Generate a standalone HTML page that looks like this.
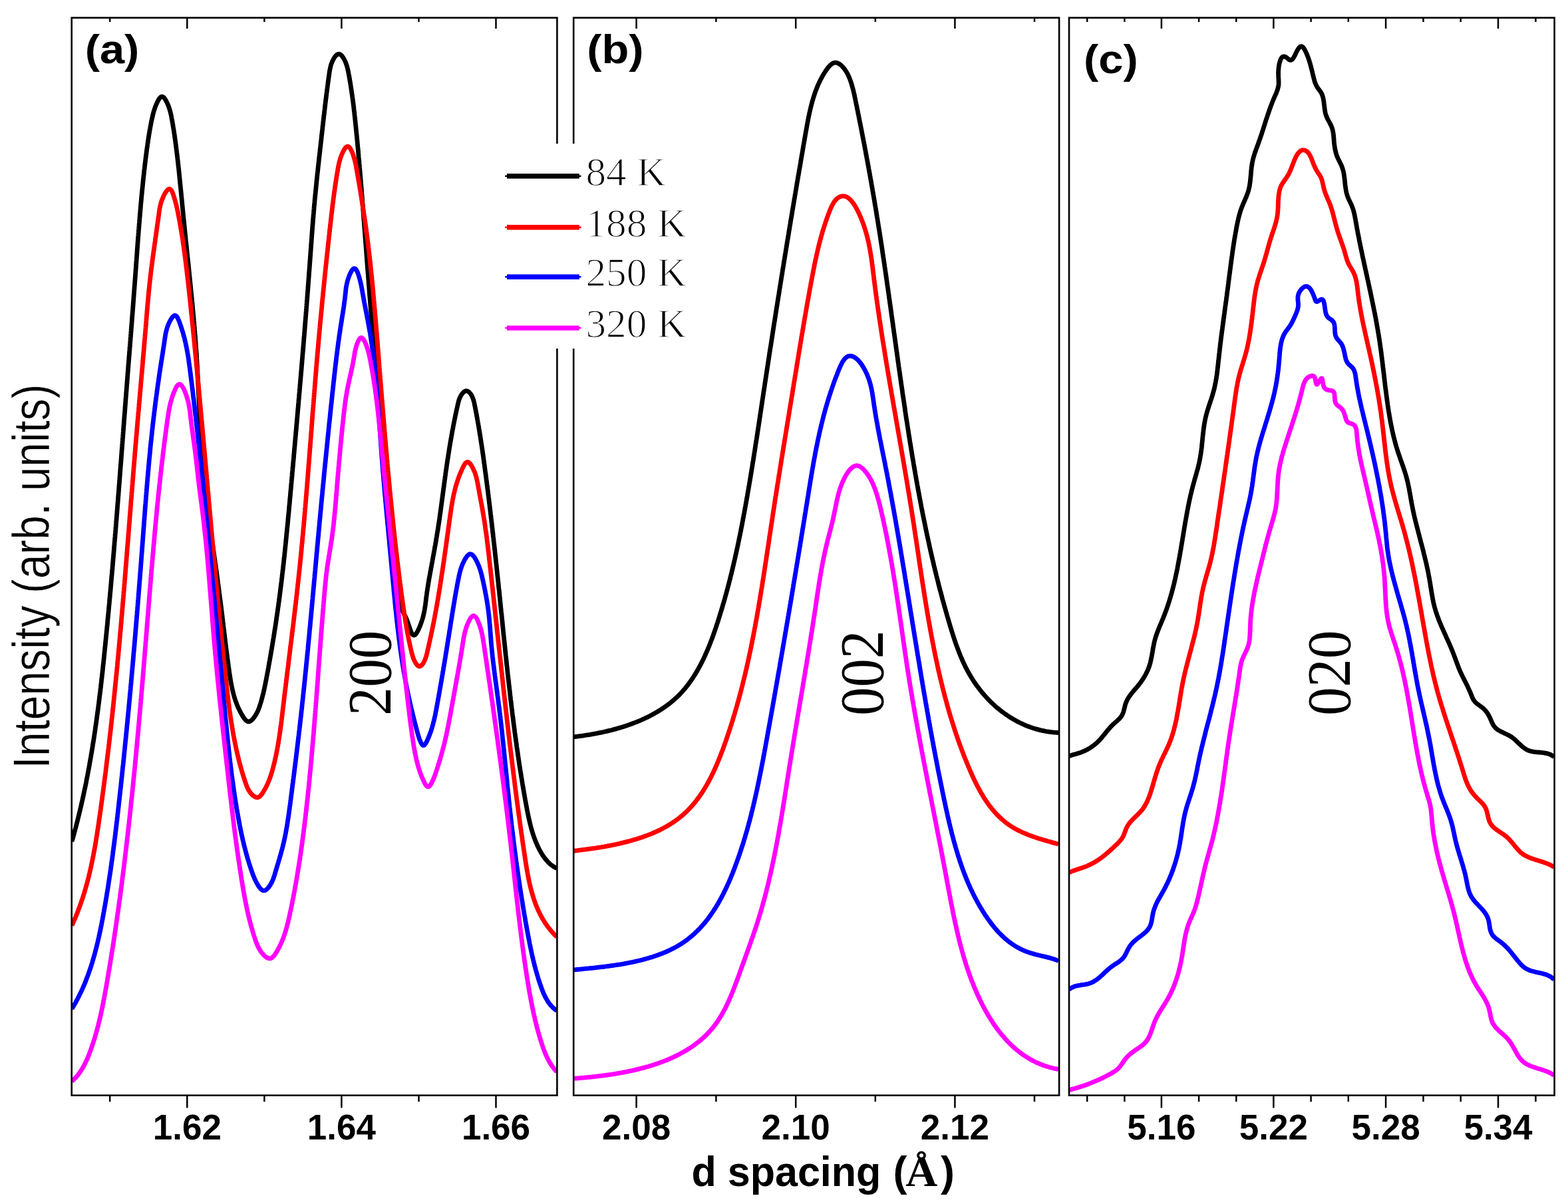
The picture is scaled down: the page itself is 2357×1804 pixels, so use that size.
<!DOCTYPE html>
<html><head><meta charset="utf-8"><title>d spacing</title>
<style>html,body{margin:0;padding:0;background:#fff;overflow:hidden}svg{display:block}</style>
</head><body>
<svg xmlns="http://www.w3.org/2000/svg" width="2357" height="1804" viewBox="0 0 2357 1804">
<rect x="0" y="0" width="2357" height="1804" fill="#ffffff"/>
<defs>
<clipPath id="clipa"><rect x="107.7" y="26.7" width="729.7" height="1620.0"/></clipPath>
<clipPath id="clipb"><rect x="862.2" y="26.7" width="729.9" height="1620.0"/></clipPath>
<clipPath id="clipc"><rect x="1607.0" y="26.7" width="729.6" height="1620.0"/></clipPath>
</defs>
<g clip-path="url(#clipa)" fill="none" stroke-width="6.8" stroke-linejoin="round" stroke-linecap="butt">
<path stroke="#000000" d="M108.0,1265.0 L108.6,1263.1 L109.1,1261.2 L109.7,1259.2 L110.2,1257.3 L110.7,1255.4 L111.3,1253.4 L111.8,1251.5 L112.3,1249.6 L112.8,1247.6 L113.4,1245.7 L113.9,1243.8 L114.4,1241.8 L114.9,1239.9 L115.4,1238.0 L115.9,1236.0 L116.4,1234.1 L116.9,1232.2 L117.3,1230.2 L117.8,1228.3 L118.3,1226.3 L118.8,1224.4 L119.2,1222.5 L119.7,1220.5 L120.2,1218.6 L120.6,1216.6 L121.1,1214.7 L121.6,1212.7 L122.0,1210.8 L122.4,1208.8 L122.9,1206.9 L123.3,1204.9 L123.8,1203.0 L124.2,1201.0 L124.6,1199.1 L125.1,1197.1 L125.5,1195.2 L125.9,1193.2 L126.3,1191.3 L126.7,1189.3 L127.1,1187.4 L127.6,1185.4 L128.0,1183.5 L128.4,1181.5 L128.8,1179.5 L129.2,1177.6 L129.6,1175.6 L129.9,1173.7 L130.3,1171.7 L130.7,1169.8 L131.1,1167.8 L131.5,1165.8 L131.8,1163.9 L132.2,1161.9 L132.6,1159.9 L133.0,1158.0 L133.3,1156.0 L133.7,1154.1 L134.0,1152.1 L134.4,1150.1 L134.7,1148.2 L135.1,1146.2 L135.4,1144.2 L135.8,1142.3 L136.1,1140.3 L136.5,1138.3 L136.8,1136.4 L137.1,1134.4 L137.5,1132.4 L137.8,1130.4 L138.1,1128.5 L138.5,1126.5 L138.8,1124.5 L139.1,1122.6 L139.4,1120.6 L139.7,1118.6 L140.0,1116.6 L140.4,1114.7 L140.7,1112.7 L141.0,1110.7 L141.3,1108.7 L141.6,1106.8 L141.9,1104.8 L142.2,1102.8 L142.5,1100.8 L142.8,1098.9 L143.1,1096.9 L143.3,1094.9 L143.6,1092.9 L143.9,1090.9 L144.2,1089.0 L144.5,1087.0 L144.8,1085.0 L145.0,1083.0 L145.3,1081.0 L145.6,1079.1 L145.8,1077.1 L146.1,1075.1 L146.4,1073.1 L146.6,1071.1 L146.9,1069.2 L147.2,1067.2 L147.4,1065.2 L147.7,1063.2 L147.9,1061.2 L148.2,1059.2 L148.5,1057.3 L148.7,1055.3 L149.0,1053.3 L149.2,1051.3 L149.4,1049.3 L149.7,1047.3 L149.9,1045.3 L150.2,1043.4 L150.4,1041.4 L150.7,1039.4 L150.9,1037.4 L151.1,1035.4 L151.4,1033.4 L151.6,1031.4 L151.8,1029.4 L152.1,1027.5 L152.3,1025.5 L152.5,1023.5 L152.7,1021.5 L153.0,1019.5 L153.2,1017.5 L153.4,1015.5 L153.6,1013.5 L153.9,1011.6 L154.1,1009.6 L154.3,1007.6 L154.5,1005.6 L154.7,1003.6 L154.9,1001.6 L155.1,999.6 L155.4,997.6 L155.6,995.6 L155.8,993.6 L156.0,991.7 L156.2,989.7 L156.4,987.7 L156.6,985.7 L156.8,983.7 L157.0,981.7 L157.2,979.7 L157.4,977.7 L157.6,975.7 L157.8,973.7 L158.0,971.8 L158.2,969.8 L158.4,967.8 L158.6,965.8 L158.8,963.8 L159.0,961.8 L159.2,959.8 L159.4,957.8 L159.6,955.8 L159.8,953.8 L160.0,951.8 L160.2,949.8 L160.4,947.9 L160.6,945.9 L160.8,943.9 L161.0,941.9 L161.2,939.9 L161.4,937.9 L161.6,935.9 L161.8,933.9 L161.9,931.9 L162.1,929.9 L162.3,927.9 L162.5,926.0 L162.7,924.0 L162.9,922.0 L163.1,920.0 L163.3,918.0 L163.4,916.0 L163.6,914.0 L163.8,912.0 L164.0,910.0 L164.2,908.0 L164.4,906.0 L164.5,904.0 L164.7,902.1 L164.9,900.1 L165.1,898.1 L165.3,896.1 L165.4,894.1 L165.6,892.1 L165.8,890.1 L166.0,888.1 L166.2,886.1 L166.3,884.1 L166.5,882.1 L166.7,880.2 L166.9,878.2 L167.0,876.2 L167.2,874.2 L167.4,872.2 L167.6,870.2 L167.7,868.2 L167.9,866.2 L168.1,864.2 L168.3,862.2 L168.4,860.2 L168.6,858.2 L168.8,856.3 L169.0,854.3 L169.1,852.3 L169.3,850.3 L169.5,848.3 L169.6,846.3 L169.8,844.3 L170.0,842.3 L170.1,840.3 L170.3,838.3 L170.5,836.3 L170.6,834.3 L170.8,832.3 L171.0,830.4 L171.2,828.4 L171.3,826.4 L171.5,824.4 L171.6,822.4 L171.8,820.4 L172.0,818.4 L172.1,816.4 L172.3,814.4 L172.5,812.4 L172.6,810.4 L172.8,808.4 L173.0,806.5 L173.1,804.5 L173.3,802.5 L173.5,800.5 L173.6,798.5 L173.8,796.5 L173.9,794.5 L174.1,792.5 L174.3,790.5 L174.4,788.5 L174.6,786.5 L174.7,784.5 L174.9,782.5 L175.1,780.6 L175.2,778.6 L175.4,776.6 L175.5,774.6 L175.7,772.6 L175.9,770.6 L176.0,768.6 L176.2,766.6 L176.3,764.6 L176.5,762.6 L176.6,760.6 L176.8,758.6 L177.0,756.6 L177.1,754.7 L177.3,752.7 L177.4,750.7 L177.6,748.7 L177.7,746.7 L177.9,744.7 L178.1,742.7 L178.2,740.7 L178.4,738.7 L178.5,736.7 L178.7,734.7 L178.8,732.7 L179.0,730.7 L179.1,728.8 L179.3,726.8 L179.5,724.8 L179.6,722.8 L179.8,720.8 L179.9,718.8 L180.1,716.8 L180.2,714.8 L180.4,712.8 L180.5,710.8 L180.7,708.8 L180.8,706.8 L181.0,704.8 L181.1,702.8 L181.3,700.9 L181.4,698.9 L181.6,696.9 L181.8,694.9 L181.9,692.9 L182.1,690.9 L182.2,688.9 L182.4,686.9 L182.5,684.9 L182.7,682.9 L182.8,680.9 L183.0,678.9 L183.1,676.9 L183.3,674.9 L183.4,673.0 L183.6,671.0 L183.7,669.0 L183.9,667.0 L184.0,665.0 L184.2,663.0 L184.3,661.0 L184.5,659.0 L184.7,657.0 L184.8,655.0 L185.0,653.0 L185.1,651.0 L185.3,649.0 L185.4,647.0 L185.6,645.1 L185.7,643.1 L185.9,641.1 L186.0,639.1 L186.2,637.1 L186.3,635.1 L186.5,633.1 L186.6,631.1 L186.8,629.1 L186.9,627.1 L187.1,625.1 L187.2,623.1 L187.4,621.1 L187.6,619.1 L187.7,617.2 L187.9,615.2 L188.0,613.2 L188.2,611.2 L188.3,609.2 L188.5,607.2 L188.6,605.2 L188.8,603.2 L188.9,601.2 L189.1,599.2 L189.2,597.2 L189.4,595.2 L189.6,593.2 L189.7,591.2 L189.9,589.2 L190.0,587.3 L190.2,585.3 L190.3,583.3 L190.5,581.3 L190.6,579.3 L190.8,577.3 L191.0,575.3 L191.1,573.3 L191.3,571.3 L191.4,569.3 L191.6,567.3 L191.7,565.3 L191.9,563.3 L192.0,561.3 L192.2,559.3 L192.4,557.4 L192.5,555.4 L192.7,553.4 L192.8,551.4 L193.0,549.4 L193.1,547.4 L193.3,545.4 L193.5,543.4 L193.6,541.4 L193.8,539.4 L193.9,537.4 L194.1,535.4 L194.3,533.4 L194.4,531.4 L194.6,529.4 L194.7,527.5 L194.9,525.5 L195.0,523.5 L195.2,521.5 L195.4,519.5 L195.5,517.5 L195.7,515.5 L195.8,513.5 L196.0,511.5 L196.1,509.5 L196.3,507.5 L196.5,505.5 L196.6,503.5 L196.8,501.5 L196.9,499.5 L197.1,497.5 L197.2,495.6 L197.4,493.6 L197.5,491.6 L197.7,489.6 L197.9,487.6 L198.0,485.6 L198.2,483.6 L198.3,481.6 L198.5,479.6 L198.6,477.6 L198.8,475.6 L198.9,473.6 L199.1,471.6 L199.3,469.6 L199.4,467.6 L199.6,465.6 L199.7,463.7 L199.9,461.7 L200.0,459.7 L200.2,457.7 L200.3,455.7 L200.5,453.7 L200.6,451.7 L200.8,449.7 L200.9,447.7 L201.1,445.7 L201.2,443.7 L201.4,441.7 L201.5,439.7 L201.7,437.7 L201.8,435.7 L202.0,433.7 L202.1,431.7 L202.3,429.7 L202.4,427.8 L202.6,425.8 L202.7,423.8 L202.9,421.8 L203.0,419.8 L203.2,417.8 L203.3,415.8 L203.5,413.8 L203.6,411.8 L203.8,409.8 L203.9,407.8 L204.1,405.8 L204.2,403.8 L204.4,401.8 L204.5,399.8 L204.6,397.8 L204.8,395.8 L204.9,393.8 L205.1,391.8 L205.2,389.9 L205.4,387.9 L205.5,385.9 L205.7,383.9 L205.8,381.9 L206.0,379.9 L206.1,377.9 L206.2,375.9 L206.4,373.9 L206.5,371.9 L206.7,369.9 L206.8,367.9 L207.0,365.9 L207.1,363.9 L207.3,361.9 L207.4,359.9 L207.6,357.9 L207.7,356.0 L207.9,354.0 L208.0,352.0 L208.2,350.0 L208.3,348.0 L208.5,346.0 L208.7,344.0 L208.8,342.0 L209.0,340.0 L209.1,338.0 L209.3,336.0 L209.5,334.0 L209.6,332.0 L209.8,330.0 L209.9,328.0 L210.1,326.1 L210.3,324.1 L210.4,322.1 L210.6,320.1 L210.8,318.1 L210.9,316.1 L211.1,314.1 L211.3,312.1 L211.5,310.1 L211.6,308.1 L211.8,306.1 L212.0,304.1 L212.2,302.2 L212.4,300.2 L212.5,298.2 L212.7,296.2 L212.9,294.2 L213.1,292.2 L213.3,290.2 L213.5,288.2 L213.7,286.2 L213.9,284.2 L214.1,282.3 L214.3,280.3 L214.5,278.3 L214.7,276.3 L214.9,274.3 L215.1,272.3 L215.3,270.3 L215.5,268.3 L215.7,266.3 L215.9,264.4 L216.2,262.4 L216.4,260.4 L216.6,258.4 L216.8,256.4 L217.0,254.4 L217.3,252.4 L217.5,250.5 L217.7,248.5 L218.0,246.5 L218.2,244.5 L218.5,242.5 L218.7,240.5 L218.9,238.5 L219.2,236.6 L219.4,234.6 L219.7,232.6 L220.0,230.6 L220.2,228.6 L220.5,226.6 L220.7,224.7 L221.0,222.7 L221.3,220.7 L221.6,218.7 L221.8,216.7 L222.1,214.8 L222.4,212.8 L222.7,210.8 L223.0,208.8 L223.3,206.9 L223.6,204.9 L223.9,202.9 L224.2,200.9 L224.6,199.0 L224.9,197.0 L225.2,195.1 L225.6,193.1 L225.9,191.1 L226.3,189.2 L226.7,187.2 L227.1,185.3 L227.4,183.3 L227.8,181.4 L228.3,179.4 L228.7,177.5 L229.1,175.6 L229.6,173.6 L230.0,171.7 L230.5,169.7 L231.1,167.8 L231.7,165.8 L232.3,163.8 L233.0,161.8 L233.8,159.8 L234.6,157.7 L235.5,155.7 L236.4,153.6 L237.5,151.5 L238.6,149.5 L239.8,147.8 L241.0,146.4 L242.2,145.5 L243.5,145.2 L244.8,145.5 L246.1,146.4 L247.3,147.8 L248.5,149.6 L249.7,151.5 L250.7,153.6 L251.7,155.7 L252.6,157.8 L253.4,159.8 L254.1,161.9 L254.8,163.9 L255.4,165.9 L255.9,167.9 L256.4,169.8 L256.9,171.8 L257.3,173.7 L257.7,175.7 L258.0,177.6 L258.4,179.6 L258.8,181.5 L259.1,183.5 L259.5,185.5 L259.8,187.4 L260.1,189.4 L260.4,191.3 L260.8,193.3 L261.1,195.3 L261.4,197.2 L261.7,199.2 L262.0,201.2 L262.3,203.1 L262.6,205.1 L262.8,207.1 L263.1,209.1 L263.4,211.0 L263.7,213.0 L263.9,215.0 L264.2,217.0 L264.5,219.0 L264.7,220.9 L265.0,222.9 L265.2,224.9 L265.5,226.9 L265.7,228.9 L266.0,230.9 L266.2,232.8 L266.4,234.8 L266.7,236.8 L266.9,238.8 L267.1,240.8 L267.4,242.8 L267.6,244.8 L267.8,246.7 L268.0,248.7 L268.2,250.7 L268.5,252.7 L268.7,254.7 L268.9,256.7 L269.1,258.7 L269.3,260.7 L269.5,262.6 L269.7,264.6 L269.9,266.6 L270.1,268.6 L270.3,270.6 L270.5,272.6 L270.7,274.6 L270.9,276.6 L271.1,278.6 L271.3,280.6 L271.5,282.5 L271.7,284.5 L271.9,286.5 L272.1,288.5 L272.3,290.5 L272.5,292.5 L272.7,294.5 L272.9,296.5 L273.1,298.5 L273.3,300.5 L273.5,302.5 L273.7,304.4 L273.8,306.4 L274.0,308.4 L274.2,310.4 L274.4,312.4 L274.6,314.4 L274.8,316.4 L275.0,318.4 L275.2,320.4 L275.4,322.4 L275.6,324.4 L275.8,326.3 L276.0,328.3 L276.2,330.3 L276.4,332.3 L276.6,334.3 L276.8,336.3 L277.0,338.3 L277.2,340.3 L277.4,342.3 L277.6,344.3 L277.8,346.2 L278.0,348.2 L278.2,350.2 L278.4,352.2 L278.6,354.2 L278.8,356.2 L279.0,358.2 L279.2,360.2 L279.4,362.2 L279.7,364.1 L279.9,366.1 L280.1,368.1 L280.3,370.1 L280.5,372.1 L280.7,374.1 L280.9,376.1 L281.1,378.1 L281.3,380.1 L281.5,382.0 L281.7,384.0 L281.9,386.0 L282.1,388.0 L282.3,390.0 L282.6,392.0 L282.8,394.0 L283.0,396.0 L283.2,398.0 L283.4,399.9 L283.6,401.9 L283.8,403.9 L284.0,405.9 L284.2,407.9 L284.4,409.9 L284.6,411.9 L284.8,413.9 L285.0,415.9 L285.2,417.8 L285.4,419.8 L285.6,421.8 L285.8,423.8 L286.0,425.8 L286.2,427.8 L286.4,429.8 L286.6,431.8 L286.8,433.8 L287.0,435.7 L287.2,437.7 L287.4,439.7 L287.6,441.7 L287.8,443.7 L288.0,445.7 L288.2,447.7 L288.4,449.7 L288.6,451.7 L288.8,453.7 L289.0,455.6 L289.2,457.6 L289.3,459.6 L289.5,461.6 L289.7,463.6 L289.9,465.6 L290.1,467.6 L290.3,469.6 L290.5,471.6 L290.6,473.6 L290.8,475.6 L291.0,477.5 L291.2,479.5 L291.3,481.5 L291.5,483.5 L291.7,485.5 L291.9,487.5 L292.0,489.5 L292.2,491.5 L292.4,493.5 L292.5,495.5 L292.7,497.5 L292.9,499.5 L293.0,501.5 L293.2,503.4 L293.3,505.4 L293.5,507.4 L293.6,509.4 L293.8,511.4 L293.9,513.4 L294.1,515.4 L294.2,517.4 L294.4,519.4 L294.5,521.4 L294.7,523.4 L294.8,525.4 L294.9,527.4 L295.1,529.4 L295.2,531.4 L295.4,533.4 L295.5,535.4 L295.6,537.4 L295.7,539.3 L295.9,541.3 L296.0,543.3 L296.1,545.3 L296.2,547.3 L296.3,549.3 L296.5,551.3 L296.6,553.3 L296.7,555.3 L296.8,557.3 L296.9,559.3 L297.0,561.3 L297.1,563.3 L297.2,565.3 L297.3,567.3 L297.4,569.3 L297.5,571.3 L297.6,573.3 L297.7,575.3 L297.8,577.3 L297.9,579.3 L298.0,581.3 L298.1,583.3 L298.2,585.3 L298.3,587.3 L298.4,589.3 L298.5,591.3 L298.6,593.3 L298.7,595.3 L298.8,597.3 L298.9,599.3 L299.0,601.3 L299.1,603.3 L299.2,605.3 L299.3,607.3 L299.4,609.3 L299.5,611.3 L299.6,613.3 L299.7,615.3 L299.8,617.3 L299.9,619.3 L300.0,621.3 L300.1,623.3 L300.2,625.3 L300.3,627.3 L300.4,629.3 L300.5,631.3 L300.6,633.3 L300.7,635.3 L300.8,637.3 L300.9,639.3 L301.0,641.3 L301.1,643.3 L301.2,645.3 L301.3,647.3 L301.4,649.3 L301.5,651.3 L301.6,653.3 L301.8,655.3 L301.9,657.3 L302.0,659.2 L302.1,661.2 L302.2,663.2 L302.4,665.2 L302.5,667.2 L302.6,669.2 L302.7,671.2 L302.9,673.2 L303.0,675.2 L303.1,677.2 L303.3,679.2 L303.4,681.2 L303.6,683.2 L303.7,685.2 L303.8,687.2 L304.0,689.2 L304.1,691.2 L304.3,693.2 L304.5,695.1 L304.6,697.1 L304.8,699.1 L304.9,701.1 L305.1,703.1 L305.3,705.1 L305.5,707.1 L305.6,709.1 L305.8,711.1 L306.0,713.1 L306.2,715.1 L306.4,717.0 L306.6,719.0 L306.8,721.0 L307.0,723.0 L307.2,725.0 L307.4,727.0 L307.6,729.0 L307.8,731.0 L308.0,732.9 L308.3,734.9 L308.5,736.9 L308.7,738.9 L308.9,740.9 L309.2,742.9 L309.4,744.8 L309.7,746.8 L309.9,748.8 L310.1,750.8 L310.4,752.8 L310.6,754.8 L310.9,756.7 L311.2,758.7 L311.4,760.7 L311.7,762.7 L311.9,764.7 L312.2,766.6 L312.5,768.6 L312.7,770.6 L313.0,772.6 L313.3,774.6 L313.5,776.5 L313.8,778.5 L314.1,780.5 L314.4,782.5 L314.6,784.5 L314.9,786.4 L315.2,788.4 L315.5,790.4 L315.8,792.4 L316.1,794.3 L316.3,796.3 L316.6,798.3 L316.9,800.3 L317.2,802.3 L317.5,804.2 L317.8,806.2 L318.0,808.2 L318.3,810.2 L318.6,812.1 L318.9,814.1 L319.2,816.1 L319.5,818.1 L319.8,820.0 L320.0,822.0 L320.3,824.0 L320.6,826.0 L320.9,827.9 L321.2,829.9 L321.5,831.9 L321.8,833.9 L322.0,835.9 L322.3,837.8 L322.6,839.8 L322.9,841.8 L323.2,843.8 L323.4,845.7 L323.7,847.7 L324.0,849.7 L324.3,851.7 L324.5,853.6 L324.8,855.6 L325.1,857.6 L325.4,859.6 L325.6,861.6 L325.9,863.5 L326.2,865.5 L326.5,867.5 L326.7,869.5 L327.0,871.4 L327.3,873.4 L327.5,875.4 L327.8,877.4 L328.1,879.4 L328.3,881.3 L328.6,883.3 L328.9,885.3 L329.1,887.3 L329.4,889.3 L329.6,891.2 L329.9,893.2 L330.2,895.2 L330.4,897.2 L330.7,899.2 L330.9,901.2 L331.2,903.1 L331.4,905.1 L331.7,907.1 L331.9,909.1 L332.2,911.1 L332.4,913.1 L332.7,915.1 L332.9,917.0 L333.2,919.0 L333.4,921.0 L333.7,923.0 L333.9,925.0 L334.2,927.0 L334.4,929.0 L334.6,931.0 L334.9,932.9 L335.1,934.9 L335.4,936.9 L335.6,938.9 L335.8,940.9 L336.1,942.9 L336.3,944.9 L336.6,946.9 L336.8,948.9 L337.0,950.9 L337.3,952.8 L337.5,954.8 L337.8,956.8 L338.0,958.8 L338.2,960.8 L338.5,962.8 L338.7,964.8 L339.0,966.8 L339.2,968.7 L339.5,970.7 L339.7,972.7 L340.0,974.7 L340.2,976.7 L340.5,978.7 L340.7,980.6 L341.0,982.6 L341.2,984.6 L341.5,986.6 L341.7,988.6 L342.0,990.5 L342.3,992.5 L342.5,994.5 L342.8,996.5 L343.1,998.4 L343.3,1000.4 L343.6,1002.4 L343.9,1004.4 L344.1,1006.3 L344.4,1008.3 L344.7,1010.3 L345.0,1012.2 L345.3,1014.2 L345.6,1016.2 L345.9,1018.1 L346.2,1020.1 L346.5,1022.0 L346.8,1024.0 L347.2,1025.9 L347.5,1027.9 L347.9,1029.8 L348.3,1031.8 L348.7,1033.7 L349.1,1035.7 L349.5,1037.6 L350.0,1039.6 L350.5,1041.5 L351.0,1043.4 L351.5,1045.4 L352.1,1047.3 L352.6,1049.2 L353.3,1051.2 L353.9,1053.1 L354.6,1055.0 L355.3,1056.9 L356.0,1058.8 L356.8,1060.8 L357.6,1062.7 L358.5,1064.6 L359.4,1066.5 L360.3,1068.4 L361.3,1070.3 L362.3,1072.2 L363.4,1074.1 L364.5,1076.0 L365.7,1077.8 L366.9,1079.7 L368.2,1081.3 L369.5,1082.8 L370.9,1083.9 L372.3,1084.6 L373.7,1084.9 L375.2,1084.6 L376.8,1083.8 L378.3,1082.6 L379.8,1081.1 L381.2,1079.4 L382.6,1077.6 L383.9,1075.7 L385.0,1073.8 L386.0,1071.9 L387.0,1070.0 L387.9,1068.1 L388.6,1066.2 L389.4,1064.3 L390.0,1062.4 L390.7,1060.5 L391.3,1058.6 L391.9,1056.7 L392.4,1054.8 L393.0,1052.9 L393.5,1051.0 L394.0,1049.1 L394.5,1047.1 L395.0,1045.2 L395.5,1043.3 L396.0,1041.3 L396.4,1039.4 L396.9,1037.4 L397.3,1035.5 L397.7,1033.5 L398.1,1031.6 L398.5,1029.6 L398.9,1027.7 L399.3,1025.7 L399.7,1023.8 L400.1,1021.8 L400.5,1019.9 L400.8,1017.9 L401.2,1015.9 L401.6,1014.0 L401.9,1012.0 L402.3,1010.0 L402.7,1008.1 L403.0,1006.1 L403.4,1004.1 L403.7,1002.2 L404.1,1000.2 L404.4,998.2 L404.8,996.3 L405.1,994.3 L405.5,992.3 L405.8,990.4 L406.2,988.4 L406.5,986.4 L406.9,984.5 L407.2,982.5 L407.5,980.5 L407.9,978.5 L408.2,976.6 L408.6,974.6 L408.9,972.6 L409.2,970.7 L409.5,968.7 L409.9,966.7 L410.2,964.7 L410.5,962.8 L410.8,960.8 L411.2,958.8 L411.5,956.8 L411.8,954.9 L412.1,952.9 L412.4,950.9 L412.7,948.9 L413.0,947.0 L413.4,945.0 L413.7,943.0 L414.0,941.0 L414.3,939.1 L414.6,937.1 L414.9,935.1 L415.2,933.1 L415.5,931.1 L415.7,929.2 L416.0,927.2 L416.3,925.2 L416.6,923.2 L416.9,921.2 L417.2,919.3 L417.5,917.3 L417.7,915.3 L418.0,913.3 L418.3,911.3 L418.6,909.4 L418.8,907.4 L419.1,905.4 L419.4,903.4 L419.6,901.4 L419.9,899.5 L420.2,897.5 L420.4,895.5 L420.7,893.5 L420.9,891.5 L421.2,889.5 L421.4,887.6 L421.7,885.6 L421.9,883.6 L422.2,881.6 L422.4,879.6 L422.7,877.6 L422.9,875.7 L423.2,873.7 L423.4,871.7 L423.6,869.7 L423.9,867.7 L424.1,865.7 L424.3,863.7 L424.6,861.8 L424.8,859.8 L425.0,857.8 L425.3,855.8 L425.5,853.8 L425.7,851.8 L425.9,849.8 L426.2,847.9 L426.4,845.9 L426.6,843.9 L426.8,841.9 L427.0,839.9 L427.2,837.9 L427.5,835.9 L427.7,833.9 L427.9,831.9 L428.1,830.0 L428.3,828.0 L428.5,826.0 L428.7,824.0 L428.9,822.0 L429.1,820.0 L429.3,818.0 L429.5,816.0 L429.7,814.1 L429.9,812.1 L430.1,810.1 L430.3,808.1 L430.5,806.1 L430.7,804.1 L430.9,802.1 L431.1,800.1 L431.3,798.1 L431.5,796.1 L431.7,794.2 L431.9,792.2 L432.1,790.2 L432.3,788.2 L432.5,786.2 L432.7,784.2 L432.9,782.2 L433.0,780.2 L433.2,778.2 L433.4,776.2 L433.6,774.2 L433.8,772.3 L434.0,770.3 L434.2,768.3 L434.4,766.3 L434.5,764.3 L434.7,762.3 L434.9,760.3 L435.1,758.3 L435.3,756.3 L435.5,754.3 L435.6,752.3 L435.8,750.4 L436.0,748.4 L436.2,746.4 L436.4,744.4 L436.5,742.4 L436.7,740.4 L436.9,738.4 L437.1,736.4 L437.3,734.4 L437.4,732.4 L437.6,730.4 L437.8,728.4 L438.0,726.5 L438.2,724.5 L438.3,722.5 L438.5,720.5 L438.7,718.5 L438.9,716.5 L439.1,714.5 L439.2,712.5 L439.4,710.5 L439.6,708.5 L439.8,706.5 L439.9,704.5 L440.1,702.6 L440.3,700.6 L440.5,698.6 L440.7,696.6 L440.8,694.6 L441.0,692.6 L441.2,690.6 L441.4,688.6 L441.6,686.6 L441.7,684.6 L441.9,682.6 L442.1,680.6 L442.3,678.7 L442.4,676.7 L442.6,674.7 L442.8,672.7 L443.0,670.7 L443.2,668.7 L443.3,666.7 L443.5,664.7 L443.7,662.7 L443.9,660.7 L444.0,658.7 L444.2,656.7 L444.4,654.8 L444.6,652.8 L444.7,650.8 L444.9,648.8 L445.1,646.8 L445.3,644.8 L445.5,642.8 L445.6,640.8 L445.8,638.8 L446.0,636.8 L446.2,634.8 L446.3,632.8 L446.5,630.8 L446.7,628.9 L446.9,626.9 L447.0,624.9 L447.2,622.9 L447.4,620.9 L447.6,618.9 L447.7,616.9 L447.9,614.9 L448.1,612.9 L448.3,610.9 L448.4,608.9 L448.6,606.9 L448.8,605.0 L448.9,603.0 L449.1,601.0 L449.3,599.0 L449.5,597.0 L449.6,595.0 L449.8,593.0 L450.0,591.0 L450.2,589.0 L450.3,587.0 L450.5,585.0 L450.7,583.0 L450.8,581.0 L451.0,579.1 L451.2,577.1 L451.4,575.1 L451.5,573.1 L451.7,571.1 L451.9,569.1 L452.0,567.1 L452.2,565.1 L452.4,563.1 L452.5,561.1 L452.7,559.1 L452.9,557.1 L453.1,555.2 L453.2,553.2 L453.4,551.2 L453.6,549.2 L453.7,547.2 L453.9,545.2 L454.1,543.2 L454.2,541.2 L454.4,539.2 L454.6,537.2 L454.7,535.2 L454.9,533.2 L455.1,531.2 L455.2,529.2 L455.4,527.3 L455.6,525.3 L455.7,523.3 L455.9,521.3 L456.1,519.3 L456.2,517.3 L456.4,515.3 L456.6,513.3 L456.7,511.3 L456.9,509.3 L457.0,507.3 L457.2,505.3 L457.4,503.3 L457.5,501.4 L457.7,499.4 L457.9,497.4 L458.0,495.4 L458.2,493.4 L458.3,491.4 L458.5,489.4 L458.7,487.4 L458.8,485.4 L459.0,483.4 L459.1,481.4 L459.3,479.4 L459.5,477.4 L459.6,475.4 L459.8,473.5 L459.9,471.5 L460.1,469.5 L460.3,467.5 L460.4,465.5 L460.6,463.5 L460.7,461.5 L460.9,459.5 L461.0,457.5 L461.2,455.5 L461.3,453.5 L461.5,451.5 L461.7,449.5 L461.8,447.5 L462.0,445.6 L462.1,443.6 L462.3,441.6 L462.4,439.6 L462.6,437.6 L462.7,435.6 L462.9,433.6 L463.0,431.6 L463.2,429.6 L463.3,427.6 L463.5,425.6 L463.6,423.6 L463.8,421.6 L463.9,419.6 L464.1,417.7 L464.2,415.7 L464.4,413.7 L464.5,411.7 L464.7,409.7 L464.8,407.7 L465.0,405.7 L465.1,403.7 L465.3,401.7 L465.4,399.7 L465.6,397.7 L465.7,395.7 L465.9,393.7 L466.0,391.7 L466.2,389.7 L466.3,387.7 L466.4,385.8 L466.6,383.8 L466.7,381.8 L466.9,379.8 L467.0,377.8 L467.2,375.8 L467.3,373.8 L467.5,371.8 L467.6,369.8 L467.7,367.8 L467.9,365.8 L468.0,363.8 L468.2,361.8 L468.3,359.8 L468.5,357.8 L468.6,355.9 L468.8,353.9 L468.9,351.9 L469.1,349.9 L469.2,347.9 L469.4,345.9 L469.5,343.9 L469.7,341.9 L469.8,339.9 L470.0,337.9 L470.2,335.9 L470.3,333.9 L470.5,331.9 L470.6,329.9 L470.8,327.9 L471.0,325.9 L471.1,324.0 L471.3,322.0 L471.5,320.0 L471.6,318.0 L471.8,316.0 L472.0,314.0 L472.1,312.0 L472.3,310.0 L472.5,308.0 L472.7,306.0 L472.9,304.0 L473.0,302.0 L473.2,300.0 L473.4,298.0 L473.6,296.1 L473.8,294.1 L474.0,292.1 L474.2,290.1 L474.4,288.1 L474.6,286.1 L474.8,284.1 L475.0,282.1 L475.2,280.1 L475.4,278.1 L475.6,276.1 L475.8,274.1 L476.0,272.1 L476.2,270.2 L476.4,268.2 L476.6,266.2 L476.8,264.2 L477.0,262.2 L477.2,260.2 L477.5,258.2 L477.7,256.2 L477.9,254.2 L478.1,252.2 L478.3,250.2 L478.5,248.3 L478.8,246.3 L479.0,244.3 L479.2,242.3 L479.4,240.3 L479.6,238.3 L479.9,236.3 L480.1,234.3 L480.3,232.4 L480.5,230.4 L480.8,228.4 L481.0,226.4 L481.2,224.4 L481.4,222.4 L481.7,220.4 L481.9,218.4 L482.1,216.5 L482.3,214.5 L482.6,212.5 L482.8,210.5 L483.0,208.5 L483.2,206.5 L483.4,204.6 L483.7,202.6 L483.9,200.6 L484.1,198.6 L484.3,196.6 L484.6,194.7 L484.8,192.7 L485.0,190.7 L485.2,188.7 L485.5,186.7 L485.7,184.7 L485.9,182.8 L486.1,180.8 L486.4,178.8 L486.6,176.8 L486.8,174.8 L487.0,172.9 L487.3,170.9 L487.5,168.9 L487.7,166.9 L488.0,164.9 L488.2,163.0 L488.4,161.0 L488.7,159.0 L488.9,157.0 L489.1,155.0 L489.4,153.1 L489.6,151.1 L489.9,149.1 L490.1,147.1 L490.4,145.1 L490.6,143.1 L490.8,141.2 L491.1,139.2 L491.4,137.2 L491.6,135.2 L491.9,133.2 L492.1,131.2 L492.4,129.2 L492.7,127.2 L492.9,125.3 L493.2,123.3 L493.5,121.3 L493.7,119.3 L494.0,117.3 L494.3,115.3 L494.6,113.3 L494.9,111.3 L495.1,109.3 L495.4,107.3 L495.8,105.3 L496.2,103.3 L496.6,101.3 L497.1,99.3 L497.6,97.4 L498.3,95.4 L499.1,93.4 L500.0,91.4 L501.0,89.4 L502.1,87.4 L503.4,85.5 L504.7,83.9 L506.1,82.5 L507.6,81.6 L509.1,81.2 L510.5,81.4 L512.0,82.2 L513.4,83.4 L514.7,85.0 L516.0,86.9 L517.1,88.8 L518.1,90.8 L519.1,92.8 L519.9,94.8 L520.6,96.7 L521.3,98.7 L521.9,100.7 L522.4,102.7 L522.8,104.6 L523.3,106.6 L523.7,108.6 L524.0,110.6 L524.4,112.5 L524.8,114.5 L525.1,116.5 L525.5,118.4 L525.8,120.4 L526.1,122.4 L526.5,124.4 L526.8,126.3 L527.1,128.3 L527.4,130.3 L527.7,132.3 L528.0,134.2 L528.3,136.2 L528.6,138.2 L528.9,140.2 L529.2,142.1 L529.5,144.1 L529.7,146.1 L530.0,148.1 L530.3,150.1 L530.5,152.1 L530.8,154.0 L531.0,156.0 L531.3,158.0 L531.5,160.0 L531.8,162.0 L532.0,163.9 L532.2,165.9 L532.5,167.9 L532.7,169.9 L532.9,171.9 L533.1,173.9 L533.4,175.9 L533.6,177.8 L533.8,179.8 L534.0,181.8 L534.2,183.8 L534.4,185.8 L534.6,187.8 L534.8,189.8 L535.0,191.8 L535.2,193.7 L535.4,195.7 L535.6,197.7 L535.8,199.7 L536.0,201.7 L536.2,203.7 L536.4,205.7 L536.6,207.7 L536.8,209.7 L537.0,211.6 L537.1,213.6 L537.3,215.6 L537.5,217.6 L537.7,219.6 L537.9,221.6 L538.1,223.6 L538.3,225.6 L538.4,227.6 L538.6,229.6 L538.8,231.5 L539.0,233.5 L539.1,235.5 L539.3,237.5 L539.5,239.5 L539.7,241.5 L539.9,243.5 L540.0,245.5 L540.2,247.5 L540.4,249.5 L540.5,251.5 L540.7,253.4 L540.9,255.4 L541.1,257.4 L541.2,259.4 L541.4,261.4 L541.6,263.4 L541.7,265.4 L541.9,267.4 L542.1,269.4 L542.2,271.4 L542.4,273.4 L542.6,275.4 L542.7,277.4 L542.9,279.3 L543.1,281.3 L543.2,283.3 L543.4,285.3 L543.5,287.3 L543.7,289.3 L543.9,291.3 L544.0,293.3 L544.2,295.3 L544.3,297.3 L544.5,299.3 L544.7,301.3 L544.8,303.3 L545.0,305.3 L545.1,307.3 L545.3,309.2 L545.5,311.2 L545.6,313.2 L545.8,315.2 L545.9,317.2 L546.1,319.2 L546.2,321.2 L546.4,323.2 L546.5,325.2 L546.7,327.2 L546.8,329.2 L547.0,331.2 L547.2,333.2 L547.3,335.2 L547.5,337.2 L547.6,339.2 L547.8,341.1 L547.9,343.1 L548.1,345.1 L548.2,347.1 L548.4,349.1 L548.5,351.1 L548.7,353.1 L548.8,355.1 L549.0,357.1 L549.1,359.1 L549.3,361.1 L549.4,363.1 L549.6,365.1 L549.8,367.1 L549.9,369.1 L550.1,371.1 L550.2,373.1 L550.4,375.0 L550.5,377.0 L550.7,379.0 L550.8,381.0 L551.0,383.0 L551.1,385.0 L551.3,387.0 L551.4,389.0 L551.6,391.0 L551.7,393.0 L551.9,395.0 L552.0,397.0 L552.2,399.0 L552.3,401.0 L552.5,403.0 L552.6,405.0 L552.8,407.0 L553.0,408.9 L553.1,410.9 L553.3,412.9 L553.4,414.9 L553.6,416.9 L553.7,418.9 L553.9,420.9 L554.0,422.9 L554.2,424.9 L554.3,426.9 L554.5,428.9 L554.7,430.9 L554.8,432.9 L555.0,434.9 L555.1,436.9 L555.3,438.8 L555.4,440.8 L555.6,442.8 L555.7,444.8 L555.9,446.8 L556.1,448.8 L556.2,450.8 L556.4,452.8 L556.5,454.8 L556.7,456.8 L556.8,458.8 L557.0,460.8 L557.2,462.8 L557.3,464.8 L557.5,466.8 L557.6,468.7 L557.8,470.7 L558.0,472.7 L558.1,474.7 L558.3,476.7 L558.4,478.7 L558.6,480.7 L558.8,482.7 L558.9,484.7 L559.1,486.7 L559.2,488.7 L559.4,490.7 L559.6,492.7 L559.7,494.7 L559.9,496.6 L560.0,498.6 L560.2,500.6 L560.4,502.6 L560.5,504.6 L560.7,506.6 L560.9,508.6 L561.0,510.6 L561.2,512.6 L561.3,514.6 L561.5,516.6 L561.7,518.6 L561.8,520.6 L562.0,522.5 L562.2,524.5 L562.3,526.5 L562.5,528.5 L562.7,530.5 L562.8,532.5 L563.0,534.5 L563.2,536.5 L563.3,538.5 L563.5,540.5 L563.7,542.5 L563.8,544.5 L564.0,546.5 L564.2,548.4 L564.3,550.4 L564.5,552.4 L564.7,554.4 L564.8,556.4 L565.0,558.4 L565.2,560.4 L565.3,562.4 L565.5,564.4 L565.7,566.4 L565.8,568.4 L566.0,570.4 L566.2,572.3 L566.3,574.3 L566.5,576.3 L566.7,578.3 L566.9,580.3 L567.0,582.3 L567.2,584.3 L567.4,586.3 L567.5,588.3 L567.7,590.3 L567.9,592.3 L568.1,594.3 L568.2,596.2 L568.4,598.2 L568.6,600.2 L568.8,602.2 L568.9,604.2 L569.1,606.2 L569.3,608.2 L569.5,610.2 L569.6,612.2 L569.8,614.2 L570.0,616.2 L570.2,618.1 L570.3,620.1 L570.5,622.1 L570.7,624.1 L570.9,626.1 L571.0,628.1 L571.2,630.1 L571.4,632.1 L571.6,634.1 L571.7,636.1 L571.9,638.1 L572.1,640.1 L572.3,642.0 L572.5,644.0 L572.6,646.0 L572.8,648.0 L573.0,650.0 L573.2,652.0 L573.4,654.0 L573.5,656.0 L573.7,658.0 L573.9,660.0 L574.1,662.0 L574.3,663.9 L574.4,665.9 L574.6,667.9 L574.8,669.9 L575.0,671.9 L575.2,673.9 L575.4,675.9 L575.5,677.9 L575.7,679.9 L575.9,681.9 L576.1,683.8 L576.3,685.8 L576.5,687.8 L576.7,689.8 L576.8,691.8 L577.0,693.8 L577.2,695.8 L577.4,697.8 L577.6,699.8 L577.8,701.8 L578.0,703.8 L578.2,705.7 L578.3,707.7 L578.5,709.7 L578.7,711.7 L578.9,713.7 L579.1,715.7 L579.3,717.7 L579.5,719.7 L579.7,721.7 L579.9,723.7 L580.0,725.6 L580.2,727.6 L580.4,729.6 L580.6,731.6 L580.8,733.6 L581.0,735.6 L581.2,737.6 L581.4,739.6 L581.6,741.6 L581.8,743.6 L582.0,745.5 L582.2,747.5 L582.4,749.5 L582.6,751.5 L582.8,753.5 L583.0,755.5 L583.2,757.5 L583.3,759.5 L583.5,761.5 L583.7,763.5 L583.9,765.4 L584.1,767.4 L584.3,769.4 L584.5,771.4 L584.7,773.4 L584.9,775.4 L585.1,777.4 L585.3,779.4 L585.5,781.4 L585.7,783.4 L585.9,785.3 L586.1,787.3 L586.3,789.3 L586.5,791.3 L586.7,793.3 L586.9,795.3 L587.2,797.3 L587.4,799.3 L587.6,801.3 L587.8,803.3 L588.0,805.2 L588.2,807.2 L588.4,809.2 L588.6,811.2 L588.8,813.2 L589.0,815.2 L589.2,817.2 L589.4,819.2 L589.6,821.2 L589.8,823.1 L590.1,825.1 L590.3,827.1 L590.5,829.1 L590.7,831.1 L590.9,833.1 L591.2,835.1 L591.4,837.1 L591.6,839.0 L591.8,841.0 L592.1,843.0 L592.3,845.0 L592.5,847.0 L592.8,849.0 L593.0,851.0 L593.3,853.0 L593.5,854.9 L593.8,856.9 L594.0,858.9 L594.3,860.9 L594.5,862.9 L594.8,864.9 L595.1,866.8 L595.3,868.8 L595.6,870.8 L595.9,872.8 L596.2,874.8 L596.5,876.7 L596.8,878.7 L597.1,880.7 L597.4,882.7 L597.7,884.7 L598.0,886.6 L598.3,888.6 L598.6,890.6 L598.9,892.6 L599.2,894.6 L599.6,896.5 L599.9,898.5 L600.3,900.5 L600.6,902.4 L601.0,904.4 L601.5,906.3 L601.9,908.3 L602.4,910.2 L603.0,912.1 L603.5,913.9 L604.2,915.8 L604.9,917.6 L605.6,919.4 L606.5,921.2 L607.4,922.9 L608.3,924.7 L609.2,926.6 L610.2,928.5 L611.1,930.6 L612.0,932.9 L612.9,935.3 L613.7,937.8 L614.6,940.3 L615.4,942.8 L616.2,945.2 L617.0,947.5 L617.8,949.6 L618.6,951.4 L619.5,952.9 L620.4,954.1 L621.3,954.8 L622.3,955.1 L623.3,954.8 L624.3,954.0 L625.4,952.7 L626.5,951.1 L627.6,949.2 L628.7,947.1 L629.7,944.9 L630.7,942.7 L631.6,940.4 L632.4,938.3 L633.2,936.1 L633.9,934.0 L634.6,932.0 L635.2,929.9 L635.8,927.9 L636.3,925.9 L636.8,923.9 L637.2,922.0 L637.6,920.0 L638.0,918.1 L638.3,916.2 L638.6,914.3 L638.9,912.5 L639.2,910.6 L639.5,908.7 L639.7,906.9 L640.0,905.0 L640.2,903.1 L640.4,901.3 L640.6,899.4 L640.9,897.5 L641.1,895.6 L641.4,893.7 L641.6,891.8 L641.9,889.9 L642.2,888.0 L642.5,886.0 L642.7,884.1 L643.1,882.1 L643.4,880.2 L643.7,878.2 L644.0,876.2 L644.4,874.2 L644.7,872.2 L645.0,870.2 L645.4,868.3 L645.7,866.3 L646.1,864.3 L646.5,862.3 L646.8,860.3 L647.2,858.3 L647.6,856.3 L647.9,854.3 L648.3,852.3 L648.7,850.3 L649.0,848.3 L649.4,846.3 L649.8,844.3 L650.1,842.3 L650.5,840.4 L650.8,838.4 L651.2,836.4 L651.6,834.5 L651.9,832.5 L652.3,830.5 L652.6,828.6 L653.0,826.6 L653.3,824.7 L653.7,822.7 L654.0,820.8 L654.4,818.8 L654.7,816.9 L655.1,814.9 L655.4,812.9 L655.7,811.0 L656.0,809.0 L656.4,807.1 L656.7,805.1 L657.0,803.2 L657.3,801.2 L657.7,799.2 L658.0,797.3 L658.3,795.3 L658.6,793.3 L658.9,791.3 L659.2,789.4 L659.5,787.4 L659.8,785.4 L660.1,783.4 L660.4,781.4 L660.7,779.4 L660.9,777.5 L661.2,775.5 L661.5,773.5 L661.8,771.5 L662.1,769.5 L662.3,767.5 L662.6,765.5 L662.9,763.5 L663.2,761.5 L663.4,759.5 L663.7,757.5 L664.0,755.5 L664.2,753.5 L664.5,751.5 L664.8,749.5 L665.0,747.5 L665.3,745.5 L665.6,743.5 L665.8,741.5 L666.1,739.5 L666.4,737.6 L666.6,735.6 L666.9,733.6 L667.2,731.6 L667.4,729.6 L667.7,727.6 L668.0,725.6 L668.2,723.6 L668.5,721.6 L668.8,719.7 L669.0,717.7 L669.3,715.7 L669.6,713.7 L669.8,711.7 L670.1,709.8 L670.4,707.8 L670.7,705.8 L671.0,703.9 L671.2,701.9 L671.5,700.0 L671.8,698.0 L672.1,696.0 L672.4,694.1 L672.7,692.1 L673.0,690.2 L673.3,688.2 L673.6,686.3 L673.9,684.3 L674.2,682.4 L674.5,680.5 L674.8,678.5 L675.1,676.6 L675.4,674.6 L675.7,672.7 L676.0,670.7 L676.4,668.8 L676.7,666.8 L677.0,664.9 L677.3,662.9 L677.7,661.0 L678.0,659.0 L678.4,657.1 L678.7,655.1 L679.1,653.2 L679.4,651.2 L679.8,649.2 L680.1,647.3 L680.5,645.3 L680.9,643.3 L681.2,641.4 L681.6,639.4 L682.0,637.4 L682.4,635.4 L682.8,633.4 L683.2,631.4 L683.6,629.4 L684.0,627.4 L684.4,625.4 L684.8,623.4 L685.3,621.4 L685.7,619.4 L686.1,617.4 L686.6,615.3 L687.0,613.3 L687.5,611.2 L687.9,609.2 L688.4,607.1 L688.9,605.1 L689.4,603.1 L690.0,601.1 L690.8,599.1 L691.6,597.2 L692.5,595.3 L693.6,593.5 L694.8,591.8 L696.1,590.2 L697.6,588.9 L699.2,588.0 L700.7,587.6 L702.3,587.8 L703.8,588.5 L705.3,589.7 L706.7,591.2 L707.9,592.8 L709.0,594.6 L709.9,596.5 L710.7,598.4 L711.4,600.3 L712.0,602.3 L712.5,604.3 L713.0,606.3 L713.4,608.3 L713.8,610.4 L714.2,612.4 L714.6,614.4 L715.0,616.5 L715.4,618.5 L715.8,620.5 L716.2,622.5 L716.5,624.5 L716.9,626.6 L717.3,628.6 L717.6,630.6 L718.0,632.6 L718.3,634.6 L718.7,636.6 L719.0,638.6 L719.4,640.6 L719.7,642.6 L720.0,644.6 L720.4,646.6 L720.7,648.5 L721.0,650.5 L721.3,652.5 L721.7,654.5 L722.0,656.5 L722.3,658.5 L722.6,660.4 L722.9,662.4 L723.2,664.4 L723.5,666.4 L723.8,668.3 L724.1,670.3 L724.4,672.3 L724.7,674.2 L725.0,676.2 L725.3,678.2 L725.5,680.1 L725.8,682.1 L726.1,684.1 L726.4,686.0 L726.7,688.0 L726.9,690.0 L727.2,691.9 L727.5,693.9 L727.7,695.9 L728.0,697.8 L728.3,699.8 L728.5,701.8 L728.8,703.7 L729.1,705.7 L729.3,707.7 L729.6,709.7 L729.9,711.6 L730.1,713.6 L730.4,715.6 L730.6,717.5 L730.9,719.5 L731.1,721.5 L731.4,723.5 L731.7,725.4 L731.9,727.4 L732.2,729.4 L732.4,731.4 L732.7,733.3 L732.9,735.3 L733.2,737.3 L733.4,739.3 L733.7,741.2 L733.9,743.2 L734.2,745.2 L734.4,747.2 L734.7,749.2 L734.9,751.1 L735.1,753.1 L735.4,755.1 L735.6,757.1 L735.9,759.1 L736.1,761.0 L736.3,763.0 L736.6,765.0 L736.8,767.0 L737.1,769.0 L737.3,771.0 L737.5,772.9 L737.8,774.9 L738.0,776.9 L738.2,778.9 L738.5,780.9 L738.7,782.9 L738.9,784.9 L739.2,786.8 L739.4,788.8 L739.6,790.8 L739.9,792.8 L740.1,794.8 L740.3,796.8 L740.5,798.8 L740.8,800.8 L741.0,802.7 L741.2,804.7 L741.4,806.7 L741.7,808.7 L741.9,810.7 L742.1,812.7 L742.3,814.7 L742.6,816.7 L742.8,818.7 L743.0,820.7 L743.2,822.6 L743.4,824.6 L743.7,826.6 L743.9,828.6 L744.1,830.6 L744.3,832.6 L744.5,834.6 L744.8,836.6 L745.0,838.6 L745.2,840.6 L745.4,842.6 L745.6,844.5 L745.8,846.5 L746.0,848.5 L746.3,850.5 L746.5,852.5 L746.7,854.5 L746.9,856.5 L747.1,858.5 L747.3,860.5 L747.5,862.5 L747.7,864.5 L748.0,866.5 L748.2,868.5 L748.4,870.5 L748.6,872.4 L748.8,874.4 L749.0,876.4 L749.2,878.4 L749.4,880.4 L749.6,882.4 L749.8,884.4 L750.1,886.4 L750.3,888.4 L750.5,890.4 L750.7,892.4 L750.9,894.4 L751.1,896.4 L751.3,898.3 L751.5,900.3 L751.7,902.3 L751.9,904.3 L752.1,906.3 L752.3,908.3 L752.5,910.3 L752.7,912.3 L752.9,914.3 L753.1,916.3 L753.3,918.3 L753.5,920.2 L753.8,922.2 L754.0,924.2 L754.2,926.2 L754.4,928.2 L754.6,930.2 L754.8,932.2 L755.0,934.2 L755.2,936.2 L755.4,938.2 L755.6,940.1 L755.8,942.1 L756.0,944.1 L756.2,946.1 L756.4,948.1 L756.6,950.1 L756.8,952.1 L757.0,954.1 L757.2,956.1 L757.4,958.0 L757.6,960.0 L757.8,962.0 L758.1,964.0 L758.3,966.0 L758.5,968.0 L758.7,970.0 L758.9,972.0 L759.1,973.9 L759.3,975.9 L759.5,977.9 L759.7,979.9 L759.9,981.9 L760.1,983.9 L760.3,985.9 L760.6,987.9 L760.8,989.8 L761.0,991.8 L761.2,993.8 L761.4,995.8 L761.6,997.8 L761.8,999.8 L762.0,1001.8 L762.3,1003.7 L762.5,1005.7 L762.7,1007.7 L762.9,1009.7 L763.1,1011.7 L763.3,1013.7 L763.6,1015.7 L763.8,1017.6 L764.0,1019.6 L764.2,1021.6 L764.5,1023.6 L764.7,1025.6 L764.9,1027.6 L765.1,1029.5 L765.3,1031.5 L765.6,1033.5 L765.8,1035.5 L766.0,1037.5 L766.3,1039.5 L766.5,1041.5 L766.7,1043.4 L766.9,1045.4 L767.2,1047.4 L767.4,1049.4 L767.6,1051.4 L767.9,1053.4 L768.1,1055.3 L768.4,1057.3 L768.6,1059.3 L768.8,1061.3 L769.1,1063.3 L769.3,1065.2 L769.6,1067.2 L769.8,1069.2 L770.0,1071.2 L770.3,1073.2 L770.5,1075.2 L770.8,1077.1 L771.0,1079.1 L771.3,1081.1 L771.5,1083.1 L771.8,1085.1 L772.0,1087.0 L772.3,1089.0 L772.5,1091.0 L772.8,1093.0 L773.1,1095.0 L773.3,1097.0 L773.6,1098.9 L773.8,1100.9 L774.1,1102.9 L774.4,1104.9 L774.6,1106.9 L774.9,1108.8 L775.2,1110.8 L775.5,1112.8 L775.7,1114.8 L776.0,1116.8 L776.3,1118.7 L776.6,1120.7 L776.8,1122.7 L777.1,1124.7 L777.4,1126.6 L777.7,1128.6 L778.0,1130.6 L778.3,1132.6 L778.5,1134.6 L778.8,1136.5 L779.1,1138.5 L779.4,1140.5 L779.7,1142.5 L780.0,1144.5 L780.3,1146.4 L780.6,1148.4 L780.9,1150.4 L781.2,1152.4 L781.5,1154.3 L781.8,1156.3 L782.1,1158.3 L782.5,1160.3 L782.8,1162.3 L783.1,1164.2 L783.4,1166.2 L783.7,1168.2 L784.0,1170.2 L784.4,1172.1 L784.7,1174.1 L785.0,1176.1 L785.3,1178.1 L785.7,1180.0 L786.0,1182.0 L786.3,1184.0 L786.7,1186.0 L787.0,1187.9 L787.3,1189.9 L787.7,1191.9 L788.0,1193.9 L788.4,1195.9 L788.7,1197.8 L789.1,1199.8 L789.4,1201.8 L789.8,1203.8 L790.1,1205.7 L790.5,1207.7 L790.9,1209.7 L791.2,1211.7 L791.6,1213.6 L792.0,1215.6 L792.3,1217.6 L792.7,1219.5 L793.1,1221.5 L793.5,1223.5 L793.9,1225.4 L794.3,1227.4 L794.7,1229.4 L795.2,1231.3 L795.6,1233.3 L796.1,1235.2 L796.5,1237.2 L797.0,1239.1 L797.5,1241.0 L798.0,1243.0 L798.5,1244.9 L799.0,1246.8 L799.6,1248.7 L800.2,1250.6 L800.7,1252.5 L801.4,1254.4 L802.0,1256.3 L802.6,1258.2 L803.3,1260.0 L804.0,1261.9 L804.7,1263.7 L805.4,1265.6 L806.2,1267.4 L807.0,1269.2 L807.8,1271.0 L808.6,1272.8 L809.5,1274.6 L810.4,1276.4 L811.3,1278.2 L812.3,1279.9 L813.3,1281.7 L814.3,1283.4 L815.3,1285.1 L816.4,1286.8 L817.6,1288.4 L818.8,1290.0 L820.0,1291.6 L821.3,1293.1 L822.6,1294.6 L823.9,1296.1 L825.4,1297.4 L826.8,1298.8 L828.4,1300.1 L830.0,1301.3 L831.6,1302.4 L833.4,1303.5 L835.2,1304.5 L837.0,1305.5"/>
<path stroke="#ff0000" d="M108.0,1391.4 L108.8,1389.6 L109.7,1387.7 L110.5,1385.9 L111.3,1384.1 L112.1,1382.2 L112.9,1380.4 L113.7,1378.5 L114.5,1376.6 L115.2,1374.8 L116.0,1372.9 L116.7,1371.1 L117.4,1369.2 L118.1,1367.3 L118.8,1365.5 L119.5,1363.6 L120.2,1361.7 L120.9,1359.8 L121.5,1357.9 L122.2,1356.0 L122.8,1354.1 L123.5,1352.3 L124.1,1350.4 L124.7,1348.5 L125.3,1346.6 L125.9,1344.7 L126.5,1342.8 L127.1,1340.8 L127.6,1338.9 L128.2,1337.0 L128.7,1335.1 L129.3,1333.2 L129.8,1331.3 L130.4,1329.3 L130.9,1327.4 L131.4,1325.5 L131.9,1323.6 L132.4,1321.6 L132.9,1319.7 L133.4,1317.8 L133.8,1315.8 L134.3,1313.9 L134.8,1312.0 L135.2,1310.0 L135.7,1308.1 L136.1,1306.1 L136.5,1304.2 L137.0,1302.2 L137.4,1300.3 L137.8,1298.3 L138.2,1296.4 L138.6,1294.4 L139.0,1292.5 L139.4,1290.5 L139.8,1288.5 L140.2,1286.6 L140.6,1284.6 L140.9,1282.7 L141.3,1280.7 L141.7,1278.7 L142.0,1276.8 L142.4,1274.8 L142.7,1272.8 L143.1,1270.9 L143.4,1268.9 L143.7,1266.9 L144.1,1264.9 L144.4,1263.0 L144.7,1261.0 L145.0,1259.0 L145.4,1257.0 L145.7,1255.1 L146.0,1253.1 L146.3,1251.1 L146.6,1249.1 L146.9,1247.2 L147.2,1245.2 L147.5,1243.2 L147.8,1241.2 L148.1,1239.2 L148.4,1237.3 L148.7,1235.3 L148.9,1233.3 L149.2,1231.3 L149.5,1229.3 L149.8,1227.3 L150.1,1225.4 L150.4,1223.4 L150.6,1221.4 L150.9,1219.4 L151.2,1217.4 L151.5,1215.4 L151.7,1213.5 L152.0,1211.5 L152.3,1209.5 L152.6,1207.5 L152.8,1205.5 L153.1,1203.5 L153.4,1201.6 L153.6,1199.6 L153.9,1197.6 L154.2,1195.6 L154.4,1193.6 L154.7,1191.6 L155.0,1189.7 L155.2,1187.7 L155.5,1185.7 L155.7,1183.7 L156.0,1181.7 L156.3,1179.7 L156.5,1177.8 L156.8,1175.8 L157.0,1173.8 L157.3,1171.8 L157.5,1169.8 L157.8,1167.8 L158.1,1165.9 L158.3,1163.9 L158.6,1161.9 L158.8,1159.9 L159.1,1157.9 L159.3,1155.9 L159.6,1154.0 L159.8,1152.0 L160.0,1150.0 L160.3,1148.0 L160.5,1146.0 L160.8,1144.0 L161.0,1142.1 L161.3,1140.1 L161.5,1138.1 L161.7,1136.1 L162.0,1134.1 L162.2,1132.1 L162.5,1130.1 L162.7,1128.2 L162.9,1126.2 L163.2,1124.2 L163.4,1122.2 L163.6,1120.2 L163.9,1118.2 L164.1,1116.3 L164.3,1114.3 L164.6,1112.3 L164.8,1110.3 L165.0,1108.3 L165.2,1106.3 L165.5,1104.3 L165.7,1102.4 L165.9,1100.4 L166.2,1098.4 L166.4,1096.4 L166.6,1094.4 L166.8,1092.4 L167.0,1090.4 L167.3,1088.5 L167.5,1086.5 L167.7,1084.5 L167.9,1082.5 L168.1,1080.5 L168.4,1078.5 L168.6,1076.5 L168.8,1074.6 L169.0,1072.6 L169.2,1070.6 L169.4,1068.6 L169.6,1066.6 L169.9,1064.6 L170.1,1062.6 L170.3,1060.6 L170.5,1058.7 L170.7,1056.7 L170.9,1054.7 L171.1,1052.7 L171.3,1050.7 L171.5,1048.7 L171.7,1046.7 L171.9,1044.7 L172.1,1042.8 L172.3,1040.8 L172.5,1038.8 L172.7,1036.8 L172.9,1034.8 L173.1,1032.8 L173.3,1030.8 L173.5,1028.8 L173.7,1026.9 L173.9,1024.9 L174.1,1022.9 L174.3,1020.9 L174.5,1018.9 L174.7,1016.9 L174.9,1014.9 L175.1,1012.9 L175.3,1010.9 L175.5,1009.0 L175.7,1007.0 L175.9,1005.0 L176.1,1003.0 L176.3,1001.0 L176.4,999.0 L176.6,997.0 L176.8,995.0 L177.0,993.0 L177.2,991.0 L177.4,989.1 L177.6,987.1 L177.8,985.1 L177.9,983.1 L178.1,981.1 L178.3,979.1 L178.5,977.1 L178.7,975.1 L178.9,973.1 L179.0,971.1 L179.2,969.2 L179.4,967.2 L179.6,965.2 L179.8,963.2 L179.9,961.2 L180.1,959.2 L180.3,957.2 L180.5,955.2 L180.6,953.2 L180.8,951.2 L181.0,949.2 L181.2,947.3 L181.4,945.3 L181.5,943.3 L181.7,941.3 L181.9,939.3 L182.1,937.3 L182.2,935.3 L182.4,933.3 L182.6,931.3 L182.7,929.3 L182.9,927.3 L183.1,925.3 L183.3,923.4 L183.4,921.4 L183.6,919.4 L183.8,917.4 L183.9,915.4 L184.1,913.4 L184.3,911.4 L184.4,909.4 L184.6,907.4 L184.8,905.4 L185.0,903.4 L185.1,901.4 L185.3,899.4 L185.5,897.5 L185.6,895.5 L185.8,893.5 L185.9,891.5 L186.1,889.5 L186.3,887.5 L186.4,885.5 L186.6,883.5 L186.8,881.5 L186.9,879.5 L187.1,877.5 L187.3,875.5 L187.4,873.5 L187.6,871.5 L187.8,869.6 L187.9,867.6 L188.1,865.6 L188.2,863.6 L188.4,861.6 L188.6,859.6 L188.7,857.6 L188.9,855.6 L189.0,853.6 L189.2,851.6 L189.4,849.6 L189.5,847.6 L189.7,845.6 L189.9,843.6 L190.0,841.7 L190.2,839.7 L190.3,837.7 L190.5,835.7 L190.7,833.7 L190.8,831.7 L191.0,829.7 L191.1,827.7 L191.3,825.7 L191.4,823.7 L191.6,821.7 L191.8,819.7 L191.9,817.7 L192.1,815.7 L192.2,813.7 L192.4,811.8 L192.6,809.8 L192.7,807.8 L192.9,805.8 L193.0,803.8 L193.2,801.8 L193.3,799.8 L193.5,797.8 L193.7,795.8 L193.8,793.8 L194.0,791.8 L194.1,789.8 L194.3,787.8 L194.5,785.8 L194.6,783.8 L194.8,781.9 L194.9,779.9 L195.1,777.9 L195.2,775.9 L195.4,773.9 L195.6,771.9 L195.7,769.9 L195.9,767.9 L196.0,765.9 L196.2,763.9 L196.3,761.9 L196.5,759.9 L196.7,757.9 L196.8,755.9 L197.0,753.9 L197.1,752.0 L197.3,750.0 L197.5,748.0 L197.6,746.0 L197.8,744.0 L197.9,742.0 L198.1,740.0 L198.3,738.0 L198.4,736.0 L198.6,734.0 L198.7,732.0 L198.9,730.0 L199.1,728.0 L199.2,726.0 L199.4,724.1 L199.5,722.1 L199.7,720.1 L199.9,718.1 L200.0,716.1 L200.2,714.1 L200.3,712.1 L200.5,710.1 L200.7,708.1 L200.8,706.1 L201.0,704.1 L201.1,702.1 L201.3,700.1 L201.5,698.1 L201.6,696.2 L201.8,694.2 L202.0,692.2 L202.1,690.2 L202.3,688.2 L202.5,686.2 L202.6,684.2 L202.8,682.2 L202.9,680.2 L203.1,678.2 L203.3,676.2 L203.4,674.2 L203.6,672.2 L203.8,670.3 L203.9,668.3 L204.1,666.3 L204.3,664.3 L204.4,662.3 L204.6,660.3 L204.8,658.3 L204.9,656.3 L205.1,654.3 L205.3,652.3 L205.5,650.3 L205.6,648.3 L205.8,646.4 L206.0,644.4 L206.1,642.4 L206.3,640.4 L206.5,638.4 L206.6,636.4 L206.8,634.4 L207.0,632.4 L207.2,630.4 L207.3,628.4 L207.5,626.4 L207.7,624.5 L207.8,622.5 L208.0,620.5 L208.2,618.5 L208.4,616.5 L208.5,614.5 L208.7,612.5 L208.9,610.5 L209.0,608.5 L209.2,606.5 L209.4,604.5 L209.6,602.6 L209.7,600.6 L209.9,598.6 L210.1,596.6 L210.2,594.6 L210.4,592.6 L210.6,590.6 L210.8,588.6 L210.9,586.6 L211.1,584.6 L211.3,582.6 L211.5,580.6 L211.6,578.7 L211.8,576.7 L212.0,574.7 L212.1,572.7 L212.3,570.7 L212.5,568.7 L212.7,566.7 L212.8,564.7 L213.0,562.7 L213.2,560.7 L213.3,558.7 L213.5,556.8 L213.7,554.8 L213.9,552.8 L214.0,550.8 L214.2,548.8 L214.4,546.8 L214.6,544.8 L214.7,542.8 L214.9,540.8 L215.1,538.8 L215.2,536.8 L215.4,534.8 L215.6,532.9 L215.7,530.9 L215.9,528.9 L216.1,526.9 L216.3,524.9 L216.4,522.9 L216.6,520.9 L216.8,518.9 L216.9,516.9 L217.1,514.9 L217.3,512.9 L217.4,510.9 L217.6,508.9 L217.8,507.0 L217.9,505.0 L218.1,503.0 L218.3,501.0 L218.5,499.0 L218.6,497.0 L218.8,495.0 L219.0,493.0 L219.1,491.0 L219.3,489.0 L219.5,487.0 L219.6,485.0 L219.8,483.0 L219.9,481.0 L220.1,479.1 L220.3,477.1 L220.4,475.1 L220.6,473.1 L220.8,471.1 L220.9,469.1 L221.1,467.1 L221.3,465.1 L221.5,463.1 L221.6,461.1 L221.8,459.1 L222.0,457.1 L222.1,455.1 L222.3,453.2 L222.5,451.2 L222.7,449.2 L222.9,447.2 L223.0,445.2 L223.2,443.2 L223.4,441.2 L223.6,439.2 L223.8,437.3 L224.0,435.3 L224.2,433.3 L224.4,431.3 L224.6,429.3 L224.8,427.3 L225.0,425.4 L225.2,423.4 L225.5,421.4 L225.7,419.4 L225.9,417.4 L226.1,415.5 L226.4,413.5 L226.6,411.5 L226.8,409.5 L227.1,407.6 L227.3,405.6 L227.6,403.6 L227.8,401.6 L228.1,399.7 L228.3,397.7 L228.6,395.7 L228.8,393.7 L229.1,391.7 L229.4,389.8 L229.6,387.8 L229.9,385.8 L230.2,383.8 L230.5,381.8 L230.7,379.8 L231.0,377.8 L231.3,375.8 L231.6,373.8 L231.8,371.8 L232.1,369.8 L232.4,367.8 L232.7,365.8 L233.0,363.8 L233.3,361.7 L233.5,359.7 L233.8,357.7 L234.1,355.7 L234.4,353.7 L234.7,351.6 L235.0,349.6 L235.2,347.6 L235.5,345.6 L235.8,343.6 L236.1,341.6 L236.3,339.7 L236.6,337.7 L236.9,335.7 L237.2,333.8 L237.4,331.8 L237.7,329.9 L238.0,328.0 L238.2,326.1 L238.5,324.2 L238.7,322.3 L239.0,320.5 L239.2,318.6 L239.5,316.8 L239.8,314.9 L240.1,313.0 L240.5,311.2 L240.9,309.3 L241.4,307.3 L241.9,305.3 L242.5,303.3 L243.2,301.2 L244.1,299.1 L245.0,296.9 L246.0,294.6 L247.1,292.4 L248.3,290.2 L249.6,288.2 L250.9,286.5 L252.1,285.2 L253.4,284.4 L254.6,284.0 L255.7,284.4 L256.8,285.2 L257.8,286.6 L258.8,288.3 L259.6,290.4 L260.5,292.6 L261.2,294.9 L261.9,297.2 L262.6,299.5 L263.2,301.7 L263.8,303.8 L264.4,305.9 L264.9,308.0 L265.4,310.0 L265.8,312.0 L266.3,314.0 L266.7,315.9 L267.1,317.9 L267.5,319.8 L267.9,321.7 L268.2,323.6 L268.6,325.6 L269.0,327.5 L269.3,329.4 L269.7,331.4 L270.1,333.3 L270.4,335.2 L270.7,337.2 L271.1,339.1 L271.4,341.0 L271.7,343.0 L272.1,344.9 L272.4,346.9 L272.7,348.8 L273.0,350.8 L273.3,352.7 L273.7,354.7 L274.0,356.6 L274.3,358.6 L274.6,360.6 L274.8,362.5 L275.1,364.5 L275.4,366.4 L275.7,368.4 L276.0,370.4 L276.3,372.3 L276.6,374.3 L276.8,376.3 L277.1,378.2 L277.4,380.2 L277.6,382.2 L277.9,384.2 L278.1,386.1 L278.4,388.1 L278.7,390.1 L278.9,392.1 L279.2,394.0 L279.4,396.0 L279.7,398.0 L279.9,400.0 L280.1,402.0 L280.4,404.0 L280.6,405.9 L280.8,407.9 L281.1,409.9 L281.3,411.9 L281.5,413.9 L281.8,415.9 L282.0,417.9 L282.2,419.8 L282.4,421.8 L282.7,423.8 L282.9,425.8 L283.1,427.8 L283.3,429.8 L283.5,431.8 L283.8,433.8 L284.0,435.8 L284.2,437.8 L284.4,439.8 L284.6,441.7 L284.8,443.7 L285.0,445.7 L285.3,447.7 L285.5,449.7 L285.7,451.7 L285.9,453.7 L286.1,455.7 L286.3,457.7 L286.5,459.7 L286.7,461.7 L286.9,463.7 L287.1,465.6 L287.3,467.6 L287.5,469.6 L287.7,471.6 L288.0,473.6 L288.2,475.6 L288.4,477.6 L288.6,479.6 L288.8,481.6 L289.0,483.6 L289.2,485.6 L289.4,487.6 L289.6,489.6 L289.8,491.5 L290.0,493.5 L290.2,495.5 L290.4,497.5 L290.6,499.5 L290.8,501.5 L291.0,503.5 L291.2,505.5 L291.4,507.5 L291.6,509.5 L291.8,511.5 L292.0,513.5 L292.2,515.4 L292.4,517.4 L292.5,519.4 L292.7,521.4 L292.9,523.4 L293.1,525.4 L293.3,527.4 L293.5,529.4 L293.7,531.4 L293.9,533.4 L294.1,535.4 L294.3,537.4 L294.5,539.3 L294.7,541.3 L294.9,543.3 L295.1,545.3 L295.2,547.3 L295.4,549.3 L295.6,551.3 L295.8,553.3 L296.0,555.3 L296.2,557.3 L296.4,559.3 L296.6,561.3 L296.8,563.2 L297.0,565.2 L297.1,567.2 L297.3,569.2 L297.5,571.2 L297.7,573.2 L297.9,575.2 L298.1,577.2 L298.3,579.2 L298.4,581.2 L298.6,583.2 L298.8,585.2 L299.0,587.1 L299.2,589.1 L299.4,591.1 L299.6,593.1 L299.7,595.1 L299.9,597.1 L300.1,599.1 L300.3,601.1 L300.5,603.1 L300.7,605.1 L300.8,607.1 L301.0,609.0 L301.2,611.0 L301.4,613.0 L301.6,615.0 L301.8,617.0 L301.9,619.0 L302.1,621.0 L302.3,623.0 L302.5,625.0 L302.7,627.0 L302.8,629.0 L303.0,630.9 L303.2,632.9 L303.4,634.9 L303.6,636.9 L303.7,638.9 L303.9,640.9 L304.1,642.9 L304.3,644.9 L304.5,646.9 L304.6,648.9 L304.8,650.9 L305.0,652.9 L305.2,654.8 L305.4,656.8 L305.5,658.8 L305.7,660.8 L305.9,662.8 L306.1,664.8 L306.2,666.8 L306.4,668.8 L306.6,670.8 L306.8,672.8 L307.0,674.8 L307.1,676.7 L307.3,678.7 L307.5,680.7 L307.7,682.7 L307.8,684.7 L308.0,686.7 L308.2,688.7 L308.4,690.7 L308.6,692.7 L308.7,694.7 L308.9,696.6 L309.1,698.6 L309.3,700.6 L309.4,702.6 L309.6,704.6 L309.8,706.6 L310.0,708.6 L310.1,710.6 L310.3,712.6 L310.5,714.6 L310.7,716.6 L310.8,718.5 L311.0,720.5 L311.2,722.5 L311.4,724.5 L311.6,726.5 L311.7,728.5 L311.9,730.5 L312.1,732.5 L312.3,734.5 L312.4,736.5 L312.6,738.5 L312.8,740.4 L313.0,742.4 L313.1,744.4 L313.3,746.4 L313.5,748.4 L313.7,750.4 L313.8,752.4 L314.0,754.4 L314.2,756.4 L314.4,758.4 L314.6,760.3 L314.7,762.3 L314.9,764.3 L315.1,766.3 L315.3,768.3 L315.4,770.3 L315.6,772.3 L315.8,774.3 L316.0,776.3 L316.2,778.3 L316.3,780.3 L316.5,782.2 L316.7,784.2 L316.9,786.2 L317.0,788.2 L317.2,790.2 L317.4,792.2 L317.6,794.2 L317.8,796.2 L317.9,798.2 L318.1,800.2 L318.3,802.1 L318.5,804.1 L318.6,806.1 L318.8,808.1 L319.0,810.1 L319.2,812.1 L319.4,814.1 L319.5,816.1 L319.7,818.1 L319.9,820.1 L320.1,822.0 L320.3,824.0 L320.4,826.0 L320.6,828.0 L320.8,830.0 L321.0,832.0 L321.2,834.0 L321.3,836.0 L321.5,838.0 L321.7,840.0 L321.9,841.9 L322.1,843.9 L322.3,845.9 L322.4,847.9 L322.6,849.9 L322.8,851.9 L323.0,853.9 L323.2,855.9 L323.4,857.9 L323.5,859.9 L323.7,861.8 L323.9,863.8 L324.1,865.8 L324.3,867.8 L324.5,869.8 L324.6,871.8 L324.8,873.8 L325.0,875.8 L325.2,877.8 L325.4,879.8 L325.6,881.7 L325.8,883.7 L326.0,885.7 L326.1,887.7 L326.3,889.7 L326.5,891.7 L326.7,893.7 L326.9,895.7 L327.1,897.7 L327.3,899.7 L327.5,901.6 L327.6,903.6 L327.8,905.6 L328.0,907.6 L328.2,909.6 L328.4,911.6 L328.6,913.6 L328.8,915.6 L329.0,917.6 L329.2,919.5 L329.4,921.5 L329.6,923.5 L329.8,925.5 L329.9,927.5 L330.1,929.5 L330.3,931.5 L330.5,933.5 L330.7,935.5 L330.9,937.5 L331.1,939.4 L331.3,941.4 L331.5,943.4 L331.7,945.4 L331.9,947.4 L332.1,949.4 L332.3,951.4 L332.5,953.4 L332.7,955.4 L332.9,957.4 L333.1,959.3 L333.3,961.3 L333.5,963.3 L333.7,965.3 L333.9,967.3 L334.1,969.3 L334.3,971.3 L334.5,973.3 L334.7,975.3 L334.9,977.2 L335.1,979.2 L335.3,981.2 L335.5,983.2 L335.7,985.2 L335.9,987.2 L336.1,989.2 L336.3,991.2 L336.5,993.2 L336.8,995.1 L337.0,997.1 L337.2,999.1 L337.4,1001.1 L337.6,1003.1 L337.8,1005.1 L338.0,1007.1 L338.2,1009.1 L338.4,1011.1 L338.6,1013.1 L338.9,1015.0 L339.1,1017.0 L339.3,1019.0 L339.5,1021.0 L339.7,1023.0 L339.9,1025.0 L340.1,1027.0 L340.4,1029.0 L340.6,1031.0 L340.8,1032.9 L341.0,1034.9 L341.3,1036.9 L341.5,1038.9 L341.7,1040.9 L341.9,1042.9 L342.2,1044.9 L342.4,1046.9 L342.7,1048.8 L342.9,1050.8 L343.1,1052.8 L343.4,1054.8 L343.6,1056.8 L343.9,1058.8 L344.2,1060.7 L344.4,1062.7 L344.7,1064.7 L344.9,1066.7 L345.2,1068.7 L345.5,1070.7 L345.8,1072.6 L346.0,1074.6 L346.3,1076.6 L346.6,1078.6 L346.9,1080.6 L347.2,1082.5 L347.5,1084.5 L347.8,1086.5 L348.1,1088.5 L348.5,1090.4 L348.8,1092.4 L349.1,1094.4 L349.4,1096.4 L349.8,1098.3 L350.1,1100.3 L350.5,1102.3 L350.8,1104.2 L351.2,1106.2 L351.5,1108.2 L351.9,1110.1 L352.3,1112.1 L352.7,1114.1 L353.1,1116.0 L353.5,1118.0 L353.9,1120.0 L354.3,1121.9 L354.7,1123.9 L355.1,1125.8 L355.5,1127.8 L356.0,1129.7 L356.4,1131.7 L356.9,1133.6 L357.3,1135.6 L357.8,1137.5 L358.3,1139.5 L358.7,1141.4 L359.2,1143.3 L359.7,1145.3 L360.2,1147.2 L360.7,1149.1 L361.3,1151.1 L361.8,1153.0 L362.3,1154.9 L362.9,1156.8 L363.4,1158.7 L364.0,1160.7 L364.5,1162.6 L365.1,1164.5 L365.7,1166.4 L366.3,1168.3 L366.9,1170.2 L367.5,1172.1 L368.1,1174.0 L368.8,1175.8 L369.4,1177.7 L370.1,1179.6 L370.8,1181.5 L371.5,1183.3 L372.4,1185.2 L373.3,1187.0 L374.3,1188.8 L375.5,1190.5 L376.8,1192.3 L378.3,1194.0 L379.9,1195.6 L381.6,1196.9 L383.4,1198.0 L385.1,1198.7 L386.8,1199.0 L388.4,1198.6 L389.9,1197.8 L391.3,1196.6 L392.6,1195.1 L393.9,1193.4 L395.1,1191.6 L396.2,1189.8 L397.3,1187.9 L398.4,1186.1 L399.4,1184.2 L400.3,1182.4 L401.2,1180.5 L402.1,1178.6 L402.9,1176.8 L403.7,1174.9 L404.5,1173.0 L405.2,1171.1 L405.9,1169.2 L406.6,1167.3 L407.2,1165.4 L407.8,1163.5 L408.4,1161.6 L409.0,1159.7 L409.5,1157.8 L410.0,1155.9 L410.5,1154.0 L411.0,1152.1 L411.5,1150.1 L412.0,1148.2 L412.5,1146.3 L412.9,1144.3 L413.4,1142.4 L413.8,1140.5 L414.2,1138.5 L414.7,1136.6 L415.1,1134.6 L415.5,1132.7 L415.9,1130.8 L416.2,1128.8 L416.6,1126.8 L417.0,1124.9 L417.3,1122.9 L417.7,1121.0 L418.0,1119.0 L418.4,1117.0 L418.7,1115.1 L419.0,1113.1 L419.3,1111.1 L419.6,1109.2 L419.9,1107.2 L420.2,1105.2 L420.5,1103.2 L420.8,1101.3 L421.1,1099.3 L421.3,1097.3 L421.6,1095.3 L421.9,1093.3 L422.1,1091.3 L422.4,1089.4 L422.7,1087.4 L422.9,1085.4 L423.2,1083.4 L423.4,1081.4 L423.6,1079.4 L423.9,1077.4 L424.1,1075.5 L424.4,1073.5 L424.6,1071.5 L424.8,1069.5 L425.1,1067.5 L425.3,1065.5 L425.5,1063.5 L425.8,1061.5 L426.0,1059.5 L426.2,1057.5 L426.5,1055.6 L426.7,1053.6 L427.0,1051.6 L427.2,1049.6 L427.4,1047.6 L427.7,1045.6 L427.9,1043.6 L428.1,1041.6 L428.4,1039.6 L428.6,1037.7 L428.9,1035.7 L429.1,1033.7 L429.4,1031.7 L429.6,1029.7 L429.8,1027.7 L430.1,1025.7 L430.3,1023.7 L430.6,1021.8 L430.8,1019.8 L431.1,1017.8 L431.3,1015.8 L431.5,1013.8 L431.8,1011.8 L432.0,1009.8 L432.3,1007.9 L432.5,1005.9 L432.8,1003.9 L433.0,1001.9 L433.3,999.9 L433.5,997.9 L433.7,995.9 L434.0,994.0 L434.2,992.0 L434.5,990.0 L434.7,988.0 L435.0,986.0 L435.2,984.0 L435.5,982.0 L435.7,980.1 L436.0,978.1 L436.2,976.1 L436.4,974.1 L436.7,972.1 L436.9,970.1 L437.2,968.2 L437.4,966.2 L437.7,964.2 L437.9,962.2 L438.2,960.2 L438.4,958.2 L438.6,956.3 L438.9,954.3 L439.1,952.3 L439.4,950.3 L439.6,948.3 L439.9,946.3 L440.1,944.4 L440.3,942.4 L440.6,940.4 L440.8,938.4 L441.1,936.4 L441.3,934.4 L441.5,932.5 L441.8,930.5 L442.0,928.5 L442.2,926.5 L442.5,924.5 L442.7,922.5 L443.0,920.6 L443.2,918.6 L443.4,916.6 L443.7,914.6 L443.9,912.6 L444.1,910.6 L444.4,908.6 L444.6,906.7 L444.8,904.7 L445.0,902.7 L445.3,900.7 L445.5,898.7 L445.7,896.7 L446.0,894.8 L446.2,892.8 L446.4,890.8 L446.6,888.8 L446.8,886.8 L447.1,884.8 L447.3,882.8 L447.5,880.9 L447.7,878.9 L447.9,876.9 L448.2,874.9 L448.4,872.9 L448.6,870.9 L448.8,868.9 L449.0,867.0 L449.2,865.0 L449.4,863.0 L449.6,861.0 L449.9,859.0 L450.1,857.0 L450.3,855.0 L450.5,853.0 L450.7,851.1 L450.9,849.1 L451.1,847.1 L451.3,845.1 L451.5,843.1 L451.7,841.1 L451.9,839.1 L452.1,837.1 L452.3,835.2 L452.5,833.2 L452.7,831.2 L452.9,829.2 L453.1,827.2 L453.2,825.2 L453.4,823.2 L453.6,821.2 L453.8,819.2 L454.0,817.2 L454.2,815.3 L454.4,813.3 L454.6,811.3 L454.7,809.3 L454.9,807.3 L455.1,805.3 L455.3,803.3 L455.5,801.3 L455.7,799.3 L455.8,797.3 L456.0,795.4 L456.2,793.4 L456.4,791.4 L456.6,789.4 L456.7,787.4 L456.9,785.4 L457.1,783.4 L457.3,781.4 L457.4,779.4 L457.6,777.4 L457.8,775.4 L458.0,773.4 L458.1,771.5 L458.3,769.5 L458.5,767.5 L458.6,765.5 L458.8,763.5 L459.0,761.5 L459.1,759.5 L459.3,757.5 L459.5,755.5 L459.6,753.5 L459.8,751.5 L460.0,749.5 L460.1,747.5 L460.3,745.5 L460.5,743.6 L460.6,741.6 L460.8,739.6 L461.0,737.6 L461.1,735.6 L461.3,733.6 L461.5,731.6 L461.6,729.6 L461.8,727.6 L461.9,725.6 L462.1,723.6 L462.3,721.6 L462.4,719.6 L462.6,717.6 L462.7,715.6 L462.9,713.6 L463.0,711.7 L463.2,709.7 L463.4,707.7 L463.5,705.7 L463.7,703.7 L463.8,701.7 L464.0,699.7 L464.1,697.7 L464.3,695.7 L464.5,693.7 L464.6,691.7 L464.8,689.7 L464.9,687.7 L465.1,685.7 L465.2,683.7 L465.4,681.7 L465.5,679.7 L465.7,677.8 L465.8,675.8 L466.0,673.8 L466.2,671.8 L466.3,669.8 L466.5,667.8 L466.6,665.8 L466.8,663.8 L466.9,661.8 L467.1,659.8 L467.2,657.8 L467.4,655.8 L467.5,653.8 L467.7,651.8 L467.8,649.8 L468.0,647.8 L468.2,645.8 L468.3,643.9 L468.5,641.9 L468.6,639.9 L468.8,637.9 L468.9,635.9 L469.1,633.9 L469.2,631.9 L469.4,629.9 L469.5,627.9 L469.7,625.9 L469.8,623.9 L470.0,621.9 L470.1,619.9 L470.3,617.9 L470.5,615.9 L470.6,613.9 L470.8,612.0 L470.9,610.0 L471.1,608.0 L471.2,606.0 L471.4,604.0 L471.5,602.0 L471.7,600.0 L471.9,598.0 L472.0,596.0 L472.2,594.0 L472.3,592.0 L472.5,590.0 L472.6,588.0 L472.8,586.0 L473.0,584.0 L473.1,582.1 L473.3,580.1 L473.4,578.1 L473.6,576.1 L473.8,574.1 L473.9,572.1 L474.1,570.1 L474.2,568.1 L474.4,566.1 L474.6,564.1 L474.7,562.1 L474.9,560.1 L475.1,558.2 L475.2,556.2 L475.4,554.2 L475.5,552.2 L475.7,550.2 L475.9,548.2 L476.0,546.2 L476.2,544.2 L476.4,542.2 L476.5,540.2 L476.7,538.2 L476.9,536.3 L477.1,534.3 L477.2,532.3 L477.4,530.3 L477.6,528.3 L477.7,526.3 L477.9,524.3 L478.1,522.3 L478.3,520.3 L478.4,518.3 L478.6,516.4 L478.8,514.4 L479.0,512.4 L479.1,510.4 L479.3,508.4 L479.5,506.4 L479.7,504.4 L479.9,502.4 L480.0,500.4 L480.2,498.5 L480.4,496.5 L480.6,494.5 L480.8,492.5 L480.9,490.5 L481.1,488.5 L481.3,486.5 L481.5,484.5 L481.7,482.5 L481.9,480.6 L482.0,478.6 L482.2,476.6 L482.4,474.6 L482.6,472.6 L482.8,470.6 L483.0,468.6 L483.2,466.6 L483.4,464.6 L483.6,462.7 L483.8,460.7 L483.9,458.7 L484.1,456.7 L484.3,454.7 L484.5,452.7 L484.7,450.7 L484.9,448.7 L485.1,446.8 L485.3,444.8 L485.5,442.8 L485.7,440.8 L485.9,438.8 L486.1,436.8 L486.3,434.8 L486.5,432.8 L486.7,430.8 L486.9,428.9 L487.1,426.9 L487.3,424.9 L487.5,422.9 L487.7,420.9 L487.9,418.9 L488.1,416.9 L488.3,414.9 L488.5,412.9 L488.7,411.0 L488.9,409.0 L489.1,407.0 L489.3,405.0 L489.5,403.0 L489.7,401.0 L490.0,399.0 L490.2,397.0 L490.4,395.0 L490.6,393.0 L490.8,391.0 L491.0,389.1 L491.2,387.1 L491.4,385.1 L491.6,383.1 L491.8,381.1 L492.1,379.1 L492.3,377.1 L492.5,375.1 L492.7,373.1 L492.9,371.1 L493.1,369.1 L493.3,367.1 L493.6,365.1 L493.8,363.2 L494.0,361.2 L494.2,359.2 L494.4,357.2 L494.6,355.2 L494.9,353.2 L495.1,351.2 L495.3,349.2 L495.5,347.2 L495.7,345.2 L496.0,343.2 L496.2,341.2 L496.4,339.2 L496.6,337.2 L496.9,335.2 L497.1,333.2 L497.3,331.2 L497.5,329.2 L497.8,327.2 L498.0,325.2 L498.2,323.3 L498.5,321.3 L498.7,319.3 L498.9,317.3 L499.2,315.3 L499.4,313.3 L499.6,311.3 L499.9,309.3 L500.1,307.3 L500.4,305.4 L500.6,303.4 L500.9,301.4 L501.1,299.4 L501.4,297.5 L501.7,295.5 L501.9,293.5 L502.2,291.5 L502.4,289.6 L502.7,287.6 L503.0,285.6 L503.3,283.7 L503.5,281.7 L503.8,279.8 L504.1,277.8 L504.4,275.9 L504.7,273.9 L505.0,272.0 L505.3,270.0 L505.6,268.1 L505.9,266.1 L506.2,264.2 L506.5,262.3 L506.8,260.3 L507.2,258.4 L507.5,256.5 L507.8,254.6 L508.2,252.7 L508.5,250.7 L508.9,248.8 L509.3,246.9 L509.7,244.9 L510.2,242.9 L510.8,240.9 L511.4,238.9 L512.0,236.8 L512.8,234.7 L513.7,232.5 L514.6,230.3 L515.7,228.1 L516.8,225.9 L518.0,224.0 L519.2,222.3 L520.4,221.0 L521.7,220.3 L522.9,220.1 L524.1,220.5 L525.3,221.6 L526.4,223.1 L527.5,224.9 L528.5,227.0 L529.5,229.2 L530.3,231.5 L531.1,233.7 L531.8,235.9 L532.5,238.0 L533.0,240.1 L533.6,242.1 L534.0,244.1 L534.5,246.1 L534.9,248.0 L535.2,250.0 L535.6,251.9 L535.9,253.8 L536.3,255.7 L536.6,257.6 L536.9,259.5 L537.3,261.4 L537.6,263.4 L537.9,265.3 L538.3,267.2 L538.6,269.1 L538.9,271.1 L539.3,273.0 L539.6,275.0 L539.9,276.9 L540.3,278.9 L540.6,280.8 L540.9,282.7 L541.2,284.7 L541.6,286.7 L541.9,288.6 L542.2,290.6 L542.5,292.5 L542.8,294.5 L543.2,296.5 L543.5,298.4 L543.8,300.4 L544.1,302.4 L544.4,304.4 L544.7,306.3 L545.0,308.3 L545.3,310.3 L545.6,312.3 L545.9,314.2 L546.2,316.2 L546.5,318.2 L546.8,320.2 L547.1,322.2 L547.4,324.2 L547.7,326.1 L548.0,328.1 L548.3,330.1 L548.6,332.1 L548.9,334.1 L549.2,336.1 L549.4,338.1 L549.7,340.1 L550.0,342.1 L550.3,344.1 L550.5,346.0 L550.8,348.0 L551.1,350.0 L551.3,352.0 L551.6,354.0 L551.9,356.0 L552.1,358.0 L552.4,360.0 L552.6,362.0 L552.9,364.0 L553.1,366.0 L553.4,367.9 L553.6,369.9 L553.8,371.9 L554.1,373.9 L554.3,375.9 L554.6,377.9 L554.8,379.9 L555.0,381.9 L555.2,383.9 L555.5,385.9 L555.7,387.8 L555.9,389.8 L556.1,391.8 L556.4,393.8 L556.6,395.8 L556.8,397.8 L557.0,399.8 L557.2,401.8 L557.4,403.8 L557.6,405.8 L557.8,407.7 L558.0,409.7 L558.2,411.7 L558.5,413.7 L558.7,415.7 L558.9,417.7 L559.0,419.7 L559.2,421.7 L559.4,423.7 L559.6,425.6 L559.8,427.6 L560.0,429.6 L560.2,431.6 L560.4,433.6 L560.6,435.6 L560.8,437.6 L560.9,439.6 L561.1,441.6 L561.3,443.6 L561.5,445.5 L561.7,447.5 L561.9,449.5 L562.0,451.5 L562.2,453.5 L562.4,455.5 L562.6,457.5 L562.7,459.5 L562.9,461.5 L563.1,463.4 L563.2,465.4 L563.4,467.4 L563.6,469.4 L563.8,471.4 L563.9,473.4 L564.1,475.4 L564.3,477.4 L564.4,479.4 L564.6,481.3 L564.8,483.3 L564.9,485.3 L565.1,487.3 L565.2,489.3 L565.4,491.3 L565.6,493.3 L565.7,495.3 L565.9,497.3 L566.1,499.3 L566.2,501.2 L566.4,503.2 L566.5,505.2 L566.7,507.2 L566.9,509.2 L567.0,511.2 L567.2,513.2 L567.3,515.2 L567.5,517.2 L567.6,519.2 L567.8,521.2 L568.0,523.1 L568.1,525.1 L568.3,527.1 L568.4,529.1 L568.6,531.1 L568.8,533.1 L568.9,535.1 L569.1,537.1 L569.2,539.1 L569.4,541.1 L569.6,543.1 L569.7,545.1 L569.9,547.0 L570.0,549.0 L570.2,551.0 L570.3,553.0 L570.5,555.0 L570.7,557.0 L570.8,559.0 L571.0,561.0 L571.1,563.0 L571.3,565.0 L571.5,567.0 L571.6,569.0 L571.8,571.0 L571.9,572.9 L572.1,574.9 L572.2,576.9 L572.4,578.9 L572.6,580.9 L572.7,582.9 L572.9,584.9 L573.0,586.9 L573.2,588.9 L573.4,590.9 L573.5,592.9 L573.7,594.9 L573.8,596.9 L574.0,598.9 L574.2,600.8 L574.3,602.8 L574.5,604.8 L574.7,606.8 L574.8,608.8 L575.0,610.8 L575.1,612.8 L575.3,614.8 L575.5,616.8 L575.6,618.8 L575.8,620.8 L576.0,622.8 L576.1,624.8 L576.3,626.8 L576.4,628.7 L576.6,630.7 L576.8,632.7 L576.9,634.7 L577.1,636.7 L577.3,638.7 L577.4,640.7 L577.6,642.7 L577.8,644.7 L577.9,646.7 L578.1,648.7 L578.3,650.7 L578.4,652.7 L578.6,654.7 L578.8,656.7 L578.9,658.6 L579.1,660.6 L579.3,662.6 L579.5,664.6 L579.6,666.6 L579.8,668.6 L580.0,670.6 L580.1,672.6 L580.3,674.6 L580.5,676.6 L580.7,678.6 L580.8,680.6 L581.0,682.6 L581.2,684.5 L581.4,686.5 L581.5,688.5 L581.7,690.5 L581.9,692.5 L582.1,694.5 L582.2,696.5 L582.4,698.5 L582.6,700.5 L582.8,702.5 L583.0,704.5 L583.1,706.5 L583.3,708.5 L583.5,710.4 L583.7,712.4 L583.9,714.4 L584.1,716.4 L584.2,718.4 L584.4,720.4 L584.6,722.4 L584.8,724.4 L585.0,726.4 L585.2,728.4 L585.4,730.4 L585.5,732.4 L585.7,734.3 L585.9,736.3 L586.1,738.3 L586.3,740.3 L586.5,742.3 L586.7,744.3 L586.9,746.3 L587.1,748.3 L587.3,750.3 L587.5,752.3 L587.7,754.2 L587.9,756.2 L588.1,758.2 L588.3,760.2 L588.5,762.2 L588.7,764.2 L588.9,766.2 L589.1,768.2 L589.3,770.2 L589.5,772.2 L589.7,774.1 L589.9,776.1 L590.1,778.1 L590.3,780.1 L590.5,782.1 L590.7,784.1 L590.9,786.1 L591.1,788.1 L591.3,790.0 L591.5,792.0 L591.7,794.0 L592.0,796.0 L592.2,798.0 L592.4,800.0 L592.6,802.0 L592.8,804.0 L593.0,805.9 L593.2,807.9 L593.5,809.9 L593.7,811.9 L593.9,813.9 L594.1,815.9 L594.4,817.9 L594.6,819.9 L594.8,821.8 L595.0,823.8 L595.3,825.8 L595.5,827.8 L595.7,829.8 L595.9,831.8 L596.2,833.7 L596.4,835.7 L596.6,837.7 L596.9,839.7 L597.1,841.7 L597.3,843.7 L597.6,845.7 L597.8,847.6 L598.0,849.6 L598.3,851.6 L598.5,853.6 L598.8,855.6 L599.0,857.6 L599.3,859.5 L599.5,861.5 L599.7,863.5 L600.0,865.5 L600.2,867.5 L600.5,869.4 L600.7,871.4 L601.0,873.4 L601.2,875.4 L601.5,877.4 L601.8,879.4 L602.0,881.3 L602.3,883.3 L602.5,885.3 L602.8,887.3 L603.0,889.3 L603.3,891.2 L603.6,893.2 L603.8,895.2 L604.1,897.2 L604.4,899.2 L604.6,901.1 L604.9,903.1 L605.2,905.1 L605.5,907.1 L605.7,909.0 L606.0,911.0 L606.3,913.0 L606.6,915.0 L606.9,916.9 L607.2,918.9 L607.5,920.9 L607.7,922.9 L608.0,924.9 L608.4,926.8 L608.7,928.8 L609.0,930.8 L609.3,932.7 L609.6,934.7 L609.9,936.7 L610.3,938.7 L610.6,940.6 L610.9,942.6 L611.3,944.6 L611.6,946.6 L612.0,948.5 L612.3,950.5 L612.7,952.5 L613.1,954.4 L613.5,956.4 L613.9,958.4 L614.2,960.3 L614.6,962.3 L615.0,964.3 L615.5,966.2 L615.9,968.2 L616.3,970.2 L616.7,972.1 L617.2,974.1 L617.6,976.0 L618.1,978.0 L618.6,980.0 L619.0,981.9 L619.6,983.9 L620.1,985.8 L620.7,987.8 L621.4,989.7 L622.2,991.7 L623.1,993.6 L624.2,995.6 L625.3,997.5 L626.6,999.2 L627.9,1000.6 L629.4,1001.6 L630.8,1001.8 L632.2,1001.4 L633.6,1000.3 L634.9,998.8 L636.2,997.0 L637.3,995.1 L638.2,993.1 L639.1,991.1 L639.8,989.1 L640.5,987.1 L641.1,985.1 L641.6,983.0 L642.1,981.0 L642.5,978.9 L643.0,976.9 L643.5,974.9 L643.9,972.9 L644.4,970.9 L644.8,969.0 L645.2,967.0 L645.7,965.0 L646.1,963.1 L646.5,961.1 L646.9,959.2 L647.4,957.3 L647.8,955.4 L648.2,953.4 L648.6,951.5 L649.0,949.6 L649.4,947.7 L649.8,945.7 L650.2,943.8 L650.6,941.9 L651.0,940.0 L651.4,938.0 L651.8,936.1 L652.2,934.2 L652.5,932.2 L652.9,930.3 L653.3,928.3 L653.6,926.4 L654.0,924.4 L654.4,922.5 L654.7,920.5 L655.1,918.6 L655.5,916.6 L655.8,914.7 L656.2,912.7 L656.5,910.7 L656.9,908.8 L657.2,906.8 L657.5,904.8 L657.9,902.9 L658.2,900.9 L658.6,898.9 L658.9,896.9 L659.2,895.0 L659.5,893.0 L659.9,891.0 L660.2,889.0 L660.5,887.0 L660.8,885.1 L661.2,883.1 L661.5,881.1 L661.8,879.1 L662.1,877.1 L662.4,875.1 L662.7,873.1 L663.0,871.2 L663.3,869.2 L663.6,867.2 L663.9,865.2 L664.2,863.2 L664.5,861.2 L664.8,859.2 L665.1,857.2 L665.4,855.2 L665.7,853.2 L666.0,851.2 L666.3,849.3 L666.6,847.3 L666.9,845.3 L667.2,843.3 L667.5,841.3 L667.8,839.3 L668.0,837.3 L668.3,835.3 L668.6,833.3 L668.9,831.3 L669.2,829.4 L669.4,827.4 L669.7,825.4 L670.0,823.4 L670.3,821.4 L670.6,819.4 L670.8,817.5 L671.1,815.5 L671.4,813.5 L671.7,811.5 L671.9,809.6 L672.2,807.6 L672.5,805.6 L672.8,803.6 L673.0,801.7 L673.3,799.7 L673.6,797.7 L673.8,795.8 L674.1,793.8 L674.4,791.8 L674.7,789.9 L674.9,787.9 L675.2,786.0 L675.5,784.0 L675.7,782.1 L676.0,780.1 L676.3,778.2 L676.6,776.3 L676.8,774.3 L677.1,772.4 L677.4,770.4 L677.7,768.5 L678.0,766.6 L678.2,764.7 L678.5,762.7 L678.8,760.8 L679.2,758.9 L679.5,756.9 L679.8,755.0 L680.2,753.1 L680.5,751.1 L680.9,749.2 L681.3,747.2 L681.7,745.3 L682.1,743.4 L682.6,741.4 L683.0,739.5 L683.5,737.5 L684.0,735.5 L684.5,733.6 L685.0,731.6 L685.6,729.6 L686.2,727.6 L686.8,725.6 L687.5,723.7 L688.1,721.7 L688.8,719.6 L689.5,717.6 L690.3,715.6 L691.1,713.6 L691.9,711.5 L692.8,709.5 L693.7,707.4 L694.6,705.4 L695.6,703.3 L696.6,701.2 L697.6,699.3 L698.7,697.6 L699.8,696.1 L701.0,695.1 L702.2,694.6 L703.4,694.6 L704.7,695.2 L706.0,696.4 L707.3,698.0 L708.6,699.8 L709.8,701.9 L710.9,704.0 L711.9,706.1 L712.8,708.2 L713.7,710.2 L714.4,712.2 L715.0,714.2 L715.6,716.2 L716.1,718.1 L716.6,720.0 L717.0,721.9 L717.4,723.7 L717.8,725.6 L718.1,727.5 L718.5,729.4 L718.8,731.2 L719.2,733.1 L719.5,735.1 L719.9,737.0 L720.2,738.9 L720.6,740.8 L720.9,742.8 L721.3,744.7 L721.7,746.7 L722.0,748.6 L722.4,750.6 L722.8,752.6 L723.1,754.6 L723.5,756.5 L723.9,758.5 L724.2,760.5 L724.6,762.5 L724.9,764.5 L725.3,766.5 L725.6,768.5 L726.0,770.5 L726.3,772.5 L726.7,774.5 L727.0,776.5 L727.3,778.5 L727.6,780.5 L728.0,782.5 L728.3,784.5 L728.6,786.4 L728.9,788.4 L729.2,790.4 L729.4,792.4 L729.7,794.4 L730.0,796.4 L730.3,798.4 L730.6,800.3 L730.8,802.3 L731.1,804.3 L731.4,806.3 L731.6,808.3 L731.9,810.2 L732.1,812.2 L732.4,814.2 L732.6,816.2 L732.9,818.1 L733.1,820.1 L733.3,822.1 L733.6,824.1 L733.8,826.0 L734.0,828.0 L734.3,830.0 L734.5,832.0 L734.7,833.9 L735.0,835.9 L735.2,837.9 L735.4,839.9 L735.6,841.9 L735.9,843.8 L736.1,845.8 L736.3,847.8 L736.5,849.8 L736.7,851.7 L737.0,853.7 L737.2,855.7 L737.4,857.7 L737.6,859.7 L737.8,861.7 L738.1,863.6 L738.3,865.6 L738.5,867.6 L738.7,869.6 L738.9,871.6 L739.2,873.6 L739.4,875.6 L739.6,877.5 L739.8,879.5 L740.0,881.5 L740.3,883.5 L740.5,885.5 L740.7,887.5 L740.9,889.5 L741.1,891.5 L741.4,893.5 L741.6,895.4 L741.8,897.4 L742.0,899.4 L742.2,901.4 L742.4,903.4 L742.7,905.4 L742.9,907.4 L743.1,909.4 L743.3,911.4 L743.5,913.4 L743.7,915.4 L744.0,917.4 L744.2,919.4 L744.4,921.4 L744.6,923.3 L744.8,925.3 L745.0,927.3 L745.3,929.3 L745.5,931.3 L745.7,933.3 L745.9,935.3 L746.1,937.3 L746.3,939.3 L746.6,941.3 L746.8,943.3 L747.0,945.3 L747.2,947.3 L747.4,949.3 L747.6,951.3 L747.9,953.3 L748.1,955.3 L748.3,957.2 L748.5,959.2 L748.7,961.2 L748.9,963.2 L749.2,965.2 L749.4,967.2 L749.6,969.2 L749.8,971.2 L750.0,973.2 L750.2,975.2 L750.5,977.2 L750.7,979.2 L750.9,981.2 L751.1,983.2 L751.3,985.1 L751.5,987.1 L751.8,989.1 L752.0,991.1 L752.2,993.1 L752.4,995.1 L752.6,997.1 L752.9,999.1 L753.1,1001.1 L753.3,1003.1 L753.5,1005.0 L753.7,1007.0 L753.9,1009.0 L754.2,1011.0 L754.4,1013.0 L754.6,1015.0 L754.8,1017.0 L755.0,1019.0 L755.3,1020.9 L755.5,1022.9 L755.7,1024.9 L755.9,1026.9 L756.1,1028.9 L756.4,1030.9 L756.6,1032.9 L756.8,1034.8 L757.0,1036.8 L757.2,1038.8 L757.5,1040.8 L757.7,1042.8 L757.9,1044.8 L758.1,1046.7 L758.3,1048.7 L758.6,1050.7 L758.8,1052.7 L759.0,1054.7 L759.2,1056.6 L759.5,1058.6 L759.7,1060.6 L759.9,1062.6 L760.1,1064.6 L760.4,1066.6 L760.6,1068.5 L760.8,1070.5 L761.0,1072.5 L761.3,1074.5 L761.5,1076.5 L761.7,1078.4 L761.9,1080.4 L762.2,1082.4 L762.4,1084.4 L762.6,1086.4 L762.9,1088.3 L763.1,1090.3 L763.3,1092.3 L763.6,1094.3 L763.8,1096.3 L764.0,1098.2 L764.2,1100.2 L764.5,1102.2 L764.7,1104.2 L764.9,1106.2 L765.2,1108.1 L765.4,1110.1 L765.6,1112.1 L765.9,1114.1 L766.1,1116.1 L766.3,1118.0 L766.6,1120.0 L766.8,1122.0 L767.1,1124.0 L767.3,1125.9 L767.5,1127.9 L767.8,1129.9 L768.0,1131.9 L768.2,1133.9 L768.5,1135.8 L768.7,1137.8 L769.0,1139.8 L769.2,1141.8 L769.5,1143.8 L769.7,1145.7 L769.9,1147.7 L770.2,1149.7 L770.4,1151.7 L770.7,1153.7 L770.9,1155.6 L771.2,1157.6 L771.4,1159.6 L771.7,1161.6 L771.9,1163.6 L772.2,1165.5 L772.4,1167.5 L772.7,1169.5 L772.9,1171.5 L773.2,1173.5 L773.4,1175.4 L773.7,1177.4 L773.9,1179.4 L774.2,1181.4 L774.4,1183.4 L774.7,1185.3 L774.9,1187.3 L775.2,1189.3 L775.4,1191.3 L775.7,1193.3 L776.0,1195.3 L776.2,1197.2 L776.5,1199.2 L776.7,1201.2 L777.0,1203.2 L777.3,1205.2 L777.5,1207.2 L777.8,1209.1 L778.1,1211.1 L778.3,1213.1 L778.6,1215.1 L778.9,1217.1 L779.1,1219.1 L779.4,1221.0 L779.7,1223.0 L779.9,1225.0 L780.2,1227.0 L780.5,1229.0 L780.8,1231.0 L781.0,1233.0 L781.3,1235.0 L781.6,1236.9 L781.9,1238.9 L782.1,1240.9 L782.4,1242.9 L782.7,1244.9 L783.0,1246.9 L783.3,1248.9 L783.5,1250.9 L783.8,1252.9 L784.1,1254.8 L784.4,1256.8 L784.7,1258.8 L785.0,1260.8 L785.2,1262.8 L785.5,1264.8 L785.8,1266.8 L786.1,1268.8 L786.4,1270.8 L786.7,1272.8 L787.0,1274.8 L787.3,1276.8 L787.6,1278.8 L787.9,1280.7 L788.2,1282.7 L788.5,1284.7 L788.8,1286.7 L789.1,1288.7 L789.4,1290.7 L789.7,1292.7 L790.0,1294.7 L790.3,1296.7 L790.6,1298.7 L790.9,1300.7 L791.2,1302.7 L791.6,1304.7 L791.9,1306.7 L792.3,1308.7 L792.6,1310.6 L793.0,1312.6 L793.3,1314.6 L793.7,1316.6 L794.1,1318.5 L794.5,1320.5 L794.9,1322.5 L795.3,1324.4 L795.7,1326.4 L796.1,1328.3 L796.6,1330.3 L797.0,1332.2 L797.5,1334.1 L798.0,1336.1 L798.5,1338.0 L799.0,1339.9 L799.5,1341.8 L800.1,1343.7 L800.6,1345.6 L801.2,1347.5 L801.8,1349.4 L802.4,1351.3 L803.0,1353.1 L803.7,1355.0 L804.3,1356.8 L805.0,1358.7 L805.7,1360.5 L806.4,1362.3 L807.2,1364.1 L807.9,1365.9 L808.7,1367.7 L809.5,1369.5 L810.4,1371.3 L811.2,1373.0 L812.1,1374.8 L813.0,1376.5 L813.9,1378.2 L814.9,1380.0 L815.9,1381.7 L816.9,1383.3 L817.9,1385.0 L819.0,1386.7 L820.1,1388.3 L821.2,1390.0 L822.3,1391.6 L823.5,1393.2 L824.7,1394.8 L826.0,1396.4 L827.2,1398.0 L828.5,1399.5 L829.8,1401.1 L831.2,1402.6 L832.6,1404.1 L834.0,1405.6 L835.5,1407.1 L837.0,1408.5"/>
<path stroke="#0000ff" d="M108.0,1516.8 L109.0,1515.1 L110.1,1513.3 L111.1,1511.6 L112.1,1509.8 L113.1,1508.1 L114.1,1506.3 L115.0,1504.5 L116.0,1502.8 L116.9,1501.0 L117.8,1499.2 L118.7,1497.4 L119.6,1495.6 L120.5,1493.8 L121.4,1492.0 L122.2,1490.2 L123.1,1488.4 L123.9,1486.6 L124.7,1484.7 L125.5,1482.9 L126.3,1481.1 L127.1,1479.2 L127.8,1477.4 L128.6,1475.6 L129.3,1473.7 L130.0,1471.8 L130.7,1470.0 L131.4,1468.1 L132.1,1466.3 L132.8,1464.4 L133.5,1462.5 L134.1,1460.6 L134.8,1458.7 L135.4,1456.9 L136.1,1455.0 L136.7,1453.1 L137.3,1451.2 L137.9,1449.3 L138.5,1447.4 L139.1,1445.5 L139.6,1443.6 L140.2,1441.6 L140.7,1439.7 L141.3,1437.8 L141.8,1435.9 L142.4,1434.0 L142.9,1432.0 L143.4,1430.1 L143.9,1428.2 L144.4,1426.2 L144.9,1424.3 L145.4,1422.4 L145.8,1420.4 L146.3,1418.5 L146.8,1416.5 L147.2,1414.6 L147.7,1412.7 L148.1,1410.7 L148.6,1408.7 L149.0,1406.8 L149.4,1404.8 L149.8,1402.9 L150.3,1400.9 L150.7,1399.0 L151.1,1397.0 L151.5,1395.0 L151.9,1393.1 L152.3,1391.1 L152.7,1389.1 L153.0,1387.2 L153.4,1385.2 L153.8,1383.2 L154.2,1381.3 L154.5,1379.3 L154.9,1377.3 L155.3,1375.4 L155.6,1373.4 L156.0,1371.4 L156.3,1369.5 L156.7,1367.5 L157.0,1365.5 L157.4,1363.5 L157.7,1361.6 L158.1,1359.6 L158.4,1357.6 L158.8,1355.7 L159.1,1353.7 L159.4,1351.7 L159.8,1349.7 L160.1,1347.8 L160.4,1345.8 L160.7,1343.8 L161.0,1341.8 L161.4,1339.9 L161.7,1337.9 L162.0,1335.9 L162.3,1333.9 L162.6,1332.0 L162.9,1330.0 L163.2,1328.0 L163.5,1326.0 L163.8,1324.0 L164.1,1322.1 L164.4,1320.1 L164.7,1318.1 L165.0,1316.1 L165.3,1314.2 L165.6,1312.2 L165.9,1310.2 L166.2,1308.2 L166.5,1306.2 L166.7,1304.3 L167.0,1302.3 L167.3,1300.3 L167.6,1298.3 L167.8,1296.3 L168.1,1294.4 L168.4,1292.4 L168.7,1290.4 L168.9,1288.4 L169.2,1286.4 L169.5,1284.4 L169.7,1282.5 L170.0,1280.5 L170.2,1278.5 L170.5,1276.5 L170.8,1274.5 L171.0,1272.6 L171.3,1270.6 L171.5,1268.6 L171.8,1266.6 L172.0,1264.6 L172.3,1262.6 L172.5,1260.7 L172.8,1258.7 L173.0,1256.7 L173.3,1254.7 L173.5,1252.7 L173.7,1250.7 L174.0,1248.8 L174.2,1246.8 L174.5,1244.8 L174.7,1242.8 L174.9,1240.8 L175.2,1238.8 L175.4,1236.8 L175.6,1234.9 L175.9,1232.9 L176.1,1230.9 L176.3,1228.9 L176.6,1226.9 L176.8,1224.9 L177.0,1222.9 L177.3,1221.0 L177.5,1219.0 L177.7,1217.0 L177.9,1215.0 L178.2,1213.0 L178.4,1211.0 L178.6,1209.0 L178.8,1207.1 L179.0,1205.1 L179.3,1203.1 L179.5,1201.1 L179.7,1199.1 L179.9,1197.1 L180.1,1195.1 L180.4,1193.1 L180.6,1191.2 L180.8,1189.2 L181.0,1187.2 L181.2,1185.2 L181.5,1183.2 L181.7,1181.2 L181.9,1179.2 L182.1,1177.2 L182.3,1175.3 L182.5,1173.3 L182.7,1171.3 L183.0,1169.3 L183.2,1167.3 L183.4,1165.3 L183.6,1163.3 L183.8,1161.3 L184.0,1159.4 L184.2,1157.4 L184.4,1155.4 L184.6,1153.4 L184.8,1151.4 L185.1,1149.4 L185.3,1147.4 L185.5,1145.4 L185.7,1143.5 L185.9,1141.5 L186.1,1139.5 L186.3,1137.5 L186.5,1135.5 L186.7,1133.5 L186.9,1131.5 L187.1,1129.5 L187.3,1127.5 L187.5,1125.6 L187.7,1123.6 L187.9,1121.6 L188.1,1119.6 L188.3,1117.6 L188.5,1115.6 L188.7,1113.6 L188.9,1111.6 L189.1,1109.6 L189.3,1107.7 L189.5,1105.7 L189.7,1103.7 L189.9,1101.7 L190.1,1099.7 L190.3,1097.7 L190.5,1095.7 L190.7,1093.7 L190.9,1091.7 L191.1,1089.7 L191.3,1087.8 L191.5,1085.8 L191.7,1083.8 L191.8,1081.8 L192.0,1079.8 L192.2,1077.8 L192.4,1075.8 L192.6,1073.8 L192.8,1071.8 L193.0,1069.8 L193.2,1067.9 L193.4,1065.9 L193.6,1063.9 L193.7,1061.9 L193.9,1059.9 L194.1,1057.9 L194.3,1055.9 L194.5,1053.9 L194.7,1051.9 L194.9,1049.9 L195.1,1047.9 L195.2,1046.0 L195.4,1044.0 L195.6,1042.0 L195.8,1040.0 L196.0,1038.0 L196.2,1036.0 L196.3,1034.0 L196.5,1032.0 L196.7,1030.0 L196.9,1028.0 L197.1,1026.0 L197.2,1024.1 L197.4,1022.1 L197.6,1020.1 L197.8,1018.1 L198.0,1016.1 L198.1,1014.1 L198.3,1012.1 L198.5,1010.1 L198.7,1008.1 L198.9,1006.1 L199.0,1004.1 L199.2,1002.2 L199.4,1000.2 L199.6,998.2 L199.7,996.2 L199.9,994.2 L200.1,992.2 L200.3,990.2 L200.4,988.2 L200.6,986.2 L200.8,984.2 L200.9,982.2 L201.1,980.2 L201.3,978.2 L201.5,976.3 L201.6,974.3 L201.8,972.3 L202.0,970.3 L202.2,968.3 L202.3,966.3 L202.5,964.3 L202.7,962.3 L202.8,960.3 L203.0,958.3 L203.2,956.3 L203.3,954.3 L203.5,952.3 L203.7,950.4 L203.8,948.4 L204.0,946.4 L204.2,944.4 L204.3,942.4 L204.5,940.4 L204.7,938.4 L204.8,936.4 L205.0,934.4 L205.2,932.4 L205.3,930.4 L205.5,928.4 L205.7,926.4 L205.8,924.5 L206.0,922.5 L206.1,920.5 L206.3,918.5 L206.5,916.5 L206.6,914.5 L206.8,912.5 L207.0,910.5 L207.1,908.5 L207.3,906.5 L207.4,904.5 L207.6,902.5 L207.8,900.5 L207.9,898.5 L208.1,896.5 L208.2,894.6 L208.4,892.6 L208.5,890.6 L208.7,888.6 L208.9,886.6 L209.0,884.6 L209.2,882.6 L209.3,880.6 L209.5,878.6 L209.6,876.6 L209.8,874.6 L210.0,872.6 L210.1,870.6 L210.3,868.6 L210.4,866.6 L210.6,864.6 L210.7,862.7 L210.9,860.7 L211.0,858.7 L211.2,856.7 L211.4,854.7 L211.5,852.7 L211.7,850.7 L211.8,848.7 L212.0,846.7 L212.1,844.7 L212.3,842.7 L212.4,840.7 L212.6,838.7 L212.7,836.7 L212.9,834.7 L213.0,832.7 L213.2,830.7 L213.3,828.8 L213.5,826.8 L213.6,824.8 L213.8,822.8 L213.9,820.8 L214.1,818.8 L214.2,816.8 L214.4,814.8 L214.5,812.8 L214.7,810.8 L214.8,808.8 L215.0,806.8 L215.1,804.8 L215.3,802.8 L215.4,800.8 L215.6,798.8 L215.7,796.8 L215.9,794.9 L216.0,792.9 L216.2,790.9 L216.3,788.9 L216.5,786.9 L216.6,784.9 L216.8,782.9 L216.9,780.9 L217.1,778.9 L217.2,776.9 L217.4,774.9 L217.5,772.9 L217.7,770.9 L217.8,768.9 L218.0,766.9 L218.1,764.9 L218.3,762.9 L218.4,761.0 L218.6,759.0 L218.8,757.0 L218.9,755.0 L219.1,753.0 L219.2,751.0 L219.4,749.0 L219.5,747.0 L219.7,745.0 L219.9,743.0 L220.0,741.0 L220.2,739.0 L220.3,737.0 L220.5,735.0 L220.7,733.1 L220.8,731.1 L221.0,729.1 L221.2,727.1 L221.3,725.1 L221.5,723.1 L221.7,721.1 L221.8,719.1 L222.0,717.1 L222.2,715.1 L222.4,713.1 L222.5,711.1 L222.7,709.2 L222.9,707.2 L223.1,705.2 L223.2,703.2 L223.4,701.2 L223.6,699.2 L223.8,697.2 L224.0,695.2 L224.1,693.2 L224.3,691.2 L224.5,689.2 L224.7,687.3 L224.9,685.3 L225.1,683.3 L225.3,681.3 L225.5,679.3 L225.7,677.3 L225.8,675.3 L226.0,673.3 L226.2,671.3 L226.4,669.4 L226.6,667.4 L226.8,665.4 L227.0,663.4 L227.3,661.4 L227.5,659.4 L227.7,657.4 L227.9,655.4 L228.1,653.5 L228.3,651.5 L228.5,649.5 L228.7,647.5 L229.0,645.5 L229.2,643.5 L229.4,641.5 L229.6,639.6 L229.8,637.6 L230.1,635.6 L230.3,633.6 L230.5,631.6 L230.8,629.6 L231.0,627.6 L231.2,625.7 L231.5,623.7 L231.7,621.7 L231.9,619.7 L232.2,617.7 L232.4,615.7 L232.7,613.8 L232.9,611.8 L233.2,609.8 L233.4,607.8 L233.7,605.8 L233.9,603.8 L234.2,601.8 L234.4,599.9 L234.7,597.9 L235.0,595.9 L235.2,593.9 L235.5,591.9 L235.8,589.9 L236.0,587.9 L236.3,586.0 L236.6,584.0 L236.9,582.0 L237.1,580.0 L237.4,578.0 L237.7,576.0 L238.0,574.0 L238.3,572.1 L238.5,570.1 L238.8,568.1 L239.1,566.1 L239.4,564.1 L239.7,562.1 L240.0,560.1 L240.3,558.1 L240.6,556.2 L240.9,554.2 L241.2,552.2 L241.5,550.2 L241.8,548.2 L242.1,546.2 L242.4,544.2 L242.8,542.3 L243.1,540.3 L243.4,538.3 L243.7,536.3 L244.0,534.3 L244.3,532.4 L244.6,530.4 L244.9,528.4 L245.2,526.5 L245.5,524.5 L245.8,522.6 L246.1,520.6 L246.4,518.7 L246.7,516.7 L247.0,514.8 L247.2,512.9 L247.5,511.0 L247.8,509.1 L248.1,507.1 L248.4,505.2 L248.7,503.3 L249.1,501.4 L249.5,499.4 L250.0,497.4 L250.5,495.5 L251.1,493.4 L251.7,491.4 L252.5,489.3 L253.4,487.2 L254.3,485.0 L255.4,482.9 L256.5,480.7 L257.8,478.8 L259.0,477.0 L260.3,475.6 L261.5,474.7 L262.7,474.2 L263.8,474.3 L264.9,475.0 L265.9,476.2 L266.9,477.7 L267.8,479.6 L268.7,481.6 L269.5,483.7 L270.3,485.9 L271.0,488.0 L271.8,490.2 L272.5,492.3 L273.2,494.4 L273.8,496.5 L274.5,498.6 L275.1,500.6 L275.7,502.7 L276.2,504.7 L276.8,506.8 L277.3,508.8 L277.8,510.9 L278.3,512.9 L278.8,514.9 L279.2,516.9 L279.6,518.9 L280.1,520.9 L280.5,522.9 L280.8,524.8 L281.2,526.8 L281.6,528.8 L281.9,530.8 L282.2,532.7 L282.6,534.7 L282.9,536.6 L283.2,538.6 L283.5,540.5 L283.8,542.5 L284.0,544.4 L284.3,546.4 L284.6,548.3 L284.8,550.2 L285.1,552.2 L285.4,554.1 L285.6,556.1 L285.8,558.0 L286.1,559.9 L286.3,561.9 L286.6,563.8 L286.8,565.8 L287.1,567.7 L287.3,569.7 L287.6,571.6 L287.8,573.6 L288.1,575.5 L288.3,577.5 L288.5,579.5 L288.8,581.4 L289.0,583.4 L289.3,585.3 L289.5,587.3 L289.7,589.3 L290.0,591.2 L290.2,593.2 L290.4,595.2 L290.7,597.1 L290.9,599.1 L291.2,601.1 L291.4,603.1 L291.6,605.0 L291.9,607.0 L292.1,609.0 L292.3,611.0 L292.6,612.9 L292.8,614.9 L293.0,616.9 L293.2,618.9 L293.5,620.8 L293.7,622.8 L293.9,624.8 L294.2,626.8 L294.4,628.8 L294.6,630.8 L294.8,632.7 L295.1,634.7 L295.3,636.7 L295.5,638.7 L295.7,640.7 L296.0,642.7 L296.2,644.7 L296.4,646.7 L296.6,648.7 L296.9,650.6 L297.1,652.6 L297.3,654.6 L297.5,656.6 L297.8,658.6 L298.0,660.6 L298.2,662.6 L298.4,664.6 L298.6,666.6 L298.8,668.6 L299.1,670.6 L299.3,672.6 L299.5,674.6 L299.7,676.6 L299.9,678.6 L300.1,680.5 L300.4,682.5 L300.6,684.5 L300.8,686.5 L301.0,688.5 L301.2,690.5 L301.4,692.5 L301.6,694.5 L301.9,696.5 L302.1,698.5 L302.3,700.5 L302.5,702.5 L302.7,704.5 L302.9,706.5 L303.1,708.5 L303.3,710.5 L303.5,712.5 L303.8,714.5 L304.0,716.5 L304.2,718.5 L304.4,720.5 L304.6,722.4 L304.8,724.4 L305.0,726.4 L305.2,728.4 L305.4,730.4 L305.6,732.4 L305.8,734.4 L306.0,736.4 L306.2,738.4 L306.4,740.4 L306.6,742.4 L306.9,744.4 L307.1,746.4 L307.3,748.4 L307.5,750.3 L307.7,752.3 L307.9,754.3 L308.1,756.3 L308.3,758.3 L308.5,760.3 L308.7,762.3 L308.9,764.3 L309.1,766.3 L309.3,768.3 L309.5,770.3 L309.7,772.3 L309.9,774.2 L310.1,776.2 L310.3,778.2 L310.5,780.2 L310.7,782.2 L310.9,784.2 L311.1,786.2 L311.3,788.2 L311.5,790.2 L311.7,792.2 L311.9,794.2 L312.1,796.1 L312.3,798.1 L312.5,800.1 L312.6,802.1 L312.8,804.1 L313.0,806.1 L313.2,808.1 L313.4,810.1 L313.6,812.1 L313.8,814.1 L314.0,816.0 L314.2,818.0 L314.4,820.0 L314.6,822.0 L314.8,824.0 L315.0,826.0 L315.2,828.0 L315.4,830.0 L315.6,832.0 L315.8,833.9 L316.0,835.9 L316.1,837.9 L316.3,839.9 L316.5,841.9 L316.7,843.9 L316.9,845.9 L317.1,847.9 L317.3,849.9 L317.5,851.8 L317.7,853.8 L317.9,855.8 L318.1,857.8 L318.2,859.8 L318.4,861.8 L318.6,863.8 L318.8,865.8 L319.0,867.8 L319.2,869.7 L319.4,871.7 L319.6,873.7 L319.8,875.7 L320.0,877.7 L320.1,879.7 L320.3,881.7 L320.5,883.7 L320.7,885.6 L320.9,887.6 L321.1,889.6 L321.3,891.6 L321.5,893.6 L321.7,895.6 L321.8,897.6 L322.0,899.6 L322.2,901.6 L322.4,903.5 L322.6,905.5 L322.8,907.5 L323.0,909.5 L323.2,911.5 L323.3,913.5 L323.5,915.5 L323.7,917.5 L323.9,919.4 L324.1,921.4 L324.3,923.4 L324.5,925.4 L324.7,927.4 L324.8,929.4 L325.0,931.4 L325.2,933.4 L325.4,935.4 L325.6,937.3 L325.8,939.3 L326.0,941.3 L326.1,943.3 L326.3,945.3 L326.5,947.3 L326.7,949.3 L326.9,951.3 L327.1,953.2 L327.3,955.2 L327.5,957.2 L327.6,959.2 L327.8,961.2 L328.0,963.2 L328.2,965.2 L328.4,967.2 L328.6,969.2 L328.8,971.1 L328.9,973.1 L329.1,975.1 L329.3,977.1 L329.5,979.1 L329.7,981.1 L329.9,983.1 L330.1,985.1 L330.2,987.1 L330.4,989.1 L330.6,991.0 L330.8,993.0 L331.0,995.0 L331.2,997.0 L331.4,999.0 L331.6,1001.0 L331.7,1003.0 L331.9,1005.0 L332.1,1007.0 L332.3,1009.0 L332.5,1010.9 L332.7,1012.9 L332.9,1014.9 L333.1,1016.9 L333.2,1018.9 L333.4,1020.9 L333.6,1022.9 L333.8,1024.9 L334.0,1026.9 L334.2,1028.9 L334.4,1030.8 L334.6,1032.8 L334.7,1034.8 L334.9,1036.8 L335.1,1038.8 L335.3,1040.8 L335.5,1042.8 L335.7,1044.8 L335.9,1046.8 L336.1,1048.8 L336.2,1050.8 L336.4,1052.8 L336.6,1054.7 L336.8,1056.7 L337.0,1058.7 L337.2,1060.7 L337.4,1062.7 L337.6,1064.7 L337.8,1066.7 L338.0,1068.7 L338.1,1070.7 L338.3,1072.7 L338.5,1074.7 L338.7,1076.7 L338.9,1078.7 L339.1,1080.7 L339.3,1082.6 L339.5,1084.6 L339.7,1086.6 L339.9,1088.6 L340.1,1090.6 L340.3,1092.6 L340.5,1094.6 L340.7,1096.6 L340.9,1098.6 L341.1,1100.6 L341.3,1102.6 L341.5,1104.6 L341.7,1106.6 L341.9,1108.6 L342.1,1110.5 L342.3,1112.5 L342.5,1114.5 L342.7,1116.5 L342.9,1118.5 L343.2,1120.5 L343.4,1122.5 L343.6,1124.5 L343.8,1126.5 L344.0,1128.5 L344.2,1130.5 L344.5,1132.4 L344.7,1134.4 L344.9,1136.4 L345.1,1138.4 L345.4,1140.4 L345.6,1142.4 L345.8,1144.4 L346.1,1146.4 L346.3,1148.3 L346.5,1150.3 L346.8,1152.3 L347.0,1154.3 L347.3,1156.3 L347.5,1158.3 L347.8,1160.3 L348.0,1162.2 L348.3,1164.2 L348.5,1166.2 L348.8,1168.2 L349.1,1170.2 L349.3,1172.2 L349.6,1174.1 L349.9,1176.1 L350.1,1178.1 L350.4,1180.1 L350.7,1182.1 L351.0,1184.0 L351.2,1186.0 L351.5,1188.0 L351.8,1190.0 L352.1,1191.9 L352.4,1193.9 L352.7,1195.9 L353.0,1197.9 L353.3,1199.8 L353.6,1201.8 L353.9,1203.8 L354.2,1205.8 L354.5,1207.7 L354.9,1209.7 L355.2,1211.7 L355.5,1213.6 L355.8,1215.6 L356.2,1217.6 L356.5,1219.6 L356.8,1221.5 L357.2,1223.5 L357.5,1225.5 L357.9,1227.4 L358.2,1229.4 L358.6,1231.3 L359.0,1233.3 L359.3,1235.3 L359.7,1237.2 L360.1,1239.2 L360.4,1241.1 L360.8,1243.1 L361.2,1245.0 L361.6,1247.0 L362.0,1249.0 L362.4,1250.9 L362.8,1252.9 L363.2,1254.8 L363.7,1256.8 L364.1,1258.7 L364.5,1260.6 L365.0,1262.6 L365.4,1264.5 L365.9,1266.5 L366.3,1268.4 L366.8,1270.3 L367.3,1272.3 L367.8,1274.2 L368.3,1276.1 L368.8,1278.1 L369.3,1280.0 L369.8,1281.9 L370.3,1283.8 L370.9,1285.8 L371.4,1287.7 L371.9,1289.6 L372.5,1291.5 L373.1,1293.4 L373.7,1295.3 L374.2,1297.2 L374.8,1299.1 L375.4,1301.0 L376.1,1302.9 L376.7,1304.8 L377.3,1306.7 L378.0,1308.6 L378.6,1310.5 L379.3,1312.4 L380.0,1314.3 L380.7,1316.2 L381.5,1318.0 L382.2,1319.9 L383.1,1321.8 L384.0,1323.7 L384.9,1325.6 L385.9,1327.5 L387.0,1329.4 L388.2,1331.4 L389.4,1333.3 L390.8,1335.0 L392.1,1336.5 L393.6,1337.8 L395.0,1338.6 L396.6,1338.9 L398.1,1338.7 L399.6,1337.9 L401.2,1336.7 L402.6,1335.2 L404.1,1333.5 L405.4,1331.6 L406.6,1329.7 L407.7,1327.8 L408.7,1325.9 L409.6,1324.0 L410.4,1322.1 L411.1,1320.2 L411.8,1318.3 L412.4,1316.4 L413.0,1314.5 L413.6,1312.6 L414.1,1310.7 L414.7,1308.8 L415.2,1306.9 L415.8,1305.1 L416.4,1303.1 L416.9,1301.2 L417.5,1299.3 L418.1,1297.4 L418.6,1295.5 L419.2,1293.6 L419.8,1291.7 L420.3,1289.8 L420.9,1287.8 L421.4,1285.9 L422.0,1284.0 L422.5,1282.0 L423.0,1280.1 L423.6,1278.2 L424.1,1276.2 L424.6,1274.3 L425.1,1272.3 L425.6,1270.4 L426.0,1268.4 L426.5,1266.5 L426.9,1264.5 L427.4,1262.6 L427.8,1260.6 L428.2,1258.7 L428.6,1256.7 L429.0,1254.8 L429.4,1252.8 L429.7,1250.8 L430.1,1248.9 L430.5,1246.9 L430.8,1244.9 L431.2,1243.0 L431.5,1241.0 L431.8,1239.0 L432.1,1237.1 L432.4,1235.1 L432.7,1233.1 L433.0,1231.1 L433.3,1229.2 L433.6,1227.2 L433.9,1225.2 L434.2,1223.2 L434.5,1221.3 L434.7,1219.3 L435.0,1217.3 L435.3,1215.3 L435.5,1213.3 L435.8,1211.4 L436.1,1209.4 L436.3,1207.4 L436.6,1205.4 L436.8,1203.4 L437.1,1201.4 L437.3,1199.5 L437.6,1197.5 L437.9,1195.5 L438.1,1193.5 L438.4,1191.5 L438.6,1189.5 L438.9,1187.6 L439.1,1185.6 L439.4,1183.6 L439.6,1181.6 L439.9,1179.6 L440.1,1177.6 L440.4,1175.7 L440.6,1173.7 L440.9,1171.7 L441.2,1169.7 L441.4,1167.7 L441.7,1165.7 L441.9,1163.8 L442.2,1161.8 L442.4,1159.8 L442.7,1157.8 L442.9,1155.8 L443.2,1153.8 L443.4,1151.8 L443.7,1149.9 L443.9,1147.9 L444.1,1145.9 L444.4,1143.9 L444.6,1141.9 L444.9,1139.9 L445.1,1138.0 L445.4,1136.0 L445.6,1134.0 L445.9,1132.0 L446.1,1130.0 L446.3,1128.0 L446.6,1126.0 L446.8,1124.1 L447.1,1122.1 L447.3,1120.1 L447.5,1118.1 L447.8,1116.1 L448.0,1114.1 L448.2,1112.1 L448.5,1110.1 L448.7,1108.2 L449.0,1106.2 L449.2,1104.2 L449.4,1102.2 L449.6,1100.2 L449.9,1098.2 L450.1,1096.2 L450.3,1094.3 L450.6,1092.3 L450.8,1090.3 L451.0,1088.3 L451.2,1086.3 L451.5,1084.3 L451.7,1082.3 L451.9,1080.3 L452.1,1078.4 L452.4,1076.4 L452.6,1074.4 L452.8,1072.4 L453.0,1070.4 L453.2,1068.4 L453.5,1066.4 L453.7,1064.4 L453.9,1062.5 L454.1,1060.5 L454.3,1058.5 L454.5,1056.5 L454.8,1054.5 L455.0,1052.5 L455.2,1050.5 L455.4,1048.5 L455.6,1046.6 L455.8,1044.6 L456.0,1042.6 L456.2,1040.6 L456.4,1038.6 L456.7,1036.6 L456.9,1034.6 L457.1,1032.6 L457.3,1030.7 L457.5,1028.7 L457.7,1026.7 L457.9,1024.7 L458.1,1022.7 L458.3,1020.7 L458.5,1018.7 L458.7,1016.7 L458.9,1014.7 L459.1,1012.8 L459.3,1010.8 L459.5,1008.8 L459.7,1006.8 L459.9,1004.8 L460.1,1002.8 L460.3,1000.8 L460.5,998.8 L460.7,996.8 L460.9,994.9 L461.1,992.9 L461.3,990.9 L461.5,988.9 L461.7,986.9 L461.9,984.9 L462.1,982.9 L462.3,980.9 L462.5,978.9 L462.7,977.0 L462.9,975.0 L463.0,973.0 L463.2,971.0 L463.4,969.0 L463.6,967.0 L463.8,965.0 L464.0,963.0 L464.2,961.0 L464.4,959.0 L464.6,957.1 L464.8,955.1 L465.0,953.1 L465.1,951.1 L465.3,949.1 L465.5,947.1 L465.7,945.1 L465.9,943.1 L466.1,941.1 L466.3,939.1 L466.5,937.2 L466.6,935.2 L466.8,933.2 L467.0,931.2 L467.2,929.2 L467.4,927.2 L467.6,925.2 L467.8,923.2 L467.9,921.2 L468.1,919.2 L468.3,917.3 L468.5,915.3 L468.7,913.3 L468.9,911.3 L469.0,909.3 L469.2,907.3 L469.4,905.3 L469.6,903.3 L469.8,901.3 L470.0,899.3 L470.1,897.4 L470.3,895.4 L470.5,893.4 L470.7,891.4 L470.9,889.4 L471.0,887.4 L471.2,885.4 L471.4,883.4 L471.6,881.4 L471.8,879.4 L472.0,877.4 L472.1,875.5 L472.3,873.5 L472.5,871.5 L472.7,869.5 L472.9,867.5 L473.0,865.5 L473.2,863.5 L473.4,861.5 L473.6,859.5 L473.8,857.5 L473.9,855.5 L474.1,853.6 L474.3,851.6 L474.5,849.6 L474.7,847.6 L474.9,845.6 L475.0,843.6 L475.2,841.6 L475.4,839.6 L475.6,837.6 L475.8,835.6 L475.9,833.6 L476.1,831.6 L476.3,829.7 L476.5,827.7 L476.7,825.7 L476.8,823.7 L477.0,821.7 L477.2,819.7 L477.4,817.7 L477.6,815.7 L477.8,813.7 L477.9,811.7 L478.1,809.7 L478.3,807.8 L478.5,805.8 L478.7,803.8 L478.9,801.8 L479.0,799.8 L479.2,797.8 L479.4,795.8 L479.6,793.8 L479.8,791.8 L480.0,789.8 L480.1,787.8 L480.3,785.8 L480.5,783.9 L480.7,781.9 L480.9,779.9 L481.1,777.9 L481.3,775.9 L481.4,773.9 L481.6,771.9 L481.8,769.9 L482.0,767.9 L482.2,765.9 L482.4,763.9 L482.6,761.9 L482.7,760.0 L482.9,758.0 L483.1,756.0 L483.3,754.0 L483.5,752.0 L483.7,750.0 L483.9,748.0 L484.1,746.0 L484.3,744.0 L484.5,742.0 L484.6,740.0 L484.8,738.1 L485.0,736.1 L485.2,734.1 L485.4,732.1 L485.6,730.1 L485.8,728.1 L486.0,726.1 L486.2,724.1 L486.4,722.1 L486.6,720.1 L486.8,718.1 L487.0,716.1 L487.1,714.2 L487.3,712.2 L487.5,710.2 L487.7,708.2 L487.9,706.2 L488.1,704.2 L488.3,702.2 L488.5,700.2 L488.7,698.2 L488.9,696.2 L489.1,694.3 L489.3,692.3 L489.5,690.3 L489.7,688.3 L489.9,686.3 L490.1,684.3 L490.3,682.3 L490.5,680.3 L490.7,678.3 L490.9,676.3 L491.1,674.4 L491.3,672.4 L491.5,670.4 L491.7,668.4 L491.9,666.4 L492.1,664.4 L492.3,662.4 L492.5,660.4 L492.7,658.4 L492.9,656.5 L493.1,654.5 L493.3,652.5 L493.5,650.5 L493.7,648.5 L493.9,646.5 L494.1,644.5 L494.3,642.5 L494.5,640.6 L494.7,638.6 L494.9,636.6 L495.1,634.6 L495.4,632.6 L495.6,630.6 L495.8,628.6 L496.0,626.7 L496.2,624.7 L496.4,622.7 L496.6,620.7 L496.8,618.7 L497.0,616.7 L497.2,614.7 L497.4,612.8 L497.6,610.8 L497.8,608.8 L498.1,606.8 L498.3,604.8 L498.5,602.8 L498.7,600.8 L498.9,598.9 L499.1,596.9 L499.3,594.9 L499.5,592.9 L499.7,590.9 L499.9,588.9 L500.2,587.0 L500.4,585.0 L500.6,583.0 L500.8,581.0 L501.0,579.0 L501.2,577.1 L501.4,575.1 L501.7,573.1 L501.9,571.1 L502.1,569.1 L502.3,567.1 L502.5,565.2 L502.7,563.2 L503.0,561.2 L503.2,559.2 L503.4,557.2 L503.6,555.2 L503.9,553.3 L504.1,551.3 L504.3,549.3 L504.6,547.3 L504.8,545.3 L505.0,543.3 L505.3,541.4 L505.5,539.4 L505.7,537.4 L506.0,535.4 L506.2,533.4 L506.5,531.4 L506.7,529.4 L507.0,527.4 L507.2,525.5 L507.5,523.5 L507.8,521.5 L508.0,519.5 L508.3,517.5 L508.5,515.5 L508.8,513.5 L509.1,511.5 L509.4,509.5 L509.6,507.5 L509.9,505.5 L510.2,503.5 L510.5,501.5 L510.8,499.5 L511.1,497.5 L511.4,495.5 L511.7,493.5 L512.0,491.5 L512.3,489.5 L512.6,487.5 L513.0,485.5 L513.3,483.5 L513.6,481.5 L513.9,479.5 L514.2,477.5 L514.5,475.5 L514.9,473.5 L515.2,471.5 L515.5,469.5 L515.8,467.5 L516.1,465.5 L516.4,463.6 L516.7,461.6 L517.0,459.7 L517.2,457.7 L517.5,455.8 L517.8,453.8 L518.0,451.9 L518.3,450.0 L518.5,448.1 L518.7,446.2 L518.9,444.3 L519.1,442.5 L519.3,440.6 L519.5,438.8 L519.7,436.9 L519.9,435.0 L520.1,433.1 L520.4,431.2 L520.8,429.2 L521.2,427.2 L521.7,425.1 L522.2,423.0 L522.8,420.8 L523.6,418.5 L524.4,416.1 L525.3,413.7 L526.3,411.4 L527.4,409.2 L528.5,407.3 L529.6,405.7 L530.8,404.4 L531.9,403.7 L533.0,403.6 L534.1,404.1 L535.1,405.1 L536.1,406.6 L537.0,408.4 L537.9,410.6 L538.7,412.9 L539.5,415.3 L540.2,417.7 L540.8,420.0 L541.4,422.3 L542.0,424.5 L542.4,426.6 L542.9,428.6 L543.3,430.6 L543.7,432.6 L544.0,434.5 L544.4,436.4 L544.7,438.2 L545.0,440.1 L545.3,441.9 L545.7,443.8 L546.0,445.6 L546.3,447.5 L546.7,449.4 L547.0,451.3 L547.4,453.2 L547.7,455.1 L548.1,457.0 L548.4,458.9 L548.8,460.8 L549.2,462.8 L549.6,464.7 L549.9,466.7 L550.3,468.6 L550.7,470.6 L551.1,472.6 L551.5,474.5 L551.8,476.5 L552.2,478.5 L552.6,480.5 L553.0,482.5 L553.3,484.4 L553.7,486.4 L554.1,488.4 L554.4,490.4 L554.8,492.4 L555.1,494.4 L555.5,496.4 L555.8,498.4 L556.2,500.3 L556.5,502.3 L556.8,504.3 L557.1,506.3 L557.4,508.3 L557.7,510.3 L558.0,512.3 L558.3,514.3 L558.6,516.3 L558.9,518.3 L559.2,520.2 L559.5,522.2 L559.8,524.2 L560.0,526.2 L560.3,528.2 L560.6,530.2 L560.8,532.2 L561.1,534.2 L561.3,536.2 L561.6,538.2 L561.8,540.2 L562.1,542.1 L562.3,544.1 L562.5,546.1 L562.8,548.1 L563.0,550.1 L563.2,552.1 L563.4,554.1 L563.6,556.1 L563.8,558.1 L564.0,560.1 L564.3,562.1 L564.5,564.0 L564.7,566.0 L564.9,568.0 L565.0,570.0 L565.2,572.0 L565.4,574.0 L565.6,576.0 L565.8,578.0 L566.0,580.0 L566.1,582.0 L566.3,584.0 L566.5,586.0 L566.7,587.9 L566.8,589.9 L567.0,591.9 L567.2,593.9 L567.3,595.9 L567.5,597.9 L567.7,599.9 L567.8,601.9 L568.0,603.9 L568.1,605.9 L568.3,607.9 L568.4,609.8 L568.6,611.8 L568.7,613.8 L568.9,615.8 L569.0,617.8 L569.2,619.8 L569.3,621.8 L569.5,623.8 L569.6,625.8 L569.7,627.8 L569.9,629.8 L570.0,631.8 L570.2,633.7 L570.3,635.7 L570.4,637.7 L570.6,639.7 L570.7,641.7 L570.9,643.7 L571.0,645.7 L571.1,647.7 L571.3,649.7 L571.4,651.7 L571.6,653.7 L571.7,655.7 L571.8,657.6 L572.0,659.6 L572.1,661.6 L572.3,663.6 L572.4,665.6 L572.5,667.6 L572.7,669.6 L572.8,671.6 L573.0,673.6 L573.1,675.6 L573.3,677.6 L573.4,679.5 L573.5,681.5 L573.7,683.5 L573.8,685.5 L574.0,687.5 L574.1,689.5 L574.3,691.5 L574.5,693.5 L574.6,695.5 L574.8,697.5 L574.9,699.5 L575.1,701.4 L575.2,703.4 L575.4,705.4 L575.6,707.4 L575.7,709.4 L575.9,711.4 L576.1,713.4 L576.2,715.4 L576.4,717.4 L576.6,719.4 L576.7,721.4 L576.9,723.3 L577.1,725.3 L577.2,727.3 L577.4,729.3 L577.6,731.3 L577.8,733.3 L577.9,735.3 L578.1,737.3 L578.3,739.3 L578.4,741.3 L578.6,743.3 L578.8,745.2 L579.0,747.2 L579.2,749.2 L579.3,751.2 L579.5,753.2 L579.7,755.2 L579.9,757.2 L580.1,759.2 L580.2,761.2 L580.4,763.2 L580.6,765.2 L580.8,767.1 L581.0,769.1 L581.1,771.1 L581.3,773.1 L581.5,775.1 L581.7,777.1 L581.9,779.1 L582.1,781.1 L582.3,783.1 L582.4,785.1 L582.6,787.1 L582.8,789.0 L583.0,791.0 L583.2,793.0 L583.4,795.0 L583.6,797.0 L583.7,799.0 L583.9,801.0 L584.1,803.0 L584.3,805.0 L584.5,807.0 L584.7,809.0 L584.9,811.0 L585.1,813.0 L585.2,814.9 L585.4,816.9 L585.6,818.9 L585.8,820.9 L586.0,822.9 L586.2,824.9 L586.4,826.9 L586.6,828.9 L586.7,830.9 L586.9,832.9 L587.1,834.9 L587.3,836.9 L587.5,838.9 L587.7,840.9 L587.9,842.9 L588.0,844.8 L588.2,846.8 L588.4,848.8 L588.6,850.8 L588.8,852.8 L589.0,854.8 L589.2,856.8 L589.3,858.8 L589.5,860.8 L589.7,862.8 L589.9,864.8 L590.1,866.8 L590.3,868.8 L590.4,870.8 L590.6,872.8 L590.8,874.8 L591.0,876.8 L591.2,878.8 L591.4,880.7 L591.6,882.7 L591.7,884.7 L591.9,886.7 L592.1,888.7 L592.3,890.7 L592.5,892.7 L592.7,894.7 L592.9,896.7 L593.1,898.7 L593.3,900.7 L593.5,902.7 L593.6,904.7 L593.8,906.7 L594.0,908.7 L594.2,910.7 L594.4,912.6 L594.6,914.6 L594.8,916.6 L595.1,918.6 L595.3,920.6 L595.5,922.6 L595.7,924.6 L595.9,926.6 L596.1,928.6 L596.3,930.6 L596.5,932.5 L596.7,934.5 L597.0,936.5 L597.2,938.5 L597.4,940.5 L597.6,942.5 L597.9,944.5 L598.1,946.5 L598.3,948.4 L598.6,950.4 L598.8,952.4 L599.1,954.4 L599.3,956.4 L599.5,958.4 L599.8,960.3 L600.0,962.3 L600.3,964.3 L600.6,966.3 L600.8,968.3 L601.1,970.2 L601.3,972.2 L601.6,974.2 L601.9,976.2 L602.2,978.1 L602.4,980.1 L602.7,982.1 L603.0,984.1 L603.3,986.0 L603.6,988.0 L603.9,990.0 L604.2,992.0 L604.5,993.9 L604.8,995.9 L605.1,997.9 L605.4,999.8 L605.7,1001.8 L606.0,1003.8 L606.4,1005.7 L606.7,1007.7 L607.0,1009.7 L607.4,1011.6 L607.7,1013.6 L608.1,1015.5 L608.4,1017.5 L608.8,1019.5 L609.1,1021.4 L609.5,1023.4 L609.8,1025.3 L610.2,1027.3 L610.6,1029.2 L611.0,1031.2 L611.4,1033.1 L611.8,1035.1 L612.1,1037.0 L612.5,1039.0 L612.9,1040.9 L613.4,1042.9 L613.8,1044.8 L614.2,1046.8 L614.6,1048.7 L615.0,1050.7 L615.5,1052.6 L615.9,1054.6 L616.3,1056.5 L616.8,1058.5 L617.2,1060.4 L617.7,1062.4 L618.1,1064.3 L618.6,1066.3 L619.1,1068.2 L619.5,1070.2 L620.0,1072.1 L620.5,1074.1 L621.0,1076.1 L621.5,1078.0 L621.9,1080.0 L622.4,1081.9 L622.9,1083.9 L623.4,1085.9 L623.9,1087.8 L624.4,1089.8 L625.0,1091.8 L625.5,1093.8 L626.0,1095.7 L626.5,1097.7 L627.1,1099.7 L627.6,1101.7 L628.2,1103.7 L628.8,1105.7 L629.4,1107.7 L630.1,1109.8 L630.8,1111.9 L631.7,1114.0 L632.5,1116.0 L633.5,1117.9 L634.5,1119.4 L635.5,1120.4 L636.6,1120.7 L637.6,1120.3 L638.7,1119.2 L639.8,1117.7 L640.8,1115.8 L641.9,1113.8 L642.8,1111.7 L643.7,1109.6 L644.6,1107.6 L645.4,1105.5 L646.2,1103.5 L646.9,1101.4 L647.7,1099.4 L648.3,1097.4 L649.0,1095.4 L649.6,1093.4 L650.1,1091.4 L650.7,1089.4 L651.2,1087.5 L651.7,1085.5 L652.2,1083.6 L652.7,1081.6 L653.1,1079.7 L653.5,1077.7 L654.0,1075.8 L654.4,1073.9 L654.7,1071.9 L655.1,1070.0 L655.5,1068.1 L655.9,1066.2 L656.2,1064.2 L656.6,1062.3 L656.9,1060.4 L657.3,1058.5 L657.6,1056.5 L658.0,1054.6 L658.3,1052.7 L658.7,1050.7 L659.0,1048.8 L659.4,1046.8 L659.7,1044.9 L660.1,1042.9 L660.4,1041.0 L660.8,1039.1 L661.1,1037.1 L661.4,1035.1 L661.8,1033.2 L662.1,1031.2 L662.5,1029.3 L662.8,1027.3 L663.2,1025.4 L663.5,1023.4 L663.8,1021.4 L664.2,1019.5 L664.5,1017.5 L664.8,1015.5 L665.2,1013.6 L665.5,1011.6 L665.8,1009.6 L666.2,1007.6 L666.5,1005.7 L666.8,1003.7 L667.2,1001.7 L667.5,999.7 L667.8,997.7 L668.2,995.8 L668.5,993.8 L668.8,991.8 L669.1,989.8 L669.5,987.8 L669.8,985.9 L670.1,983.9 L670.4,981.9 L670.8,979.9 L671.1,977.9 L671.4,975.9 L671.7,973.9 L672.0,971.9 L672.4,970.0 L672.7,968.0 L673.0,966.0 L673.3,964.0 L673.6,962.0 L673.9,960.0 L674.3,958.0 L674.6,956.0 L674.9,954.0 L675.2,952.0 L675.5,950.1 L675.8,948.1 L676.2,946.1 L676.5,944.1 L676.8,942.1 L677.1,940.1 L677.4,938.1 L677.7,936.1 L678.0,934.2 L678.4,932.2 L678.7,930.2 L679.0,928.2 L679.3,926.2 L679.6,924.3 L679.9,922.3 L680.3,920.3 L680.6,918.3 L680.9,916.4 L681.2,914.4 L681.6,912.4 L681.9,910.5 L682.2,908.5 L682.5,906.5 L682.9,904.6 L683.2,902.6 L683.5,900.7 L683.9,898.7 L684.2,896.8 L684.5,894.8 L684.9,892.9 L685.2,890.9 L685.6,889.0 L685.9,887.1 L686.3,885.1 L686.6,883.2 L687.0,881.3 L687.3,879.4 L687.7,877.4 L688.1,875.5 L688.4,873.6 L688.8,871.7 L689.2,869.8 L689.6,867.9 L689.9,866.0 L690.4,864.1 L690.8,862.2 L691.3,860.2 L691.8,858.3 L692.4,856.3 L693.0,854.3 L693.7,852.3 L694.5,850.3 L695.3,848.2 L696.2,846.1 L697.3,844.0 L698.3,841.9 L699.5,839.8 L700.8,837.8 L702.0,836.1 L703.4,834.6 L704.7,833.6 L706.1,833.0 L707.5,832.9 L708.9,833.4 L710.3,834.3 L711.6,835.7 L712.9,837.4 L714.1,839.3 L715.3,841.4 L716.4,843.5 L717.5,845.7 L718.4,847.8 L719.3,849.8 L720.1,851.8 L720.8,853.8 L721.5,855.7 L722.1,857.6 L722.7,859.5 L723.2,861.4 L723.7,863.2 L724.2,865.1 L724.6,866.9 L725.0,868.8 L725.4,870.6 L725.9,872.5 L726.3,874.4 L726.7,876.2 L727.1,878.1 L727.5,880.1 L727.9,882.0 L728.3,883.9 L728.7,885.9 L729.1,887.8 L729.4,889.8 L729.8,891.7 L730.2,893.7 L730.6,895.7 L730.9,897.7 L731.3,899.7 L731.6,901.7 L732.0,903.7 L732.3,905.7 L732.6,907.7 L732.9,909.7 L733.2,911.7 L733.5,913.7 L733.8,915.7 L734.0,917.7 L734.3,919.7 L734.5,921.7 L734.8,923.7 L735.0,925.7 L735.2,927.7 L735.4,929.7 L735.6,931.7 L735.8,933.7 L735.9,935.7 L736.1,937.7 L736.3,939.7 L736.4,941.7 L736.6,943.7 L736.8,945.7 L736.9,947.7 L737.1,949.7 L737.2,951.7 L737.4,953.7 L737.5,955.6 L737.7,957.6 L737.8,959.6 L738.0,961.6 L738.1,963.6 L738.3,965.6 L738.5,967.6 L738.6,969.6 L738.8,971.5 L739.0,973.5 L739.2,975.5 L739.4,977.5 L739.6,979.5 L739.8,981.5 L740.0,983.5 L740.2,985.4 L740.4,987.4 L740.7,989.4 L740.9,991.4 L741.1,993.4 L741.4,995.4 L741.6,997.4 L741.8,999.3 L742.1,1001.3 L742.3,1003.3 L742.6,1005.3 L742.8,1007.3 L743.1,1009.3 L743.3,1011.2 L743.6,1013.2 L743.8,1015.2 L744.1,1017.2 L744.4,1019.2 L744.6,1021.1 L744.9,1023.1 L745.2,1025.1 L745.4,1027.1 L745.7,1029.1 L746.0,1031.1 L746.2,1033.0 L746.5,1035.0 L746.8,1037.0 L747.0,1039.0 L747.3,1041.0 L747.6,1043.0 L747.8,1044.9 L748.1,1046.9 L748.4,1048.9 L748.6,1050.9 L748.9,1052.9 L749.1,1054.9 L749.4,1056.8 L749.6,1058.8 L749.9,1060.8 L750.2,1062.8 L750.4,1064.8 L750.7,1066.8 L750.9,1068.8 L751.1,1070.7 L751.4,1072.7 L751.6,1074.7 L751.9,1076.7 L752.1,1078.7 L752.3,1080.7 L752.6,1082.7 L752.8,1084.6 L753.0,1086.6 L753.2,1088.6 L753.5,1090.6 L753.7,1092.6 L753.9,1094.6 L754.1,1096.6 L754.4,1098.6 L754.6,1100.5 L754.8,1102.5 L755.0,1104.5 L755.2,1106.5 L755.4,1108.5 L755.6,1110.5 L755.8,1112.5 L756.1,1114.5 L756.3,1116.5 L756.5,1118.4 L756.7,1120.4 L756.9,1122.4 L757.1,1124.4 L757.3,1126.4 L757.5,1128.4 L757.7,1130.4 L757.9,1132.4 L758.1,1134.4 L758.3,1136.3 L758.5,1138.3 L758.7,1140.3 L758.9,1142.3 L759.1,1144.3 L759.3,1146.3 L759.5,1148.3 L759.7,1150.3 L759.9,1152.3 L760.1,1154.2 L760.3,1156.2 L760.5,1158.2 L760.7,1160.2 L760.9,1162.2 L761.1,1164.2 L761.3,1166.2 L761.5,1168.2 L761.7,1170.2 L761.9,1172.1 L762.1,1174.1 L762.2,1176.1 L762.4,1178.1 L762.6,1180.1 L762.8,1182.1 L763.0,1184.1 L763.2,1186.1 L763.4,1188.1 L763.7,1190.0 L763.9,1192.0 L764.1,1194.0 L764.3,1196.0 L764.5,1198.0 L764.7,1200.0 L764.9,1202.0 L765.1,1204.0 L765.3,1205.9 L765.5,1207.9 L765.7,1209.9 L765.9,1211.9 L766.1,1213.9 L766.4,1215.9 L766.6,1217.9 L766.8,1219.9 L767.0,1221.8 L767.2,1223.8 L767.5,1225.8 L767.7,1227.8 L767.9,1229.8 L768.1,1231.8 L768.3,1233.8 L768.6,1235.7 L768.8,1237.7 L769.0,1239.7 L769.3,1241.7 L769.5,1243.7 L769.7,1245.7 L770.0,1247.7 L770.2,1249.6 L770.4,1251.6 L770.7,1253.6 L770.9,1255.6 L771.2,1257.6 L771.4,1259.6 L771.7,1261.5 L771.9,1263.5 L772.1,1265.5 L772.4,1267.5 L772.6,1269.5 L772.9,1271.5 L773.2,1273.4 L773.4,1275.4 L773.7,1277.4 L773.9,1279.4 L774.2,1281.4 L774.4,1283.4 L774.7,1285.3 L775.0,1287.3 L775.2,1289.3 L775.5,1291.3 L775.8,1293.3 L776.0,1295.2 L776.3,1297.2 L776.6,1299.2 L776.8,1301.2 L777.1,1303.2 L777.4,1305.1 L777.7,1307.1 L778.0,1309.1 L778.2,1311.1 L778.5,1313.1 L778.8,1315.0 L779.1,1317.0 L779.4,1319.0 L779.7,1321.0 L780.0,1323.0 L780.3,1324.9 L780.6,1326.9 L780.9,1328.9 L781.1,1330.9 L781.4,1332.8 L781.7,1334.8 L782.1,1336.8 L782.4,1338.8 L782.7,1340.7 L783.0,1342.7 L783.3,1344.7 L783.6,1346.7 L783.9,1348.6 L784.2,1350.6 L784.5,1352.6 L784.9,1354.6 L785.2,1356.5 L785.5,1358.5 L785.8,1360.5 L786.1,1362.5 L786.5,1364.4 L786.8,1366.4 L787.1,1368.4 L787.5,1370.3 L787.8,1372.3 L788.1,1374.3 L788.5,1376.3 L788.8,1378.2 L789.2,1380.2 L789.5,1382.2 L789.8,1384.1 L790.2,1386.1 L790.5,1388.1 L790.9,1390.1 L791.2,1392.0 L791.6,1394.0 L792.0,1396.0 L792.3,1397.9 L792.7,1399.9 L793.0,1401.9 L793.4,1403.8 L793.8,1405.8 L794.1,1407.8 L794.5,1409.7 L794.9,1411.7 L795.3,1413.7 L795.7,1415.6 L796.0,1417.6 L796.4,1419.6 L796.8,1421.5 L797.2,1423.5 L797.6,1425.4 L798.0,1427.4 L798.5,1429.3 L798.9,1431.3 L799.3,1433.3 L799.7,1435.2 L800.2,1437.2 L800.6,1439.1 L801.1,1441.1 L801.5,1443.0 L802.0,1444.9 L802.5,1446.9 L803.0,1448.8 L803.4,1450.8 L803.9,1452.7 L804.5,1454.6 L805.0,1456.6 L805.5,1458.5 L806.0,1460.4 L806.6,1462.3 L807.1,1464.3 L807.7,1466.2 L808.3,1468.1 L808.8,1470.0 L809.4,1471.9 L810.0,1473.8 L810.7,1475.7 L811.3,1477.6 L811.9,1479.5 L812.6,1481.4 L813.3,1483.3 L813.9,1485.2 L814.6,1487.1 L815.3,1488.9 L816.1,1490.8 L816.8,1492.7 L817.6,1494.5 L818.5,1496.3 L819.3,1498.1 L820.2,1499.8 L821.2,1501.6 L822.2,1503.3 L823.2,1505.0 L824.3,1506.6 L825.4,1508.2 L826.6,1509.8 L827.9,1511.3 L829.2,1512.8 L830.6,1514.3 L832.1,1515.6 L833.7,1517.0 L835.3,1518.3 L837.0,1519.5"/>
<path stroke="#ff00ff" d="M108.0,1625.6 L109.5,1624.2 L111.0,1622.8 L112.4,1621.4 L113.8,1620.0 L115.1,1618.5 L116.4,1616.9 L117.6,1615.4 L118.8,1613.8 L120.0,1612.2 L121.1,1610.5 L122.2,1608.9 L123.2,1607.2 L124.2,1605.5 L125.2,1603.7 L126.2,1602.0 L127.1,1600.2 L128.0,1598.4 L128.9,1596.6 L129.8,1594.8 L130.6,1593.0 L131.4,1591.1 L132.2,1589.3 L132.9,1587.4 L133.7,1585.5 L134.4,1583.6 L135.1,1581.8 L135.8,1579.9 L136.5,1578.0 L137.2,1576.1 L137.8,1574.2 L138.5,1572.3 L139.1,1570.4 L139.8,1568.5 L140.4,1566.5 L141.0,1564.6 L141.6,1562.7 L142.2,1560.8 L142.8,1558.9 L143.3,1557.0 L143.9,1555.0 L144.4,1553.1 L145.0,1551.2 L145.5,1549.3 L146.0,1547.3 L146.5,1545.4 L147.1,1543.5 L147.6,1541.5 L148.0,1539.6 L148.5,1537.7 L149.0,1535.7 L149.5,1533.8 L149.9,1531.9 L150.4,1529.9 L150.8,1528.0 L151.3,1526.0 L151.7,1524.1 L152.1,1522.1 L152.6,1520.2 L153.0,1518.2 L153.4,1516.3 L153.8,1514.3 L154.2,1512.4 L154.6,1510.4 L155.0,1508.5 L155.4,1506.5 L155.7,1504.5 L156.1,1502.6 L156.5,1500.6 L156.9,1498.7 L157.2,1496.7 L157.6,1494.7 L157.9,1492.8 L158.3,1490.8 L158.7,1488.8 L159.0,1486.9 L159.4,1484.9 L159.7,1482.9 L160.1,1481.0 L160.4,1479.0 L160.7,1477.0 L161.1,1475.1 L161.4,1473.1 L161.7,1471.1 L162.1,1469.2 L162.4,1467.2 L162.8,1465.2 L163.1,1463.3 L163.4,1461.3 L163.7,1459.3 L164.1,1457.4 L164.4,1455.4 L164.7,1453.4 L165.1,1451.4 L165.4,1449.5 L165.7,1447.5 L166.0,1445.5 L166.3,1443.5 L166.7,1441.6 L167.0,1439.6 L167.3,1437.6 L167.6,1435.7 L167.9,1433.7 L168.2,1431.7 L168.5,1429.7 L168.9,1427.8 L169.2,1425.8 L169.5,1423.8 L169.8,1421.8 L170.1,1419.9 L170.4,1417.9 L170.7,1415.9 L171.0,1413.9 L171.3,1411.9 L171.6,1410.0 L171.9,1408.0 L172.2,1406.0 L172.5,1404.0 L172.8,1402.1 L173.1,1400.1 L173.4,1398.1 L173.7,1396.1 L174.0,1394.1 L174.2,1392.2 L174.5,1390.2 L174.8,1388.2 L175.1,1386.2 L175.4,1384.2 L175.7,1382.3 L176.0,1380.3 L176.2,1378.3 L176.5,1376.3 L176.8,1374.3 L177.1,1372.4 L177.4,1370.4 L177.6,1368.4 L177.9,1366.4 L178.2,1364.4 L178.5,1362.4 L178.7,1360.5 L179.0,1358.5 L179.3,1356.5 L179.5,1354.5 L179.8,1352.5 L180.1,1350.6 L180.4,1348.6 L180.6,1346.6 L180.9,1344.6 L181.1,1342.6 L181.4,1340.6 L181.7,1338.6 L181.9,1336.7 L182.2,1334.7 L182.5,1332.7 L182.7,1330.7 L183.0,1328.7 L183.2,1326.7 L183.5,1324.8 L183.7,1322.8 L184.0,1320.8 L184.2,1318.8 L184.5,1316.8 L184.8,1314.8 L185.0,1312.8 L185.3,1310.9 L185.5,1308.9 L185.7,1306.9 L186.0,1304.9 L186.2,1302.9 L186.5,1300.9 L186.7,1299.0 L187.0,1297.0 L187.2,1295.0 L187.5,1293.0 L187.7,1291.0 L187.9,1289.0 L188.2,1287.0 L188.4,1285.1 L188.7,1283.1 L188.9,1281.1 L189.1,1279.1 L189.4,1277.1 L189.6,1275.1 L189.8,1273.1 L190.1,1271.1 L190.3,1269.2 L190.5,1267.2 L190.8,1265.2 L191.0,1263.2 L191.2,1261.2 L191.4,1259.2 L191.7,1257.2 L191.9,1255.3 L192.1,1253.3 L192.4,1251.3 L192.6,1249.3 L192.8,1247.3 L193.0,1245.3 L193.2,1243.3 L193.5,1241.4 L193.7,1239.4 L193.9,1237.4 L194.1,1235.4 L194.3,1233.4 L194.6,1231.4 L194.8,1229.4 L195.0,1227.5 L195.2,1225.5 L195.4,1223.5 L195.6,1221.5 L195.9,1219.5 L196.1,1217.5 L196.3,1215.5 L196.5,1213.6 L196.7,1211.6 L196.9,1209.6 L197.1,1207.6 L197.3,1205.6 L197.5,1203.6 L197.8,1201.6 L198.0,1199.6 L198.2,1197.7 L198.4,1195.7 L198.6,1193.7 L198.8,1191.7 L199.0,1189.7 L199.2,1187.7 L199.4,1185.7 L199.6,1183.8 L199.8,1181.8 L200.0,1179.8 L200.2,1177.8 L200.4,1175.8 L200.6,1173.8 L200.8,1171.8 L201.0,1169.8 L201.2,1167.9 L201.4,1165.9 L201.6,1163.9 L201.8,1161.9 L202.0,1159.9 L202.2,1157.9 L202.4,1155.9 L202.6,1153.9 L202.8,1152.0 L203.0,1150.0 L203.1,1148.0 L203.3,1146.0 L203.5,1144.0 L203.7,1142.0 L203.9,1140.0 L204.1,1138.0 L204.3,1136.1 L204.5,1134.1 L204.7,1132.1 L204.8,1130.1 L205.0,1128.1 L205.2,1126.1 L205.4,1124.1 L205.6,1122.1 L205.8,1120.1 L206.0,1118.2 L206.1,1116.2 L206.3,1114.2 L206.5,1112.2 L206.7,1110.2 L206.9,1108.2 L207.1,1106.2 L207.2,1104.2 L207.4,1102.2 L207.6,1100.3 L207.8,1098.3 L208.0,1096.3 L208.1,1094.3 L208.3,1092.3 L208.5,1090.3 L208.7,1088.3 L208.9,1086.3 L209.0,1084.3 L209.2,1082.4 L209.4,1080.4 L209.6,1078.4 L209.7,1076.4 L209.9,1074.4 L210.1,1072.4 L210.3,1070.4 L210.4,1068.4 L210.6,1066.4 L210.8,1064.4 L211.0,1062.5 L211.1,1060.5 L211.3,1058.5 L211.5,1056.5 L211.7,1054.5 L211.8,1052.5 L212.0,1050.5 L212.2,1048.5 L212.3,1046.5 L212.5,1044.5 L212.7,1042.5 L212.8,1040.6 L213.0,1038.6 L213.2,1036.6 L213.4,1034.6 L213.5,1032.6 L213.7,1030.6 L213.9,1028.6 L214.0,1026.6 L214.2,1024.6 L214.4,1022.6 L214.5,1020.6 L214.7,1018.6 L214.9,1016.7 L215.0,1014.7 L215.2,1012.7 L215.4,1010.7 L215.5,1008.7 L215.7,1006.7 L215.8,1004.7 L216.0,1002.7 L216.2,1000.7 L216.3,998.7 L216.5,996.7 L216.7,994.7 L216.8,992.7 L217.0,990.7 L217.2,988.7 L217.3,986.8 L217.5,984.8 L217.6,982.8 L217.8,980.8 L218.0,978.8 L218.1,976.8 L218.3,974.8 L218.5,972.8 L218.6,970.8 L218.8,968.8 L218.9,966.8 L219.1,964.8 L219.3,962.8 L219.4,960.8 L219.6,958.8 L219.7,956.8 L219.9,954.8 L220.1,952.8 L220.2,950.8 L220.4,948.8 L220.5,946.9 L220.7,944.9 L220.9,942.9 L221.0,940.9 L221.2,938.9 L221.3,936.9 L221.5,934.9 L221.7,932.9 L221.8,930.9 L222.0,928.9 L222.1,926.9 L222.3,924.9 L222.5,922.9 L222.6,920.9 L222.8,918.9 L222.9,916.9 L223.1,914.9 L223.3,912.9 L223.4,910.9 L223.6,908.9 L223.7,906.9 L223.9,904.9 L224.1,902.9 L224.2,900.9 L224.4,898.9 L224.5,896.9 L224.7,894.9 L224.9,892.9 L225.0,890.9 L225.2,888.9 L225.3,886.9 L225.5,885.0 L225.7,883.0 L225.8,881.0 L226.0,879.0 L226.2,877.0 L226.3,875.0 L226.5,873.0 L226.6,871.0 L226.8,869.0 L227.0,867.0 L227.1,865.0 L227.3,863.0 L227.5,861.0 L227.6,859.0 L227.8,857.0 L228.0,855.0 L228.1,853.0 L228.3,851.0 L228.5,849.0 L228.6,847.0 L228.8,845.0 L229.0,843.0 L229.2,841.0 L229.3,839.1 L229.5,837.1 L229.7,835.1 L229.8,833.1 L230.0,831.1 L230.2,829.1 L230.4,827.1 L230.5,825.1 L230.7,823.1 L230.9,821.1 L231.1,819.1 L231.2,817.1 L231.4,815.1 L231.6,813.1 L231.8,811.1 L231.9,809.2 L232.1,807.2 L232.3,805.2 L232.5,803.2 L232.7,801.2 L232.8,799.2 L233.0,797.2 L233.2,795.2 L233.4,793.2 L233.6,791.2 L233.8,789.2 L233.9,787.3 L234.1,785.3 L234.3,783.3 L234.5,781.3 L234.7,779.3 L234.9,777.3 L235.1,775.3 L235.3,773.3 L235.5,771.4 L235.6,769.4 L235.8,767.4 L236.0,765.4 L236.2,763.4 L236.4,761.4 L236.6,759.4 L236.8,757.4 L237.0,755.5 L237.2,753.5 L237.4,751.5 L237.6,749.5 L237.8,747.5 L238.0,745.5 L238.2,743.6 L238.4,741.6 L238.6,739.6 L238.8,737.6 L239.1,735.6 L239.3,733.7 L239.5,731.7 L239.7,729.7 L239.9,727.7 L240.1,725.7 L240.3,723.8 L240.5,721.8 L240.8,719.8 L241.0,717.8 L241.2,715.8 L241.4,713.9 L241.6,711.9 L241.8,709.9 L242.1,707.9 L242.3,706.0 L242.5,704.0 L242.7,702.0 L243.0,700.0 L243.2,698.1 L243.4,696.1 L243.7,694.1 L243.9,692.1 L244.1,690.2 L244.4,688.2 L244.6,686.2 L244.8,684.3 L245.1,682.3 L245.3,680.3 L245.5,678.3 L245.8,676.4 L246.0,674.4 L246.3,672.4 L246.5,670.5 L246.8,668.5 L247.0,666.5 L247.3,664.6 L247.5,662.6 L247.8,660.6 L248.0,658.7 L248.3,656.7 L248.5,654.8 L248.8,652.8 L249.1,650.8 L249.3,648.9 L249.6,646.9 L249.8,645.0 L250.1,643.0 L250.4,641.0 L250.6,639.1 L250.9,637.1 L251.2,635.2 L251.4,633.2 L251.7,631.2 L252.0,629.3 L252.3,627.3 L252.6,625.4 L252.9,623.4 L253.2,621.4 L253.5,619.5 L253.8,617.5 L254.2,615.5 L254.6,613.5 L255.0,611.5 L255.4,609.4 L255.9,607.4 L256.4,605.3 L257.0,603.2 L257.6,601.1 L258.2,599.0 L258.9,596.8 L259.6,594.6 L260.4,592.4 L261.3,590.2 L262.2,587.9 L263.1,585.7 L264.1,583.7 L265.1,581.8 L266.2,580.2 L267.3,578.9 L268.4,578.0 L269.5,577.6 L270.6,577.7 L271.8,578.3 L272.9,579.4 L274.0,580.9 L275.1,582.7 L276.2,584.7 L277.2,586.9 L278.2,589.2 L279.1,591.6 L279.9,593.8 L280.6,596.1 L281.3,598.2 L281.9,600.4 L282.5,602.5 L283.0,604.5 L283.5,606.5 L283.9,608.5 L284.3,610.5 L284.6,612.4 L284.9,614.3 L285.2,616.2 L285.5,618.1 L285.7,619.9 L285.9,621.8 L286.1,623.7 L286.3,625.5 L286.5,627.4 L286.7,629.2 L287.0,631.1 L287.2,633.0 L287.4,634.9 L287.6,636.8 L287.9,638.8 L288.1,640.7 L288.4,642.7 L288.7,644.6 L288.9,646.6 L289.2,648.6 L289.5,650.5 L289.8,652.5 L290.0,654.5 L290.3,656.5 L290.6,658.5 L290.9,660.5 L291.2,662.5 L291.5,664.6 L291.7,666.6 L292.0,668.6 L292.3,670.6 L292.6,672.6 L292.8,674.6 L293.1,676.6 L293.4,678.6 L293.6,680.6 L293.9,682.7 L294.1,684.7 L294.4,686.7 L294.6,688.6 L294.8,690.6 L295.1,692.6 L295.3,694.6 L295.5,696.6 L295.7,698.6 L296.0,700.6 L296.2,702.6 L296.4,704.6 L296.6,706.5 L296.8,708.5 L297.1,710.5 L297.3,712.5 L297.5,714.5 L297.7,716.4 L297.9,718.4 L298.2,720.4 L298.4,722.4 L298.6,724.3 L298.9,726.3 L299.1,728.3 L299.3,730.3 L299.6,732.3 L299.8,734.2 L300.1,736.2 L300.3,738.2 L300.6,740.2 L300.8,742.2 L301.1,744.1 L301.4,746.1 L301.6,748.1 L301.9,750.1 L302.1,752.1 L302.4,754.1 L302.7,756.0 L302.9,758.0 L303.2,760.0 L303.4,762.0 L303.7,764.0 L303.9,766.0 L304.2,767.9 L304.4,769.9 L304.7,771.9 L304.9,773.9 L305.2,775.9 L305.4,777.9 L305.7,779.9 L305.9,781.8 L306.1,783.8 L306.4,785.8 L306.6,787.8 L306.8,789.8 L307.0,791.8 L307.3,793.8 L307.5,795.8 L307.7,797.7 L307.9,799.7 L308.1,801.7 L308.3,803.7 L308.6,805.7 L308.8,807.7 L309.0,809.7 L309.2,811.7 L309.4,813.7 L309.6,815.6 L309.8,817.6 L310.0,819.6 L310.2,821.6 L310.4,823.6 L310.5,825.6 L310.7,827.6 L310.9,829.6 L311.1,831.6 L311.3,833.6 L311.5,835.5 L311.7,837.5 L311.8,839.5 L312.0,841.5 L312.2,843.5 L312.4,845.5 L312.5,847.5 L312.7,849.5 L312.9,851.5 L313.1,853.5 L313.2,855.5 L313.4,857.5 L313.6,859.4 L313.7,861.4 L313.9,863.4 L314.1,865.4 L314.2,867.4 L314.4,869.4 L314.6,871.4 L314.7,873.4 L314.9,875.4 L315.0,877.4 L315.2,879.4 L315.4,881.4 L315.5,883.4 L315.7,885.3 L315.8,887.3 L316.0,889.3 L316.2,891.3 L316.3,893.3 L316.5,895.3 L316.6,897.3 L316.8,899.3 L316.9,901.3 L317.1,903.3 L317.3,905.3 L317.4,907.3 L317.6,909.3 L317.7,911.3 L317.9,913.2 L318.0,915.2 L318.2,917.2 L318.3,919.2 L318.5,921.2 L318.7,923.2 L318.8,925.2 L319.0,927.2 L319.1,929.2 L319.3,931.2 L319.4,933.2 L319.6,935.2 L319.8,937.2 L319.9,939.2 L320.1,941.1 L320.2,943.1 L320.4,945.1 L320.6,947.1 L320.7,949.1 L320.9,951.1 L321.1,953.1 L321.2,955.1 L321.4,957.1 L321.6,959.1 L321.7,961.1 L321.9,963.1 L322.1,965.0 L322.2,967.0 L322.4,969.0 L322.6,971.0 L322.8,973.0 L322.9,975.0 L323.1,977.0 L323.3,979.0 L323.5,981.0 L323.6,983.0 L323.8,985.0 L324.0,986.9 L324.2,988.9 L324.4,990.9 L324.6,992.9 L324.7,994.9 L324.9,996.9 L325.1,998.9 L325.3,1000.9 L325.5,1002.9 L325.7,1004.9 L325.9,1006.8 L326.1,1008.8 L326.2,1010.8 L326.4,1012.8 L326.6,1014.8 L326.8,1016.8 L327.0,1018.8 L327.2,1020.8 L327.4,1022.8 L327.6,1024.7 L327.8,1026.7 L328.0,1028.7 L328.2,1030.7 L328.4,1032.7 L328.6,1034.7 L328.8,1036.7 L329.0,1038.7 L329.2,1040.7 L329.4,1042.6 L329.6,1044.6 L329.8,1046.6 L330.0,1048.6 L330.2,1050.6 L330.4,1052.6 L330.6,1054.6 L330.8,1056.6 L331.1,1058.5 L331.3,1060.5 L331.5,1062.5 L331.7,1064.5 L331.9,1066.5 L332.1,1068.5 L332.3,1070.5 L332.5,1072.5 L332.7,1074.4 L332.9,1076.4 L333.2,1078.4 L333.4,1080.4 L333.6,1082.4 L333.8,1084.4 L334.0,1086.4 L334.2,1088.4 L334.4,1090.3 L334.7,1092.3 L334.9,1094.3 L335.1,1096.3 L335.3,1098.3 L335.5,1100.3 L335.7,1102.3 L336.0,1104.3 L336.2,1106.2 L336.4,1108.2 L336.6,1110.2 L336.8,1112.2 L337.1,1114.2 L337.3,1116.2 L337.5,1118.2 L337.7,1120.1 L337.9,1122.1 L338.2,1124.1 L338.4,1126.1 L338.6,1128.1 L338.8,1130.1 L339.0,1132.1 L339.3,1134.1 L339.5,1136.0 L339.7,1138.0 L339.9,1140.0 L340.2,1142.0 L340.4,1144.0 L340.6,1146.0 L340.8,1148.0 L341.0,1149.9 L341.3,1151.9 L341.5,1153.9 L341.7,1155.9 L341.9,1157.9 L342.2,1159.9 L342.4,1161.9 L342.6,1163.9 L342.8,1165.8 L343.1,1167.8 L343.3,1169.8 L343.5,1171.8 L343.7,1173.8 L344.0,1175.8 L344.2,1177.8 L344.4,1179.7 L344.6,1181.7 L344.9,1183.7 L345.1,1185.7 L345.3,1187.7 L345.5,1189.7 L345.8,1191.7 L346.0,1193.6 L346.2,1195.6 L346.5,1197.6 L346.7,1199.6 L346.9,1201.6 L347.2,1203.6 L347.4,1205.6 L347.6,1207.5 L347.9,1209.5 L348.1,1211.5 L348.3,1213.5 L348.6,1215.5 L348.8,1217.5 L349.0,1219.5 L349.3,1221.4 L349.5,1223.4 L349.8,1225.4 L350.0,1227.4 L350.2,1229.4 L350.5,1231.4 L350.7,1233.3 L351.0,1235.3 L351.2,1237.3 L351.5,1239.3 L351.7,1241.3 L352.0,1243.3 L352.2,1245.2 L352.5,1247.2 L352.7,1249.2 L353.0,1251.2 L353.3,1253.2 L353.5,1255.2 L353.8,1257.1 L354.0,1259.1 L354.3,1261.1 L354.6,1263.1 L354.8,1265.1 L355.1,1267.0 L355.4,1269.0 L355.6,1271.0 L355.9,1273.0 L356.2,1275.0 L356.4,1276.9 L356.7,1278.9 L357.0,1280.9 L357.3,1282.9 L357.6,1284.9 L357.8,1286.8 L358.1,1288.8 L358.4,1290.8 L358.7,1292.8 L359.0,1294.7 L359.3,1296.7 L359.6,1298.7 L359.9,1300.7 L360.2,1302.7 L360.4,1304.6 L360.7,1306.6 L361.1,1308.6 L361.4,1310.6 L361.7,1312.5 L362.0,1314.5 L362.3,1316.5 L362.6,1318.5 L362.9,1320.4 L363.2,1322.4 L363.5,1324.4 L363.9,1326.3 L364.2,1328.3 L364.5,1330.3 L364.8,1332.3 L365.2,1334.2 L365.5,1336.2 L365.8,1338.2 L366.2,1340.1 L366.5,1342.1 L366.9,1344.1 L367.2,1346.0 L367.6,1348.0 L368.0,1350.0 L368.3,1351.9 L368.7,1353.9 L369.1,1355.9 L369.5,1357.8 L369.9,1359.8 L370.3,1361.7 L370.7,1363.7 L371.1,1365.6 L371.5,1367.6 L371.9,1369.5 L372.4,1371.5 L372.8,1373.4 L373.3,1375.4 L373.7,1377.3 L374.2,1379.3 L374.6,1381.2 L375.1,1383.1 L375.6,1385.1 L376.1,1387.0 L376.6,1388.9 L377.1,1390.9 L377.7,1392.8 L378.2,1394.7 L378.8,1396.6 L379.3,1398.5 L379.9,1400.5 L380.5,1402.4 L381.0,1404.3 L381.6,1406.2 L382.2,1408.1 L382.9,1410.0 L383.5,1411.9 L384.2,1413.8 L384.8,1415.7 L385.5,1417.6 L386.3,1419.4 L387.0,1421.3 L387.9,1423.1 L388.8,1425.0 L389.8,1426.8 L390.9,1428.6 L392.1,1430.4 L393.3,1432.1 L394.7,1433.8 L396.2,1435.5 L397.8,1437.1 L399.5,1438.4 L401.2,1439.6 L402.9,1440.4 L404.5,1440.9 L406.1,1440.9 L407.6,1440.5 L409.1,1439.6 L410.4,1438.4 L411.7,1437.0 L413.0,1435.3 L414.2,1433.6 L415.3,1431.7 L416.4,1429.9 L417.5,1428.0 L418.5,1426.2 L419.5,1424.3 L420.4,1422.5 L421.3,1420.6 L422.2,1418.7 L423.0,1416.9 L423.9,1415.0 L424.6,1413.1 L425.4,1411.2 L426.1,1409.3 L426.8,1407.4 L427.5,1405.5 L428.1,1403.6 L428.7,1401.7 L429.3,1399.7 L429.9,1397.8 L430.4,1395.9 L431.0,1394.0 L431.5,1392.0 L432.0,1390.1 L432.5,1388.2 L433.0,1386.2 L433.4,1384.3 L433.9,1382.4 L434.3,1380.4 L434.8,1378.5 L435.2,1376.5 L435.6,1374.6 L436.0,1372.6 L436.4,1370.7 L436.9,1368.7 L437.3,1366.8 L437.7,1364.8 L438.1,1362.9 L438.5,1360.9 L438.9,1359.0 L439.3,1357.0 L439.7,1355.0 L440.0,1353.1 L440.4,1351.1 L440.8,1349.2 L441.2,1347.2 L441.6,1345.2 L441.9,1343.3 L442.3,1341.3 L442.7,1339.4 L443.0,1337.4 L443.4,1335.4 L443.7,1333.5 L444.1,1331.5 L444.4,1329.5 L444.8,1327.6 L445.1,1325.6 L445.5,1323.6 L445.8,1321.7 L446.2,1319.7 L446.5,1317.7 L446.8,1315.8 L447.1,1313.8 L447.5,1311.8 L447.8,1309.9 L448.1,1307.9 L448.4,1305.9 L448.7,1303.9 L449.1,1302.0 L449.4,1300.0 L449.7,1298.0 L450.0,1296.1 L450.3,1294.1 L450.6,1292.1 L450.9,1290.1 L451.2,1288.1 L451.5,1286.2 L451.8,1284.2 L452.1,1282.2 L452.3,1280.2 L452.6,1278.3 L452.9,1276.3 L453.2,1274.3 L453.5,1272.3 L453.7,1270.3 L454.0,1268.4 L454.3,1266.4 L454.5,1264.4 L454.8,1262.4 L455.1,1260.4 L455.3,1258.5 L455.6,1256.5 L455.9,1254.5 L456.1,1252.5 L456.4,1250.5 L456.6,1248.5 L456.9,1246.6 L457.1,1244.6 L457.4,1242.6 L457.6,1240.6 L457.9,1238.6 L458.1,1236.6 L458.3,1234.6 L458.6,1232.7 L458.8,1230.7 L459.1,1228.7 L459.3,1226.7 L459.5,1224.7 L459.7,1222.7 L460.0,1220.7 L460.2,1218.8 L460.4,1216.8 L460.7,1214.8 L460.9,1212.8 L461.1,1210.8 L461.3,1208.8 L461.5,1206.8 L461.8,1204.8 L462.0,1202.9 L462.2,1200.9 L462.4,1198.9 L462.6,1196.9 L462.8,1194.9 L463.0,1192.9 L463.2,1190.9 L463.4,1188.9 L463.7,1186.9 L463.9,1185.0 L464.1,1183.0 L464.3,1181.0 L464.5,1179.0 L464.7,1177.0 L464.9,1175.0 L465.1,1173.0 L465.3,1171.0 L465.4,1169.0 L465.6,1167.1 L465.8,1165.1 L466.0,1163.1 L466.2,1161.1 L466.4,1159.1 L466.6,1157.1 L466.8,1155.1 L467.0,1153.1 L467.1,1151.1 L467.3,1149.1 L467.5,1147.2 L467.7,1145.2 L467.9,1143.2 L468.1,1141.2 L468.2,1139.2 L468.4,1137.2 L468.6,1135.2 L468.8,1133.2 L468.9,1131.2 L469.1,1129.2 L469.3,1127.2 L469.5,1125.2 L469.6,1123.3 L469.8,1121.3 L470.0,1119.3 L470.2,1117.3 L470.3,1115.3 L470.5,1113.3 L470.7,1111.3 L470.8,1109.3 L471.0,1107.3 L471.2,1105.3 L471.3,1103.3 L471.5,1101.3 L471.6,1099.4 L471.8,1097.4 L472.0,1095.4 L472.1,1093.4 L472.3,1091.4 L472.5,1089.4 L472.6,1087.4 L472.8,1085.4 L472.9,1083.4 L473.1,1081.4 L473.2,1079.4 L473.4,1077.4 L473.6,1075.4 L473.7,1073.4 L473.9,1071.5 L474.0,1069.5 L474.2,1067.5 L474.3,1065.5 L474.5,1063.5 L474.6,1061.5 L474.8,1059.5 L474.9,1057.5 L475.1,1055.5 L475.3,1053.5 L475.4,1051.5 L475.6,1049.5 L475.7,1047.5 L475.9,1045.5 L476.0,1043.5 L476.2,1041.6 L476.3,1039.6 L476.5,1037.6 L476.6,1035.6 L476.8,1033.6 L476.9,1031.6 L477.1,1029.6 L477.2,1027.6 L477.4,1025.6 L477.5,1023.6 L477.7,1021.6 L477.8,1019.6 L477.9,1017.6 L478.1,1015.6 L478.2,1013.6 L478.4,1011.6 L478.5,1009.7 L478.7,1007.7 L478.8,1005.7 L479.0,1003.7 L479.1,1001.7 L479.3,999.7 L479.4,997.7 L479.6,995.7 L479.7,993.7 L479.9,991.7 L480.0,989.7 L480.2,987.7 L480.3,985.7 L480.5,983.7 L480.6,981.7 L480.8,979.7 L480.9,977.7 L481.1,975.8 L481.2,973.8 L481.4,971.8 L481.5,969.8 L481.7,967.8 L481.8,965.8 L482.0,963.8 L482.1,961.8 L482.3,959.8 L482.4,957.8 L482.6,955.8 L482.7,953.8 L482.9,951.8 L483.0,949.8 L483.2,947.8 L483.3,945.8 L483.5,943.9 L483.7,941.9 L483.8,939.9 L484.0,937.9 L484.1,935.9 L484.3,933.9 L484.4,931.9 L484.6,929.9 L484.8,927.9 L484.9,925.9 L485.1,923.9 L485.2,921.9 L485.4,919.9 L485.6,917.9 L485.7,916.0 L485.9,914.0 L486.0,912.0 L486.2,910.0 L486.4,908.0 L486.5,906.0 L486.7,904.0 L486.9,902.0 L487.0,900.0 L487.2,898.0 L487.4,896.0 L487.6,894.0 L487.7,892.0 L487.9,890.0 L488.1,888.1 L488.2,886.1 L488.4,884.1 L488.6,882.1 L488.8,880.1 L489.0,878.1 L489.2,876.1 L489.4,874.1 L489.6,872.1 L489.8,870.1 L490.0,868.2 L490.2,866.2 L490.4,864.2 L490.7,862.2 L490.9,860.2 L491.2,858.2 L491.4,856.3 L491.7,854.3 L492.0,852.3 L492.3,850.3 L492.6,848.4 L492.8,846.4 L493.2,844.4 L493.5,842.4 L493.8,840.5 L494.1,838.5 L494.4,836.5 L494.7,834.6 L495.1,832.6 L495.4,830.6 L495.7,828.7 L496.0,826.7 L496.4,824.7 L496.7,822.8 L497.0,820.8 L497.3,818.8 L497.6,816.8 L497.9,814.9 L498.2,812.9 L498.5,810.9 L498.8,808.9 L499.1,807.0 L499.4,805.0 L499.6,803.0 L499.9,801.0 L500.2,799.1 L500.4,797.1 L500.7,795.1 L500.9,793.1 L501.1,791.1 L501.4,789.1 L501.6,787.2 L501.8,785.2 L502.0,783.2 L502.2,781.2 L502.4,779.2 L502.6,777.2 L502.8,775.2 L503.0,773.2 L503.2,771.2 L503.4,769.2 L503.6,767.3 L503.8,765.3 L503.9,763.3 L504.1,761.3 L504.3,759.3 L504.5,757.3 L504.6,755.3 L504.8,753.3 L505.0,751.3 L505.1,749.3 L505.3,747.3 L505.4,745.3 L505.6,743.3 L505.8,741.3 L505.9,739.3 L506.1,737.4 L506.3,735.4 L506.4,733.4 L506.6,731.4 L506.7,729.4 L506.9,727.4 L507.1,725.4 L507.2,723.4 L507.4,721.4 L507.6,719.4 L507.7,717.4 L507.9,715.4 L508.1,713.4 L508.2,711.4 L508.4,709.5 L508.6,707.5 L508.7,705.5 L508.9,703.5 L509.1,701.5 L509.3,699.5 L509.4,697.5 L509.6,695.5 L509.8,693.5 L510.0,691.5 L510.2,689.6 L510.3,687.6 L510.5,685.6 L510.7,683.6 L510.9,681.6 L511.1,679.6 L511.2,677.6 L511.4,675.6 L511.6,673.6 L511.8,671.6 L512.0,669.7 L512.2,667.7 L512.4,665.7 L512.6,663.7 L512.8,661.7 L513.0,659.7 L513.1,657.7 L513.3,655.7 L513.5,653.7 L513.7,651.8 L513.9,649.8 L514.1,647.8 L514.3,645.8 L514.5,643.8 L514.7,641.8 L514.9,639.8 L515.1,637.8 L515.4,635.8 L515.6,633.8 L515.8,631.9 L516.0,629.9 L516.2,627.9 L516.4,625.9 L516.6,623.9 L516.8,621.9 L517.1,619.9 L517.3,617.9 L517.5,615.9 L517.8,613.9 L518.0,612.0 L518.3,610.0 L518.5,608.0 L518.8,606.0 L519.1,604.0 L519.3,602.1 L519.6,600.1 L519.9,598.1 L520.2,596.1 L520.6,594.2 L520.9,592.2 L521.2,590.2 L521.6,588.3 L521.9,586.3 L522.3,584.3 L522.7,582.4 L523.1,580.4 L523.5,578.5 L523.9,576.5 L524.4,574.6 L524.8,572.6 L525.2,570.7 L525.6,568.7 L526.1,566.8 L526.5,564.9 L526.9,562.9 L527.4,561.0 L527.8,559.0 L528.2,557.1 L528.7,555.1 L529.1,553.2 L529.5,551.3 L529.9,549.3 L530.3,547.4 L530.7,545.4 L531.0,543.5 L531.4,541.5 L531.7,539.6 L532.0,537.6 L532.4,535.6 L532.7,533.7 L533.0,531.7 L533.4,529.6 L533.8,527.6 L534.3,525.5 L534.8,523.3 L535.4,521.1 L536.1,518.9 L536.9,516.6 L537.8,514.4 L538.7,512.3 L539.7,510.5 L540.8,509.0 L541.9,508.0 L543.0,507.7 L544.1,507.9 L545.2,508.8 L546.3,510.2 L547.4,511.9 L548.4,513.9 L549.4,516.1 L550.3,518.4 L551.1,520.6 L551.9,522.8 L552.6,524.9 L553.2,527.0 L553.7,529.0 L554.3,531.0 L554.7,533.0 L555.2,535.0 L555.6,536.9 L556.0,538.9 L556.4,540.8 L556.8,542.7 L557.2,544.7 L557.5,546.6 L557.9,548.6 L558.3,550.5 L558.6,552.5 L559.0,554.4 L559.3,556.4 L559.7,558.3 L560.0,560.3 L560.3,562.2 L560.7,564.2 L561.0,566.2 L561.3,568.1 L561.6,570.1 L561.9,572.0 L562.2,574.0 L562.5,576.0 L562.8,577.9 L563.1,579.9 L563.4,581.9 L563.7,583.8 L564.0,585.8 L564.2,587.8 L564.5,589.7 L564.8,591.7 L565.0,593.7 L565.3,595.7 L565.6,597.7 L565.8,599.6 L566.1,601.6 L566.3,603.6 L566.6,605.6 L566.8,607.5 L567.0,609.5 L567.3,611.5 L567.5,613.5 L567.7,615.5 L568.0,617.5 L568.2,619.4 L568.4,621.4 L568.6,623.4 L568.8,625.4 L569.1,627.4 L569.3,629.4 L569.5,631.4 L569.7,633.4 L569.9,635.4 L570.1,637.3 L570.3,639.3 L570.5,641.3 L570.7,643.3 L570.9,645.3 L571.1,647.3 L571.3,649.3 L571.5,651.3 L571.7,653.3 L571.9,655.3 L572.1,657.3 L572.3,659.3 L572.5,661.3 L572.7,663.2 L572.9,665.2 L573.1,667.2 L573.2,669.2 L573.4,671.2 L573.6,673.2 L573.8,675.2 L574.0,677.2 L574.2,679.2 L574.4,681.2 L574.6,683.2 L574.8,685.2 L575.0,687.2 L575.2,689.2 L575.4,691.2 L575.6,693.1 L575.8,695.1 L576.0,697.1 L576.2,699.1 L576.4,701.1 L576.5,703.1 L576.7,705.1 L576.9,707.1 L577.1,709.1 L577.3,711.1 L577.5,713.1 L577.7,715.0 L577.9,717.0 L578.1,719.0 L578.3,721.0 L578.5,723.0 L578.7,725.0 L579.0,727.0 L579.2,729.0 L579.4,731.0 L579.6,733.0 L579.8,734.9 L580.0,736.9 L580.2,738.9 L580.4,740.9 L580.6,742.9 L580.8,744.9 L581.0,746.9 L581.2,748.9 L581.4,750.9 L581.6,752.9 L581.8,754.8 L582.0,756.8 L582.2,758.8 L582.4,760.8 L582.6,762.8 L582.8,764.8 L583.0,766.8 L583.3,768.8 L583.5,770.7 L583.7,772.7 L583.9,774.7 L584.1,776.7 L584.3,778.7 L584.5,780.7 L584.7,782.7 L584.9,784.7 L585.1,786.6 L585.3,788.6 L585.5,790.6 L585.7,792.6 L586.0,794.6 L586.2,796.6 L586.4,798.6 L586.6,800.6 L586.8,802.5 L587.0,804.5 L587.2,806.5 L587.4,808.5 L587.6,810.5 L587.8,812.5 L588.0,814.5 L588.3,816.5 L588.5,818.4 L588.7,820.4 L588.9,822.4 L589.1,824.4 L589.3,826.4 L589.5,828.4 L589.7,830.4 L589.9,832.3 L590.1,834.3 L590.3,836.3 L590.5,838.3 L590.8,840.3 L591.0,842.3 L591.2,844.3 L591.4,846.3 L591.6,848.2 L591.8,850.2 L592.0,852.2 L592.2,854.2 L592.4,856.2 L592.6,858.2 L592.8,860.2 L593.0,862.2 L593.2,864.1 L593.4,866.1 L593.7,868.1 L593.9,870.1 L594.1,872.1 L594.3,874.1 L594.5,876.1 L594.7,878.1 L594.9,880.0 L595.1,882.0 L595.3,884.0 L595.5,886.0 L595.7,888.0 L595.9,890.0 L596.1,892.0 L596.3,894.0 L596.5,895.9 L596.7,897.9 L596.9,899.9 L597.1,901.9 L597.3,903.9 L597.5,905.9 L597.7,907.9 L597.9,909.9 L598.1,911.9 L598.3,913.8 L598.5,915.8 L598.7,917.8 L598.9,919.8 L599.1,921.8 L599.3,923.8 L599.5,925.8 L599.7,927.8 L599.9,929.8 L600.1,931.7 L600.3,933.7 L600.5,935.7 L600.7,937.7 L600.9,939.7 L601.1,941.7 L601.3,943.7 L601.5,945.7 L601.7,947.7 L601.9,949.6 L602.1,951.6 L602.3,953.6 L602.5,955.6 L602.7,957.6 L602.9,959.6 L603.1,961.6 L603.3,963.6 L603.5,965.6 L603.7,967.6 L603.9,969.5 L604.1,971.5 L604.3,973.5 L604.5,975.5 L604.7,977.5 L604.9,979.5 L605.1,981.5 L605.4,983.5 L605.6,985.5 L605.8,987.4 L606.0,989.4 L606.2,991.4 L606.4,993.4 L606.6,995.4 L606.8,997.4 L607.0,999.4 L607.2,1001.4 L607.4,1003.4 L607.6,1005.4 L607.9,1007.3 L608.1,1009.3 L608.3,1011.3 L608.5,1013.3 L608.7,1015.3 L608.9,1017.3 L609.1,1019.3 L609.4,1021.3 L609.6,1023.3 L609.8,1025.2 L610.0,1027.2 L610.2,1029.2 L610.4,1031.2 L610.7,1033.2 L610.9,1035.2 L611.1,1037.2 L611.3,1039.2 L611.6,1041.2 L611.8,1043.1 L612.0,1045.1 L612.2,1047.1 L612.5,1049.1 L612.7,1051.1 L612.9,1053.1 L613.2,1055.1 L613.4,1057.1 L613.6,1059.0 L613.9,1061.0 L614.1,1063.0 L614.3,1065.0 L614.6,1067.0 L614.8,1069.0 L615.1,1071.0 L615.3,1073.0 L615.5,1074.9 L615.8,1076.9 L616.0,1078.9 L616.3,1080.9 L616.5,1082.9 L616.8,1084.9 L617.0,1086.9 L617.3,1088.9 L617.5,1090.8 L617.8,1092.8 L618.1,1094.8 L618.3,1096.8 L618.6,1098.8 L618.9,1100.8 L619.1,1102.7 L619.4,1104.7 L619.7,1106.7 L620.0,1108.7 L620.3,1110.6 L620.6,1112.6 L620.9,1114.6 L621.2,1116.5 L621.5,1118.5 L621.8,1120.5 L622.1,1122.4 L622.5,1124.4 L622.8,1126.3 L623.2,1128.3 L623.5,1130.2 L623.9,1132.1 L624.3,1134.1 L624.7,1136.0 L625.1,1137.9 L625.5,1139.9 L625.9,1141.8 L626.4,1143.7 L626.9,1145.6 L627.4,1147.6 L627.9,1149.5 L628.4,1151.4 L629.0,1153.4 L629.6,1155.3 L630.2,1157.3 L630.9,1159.3 L631.5,1161.2 L632.3,1163.2 L633.0,1165.2 L633.8,1167.3 L634.7,1169.3 L635.6,1171.4 L636.5,1173.4 L637.5,1175.5 L638.5,1177.5 L639.6,1179.4 L640.7,1180.9 L641.8,1182.1 L642.9,1182.7 L644.1,1182.7 L645.2,1182.1 L646.3,1180.9 L647.5,1179.3 L648.5,1177.5 L649.6,1175.4 L650.5,1173.3 L651.5,1171.3 L652.3,1169.2 L653.1,1167.1 L653.9,1165.1 L654.6,1163.0 L655.3,1161.0 L656.0,1159.0 L656.6,1157.0 L657.2,1155.0 L657.9,1153.0 L658.5,1151.1 L659.1,1149.1 L659.7,1147.2 L660.3,1145.2 L660.9,1143.3 L661.5,1141.4 L662.0,1139.4 L662.6,1137.5 L663.1,1135.6 L663.7,1133.7 L664.2,1131.8 L664.7,1129.9 L665.2,1128.0 L665.7,1126.2 L666.2,1124.3 L666.7,1122.4 L667.2,1120.5 L667.7,1118.6 L668.2,1116.7 L668.6,1114.8 L669.1,1112.9 L669.5,1111.0 L669.9,1109.1 L670.4,1107.2 L670.8,1105.3 L671.2,1103.4 L671.6,1101.4 L672.0,1099.5 L672.4,1097.6 L672.8,1095.6 L673.2,1093.7 L673.6,1091.8 L674.0,1089.8 L674.4,1087.9 L674.7,1085.9 L675.1,1083.9 L675.5,1082.0 L675.9,1080.0 L676.2,1078.0 L676.6,1076.1 L676.9,1074.1 L677.3,1072.1 L677.7,1070.1 L678.0,1068.2 L678.4,1066.2 L678.7,1064.2 L679.1,1062.2 L679.5,1060.2 L679.8,1058.2 L680.2,1056.3 L680.5,1054.3 L680.9,1052.3 L681.3,1050.3 L681.6,1048.3 L682.0,1046.3 L682.4,1044.4 L682.7,1042.4 L683.1,1040.4 L683.4,1038.4 L683.8,1036.4 L684.2,1034.4 L684.5,1032.4 L684.9,1030.5 L685.2,1028.5 L685.6,1026.5 L686.0,1024.5 L686.3,1022.5 L686.7,1020.5 L687.0,1018.6 L687.4,1016.6 L687.7,1014.6 L688.1,1012.6 L688.4,1010.7 L688.8,1008.7 L689.1,1006.7 L689.5,1004.8 L689.8,1002.8 L690.2,1000.8 L690.5,998.9 L690.8,996.9 L691.2,994.9 L691.5,993.0 L691.8,991.0 L692.2,989.1 L692.5,987.1 L692.8,985.2 L693.2,983.3 L693.5,981.3 L693.8,979.4 L694.1,977.4 L694.4,975.5 L694.7,973.6 L695.0,971.7 L695.3,969.8 L695.6,967.8 L695.9,965.9 L696.2,964.0 L696.5,962.1 L696.8,960.2 L697.2,958.3 L697.5,956.3 L697.9,954.4 L698.4,952.4 L698.8,950.4 L699.4,948.4 L700.0,946.4 L700.6,944.3 L701.3,942.2 L702.1,940.0 L703.0,937.8 L704.0,935.6 L705.0,933.4 L706.1,931.3 L707.3,929.4 L708.5,927.8 L709.7,926.6 L711.0,925.9 L712.2,925.7 L713.4,926.2 L714.6,927.1 L715.7,928.5 L716.8,930.3 L717.8,932.3 L718.8,934.5 L719.7,936.8 L720.6,939.0 L721.3,941.2 L722.0,943.3 L722.7,945.4 L723.2,947.5 L723.8,949.5 L724.2,951.5 L724.7,953.5 L725.1,955.4 L725.4,957.4 L725.8,959.3 L726.1,961.2 L726.4,963.1 L726.7,965.0 L727.0,966.9 L727.3,968.8 L727.6,970.7 L727.9,972.6 L728.2,974.6 L728.5,976.5 L728.7,978.4 L729.0,980.4 L729.3,982.3 L729.6,984.3 L729.9,986.2 L730.2,988.2 L730.5,990.2 L730.8,992.1 L731.1,994.1 L731.4,996.1 L731.7,998.1 L731.9,1000.0 L732.2,1002.0 L732.5,1004.0 L732.8,1006.0 L733.1,1008.0 L733.4,1010.0 L733.7,1011.9 L734.0,1013.9 L734.3,1015.9 L734.5,1017.9 L734.8,1019.9 L735.1,1021.9 L735.4,1023.9 L735.7,1025.8 L736.0,1027.8 L736.3,1029.8 L736.6,1031.8 L736.8,1033.8 L737.1,1035.8 L737.4,1037.8 L737.7,1039.7 L738.0,1041.7 L738.3,1043.7 L738.6,1045.7 L738.8,1047.7 L739.1,1049.7 L739.4,1051.7 L739.7,1053.6 L740.0,1055.6 L740.3,1057.6 L740.5,1059.6 L740.8,1061.6 L741.1,1063.6 L741.4,1065.5 L741.7,1067.5 L741.9,1069.5 L742.2,1071.5 L742.5,1073.5 L742.8,1075.5 L743.1,1077.4 L743.3,1079.4 L743.6,1081.4 L743.9,1083.4 L744.2,1085.4 L744.4,1087.3 L744.7,1089.3 L745.0,1091.3 L745.3,1093.3 L745.5,1095.3 L745.8,1097.3 L746.1,1099.2 L746.4,1101.2 L746.6,1103.2 L746.9,1105.2 L747.2,1107.2 L747.5,1109.2 L747.7,1111.1 L748.0,1113.1 L748.3,1115.1 L748.5,1117.1 L748.8,1119.1 L749.1,1121.0 L749.4,1123.0 L749.6,1125.0 L749.9,1127.0 L750.2,1129.0 L750.4,1130.9 L750.7,1132.9 L751.0,1134.9 L751.2,1136.9 L751.5,1138.9 L751.8,1140.9 L752.0,1142.8 L752.3,1144.8 L752.6,1146.8 L752.8,1148.8 L753.1,1150.8 L753.3,1152.7 L753.6,1154.7 L753.9,1156.7 L754.1,1158.7 L754.4,1160.7 L754.6,1162.7 L754.9,1164.6 L755.2,1166.6 L755.4,1168.6 L755.7,1170.6 L755.9,1172.6 L756.2,1174.5 L756.4,1176.5 L756.7,1178.5 L757.0,1180.5 L757.2,1182.5 L757.5,1184.4 L757.7,1186.4 L758.0,1188.4 L758.2,1190.4 L758.5,1192.4 L758.7,1194.4 L759.0,1196.3 L759.2,1198.3 L759.5,1200.3 L759.7,1202.3 L760.0,1204.3 L760.2,1206.2 L760.5,1208.2 L760.7,1210.2 L761.0,1212.2 L761.2,1214.2 L761.4,1216.2 L761.7,1218.1 L761.9,1220.1 L762.2,1222.1 L762.4,1224.1 L762.7,1226.1 L762.9,1228.1 L763.1,1230.0 L763.4,1232.0 L763.6,1234.0 L763.9,1236.0 L764.1,1238.0 L764.3,1240.0 L764.6,1241.9 L764.8,1243.9 L765.0,1245.9 L765.3,1247.9 L765.5,1249.9 L765.7,1251.9 L766.0,1253.8 L766.2,1255.8 L766.4,1257.8 L766.7,1259.8 L766.9,1261.8 L767.1,1263.8 L767.4,1265.8 L767.6,1267.7 L767.8,1269.7 L768.0,1271.7 L768.3,1273.7 L768.5,1275.7 L768.7,1277.7 L768.9,1279.7 L769.2,1281.6 L769.4,1283.6 L769.6,1285.6 L769.8,1287.6 L770.1,1289.6 L770.3,1291.6 L770.5,1293.6 L770.7,1295.5 L770.9,1297.5 L771.2,1299.5 L771.4,1301.5 L771.6,1303.5 L771.8,1305.5 L772.0,1307.5 L772.3,1309.5 L772.5,1311.4 L772.7,1313.4 L772.9,1315.4 L773.1,1317.4 L773.4,1319.4 L773.6,1321.4 L773.8,1323.4 L774.0,1325.4 L774.2,1327.3 L774.5,1329.3 L774.7,1331.3 L774.9,1333.3 L775.1,1335.3 L775.3,1337.3 L775.6,1339.3 L775.8,1341.3 L776.0,1343.2 L776.2,1345.2 L776.4,1347.2 L776.7,1349.2 L776.9,1351.2 L777.1,1353.2 L777.3,1355.2 L777.6,1357.2 L777.8,1359.1 L778.0,1361.1 L778.2,1363.1 L778.5,1365.1 L778.7,1367.1 L778.9,1369.1 L779.1,1371.1 L779.4,1373.1 L779.6,1375.0 L779.8,1377.0 L780.1,1379.0 L780.3,1381.0 L780.5,1383.0 L780.8,1385.0 L781.0,1387.0 L781.3,1388.9 L781.5,1390.9 L781.7,1392.9 L782.0,1394.9 L782.2,1396.9 L782.5,1398.9 L782.7,1400.8 L783.0,1402.8 L783.2,1404.8 L783.5,1406.8 L783.7,1408.8 L784.0,1410.8 L784.2,1412.8 L784.5,1414.7 L784.7,1416.7 L785.0,1418.7 L785.2,1420.7 L785.5,1422.7 L785.8,1424.6 L786.0,1426.6 L786.3,1428.6 L786.6,1430.6 L786.8,1432.6 L787.1,1434.6 L787.4,1436.5 L787.7,1438.5 L787.9,1440.5 L788.2,1442.5 L788.5,1444.5 L788.8,1446.4 L789.1,1448.4 L789.4,1450.4 L789.6,1452.4 L789.9,1454.3 L790.2,1456.3 L790.5,1458.3 L790.8,1460.3 L791.1,1462.3 L791.4,1464.2 L791.7,1466.2 L792.0,1468.2 L792.3,1470.2 L792.7,1472.1 L793.0,1474.1 L793.3,1476.1 L793.6,1478.1 L793.9,1480.0 L794.3,1482.0 L794.6,1484.0 L794.9,1485.9 L795.3,1487.9 L795.6,1489.9 L795.9,1491.8 L796.3,1493.8 L796.7,1495.8 L797.0,1497.7 L797.4,1499.7 L797.7,1501.7 L798.1,1503.6 L798.5,1505.6 L798.9,1507.6 L799.3,1509.5 L799.6,1511.5 L800.0,1513.4 L800.4,1515.4 L800.9,1517.4 L801.3,1519.3 L801.7,1521.3 L802.1,1523.2 L802.5,1525.2 L803.0,1527.1 L803.4,1529.1 L803.9,1531.0 L804.3,1532.9 L804.8,1534.9 L805.3,1536.8 L805.8,1538.8 L806.2,1540.7 L806.7,1542.6 L807.2,1544.6 L807.7,1546.5 L808.3,1548.4 L808.8,1550.4 L809.3,1552.3 L809.9,1554.2 L810.4,1556.2 L811.0,1558.1 L811.5,1560.0 L812.1,1561.9 L812.7,1563.8 L813.3,1565.7 L813.9,1567.7 L814.5,1569.6 L815.1,1571.5 L815.8,1573.4 L816.4,1575.3 L817.1,1577.1 L817.8,1579.0 L818.5,1580.9 L819.3,1582.7 L820.0,1584.6 L820.8,1586.4 L821.6,1588.2 L822.5,1590.0 L823.4,1591.8 L824.3,1593.5 L825.2,1595.3 L826.2,1597.0 L827.2,1598.7 L828.3,1600.4 L829.4,1602.1 L830.6,1603.7 L831.8,1605.3 L833.0,1606.9 L834.3,1608.5 L835.6,1610.0 L837.0,1611.5"/>
</g>
<g clip-path="url(#clipb)" fill="none" stroke-width="6.8" stroke-linejoin="round" stroke-linecap="butt">
<path stroke="#000000" d="M862.0,1107.8 L863.9,1107.5 L865.8,1107.3 L867.7,1107.1 L869.6,1106.8 L871.5,1106.6 L873.5,1106.3 L875.4,1106.1 L877.3,1105.8 L879.3,1105.5 L881.2,1105.2 L883.2,1104.9 L885.1,1104.6 L887.1,1104.3 L889.1,1103.9 L891.0,1103.6 L893.0,1103.2 L895.0,1102.9 L896.9,1102.5 L898.9,1102.1 L900.9,1101.7 L902.9,1101.3 L904.8,1100.9 L906.8,1100.5 L908.8,1100.0 L910.8,1099.6 L912.7,1099.1 L914.7,1098.6 L916.7,1098.2 L918.7,1097.7 L920.7,1097.2 L922.6,1096.6 L924.6,1096.1 L926.6,1095.6 L928.5,1095.0 L930.5,1094.4 L932.4,1093.9 L934.4,1093.3 L936.4,1092.7 L938.3,1092.0 L940.2,1091.4 L942.2,1090.8 L944.1,1090.1 L946.0,1089.4 L948.0,1088.7 L949.9,1088.0 L951.8,1087.3 L953.7,1086.6 L955.6,1085.9 L957.5,1085.1 L959.4,1084.3 L961.2,1083.6 L963.1,1082.8 L964.9,1082.0 L966.8,1081.1 L968.6,1080.3 L970.4,1079.4 L972.3,1078.6 L974.1,1077.7 L975.9,1076.8 L977.7,1075.9 L979.4,1074.9 L981.2,1074.0 L982.9,1073.0 L984.7,1072.0 L986.4,1071.1 L988.1,1070.0 L989.8,1069.0 L991.5,1068.0 L993.2,1066.9 L994.8,1065.8 L996.5,1064.8 L998.1,1063.6 L999.7,1062.5 L1001.3,1061.4 L1002.9,1060.2 L1004.5,1059.0 L1006.1,1057.9 L1007.6,1056.6 L1009.1,1055.4 L1010.6,1054.2 L1012.1,1052.9 L1013.6,1051.6 L1015.0,1050.3 L1016.5,1049.0 L1017.9,1047.7 L1019.3,1046.3 L1020.6,1045.0 L1022.0,1043.6 L1023.3,1042.2 L1024.7,1040.7 L1026.0,1039.3 L1027.3,1037.8 L1028.5,1036.4 L1029.8,1034.9 L1031.0,1033.4 L1032.2,1031.9 L1033.4,1030.3 L1034.6,1028.8 L1035.8,1027.2 L1036.9,1025.6 L1038.1,1024.0 L1039.2,1022.4 L1040.3,1020.8 L1041.4,1019.2 L1042.5,1017.5 L1043.5,1015.9 L1044.6,1014.2 L1045.6,1012.5 L1046.6,1010.8 L1047.7,1009.1 L1048.6,1007.4 L1049.6,1005.7 L1050.6,1003.9 L1051.5,1002.2 L1052.5,1000.4 L1053.4,998.6 L1054.3,996.9 L1055.2,995.1 L1056.1,993.3 L1057.0,991.5 L1057.9,989.7 L1058.7,987.8 L1059.6,986.0 L1060.4,984.2 L1061.2,982.3 L1062.0,980.5 L1062.8,978.6 L1063.6,976.8 L1064.4,974.9 L1065.2,973.0 L1066.0,971.1 L1066.7,969.2 L1067.5,967.3 L1068.2,965.4 L1068.9,963.5 L1069.7,961.6 L1070.4,959.7 L1071.1,957.8 L1071.8,955.9 L1072.5,954.0 L1073.1,952.1 L1073.8,950.1 L1074.5,948.2 L1075.1,946.3 L1075.8,944.3 L1076.4,942.4 L1077.1,940.5 L1077.7,938.5 L1078.4,936.6 L1079.0,934.7 L1079.6,932.7 L1080.2,930.8 L1080.8,928.9 L1081.4,926.9 L1082.0,925.0 L1082.6,923.1 L1083.2,921.1 L1083.8,919.2 L1084.4,917.3 L1085.0,915.3 L1085.5,913.4 L1086.1,911.5 L1086.7,909.6 L1087.2,907.6 L1087.8,905.7 L1088.4,903.8 L1088.9,901.9 L1089.5,899.9 L1090.0,898.0 L1090.5,896.1 L1091.1,894.2 L1091.6,892.2 L1092.1,890.3 L1092.6,888.4 L1093.2,886.5 L1093.7,884.5 L1094.2,882.6 L1094.7,880.7 L1095.2,878.8 L1095.7,876.9 L1096.2,874.9 L1096.7,873.0 L1097.2,871.1 L1097.7,869.2 L1098.1,867.3 L1098.6,865.3 L1099.1,863.4 L1099.6,861.5 L1100.0,859.6 L1100.5,857.6 L1101.0,855.7 L1101.4,853.8 L1101.9,851.9 L1102.3,850.0 L1102.8,848.0 L1103.2,846.1 L1103.7,844.2 L1104.1,842.3 L1104.6,840.3 L1105.0,838.4 L1105.4,836.5 L1105.8,834.6 L1106.3,832.6 L1106.7,830.7 L1107.1,828.8 L1107.5,826.9 L1108.0,824.9 L1108.4,823.0 L1108.8,821.1 L1109.2,819.1 L1109.6,817.2 L1110.0,815.3 L1110.4,813.3 L1110.8,811.4 L1111.2,809.5 L1111.6,807.5 L1112.0,805.6 L1112.4,803.7 L1112.8,801.7 L1113.2,799.8 L1113.6,797.9 L1113.9,795.9 L1114.3,794.0 L1114.7,792.0 L1115.1,790.1 L1115.5,788.2 L1115.8,786.2 L1116.2,784.3 L1116.6,782.3 L1116.9,780.4 L1117.3,778.4 L1117.7,776.5 L1118.0,774.5 L1118.4,772.6 L1118.8,770.6 L1119.1,768.7 L1119.5,766.7 L1119.8,764.7 L1120.2,762.8 L1120.6,760.8 L1120.9,758.9 L1121.3,756.9 L1121.6,754.9 L1122.0,753.0 L1122.3,751.0 L1122.7,749.0 L1123.0,747.1 L1123.4,745.1 L1123.7,743.1 L1124.0,741.2 L1124.4,739.2 L1124.7,737.2 L1125.1,735.2 L1125.4,733.3 L1125.7,731.3 L1126.1,729.3 L1126.4,727.3 L1126.7,725.4 L1127.1,723.4 L1127.4,721.4 L1127.7,719.4 L1128.1,717.4 L1128.4,715.5 L1128.7,713.5 L1129.0,711.5 L1129.4,709.5 L1129.7,707.5 L1130.0,705.6 L1130.3,703.6 L1130.7,701.6 L1131.0,699.6 L1131.3,697.6 L1131.6,695.6 L1131.9,693.6 L1132.3,691.6 L1132.6,689.7 L1132.9,687.7 L1133.2,685.7 L1133.5,683.7 L1133.8,681.7 L1134.2,679.7 L1134.5,677.7 L1134.8,675.7 L1135.1,673.7 L1135.4,671.7 L1135.7,669.8 L1136.0,667.8 L1136.3,665.8 L1136.6,663.8 L1136.9,661.8 L1137.3,659.8 L1137.6,657.8 L1137.9,655.8 L1138.2,653.8 L1138.5,651.8 L1138.8,649.8 L1139.1,647.8 L1139.4,645.8 L1139.7,643.8 L1140.0,641.9 L1140.3,639.9 L1140.6,637.9 L1140.9,635.9 L1141.2,633.9 L1141.5,631.9 L1141.8,629.9 L1142.1,627.9 L1142.4,625.9 L1142.7,623.9 L1143.0,621.9 L1143.3,619.9 L1143.6,617.9 L1143.9,616.0 L1144.2,614.0 L1144.5,612.0 L1144.8,610.0 L1145.1,608.0 L1145.4,606.0 L1145.7,604.0 L1146.0,602.0 L1146.3,600.0 L1146.6,598.1 L1146.9,596.1 L1147.2,594.1 L1147.5,592.1 L1147.8,590.1 L1148.1,588.1 L1148.4,586.1 L1148.7,584.2 L1149.0,582.2 L1149.3,580.2 L1149.6,578.2 L1149.9,576.2 L1150.2,574.3 L1150.5,572.3 L1150.8,570.3 L1151.1,568.3 L1151.4,566.3 L1151.7,564.4 L1152.0,562.4 L1152.3,560.4 L1152.6,558.4 L1152.9,556.5 L1153.2,554.5 L1153.5,552.5 L1153.8,550.5 L1154.1,548.6 L1154.4,546.6 L1154.7,544.6 L1155.0,542.7 L1155.3,540.7 L1155.6,538.7 L1155.9,536.7 L1156.2,534.8 L1156.5,532.8 L1156.8,530.8 L1157.1,528.9 L1157.4,526.9 L1157.7,524.9 L1158.0,523.0 L1158.4,521.0 L1158.7,519.0 L1159.0,517.1 L1159.3,515.1 L1159.6,513.1 L1159.9,511.2 L1160.2,509.2 L1160.5,507.3 L1160.8,505.3 L1161.1,503.3 L1161.4,501.4 L1161.7,499.4 L1162.0,497.4 L1162.3,495.5 L1162.6,493.5 L1162.9,491.5 L1163.2,489.6 L1163.5,487.6 L1163.8,485.7 L1164.2,483.7 L1164.5,481.7 L1164.8,479.8 L1165.1,477.8 L1165.4,475.9 L1165.7,473.9 L1166.0,471.9 L1166.3,470.0 L1166.6,468.0 L1166.9,466.1 L1167.2,464.1 L1167.5,462.1 L1167.9,460.2 L1168.2,458.2 L1168.5,456.3 L1168.8,454.3 L1169.1,452.4 L1169.4,450.4 L1169.7,448.4 L1170.0,446.5 L1170.3,444.5 L1170.7,442.6 L1171.0,440.6 L1171.3,438.6 L1171.6,436.7 L1171.9,434.7 L1172.2,432.8 L1172.5,430.8 L1172.8,428.9 L1173.2,426.9 L1173.5,424.9 L1173.8,423.0 L1174.1,421.0 L1174.4,419.1 L1174.7,417.1 L1175.0,415.1 L1175.4,413.2 L1175.7,411.2 L1176.0,409.3 L1176.3,407.3 L1176.6,405.3 L1176.9,403.4 L1177.3,401.4 L1177.6,399.5 L1177.9,397.5 L1178.2,395.5 L1178.5,393.6 L1178.8,391.6 L1179.2,389.7 L1179.5,387.7 L1179.8,385.7 L1180.1,383.8 L1180.4,381.8 L1180.8,379.8 L1181.1,377.9 L1181.4,375.9 L1181.7,374.0 L1182.0,372.0 L1182.4,370.0 L1182.7,368.1 L1183.0,366.1 L1183.3,364.1 L1183.6,362.2 L1184.0,360.2 L1184.3,358.2 L1184.6,356.3 L1184.9,354.3 L1185.3,352.3 L1185.6,350.4 L1185.9,348.4 L1186.2,346.4 L1186.6,344.5 L1186.9,342.5 L1187.2,340.5 L1187.5,338.6 L1187.9,336.6 L1188.2,334.6 L1188.5,332.6 L1188.8,330.7 L1189.2,328.7 L1189.5,326.7 L1189.8,324.7 L1190.2,322.8 L1190.5,320.8 L1190.8,318.8 L1191.1,316.8 L1191.5,314.9 L1191.8,312.9 L1192.1,310.9 L1192.5,308.9 L1192.8,307.0 L1193.1,305.0 L1193.5,303.0 L1193.8,301.0 L1194.1,299.0 L1194.5,297.1 L1194.8,295.1 L1195.1,293.1 L1195.5,291.1 L1195.8,289.1 L1196.1,287.1 L1196.5,285.1 L1196.8,283.2 L1197.1,281.2 L1197.5,279.2 L1197.8,277.2 L1198.1,275.2 L1198.5,273.2 L1198.8,271.2 L1199.2,269.2 L1199.5,267.2 L1199.8,265.2 L1200.2,263.2 L1200.5,261.2 L1200.9,259.3 L1201.2,257.3 L1201.5,255.3 L1201.9,253.3 L1202.2,251.3 L1202.6,249.3 L1202.9,247.3 L1203.3,245.3 L1203.6,243.3 L1203.9,241.2 L1204.3,239.2 L1204.6,237.2 L1205.0,235.2 L1205.3,233.2 L1205.7,231.2 L1206.0,229.2 L1206.4,227.2 L1206.7,225.2 L1207.0,223.2 L1207.4,221.2 L1207.7,219.1 L1208.1,217.1 L1208.4,215.1 L1208.8,213.1 L1209.1,211.1 L1209.5,209.0 L1209.8,207.0 L1210.2,205.0 L1210.5,203.0 L1210.9,201.0 L1211.2,198.9 L1211.6,196.9 L1212.0,194.9 L1212.3,192.8 L1212.7,190.8 L1213.0,188.8 L1213.4,186.8 L1213.8,184.7 L1214.2,182.7 L1214.5,180.7 L1214.9,178.7 L1215.3,176.7 L1215.7,174.7 L1216.2,172.7 L1216.6,170.7 L1217.0,168.7 L1217.5,166.7 L1217.9,164.7 L1218.4,162.7 L1218.9,160.7 L1219.4,158.7 L1219.9,156.7 L1220.4,154.8 L1220.9,152.8 L1221.5,150.9 L1222.1,148.9 L1222.6,147.0 L1223.3,145.1 L1223.9,143.2 L1224.5,141.2 L1225.2,139.3 L1225.8,137.4 L1226.5,135.6 L1227.3,133.7 L1228.0,131.8 L1228.8,130.0 L1229.5,128.1 L1230.3,126.3 L1231.2,124.5 L1232.0,122.7 L1232.9,120.9 L1233.8,119.1 L1234.8,117.3 L1235.7,115.6 L1236.7,113.8 L1237.7,112.1 L1238.8,110.4 L1239.8,108.7 L1240.9,107.0 L1242.1,105.3 L1243.2,103.7 L1244.4,102.1 L1245.7,100.6 L1246.9,99.2 L1248.2,97.9 L1249.5,96.7 L1250.8,95.8 L1252.1,95.0 L1253.5,94.5 L1254.9,94.2 L1256.3,94.2 L1257.7,94.4 L1259.1,94.8 L1260.5,95.5 L1261.9,96.3 L1263.2,97.3 L1264.6,98.4 L1265.9,99.6 L1267.1,101.0 L1268.3,102.4 L1269.5,103.9 L1270.6,105.5 L1271.7,107.1 L1272.7,108.7 L1273.6,110.4 L1274.6,112.2 L1275.4,114.0 L1276.2,115.8 L1277.0,117.7 L1277.8,119.6 L1278.5,121.6 L1279.2,123.6 L1279.8,125.6 L1280.4,127.6 L1281.0,129.7 L1281.6,131.8 L1282.2,133.9 L1282.7,136.0 L1283.2,138.1 L1283.7,140.3 L1284.2,142.4 L1284.6,144.6 L1285.1,146.8 L1285.6,148.9 L1286.0,151.1 L1286.4,153.2 L1286.9,155.4 L1287.3,157.5 L1287.8,159.7 L1288.2,161.8 L1288.6,164.0 L1289.1,166.1 L1289.5,168.2 L1289.9,170.3 L1290.3,172.5 L1290.8,174.6 L1291.2,176.7 L1291.6,178.8 L1292.0,180.9 L1292.4,183.0 L1292.9,185.0 L1293.3,187.1 L1293.7,189.2 L1294.1,191.3 L1294.5,193.3 L1294.9,195.4 L1295.3,197.5 L1295.7,199.5 L1296.1,201.6 L1296.5,203.6 L1296.9,205.7 L1297.3,207.7 L1297.7,209.8 L1298.1,211.8 L1298.5,213.8 L1298.9,215.8 L1299.3,217.9 L1299.6,219.9 L1300.0,221.9 L1300.4,223.9 L1300.8,225.9 L1301.2,227.9 L1301.5,230.0 L1301.9,232.0 L1302.3,234.0 L1302.7,236.0 L1303.0,237.9 L1303.4,239.9 L1303.8,241.9 L1304.1,243.9 L1304.5,245.9 L1304.9,247.9 L1305.2,249.9 L1305.6,251.8 L1305.9,253.8 L1306.3,255.8 L1306.7,257.7 L1307.0,259.7 L1307.4,261.7 L1307.7,263.6 L1308.1,265.6 L1308.4,267.6 L1308.8,269.5 L1309.1,271.5 L1309.5,273.4 L1309.8,275.4 L1310.1,277.3 L1310.5,279.3 L1310.8,281.2 L1311.2,283.2 L1311.5,285.1 L1311.8,287.1 L1312.2,289.0 L1312.5,291.0 L1312.8,292.9 L1313.2,294.9 L1313.5,296.8 L1313.8,298.7 L1314.2,300.7 L1314.5,302.6 L1314.8,304.5 L1315.1,306.5 L1315.5,308.4 L1315.8,310.4 L1316.1,312.3 L1316.4,314.2 L1316.8,316.2 L1317.1,318.1 L1317.4,320.0 L1317.7,322.0 L1318.0,323.9 L1318.3,325.8 L1318.7,327.8 L1319.0,329.7 L1319.3,331.7 L1319.6,333.6 L1319.9,335.5 L1320.2,337.5 L1320.5,339.4 L1320.8,341.4 L1321.1,343.3 L1321.5,345.2 L1321.8,347.2 L1322.1,349.1 L1322.4,351.1 L1322.7,353.0 L1323.0,355.0 L1323.3,356.9 L1323.6,358.8 L1323.9,360.8 L1324.2,362.7 L1324.5,364.7 L1324.8,366.6 L1325.1,368.6 L1325.4,370.5 L1325.7,372.5 L1326.0,374.4 L1326.3,376.4 L1326.5,378.4 L1326.8,380.3 L1327.1,382.3 L1327.4,384.2 L1327.7,386.2 L1328.0,388.1 L1328.3,390.1 L1328.6,392.1 L1328.9,394.0 L1329.2,396.0 L1329.5,397.9 L1329.7,399.9 L1330.0,401.9 L1330.3,403.8 L1330.6,405.8 L1330.9,407.8 L1331.2,409.7 L1331.5,411.7 L1331.8,413.7 L1332.0,415.6 L1332.3,417.6 L1332.6,419.6 L1332.9,421.5 L1333.2,423.5 L1333.4,425.5 L1333.7,427.4 L1334.0,429.4 L1334.3,431.4 L1334.6,433.4 L1334.9,435.3 L1335.1,437.3 L1335.4,439.3 L1335.7,441.3 L1336.0,443.2 L1336.3,445.2 L1336.5,447.2 L1336.8,449.2 L1337.1,451.1 L1337.4,453.1 L1337.6,455.1 L1337.9,457.1 L1338.2,459.0 L1338.5,461.0 L1338.8,463.0 L1339.0,465.0 L1339.3,467.0 L1339.6,468.9 L1339.9,470.9 L1340.1,472.9 L1340.4,474.9 L1340.7,476.9 L1341.0,478.9 L1341.2,480.8 L1341.5,482.8 L1341.8,484.8 L1342.1,486.8 L1342.3,488.8 L1342.6,490.8 L1342.9,492.7 L1343.2,494.7 L1343.5,496.7 L1343.7,498.7 L1344.0,500.7 L1344.3,502.7 L1344.6,504.7 L1344.8,506.6 L1345.1,508.6 L1345.4,510.6 L1345.7,512.6 L1345.9,514.6 L1346.2,516.6 L1346.5,518.6 L1346.8,520.6 L1347.0,522.5 L1347.3,524.5 L1347.6,526.5 L1347.9,528.5 L1348.2,530.5 L1348.4,532.5 L1348.7,534.5 L1349.0,536.5 L1349.3,538.5 L1349.5,540.5 L1349.8,542.4 L1350.1,544.4 L1350.4,546.4 L1350.7,548.4 L1350.9,550.4 L1351.2,552.4 L1351.5,554.4 L1351.8,556.4 L1352.1,558.4 L1352.4,560.4 L1352.6,562.3 L1352.9,564.3 L1353.2,566.3 L1353.5,568.3 L1353.8,570.3 L1354.1,572.3 L1354.3,574.3 L1354.6,576.3 L1354.9,578.3 L1355.2,580.3 L1355.5,582.2 L1355.8,584.2 L1356.1,586.2 L1356.4,588.2 L1356.6,590.2 L1356.9,592.2 L1357.2,594.2 L1357.5,596.2 L1357.8,598.2 L1358.1,600.1 L1358.4,602.1 L1358.7,604.1 L1359.0,606.1 L1359.3,608.1 L1359.6,610.1 L1359.9,612.1 L1360.2,614.1 L1360.4,616.1 L1360.7,618.0 L1361.0,620.0 L1361.3,622.0 L1361.6,624.0 L1361.9,626.0 L1362.2,628.0 L1362.5,630.0 L1362.8,632.0 L1363.2,633.9 L1363.5,635.9 L1363.8,637.9 L1364.1,639.9 L1364.4,641.9 L1364.7,643.9 L1365.0,645.8 L1365.3,647.8 L1365.6,649.8 L1365.9,651.8 L1366.2,653.8 L1366.5,655.8 L1366.9,657.7 L1367.2,659.7 L1367.5,661.7 L1367.8,663.7 L1368.1,665.7 L1368.4,667.7 L1368.8,669.6 L1369.1,671.6 L1369.4,673.6 L1369.7,675.6 L1370.0,677.5 L1370.4,679.5 L1370.7,681.5 L1371.0,683.5 L1371.3,685.5 L1371.7,687.4 L1372.0,689.4 L1372.3,691.4 L1372.7,693.4 L1373.0,695.3 L1373.3,697.3 L1373.7,699.3 L1374.0,701.3 L1374.3,703.2 L1374.7,705.2 L1375.0,707.2 L1375.4,709.1 L1375.7,711.1 L1376.0,713.1 L1376.4,715.0 L1376.7,717.0 L1377.1,719.0 L1377.4,720.9 L1377.8,722.9 L1378.1,724.9 L1378.5,726.8 L1378.8,728.8 L1379.2,730.8 L1379.5,732.7 L1379.9,734.7 L1380.2,736.7 L1380.6,738.6 L1381.0,740.6 L1381.3,742.5 L1381.7,744.5 L1382.1,746.5 L1382.4,748.4 L1382.8,750.4 L1383.2,752.3 L1383.5,754.3 L1383.9,756.2 L1384.3,758.2 L1384.7,760.2 L1385.0,762.1 L1385.4,764.1 L1385.8,766.0 L1386.2,768.0 L1386.6,769.9 L1386.9,771.9 L1387.3,773.8 L1387.7,775.8 L1388.1,777.7 L1388.5,779.7 L1388.9,781.6 L1389.3,783.6 L1389.7,785.5 L1390.1,787.5 L1390.5,789.4 L1390.9,791.4 L1391.3,793.3 L1391.7,795.3 L1392.1,797.2 L1392.5,799.1 L1392.9,801.1 L1393.3,803.0 L1393.7,805.0 L1394.1,806.9 L1394.6,808.9 L1395.0,810.8 L1395.4,812.7 L1395.8,814.7 L1396.3,816.6 L1396.7,818.6 L1397.1,820.5 L1397.5,822.5 L1398.0,824.4 L1398.4,826.3 L1398.8,828.3 L1399.3,830.2 L1399.7,832.1 L1400.2,834.1 L1400.6,836.0 L1401.1,838.0 L1401.5,839.9 L1402.0,841.8 L1402.4,843.8 L1402.9,845.7 L1403.3,847.6 L1403.8,849.6 L1404.2,851.5 L1404.7,853.4 L1405.2,855.4 L1405.6,857.3 L1406.1,859.2 L1406.6,861.2 L1407.1,863.1 L1407.5,865.0 L1408.0,867.0 L1408.5,868.9 L1409.0,870.8 L1409.5,872.8 L1410.0,874.7 L1410.4,876.6 L1410.9,878.6 L1411.4,880.5 L1411.9,882.4 L1412.4,884.4 L1412.9,886.3 L1413.4,888.2 L1414.0,890.1 L1414.5,892.1 L1415.0,894.0 L1415.5,895.9 L1416.0,897.9 L1416.5,899.8 L1417.0,901.7 L1417.6,903.7 L1418.1,905.6 L1418.6,907.5 L1419.2,909.4 L1419.7,911.4 L1420.2,913.3 L1420.8,915.2 L1421.3,917.1 L1421.9,919.1 L1422.4,921.0 L1423.0,922.9 L1423.5,924.9 L1424.1,926.8 L1424.6,928.7 L1425.2,930.6 L1425.8,932.6 L1426.3,934.5 L1426.9,936.4 L1427.5,938.3 L1428.0,940.3 L1428.6,942.2 L1429.2,944.1 L1429.8,946.0 L1430.4,948.0 L1431.0,949.9 L1431.6,951.8 L1432.2,953.7 L1432.8,955.6 L1433.4,957.5 L1434.1,959.5 L1434.7,961.4 L1435.3,963.3 L1436.0,965.2 L1436.6,967.1 L1437.3,969.0 L1438.0,970.9 L1438.7,972.7 L1439.4,974.6 L1440.1,976.5 L1440.8,978.4 L1441.5,980.2 L1442.2,982.1 L1443.0,984.0 L1443.7,985.8 L1444.5,987.7 L1445.3,989.5 L1446.1,991.3 L1446.9,993.2 L1447.7,995.0 L1448.6,996.8 L1449.4,998.6 L1450.3,1000.4 L1451.1,1002.2 L1452.0,1004.0 L1453.0,1005.7 L1453.9,1007.5 L1454.8,1009.3 L1455.8,1011.0 L1456.8,1012.8 L1457.8,1014.5 L1458.8,1016.2 L1459.8,1017.9 L1460.9,1019.6 L1461.9,1021.3 L1463.0,1023.0 L1464.1,1024.7 L1465.2,1026.3 L1466.4,1028.0 L1467.5,1029.6 L1468.7,1031.2 L1469.9,1032.8 L1471.1,1034.4 L1472.3,1036.0 L1473.5,1037.6 L1474.8,1039.2 L1476.0,1040.7 L1477.3,1042.2 L1478.6,1043.8 L1479.9,1045.3 L1481.3,1046.8 L1482.6,1048.2 L1484.0,1049.7 L1485.3,1051.2 L1486.7,1052.6 L1488.1,1054.0 L1489.5,1055.4 L1491.0,1056.8 L1492.4,1058.2 L1493.9,1059.5 L1495.4,1060.9 L1496.8,1062.2 L1498.3,1063.5 L1499.9,1064.8 L1501.4,1066.0 L1502.9,1067.3 L1504.5,1068.5 L1506.1,1069.7 L1507.7,1070.9 L1509.3,1072.1 L1510.9,1073.3 L1512.5,1074.4 L1514.1,1075.5 L1515.8,1076.6 L1517.4,1077.7 L1519.1,1078.8 L1520.8,1079.8 L1522.5,1080.8 L1524.2,1081.8 L1526.0,1082.8 L1527.7,1083.7 L1529.4,1084.7 L1531.2,1085.6 L1533.0,1086.5 L1534.8,1087.3 L1536.6,1088.2 L1538.4,1089.0 L1540.2,1089.8 L1542.0,1090.6 L1543.8,1091.3 L1545.7,1092.0 L1547.6,1092.7 L1549.4,1093.4 L1551.3,1094.1 L1553.2,1094.7 L1555.1,1095.3 L1557.0,1095.9 L1559.0,1096.4 L1560.9,1096.9 L1562.8,1097.4 L1564.8,1097.9 L1566.7,1098.3 L1568.7,1098.7 L1570.7,1099.1 L1572.7,1099.5 L1574.7,1099.8 L1576.7,1100.1 L1578.7,1100.4 L1580.8,1100.7 L1582.8,1100.9 L1584.8,1101.1 L1586.9,1101.2 L1588.9,1101.4 L1591.0,1101.5"/>
<path stroke="#ff0000" d="M862.1,1279.2 L863.9,1279.0 L865.7,1278.8 L867.5,1278.6 L869.3,1278.3 L871.2,1278.1 L873.1,1277.9 L874.9,1277.7 L876.8,1277.4 L878.7,1277.2 L880.6,1277.0 L882.5,1276.7 L884.5,1276.4 L886.4,1276.2 L888.3,1275.9 L890.3,1275.6 L892.3,1275.3 L894.2,1275.1 L896.2,1274.8 L898.2,1274.4 L900.2,1274.1 L902.1,1273.8 L904.1,1273.5 L906.1,1273.1 L908.1,1272.8 L910.2,1272.4 L912.2,1272.1 L914.2,1271.7 L916.2,1271.3 L918.2,1270.9 L920.2,1270.5 L922.3,1270.1 L924.3,1269.7 L926.3,1269.3 L928.3,1268.8 L930.4,1268.4 L932.4,1267.9 L934.4,1267.4 L936.4,1266.9 L938.5,1266.4 L940.5,1265.9 L942.5,1265.4 L944.5,1264.9 L946.5,1264.3 L948.5,1263.8 L950.5,1263.2 L952.5,1262.6 L954.5,1262.0 L956.5,1261.4 L958.5,1260.8 L960.5,1260.2 L962.5,1259.5 L964.4,1258.9 L966.4,1258.2 L968.3,1257.5 L970.3,1256.8 L972.2,1256.1 L974.1,1255.4 L976.0,1254.6 L978.0,1253.9 L979.9,1253.1 L981.7,1252.3 L983.6,1251.5 L985.5,1250.7 L987.3,1249.8 L989.2,1249.0 L991.0,1248.1 L992.8,1247.2 L994.6,1246.3 L996.4,1245.4 L998.2,1244.4 L999.9,1243.5 L1001.7,1242.5 L1003.4,1241.5 L1005.1,1240.5 L1006.8,1239.5 L1008.5,1238.4 L1010.2,1237.4 L1011.8,1236.3 L1013.4,1235.2 L1015.1,1234.1 L1016.7,1232.9 L1018.2,1231.8 L1019.8,1230.6 L1021.3,1229.4 L1022.8,1228.2 L1024.3,1227.0 L1025.8,1225.7 L1027.3,1224.4 L1028.7,1223.1 L1030.1,1221.8 L1031.5,1220.5 L1032.9,1219.2 L1034.3,1217.8 L1035.6,1216.4 L1036.9,1215.0 L1038.2,1213.6 L1039.5,1212.2 L1040.8,1210.7 L1042.1,1209.2 L1043.3,1207.8 L1044.5,1206.3 L1045.8,1204.8 L1046.9,1203.2 L1048.1,1201.7 L1049.3,1200.1 L1050.4,1198.6 L1051.6,1197.0 L1052.7,1195.4 L1053.8,1193.8 L1054.9,1192.2 L1055.9,1190.5 L1057.0,1188.9 L1058.0,1187.2 L1059.1,1185.5 L1060.1,1183.9 L1061.1,1182.2 L1062.1,1180.5 L1063.1,1178.7 L1064.0,1177.0 L1065.0,1175.3 L1065.9,1173.5 L1066.8,1171.8 L1067.8,1170.0 L1068.7,1168.2 L1069.6,1166.5 L1070.4,1164.7 L1071.3,1162.9 L1072.2,1161.1 L1073.0,1159.2 L1073.9,1157.4 L1074.7,1155.6 L1075.5,1153.8 L1076.3,1151.9 L1077.2,1150.1 L1077.9,1148.2 L1078.7,1146.4 L1079.5,1144.5 L1080.3,1142.6 L1081.0,1140.7 L1081.8,1138.9 L1082.5,1137.0 L1083.3,1135.1 L1084.0,1133.2 L1084.7,1131.3 L1085.4,1129.4 L1086.2,1127.5 L1086.9,1125.6 L1087.6,1123.7 L1088.3,1121.8 L1088.9,1119.9 L1089.6,1118.0 L1090.3,1116.0 L1091.0,1114.1 L1091.6,1112.2 L1092.3,1110.3 L1093.0,1108.4 L1093.6,1106.5 L1094.2,1104.5 L1094.9,1102.6 L1095.5,1100.7 L1096.2,1098.8 L1096.8,1096.9 L1097.4,1094.9 L1098.0,1093.0 L1098.6,1091.1 L1099.3,1089.2 L1099.9,1087.3 L1100.5,1085.3 L1101.1,1083.4 L1101.7,1081.5 L1102.2,1079.6 L1102.8,1077.6 L1103.4,1075.7 L1104.0,1073.8 L1104.6,1071.9 L1105.1,1069.9 L1105.7,1068.0 L1106.3,1066.1 L1106.8,1064.1 L1107.4,1062.2 L1107.9,1060.3 L1108.5,1058.3 L1109.0,1056.4 L1109.5,1054.5 L1110.1,1052.5 L1110.6,1050.6 L1111.1,1048.7 L1111.6,1046.7 L1112.2,1044.8 L1112.7,1042.9 L1113.2,1040.9 L1113.7,1039.0 L1114.2,1037.1 L1114.7,1035.1 L1115.2,1033.2 L1115.7,1031.2 L1116.2,1029.3 L1116.6,1027.4 L1117.1,1025.4 L1117.6,1023.5 L1118.1,1021.5 L1118.6,1019.6 L1119.0,1017.7 L1119.5,1015.7 L1120.0,1013.8 L1120.4,1011.8 L1120.9,1009.9 L1121.3,1007.9 L1121.8,1006.0 L1122.2,1004.0 L1122.7,1002.1 L1123.1,1000.2 L1123.5,998.2 L1124.0,996.3 L1124.4,994.3 L1124.8,992.4 L1125.3,990.4 L1125.7,988.5 L1126.1,986.5 L1126.5,984.6 L1126.9,982.6 L1127.3,980.7 L1127.8,978.7 L1128.2,976.8 L1128.6,974.8 L1129.0,972.9 L1129.4,970.9 L1129.8,969.0 L1130.2,967.0 L1130.5,965.0 L1130.9,963.1 L1131.3,961.1 L1131.7,959.2 L1132.1,957.2 L1132.5,955.3 L1132.8,953.3 L1133.2,951.4 L1133.6,949.4 L1134.0,947.4 L1134.3,945.5 L1134.7,943.5 L1135.1,941.6 L1135.4,939.6 L1135.8,937.7 L1136.1,935.7 L1136.5,933.7 L1136.9,931.8 L1137.2,929.8 L1137.6,927.9 L1137.9,925.9 L1138.3,923.9 L1138.6,922.0 L1138.9,920.0 L1139.3,918.1 L1139.6,916.1 L1140.0,914.1 L1140.3,912.2 L1140.6,910.2 L1141.0,908.2 L1141.3,906.3 L1141.6,904.3 L1142.0,902.4 L1142.3,900.4 L1142.6,898.4 L1142.9,896.5 L1143.3,894.5 L1143.6,892.5 L1143.9,890.6 L1144.2,888.6 L1144.5,886.6 L1144.9,884.7 L1145.2,882.7 L1145.5,880.7 L1145.8,878.8 L1146.1,876.8 L1146.4,874.8 L1146.7,872.9 L1147.1,870.9 L1147.4,868.9 L1147.7,867.0 L1148.0,865.0 L1148.3,863.0 L1148.6,861.1 L1148.9,859.1 L1149.2,857.1 L1149.5,855.1 L1149.8,853.2 L1150.1,851.2 L1150.4,849.2 L1150.7,847.3 L1151.0,845.3 L1151.3,843.3 L1151.6,841.4 L1151.9,839.4 L1152.2,837.4 L1152.5,835.4 L1152.8,833.5 L1153.1,831.5 L1153.4,829.5 L1153.7,827.6 L1154.0,825.6 L1154.3,823.6 L1154.6,821.6 L1154.9,819.7 L1155.2,817.7 L1155.5,815.7 L1155.8,813.8 L1156.1,811.8 L1156.3,809.8 L1156.6,807.8 L1156.9,805.9 L1157.2,803.9 L1157.5,801.9 L1157.8,799.9 L1158.1,798.0 L1158.4,796.0 L1158.7,794.0 L1159.0,792.1 L1159.3,790.1 L1159.6,788.1 L1159.9,786.1 L1160.2,784.2 L1160.5,782.2 L1160.8,780.2 L1161.1,778.2 L1161.4,776.3 L1161.7,774.3 L1162.0,772.3 L1162.3,770.3 L1162.6,768.4 L1162.9,766.4 L1163.2,764.4 L1163.5,762.4 L1163.8,760.5 L1164.1,758.5 L1164.4,756.5 L1164.7,754.5 L1165.0,752.6 L1165.3,750.6 L1165.6,748.6 L1165.9,746.7 L1166.3,744.7 L1166.6,742.7 L1166.9,740.7 L1167.2,738.8 L1167.5,736.8 L1167.8,734.8 L1168.1,732.8 L1168.4,730.9 L1168.7,728.9 L1169.0,726.9 L1169.4,724.9 L1169.7,723.0 L1170.0,721.0 L1170.3,719.0 L1170.6,717.0 L1170.9,715.1 L1171.2,713.1 L1171.6,711.1 L1171.9,709.1 L1172.2,707.2 L1172.5,705.2 L1172.8,703.2 L1173.1,701.2 L1173.4,699.3 L1173.8,697.3 L1174.1,695.3 L1174.4,693.3 L1174.7,691.3 L1175.0,689.4 L1175.4,687.4 L1175.7,685.4 L1176.0,683.4 L1176.3,681.5 L1176.6,679.5 L1177.0,677.5 L1177.3,675.5 L1177.6,673.6 L1177.9,671.6 L1178.2,669.6 L1178.6,667.6 L1178.9,665.7 L1179.2,663.7 L1179.5,661.7 L1179.8,659.7 L1180.2,657.8 L1180.5,655.8 L1180.8,653.8 L1181.1,651.8 L1181.5,649.8 L1181.8,647.9 L1182.1,645.9 L1182.4,643.9 L1182.7,641.9 L1183.1,640.0 L1183.4,638.0 L1183.7,636.0 L1184.0,634.0 L1184.4,632.1 L1184.7,630.1 L1185.0,628.1 L1185.3,626.1 L1185.7,624.1 L1186.0,622.2 L1186.3,620.2 L1186.6,618.2 L1186.9,616.2 L1187.3,614.3 L1187.6,612.3 L1187.9,610.3 L1188.2,608.3 L1188.6,606.3 L1188.9,604.4 L1189.2,602.4 L1189.5,600.4 L1189.9,598.4 L1190.2,596.4 L1190.5,594.5 L1190.8,592.5 L1191.2,590.5 L1191.5,588.5 L1191.8,586.5 L1192.1,584.6 L1192.4,582.6 L1192.8,580.6 L1193.1,578.6 L1193.4,576.7 L1193.7,574.7 L1194.1,572.7 L1194.4,570.7 L1194.7,568.7 L1195.0,566.8 L1195.3,564.8 L1195.7,562.8 L1196.0,560.8 L1196.3,558.8 L1196.6,556.9 L1197.0,554.9 L1197.3,552.9 L1197.6,550.9 L1197.9,548.9 L1198.2,547.0 L1198.6,545.0 L1198.9,543.0 L1199.2,541.0 L1199.5,539.1 L1199.9,537.1 L1200.2,535.1 L1200.5,533.1 L1200.8,531.1 L1201.2,529.2 L1201.5,527.2 L1201.8,525.2 L1202.1,523.2 L1202.5,521.3 L1202.8,519.3 L1203.1,517.3 L1203.4,515.3 L1203.8,513.4 L1204.1,511.4 L1204.4,509.4 L1204.8,507.5 L1205.1,505.5 L1205.4,503.5 L1205.7,501.5 L1206.1,499.6 L1206.4,497.6 L1206.7,495.6 L1207.1,493.7 L1207.4,491.7 L1207.7,489.7 L1208.1,487.8 L1208.4,485.8 L1208.7,483.8 L1209.1,481.9 L1209.4,479.9 L1209.7,478.0 L1210.1,476.0 L1210.4,474.0 L1210.8,472.1 L1211.1,470.1 L1211.4,468.2 L1211.8,466.2 L1212.1,464.2 L1212.5,462.3 L1212.8,460.3 L1213.1,458.4 L1213.5,456.4 L1213.8,454.5 L1214.2,452.5 L1214.5,450.6 L1214.9,448.6 L1215.2,446.7 L1215.6,444.7 L1215.9,442.8 L1216.3,440.8 L1216.6,438.9 L1217.0,437.0 L1217.3,435.0 L1217.7,433.1 L1218.1,431.1 L1218.4,429.2 L1218.8,427.3 L1219.1,425.3 L1219.5,423.4 L1219.9,421.5 L1220.2,419.5 L1220.6,417.6 L1220.9,415.7 L1221.3,413.7 L1221.7,411.8 L1222.1,409.9 L1222.4,407.9 L1222.8,406.0 L1223.2,404.1 L1223.6,402.2 L1223.9,400.2 L1224.3,398.3 L1224.7,396.4 L1225.1,394.5 L1225.5,392.5 L1225.9,390.6 L1226.3,388.7 L1226.8,386.7 L1227.2,384.8 L1227.6,382.9 L1228.0,380.9 L1228.5,379.0 L1228.9,377.1 L1229.4,375.1 L1229.9,373.2 L1230.3,371.2 L1230.8,369.3 L1231.3,367.3 L1231.8,365.4 L1232.3,363.4 L1232.8,361.4 L1233.3,359.5 L1233.9,357.5 L1234.4,355.5 L1235.0,353.5 L1235.6,351.6 L1236.1,349.6 L1236.7,347.6 L1237.3,345.6 L1237.9,343.6 L1238.6,341.6 L1239.2,339.6 L1239.9,337.5 L1240.5,335.5 L1241.2,333.5 L1241.9,331.4 L1242.6,329.4 L1243.3,327.3 L1244.1,325.3 L1244.8,323.2 L1245.6,321.2 L1246.4,319.1 L1247.2,317.0 L1248.0,314.9 L1248.9,312.9 L1249.8,310.9 L1250.7,309.0 L1251.7,307.1 L1252.7,305.4 L1253.8,303.7 L1254.9,302.1 L1256.1,300.7 L1257.3,299.3 L1258.6,298.2 L1260.0,297.2 L1261.5,296.3 L1262.9,295.7 L1264.4,295.2 L1265.9,294.9 L1267.4,294.8 L1268.9,294.8 L1270.3,295.1 L1271.7,295.6 L1273.1,296.3 L1274.5,297.1 L1275.8,298.0 L1277.1,299.2 L1278.4,300.4 L1279.7,301.8 L1280.9,303.3 L1282.1,304.8 L1283.3,306.5 L1284.4,308.3 L1285.5,310.1 L1286.6,311.9 L1287.6,313.9 L1288.7,315.8 L1289.7,317.8 L1290.6,319.8 L1291.6,321.8 L1292.5,323.8 L1293.4,325.8 L1294.2,327.8 L1295.0,329.8 L1295.8,331.8 L1296.6,333.8 L1297.3,335.7 L1298.0,337.7 L1298.7,339.7 L1299.4,341.7 L1300.0,343.7 L1300.7,345.7 L1301.3,347.7 L1301.8,349.7 L1302.4,351.6 L1302.9,353.6 L1303.5,355.6 L1304.0,357.6 L1304.4,359.6 L1304.9,361.6 L1305.4,363.6 L1305.8,365.5 L1306.2,367.5 L1306.6,369.5 L1307.0,371.5 L1307.4,373.5 L1307.7,375.4 L1308.1,377.4 L1308.4,379.4 L1308.7,381.4 L1309.1,383.4 L1309.4,385.3 L1309.7,387.3 L1310.0,389.3 L1310.2,391.3 L1310.5,393.2 L1310.8,395.2 L1311.0,397.2 L1311.3,399.2 L1311.6,401.1 L1311.8,403.1 L1312.0,405.1 L1312.3,407.1 L1312.5,409.0 L1312.8,411.0 L1313.0,413.0 L1313.3,415.0 L1313.5,416.9 L1313.7,418.9 L1314.0,420.9 L1314.2,422.8 L1314.5,424.8 L1314.7,426.8 L1315.0,428.8 L1315.3,430.7 L1315.5,432.7 L1315.8,434.7 L1316.0,436.6 L1316.3,438.6 L1316.5,440.6 L1316.8,442.6 L1317.1,444.5 L1317.3,446.5 L1317.6,448.5 L1317.9,450.4 L1318.2,452.4 L1318.4,454.4 L1318.7,456.4 L1319.0,458.3 L1319.3,460.3 L1319.5,462.3 L1319.8,464.2 L1320.1,466.2 L1320.4,468.2 L1320.7,470.1 L1321.0,472.1 L1321.2,474.1 L1321.5,476.1 L1321.8,478.0 L1322.1,480.0 L1322.4,482.0 L1322.7,483.9 L1323.0,485.9 L1323.3,487.9 L1323.6,489.8 L1323.9,491.8 L1324.2,493.8 L1324.5,495.7 L1324.8,497.7 L1325.1,499.7 L1325.4,501.6 L1325.7,503.6 L1326.0,505.6 L1326.3,507.5 L1326.6,509.5 L1326.9,511.5 L1327.2,513.4 L1327.6,515.4 L1327.9,517.4 L1328.2,519.3 L1328.5,521.3 L1328.8,523.3 L1329.1,525.2 L1329.5,527.2 L1329.8,529.2 L1330.1,531.1 L1330.4,533.1 L1330.7,535.1 L1331.1,537.1 L1331.4,539.0 L1331.7,541.0 L1332.0,543.0 L1332.3,544.9 L1332.7,546.9 L1333.0,548.9 L1333.3,550.8 L1333.7,552.8 L1334.0,554.8 L1334.3,556.7 L1334.6,558.7 L1335.0,560.7 L1335.3,562.6 L1335.6,564.6 L1336.0,566.6 L1336.3,568.5 L1336.6,570.5 L1337.0,572.5 L1337.3,574.4 L1337.6,576.4 L1338.0,578.4 L1338.3,580.3 L1338.7,582.3 L1339.0,584.3 L1339.3,586.2 L1339.7,588.2 L1340.0,590.2 L1340.3,592.1 L1340.7,594.1 L1341.0,596.1 L1341.4,598.0 L1341.7,600.0 L1342.0,602.0 L1342.4,603.9 L1342.7,605.9 L1343.1,607.9 L1343.4,609.8 L1343.8,611.8 L1344.1,613.8 L1344.4,615.7 L1344.8,617.7 L1345.1,619.7 L1345.5,621.6 L1345.8,623.6 L1346.2,625.6 L1346.5,627.5 L1346.8,629.5 L1347.2,631.5 L1347.5,633.4 L1347.9,635.4 L1348.2,637.4 L1348.6,639.3 L1348.9,641.3 L1349.3,643.3 L1349.6,645.2 L1349.9,647.2 L1350.3,649.2 L1350.6,651.1 L1351.0,653.1 L1351.3,655.1 L1351.7,657.1 L1352.0,659.0 L1352.4,661.0 L1352.7,663.0 L1353.0,664.9 L1353.4,666.9 L1353.7,668.9 L1354.1,670.8 L1354.4,672.8 L1354.8,674.8 L1355.1,676.8 L1355.4,678.7 L1355.8,680.7 L1356.1,682.7 L1356.5,684.6 L1356.8,686.6 L1357.2,688.6 L1357.5,690.5 L1357.8,692.5 L1358.2,694.5 L1358.5,696.5 L1358.8,698.4 L1359.2,700.4 L1359.5,702.4 L1359.9,704.3 L1360.2,706.3 L1360.5,708.3 L1360.9,710.3 L1361.2,712.2 L1361.5,714.2 L1361.9,716.2 L1362.2,718.2 L1362.5,720.1 L1362.9,722.1 L1363.2,724.1 L1363.5,726.1 L1363.9,728.0 L1364.2,730.0 L1364.5,732.0 L1364.8,733.9 L1365.2,735.9 L1365.5,737.9 L1365.8,739.9 L1366.2,741.9 L1366.5,743.8 L1366.8,745.8 L1367.1,747.8 L1367.4,749.8 L1367.8,751.7 L1368.1,753.7 L1368.4,755.7 L1368.7,757.7 L1369.0,759.6 L1369.4,761.6 L1369.7,763.6 L1370.0,765.6 L1370.3,767.6 L1370.6,769.5 L1370.9,771.5 L1371.2,773.5 L1371.6,775.5 L1371.9,777.4 L1372.2,779.4 L1372.5,781.4 L1372.8,783.4 L1373.1,785.4 L1373.4,787.3 L1373.7,789.3 L1374.0,791.3 L1374.3,793.3 L1374.6,795.3 L1374.9,797.3 L1375.2,799.2 L1375.5,801.2 L1375.8,803.2 L1376.1,805.2 L1376.4,807.2 L1376.7,809.1 L1377.0,811.1 L1377.3,813.1 L1377.6,815.1 L1377.9,817.1 L1378.2,819.1 L1378.5,821.0 L1378.8,823.0 L1379.1,825.0 L1379.4,827.0 L1379.7,829.0 L1380.0,830.9 L1380.3,832.9 L1380.6,834.9 L1380.9,836.9 L1381.1,838.9 L1381.4,840.9 L1381.7,842.8 L1382.0,844.8 L1382.3,846.8 L1382.6,848.8 L1382.9,850.8 L1383.2,852.7 L1383.5,854.7 L1383.8,856.7 L1384.1,858.7 L1384.4,860.7 L1384.7,862.7 L1385.0,864.6 L1385.3,866.6 L1385.6,868.6 L1385.9,870.6 L1386.2,872.6 L1386.5,874.5 L1386.8,876.5 L1387.1,878.5 L1387.4,880.5 L1387.8,882.4 L1388.1,884.4 L1388.4,886.4 L1388.7,888.4 L1389.0,890.4 L1389.3,892.3 L1389.6,894.3 L1389.9,896.3 L1390.2,898.3 L1390.6,900.2 L1390.9,902.2 L1391.2,904.2 L1391.5,906.2 L1391.8,908.1 L1392.2,910.1 L1392.5,912.1 L1392.8,914.1 L1393.1,916.0 L1393.5,918.0 L1393.8,920.0 L1394.1,922.0 L1394.5,923.9 L1394.8,925.9 L1395.1,927.9 L1395.5,929.8 L1395.8,931.8 L1396.2,933.8 L1396.5,935.7 L1396.9,937.7 L1397.2,939.7 L1397.6,941.6 L1397.9,943.6 L1398.3,945.6 L1398.6,947.5 L1399.0,949.5 L1399.3,951.5 L1399.7,953.4 L1400.1,955.4 L1400.4,957.4 L1400.8,959.3 L1401.2,961.3 L1401.5,963.2 L1401.9,965.2 L1402.3,967.2 L1402.7,969.1 L1403.1,971.1 L1403.4,973.0 L1403.8,975.0 L1404.2,976.9 L1404.6,978.9 L1405.0,980.9 L1405.4,982.8 L1405.8,984.8 L1406.2,986.7 L1406.6,988.7 L1407.0,990.6 L1407.4,992.6 L1407.9,994.5 L1408.3,996.5 L1408.7,998.4 L1409.1,1000.4 L1409.5,1002.3 L1410.0,1004.3 L1410.4,1006.2 L1410.8,1008.1 L1411.3,1010.1 L1411.7,1012.0 L1412.2,1014.0 L1412.6,1015.9 L1413.1,1017.9 L1413.5,1019.8 L1414.0,1021.7 L1414.5,1023.7 L1414.9,1025.6 L1415.4,1027.5 L1415.9,1029.5 L1416.3,1031.4 L1416.8,1033.3 L1417.3,1035.3 L1417.8,1037.2 L1418.3,1039.1 L1418.8,1041.1 L1419.3,1043.0 L1419.8,1044.9 L1420.3,1046.8 L1420.8,1048.8 L1421.3,1050.7 L1421.8,1052.6 L1422.4,1054.5 L1422.9,1056.4 L1423.4,1058.4 L1423.9,1060.3 L1424.5,1062.2 L1425.0,1064.1 L1425.6,1066.0 L1426.1,1067.9 L1426.7,1069.9 L1427.2,1071.8 L1427.8,1073.7 L1428.4,1075.6 L1428.9,1077.5 L1429.5,1079.4 L1430.1,1081.3 L1430.7,1083.2 L1431.3,1085.1 L1431.9,1087.0 L1432.5,1088.9 L1433.1,1090.8 L1433.7,1092.7 L1434.3,1094.6 L1434.9,1096.5 L1435.5,1098.4 L1436.2,1100.3 L1436.8,1102.2 L1437.4,1104.1 L1438.1,1106.0 L1438.7,1107.9 L1439.4,1109.8 L1440.0,1111.6 L1440.7,1113.5 L1441.4,1115.4 L1442.0,1117.3 L1442.7,1119.2 L1443.4,1121.0 L1444.1,1122.9 L1444.8,1124.8 L1445.5,1126.7 L1446.2,1128.6 L1446.9,1130.4 L1447.6,1132.3 L1448.3,1134.2 L1449.0,1136.0 L1449.8,1137.9 L1450.5,1139.8 L1451.3,1141.6 L1452.0,1143.5 L1452.8,1145.3 L1453.5,1147.2 L1454.3,1149.1 L1455.1,1150.9 L1455.8,1152.8 L1456.6,1154.6 L1457.4,1156.5 L1458.2,1158.3 L1459.0,1160.2 L1459.8,1162.0 L1460.6,1163.9 L1461.4,1165.7 L1462.3,1167.5 L1463.1,1169.4 L1464.0,1171.2 L1464.8,1173.0 L1465.7,1174.8 L1466.6,1176.6 L1467.5,1178.4 L1468.4,1180.2 L1469.3,1182.0 L1470.2,1183.7 L1471.2,1185.5 L1472.1,1187.2 L1473.1,1189.0 L1474.0,1190.7 L1475.0,1192.4 L1476.0,1194.2 L1477.1,1195.9 L1478.1,1197.6 L1479.1,1199.2 L1480.2,1200.9 L1481.3,1202.5 L1482.4,1204.2 L1483.5,1205.8 L1484.6,1207.4 L1485.7,1209.0 L1486.9,1210.6 L1488.1,1212.2 L1489.3,1213.7 L1490.5,1215.2 L1491.7,1216.8 L1493.0,1218.3 L1494.3,1219.7 L1495.6,1221.2 L1496.9,1222.7 L1498.2,1224.1 L1499.6,1225.5 L1501.0,1226.9 L1502.4,1228.2 L1503.8,1229.6 L1505.2,1230.9 L1506.7,1232.2 L1508.2,1233.5 L1509.7,1234.8 L1511.2,1236.0 L1512.8,1237.2 L1514.4,1238.4 L1516.0,1239.6 L1517.7,1240.7 L1519.3,1241.8 L1521.0,1242.9 L1522.7,1244.0 L1524.5,1245.0 L1526.2,1246.0 L1528.1,1247.0 L1529.9,1248.0 L1531.7,1248.9 L1533.6,1249.8 L1535.5,1250.7 L1537.4,1251.6 L1539.3,1252.4 L1541.2,1253.2 L1543.2,1254.0 L1545.1,1254.8 L1547.1,1255.6 L1549.1,1256.3 L1551.1,1257.0 L1553.1,1257.7 L1555.0,1258.4 L1557.0,1259.1 L1559.0,1259.8 L1561.0,1260.4 L1563.0,1261.0 L1565.0,1261.6 L1566.9,1262.2 L1568.9,1262.8 L1570.8,1263.4 L1572.8,1263.9 L1574.7,1264.5 L1576.6,1265.0 L1578.5,1265.5 L1580.3,1266.1 L1582.2,1266.6 L1584.0,1267.1 L1585.8,1267.6 L1587.5,1268.1 L1589.3,1268.5 L1591.0,1269.0"/>
<path stroke="#0000ff" d="M862.0,1458.0 L863.8,1457.8 L865.6,1457.7 L867.4,1457.5 L869.3,1457.3 L871.1,1457.1 L873.0,1457.0 L874.9,1456.8 L876.7,1456.6 L878.6,1456.4 L880.5,1456.2 L882.4,1456.1 L884.4,1455.9 L886.3,1455.7 L888.2,1455.5 L890.2,1455.3 L892.2,1455.1 L894.1,1454.9 L896.1,1454.6 L898.1,1454.4 L900.1,1454.2 L902.1,1454.0 L904.1,1453.7 L906.1,1453.5 L908.1,1453.3 L910.1,1453.0 L912.2,1452.7 L914.2,1452.5 L916.2,1452.2 L918.3,1451.9 L920.3,1451.6 L922.4,1451.3 L924.4,1451.0 L926.5,1450.7 L928.5,1450.4 L930.6,1450.1 L932.6,1449.8 L934.7,1449.4 L936.7,1449.1 L938.8,1448.7 L940.8,1448.3 L942.9,1447.9 L944.9,1447.5 L947.0,1447.1 L949.0,1446.7 L951.1,1446.3 L953.1,1445.8 L955.1,1445.4 L957.2,1444.9 L959.2,1444.5 L961.2,1444.0 L963.3,1443.5 L965.3,1443.0 L967.3,1442.4 L969.3,1441.9 L971.3,1441.3 L973.3,1440.8 L975.3,1440.2 L977.2,1439.6 L979.2,1439.0 L981.2,1438.4 L983.1,1437.7 L985.1,1437.1 L987.0,1436.4 L988.9,1435.7 L990.8,1435.0 L992.7,1434.3 L994.6,1433.6 L996.5,1432.8 L998.4,1432.1 L1000.2,1431.3 L1002.1,1430.5 L1003.9,1429.7 L1005.7,1428.8 L1007.6,1428.0 L1009.3,1427.1 L1011.1,1426.2 L1012.9,1425.3 L1014.6,1424.4 L1016.4,1423.4 L1018.1,1422.4 L1019.8,1421.5 L1021.5,1420.4 L1023.1,1419.4 L1024.8,1418.4 L1026.4,1417.3 L1028.0,1416.2 L1029.6,1415.1 L1031.2,1414.0 L1032.8,1412.8 L1034.3,1411.6 L1035.8,1410.4 L1037.3,1409.2 L1038.8,1408.0 L1040.3,1406.7 L1041.8,1405.5 L1043.2,1404.2 L1044.6,1402.9 L1046.0,1401.5 L1047.4,1400.2 L1048.8,1398.8 L1050.2,1397.5 L1051.5,1396.1 L1052.8,1394.7 L1054.1,1393.2 L1055.4,1391.8 L1056.7,1390.3 L1058.0,1388.9 L1059.2,1387.4 L1060.5,1385.9 L1061.7,1384.3 L1062.9,1382.8 L1064.1,1381.3 L1065.3,1379.7 L1066.4,1378.1 L1067.6,1376.5 L1068.7,1374.9 L1069.8,1373.3 L1071.0,1371.7 L1072.1,1370.0 L1073.1,1368.4 L1074.2,1366.7 L1075.3,1365.1 L1076.3,1363.4 L1077.3,1361.7 L1078.4,1360.0 L1079.4,1358.2 L1080.4,1356.5 L1081.4,1354.8 L1082.3,1353.0 L1083.3,1351.3 L1084.3,1349.5 L1085.2,1347.7 L1086.1,1346.0 L1087.0,1344.2 L1087.9,1342.4 L1088.8,1340.6 L1089.7,1338.7 L1090.6,1336.9 L1091.5,1335.1 L1092.3,1333.3 L1093.2,1331.4 L1094.0,1329.6 L1094.8,1327.7 L1095.7,1325.9 L1096.5,1324.0 L1097.3,1322.1 L1098.1,1320.3 L1098.9,1318.4 L1099.6,1316.5 L1100.4,1314.6 L1101.2,1312.7 L1101.9,1310.9 L1102.6,1309.0 L1103.4,1307.1 L1104.1,1305.2 L1104.8,1303.3 L1105.5,1301.4 L1106.2,1299.5 L1106.9,1297.6 L1107.6,1295.6 L1108.3,1293.7 L1109.0,1291.8 L1109.7,1289.9 L1110.3,1288.0 L1111.0,1286.1 L1111.7,1284.2 L1112.3,1282.3 L1112.9,1280.4 L1113.6,1278.5 L1114.2,1276.5 L1114.8,1274.6 L1115.4,1272.7 L1116.1,1270.8 L1116.7,1268.9 L1117.3,1267.0 L1117.9,1265.0 L1118.4,1263.1 L1119.0,1261.2 L1119.6,1259.3 L1120.2,1257.4 L1120.7,1255.4 L1121.3,1253.5 L1121.9,1251.6 L1122.4,1249.7 L1123.0,1247.7 L1123.5,1245.8 L1124.0,1243.9 L1124.6,1242.0 L1125.1,1240.0 L1125.6,1238.1 L1126.1,1236.2 L1126.7,1234.2 L1127.2,1232.3 L1127.7,1230.4 L1128.2,1228.4 L1128.7,1226.5 L1129.2,1224.6 L1129.6,1222.6 L1130.1,1220.7 L1130.6,1218.8 L1131.1,1216.8 L1131.5,1214.9 L1132.0,1213.0 L1132.5,1211.0 L1132.9,1209.1 L1133.4,1207.1 L1133.8,1205.2 L1134.3,1203.3 L1134.7,1201.3 L1135.2,1199.4 L1135.6,1197.4 L1136.0,1195.5 L1136.5,1193.6 L1136.9,1191.6 L1137.3,1189.7 L1137.8,1187.7 L1138.2,1185.8 L1138.6,1183.8 L1139.0,1181.9 L1139.4,1179.9 L1139.8,1178.0 L1140.2,1176.0 L1140.6,1174.1 L1141.0,1172.1 L1141.4,1170.2 L1141.8,1168.2 L1142.2,1166.3 L1142.6,1164.3 L1143.0,1162.4 L1143.4,1160.4 L1143.8,1158.5 L1144.2,1156.5 L1144.5,1154.6 L1144.9,1152.6 L1145.3,1150.7 L1145.7,1148.7 L1146.0,1146.8 L1146.4,1144.8 L1146.8,1142.8 L1147.2,1140.9 L1147.5,1138.9 L1147.9,1137.0 L1148.3,1135.0 L1148.6,1133.1 L1149.0,1131.1 L1149.3,1129.1 L1149.7,1127.2 L1150.1,1125.2 L1150.4,1123.3 L1150.8,1121.3 L1151.1,1119.3 L1151.5,1117.4 L1151.8,1115.4 L1152.2,1113.4 L1152.6,1111.5 L1152.9,1109.5 L1153.3,1107.6 L1153.6,1105.6 L1154.0,1103.6 L1154.3,1101.7 L1154.7,1099.7 L1155.0,1097.7 L1155.4,1095.8 L1155.7,1093.8 L1156.1,1091.8 L1156.5,1089.9 L1156.8,1087.9 L1157.2,1085.9 L1157.5,1084.0 L1157.9,1082.0 L1158.2,1080.0 L1158.6,1078.1 L1158.9,1076.1 L1159.3,1074.1 L1159.6,1072.2 L1160.0,1070.2 L1160.3,1068.2 L1160.7,1066.3 L1161.0,1064.3 L1161.4,1062.3 L1161.7,1060.4 L1162.1,1058.4 L1162.4,1056.4 L1162.8,1054.4 L1163.1,1052.5 L1163.5,1050.5 L1163.8,1048.5 L1164.2,1046.6 L1164.5,1044.6 L1164.8,1042.6 L1165.2,1040.6 L1165.5,1038.7 L1165.9,1036.7 L1166.2,1034.7 L1166.6,1032.8 L1166.9,1030.8 L1167.3,1028.8 L1167.6,1026.8 L1168.0,1024.9 L1168.3,1022.9 L1168.7,1020.9 L1169.0,1018.9 L1169.3,1017.0 L1169.7,1015.0 L1170.0,1013.0 L1170.4,1011.0 L1170.7,1009.1 L1171.1,1007.1 L1171.4,1005.1 L1171.8,1003.1 L1172.1,1001.2 L1172.4,999.2 L1172.8,997.2 L1173.1,995.2 L1173.5,993.3 L1173.8,991.3 L1174.1,989.3 L1174.5,987.3 L1174.8,985.4 L1175.2,983.4 L1175.5,981.4 L1175.9,979.4 L1176.2,977.5 L1176.5,975.5 L1176.9,973.5 L1177.2,971.5 L1177.5,969.6 L1177.9,967.6 L1178.2,965.6 L1178.6,963.6 L1178.9,961.6 L1179.2,959.7 L1179.6,957.7 L1179.9,955.7 L1180.3,953.7 L1180.6,951.8 L1180.9,949.8 L1181.3,947.8 L1181.6,945.8 L1181.9,943.9 L1182.3,941.9 L1182.6,939.9 L1182.9,937.9 L1183.3,935.9 L1183.6,934.0 L1184.0,932.0 L1184.3,930.0 L1184.6,928.0 L1185.0,926.1 L1185.3,924.1 L1185.6,922.1 L1186.0,920.1 L1186.3,918.2 L1186.6,916.2 L1187.0,914.2 L1187.3,912.2 L1187.6,910.3 L1188.0,908.3 L1188.3,906.3 L1188.6,904.3 L1189.0,902.3 L1189.3,900.4 L1189.6,898.4 L1189.9,896.4 L1190.3,894.4 L1190.6,892.5 L1190.9,890.5 L1191.3,888.5 L1191.6,886.5 L1191.9,884.6 L1192.3,882.6 L1192.6,880.6 L1192.9,878.6 L1193.2,876.7 L1193.6,874.7 L1193.9,872.7 L1194.2,870.7 L1194.6,868.8 L1194.9,866.8 L1195.2,864.8 L1195.5,862.8 L1195.9,860.9 L1196.2,858.9 L1196.5,856.9 L1196.8,854.9 L1197.2,853.0 L1197.5,851.0 L1197.8,849.0 L1198.1,847.1 L1198.5,845.1 L1198.8,843.1 L1199.1,841.1 L1199.4,839.2 L1199.8,837.2 L1200.1,835.2 L1200.4,833.2 L1200.7,831.3 L1201.1,829.3 L1201.4,827.3 L1201.7,825.4 L1202.0,823.4 L1202.4,821.4 L1202.7,819.5 L1203.0,817.5 L1203.3,815.5 L1203.6,813.5 L1204.0,811.6 L1204.3,809.6 L1204.6,807.6 L1204.9,805.7 L1205.2,803.7 L1205.6,801.7 L1205.9,799.8 L1206.2,797.8 L1206.5,795.8 L1206.8,793.9 L1207.2,791.9 L1207.5,789.9 L1207.8,788.0 L1208.1,786.0 L1208.4,784.0 L1208.8,782.1 L1209.1,780.1 L1209.4,778.1 L1209.7,776.2 L1210.0,774.2 L1210.3,772.3 L1210.7,770.3 L1211.0,768.3 L1211.3,766.4 L1211.6,764.4 L1211.9,762.4 L1212.2,760.5 L1212.6,758.5 L1212.9,756.6 L1213.2,754.6 L1213.5,752.6 L1213.8,750.7 L1214.1,748.7 L1214.4,746.8 L1214.8,744.8 L1215.1,742.8 L1215.4,740.9 L1215.7,738.9 L1216.0,737.0 L1216.3,735.0 L1216.6,733.1 L1217.0,731.1 L1217.3,729.1 L1217.6,727.2 L1217.9,725.2 L1218.2,723.3 L1218.5,721.3 L1218.9,719.4 L1219.2,717.4 L1219.5,715.4 L1219.8,713.5 L1220.2,711.5 L1220.5,709.6 L1220.8,707.6 L1221.2,705.7 L1221.5,703.7 L1221.9,701.8 L1222.2,699.8 L1222.5,697.9 L1222.9,695.9 L1223.2,693.9 L1223.6,692.0 L1223.9,690.0 L1224.3,688.1 L1224.7,686.1 L1225.0,684.2 L1225.4,682.2 L1225.8,680.3 L1226.1,678.3 L1226.5,676.4 L1226.9,674.4 L1227.3,672.4 L1227.7,670.5 L1228.1,668.5 L1228.5,666.6 L1228.9,664.6 L1229.3,662.7 L1229.7,660.7 L1230.1,658.7 L1230.5,656.8 L1231.0,654.8 L1231.4,652.9 L1231.8,650.9 L1232.3,648.9 L1232.7,647.0 L1233.2,645.0 L1233.6,643.1 L1234.1,641.1 L1234.6,639.1 L1235.0,637.2 L1235.5,635.2 L1236.0,633.3 L1236.5,631.3 L1237.0,629.3 L1237.5,627.4 L1238.0,625.4 L1238.5,623.4 L1239.1,621.5 L1239.6,619.5 L1240.1,617.5 L1240.7,615.6 L1241.2,613.6 L1241.8,611.6 L1242.4,609.7 L1242.9,607.7 L1243.5,605.7 L1244.1,603.8 L1244.7,601.8 L1245.3,599.8 L1245.9,597.8 L1246.5,595.9 L1247.2,593.9 L1247.8,591.9 L1248.5,589.9 L1249.1,588.0 L1249.8,586.0 L1250.5,584.0 L1251.1,582.0 L1251.8,580.0 L1252.5,578.1 L1253.2,576.1 L1253.9,574.1 L1254.7,572.1 L1255.4,570.1 L1256.2,568.1 L1256.9,566.2 L1257.7,564.2 L1258.5,562.2 L1259.2,560.2 L1260.0,558.2 L1260.8,556.2 L1261.7,554.2 L1262.5,552.3 L1263.3,550.4 L1264.2,548.5 L1265.1,546.7 L1266.0,544.9 L1267.0,543.3 L1268.0,541.8 L1269.0,540.4 L1270.1,539.1 L1271.2,538.0 L1272.4,537.0 L1273.6,536.2 L1274.8,535.6 L1276.1,535.3 L1277.5,535.1 L1278.9,535.1 L1280.4,535.4 L1281.9,535.9 L1283.5,536.6 L1285.0,537.5 L1286.6,538.6 L1288.1,539.8 L1289.6,541.2 L1291.1,542.8 L1292.5,544.5 L1293.9,546.3 L1295.2,548.1 L1296.5,550.1 L1297.8,552.1 L1298.9,554.2 L1300.1,556.2 L1301.1,558.3 L1302.1,560.4 L1303.0,562.4 L1303.9,564.5 L1304.7,566.5 L1305.5,568.5 L1306.2,570.6 L1306.9,572.6 L1307.5,574.6 L1308.0,576.6 L1308.6,578.5 L1309.1,580.5 L1309.5,582.5 L1310.0,584.5 L1310.4,586.4 L1310.7,588.4 L1311.1,590.3 L1311.4,592.3 L1311.7,594.2 L1312.0,596.1 L1312.3,598.1 L1312.6,600.0 L1312.9,602.0 L1313.2,603.9 L1313.4,605.8 L1313.7,607.8 L1314.0,609.7 L1314.3,611.6 L1314.6,613.6 L1314.9,615.5 L1315.2,617.4 L1315.5,619.4 L1315.8,621.3 L1316.1,623.3 L1316.5,625.2 L1316.8,627.1 L1317.1,629.1 L1317.5,631.0 L1317.8,633.0 L1318.2,634.9 L1318.5,636.9 L1318.9,638.8 L1319.2,640.8 L1319.6,642.7 L1319.9,644.7 L1320.3,646.6 L1320.7,648.6 L1321.0,650.5 L1321.4,652.5 L1321.8,654.4 L1322.2,656.4 L1322.5,658.3 L1322.9,660.3 L1323.3,662.2 L1323.7,664.2 L1324.1,666.1 L1324.5,668.1 L1324.9,670.0 L1325.2,672.0 L1325.6,673.9 L1326.0,675.9 L1326.4,677.9 L1326.8,679.8 L1327.2,681.8 L1327.6,683.7 L1328.0,685.7 L1328.4,687.7 L1328.8,689.6 L1329.2,691.6 L1329.6,693.5 L1330.0,695.5 L1330.4,697.5 L1330.7,699.4 L1331.1,701.4 L1331.5,703.4 L1331.9,705.3 L1332.3,707.3 L1332.7,709.3 L1333.1,711.2 L1333.4,713.2 L1333.8,715.1 L1334.2,717.1 L1334.6,719.1 L1335.0,721.0 L1335.3,723.0 L1335.7,725.0 L1336.1,727.0 L1336.4,728.9 L1336.8,730.9 L1337.2,732.9 L1337.6,734.8 L1337.9,736.8 L1338.3,738.8 L1338.7,740.7 L1339.0,742.7 L1339.4,744.7 L1339.7,746.7 L1340.1,748.6 L1340.5,750.6 L1340.8,752.6 L1341.2,754.5 L1341.5,756.5 L1341.9,758.5 L1342.3,760.5 L1342.6,762.4 L1343.0,764.4 L1343.3,766.4 L1343.7,768.4 L1344.0,770.3 L1344.4,772.3 L1344.7,774.3 L1345.1,776.2 L1345.4,778.2 L1345.8,780.2 L1346.1,782.2 L1346.5,784.1 L1346.8,786.1 L1347.1,788.1 L1347.5,790.1 L1347.8,792.1 L1348.2,794.0 L1348.5,796.0 L1348.9,798.0 L1349.2,800.0 L1349.5,801.9 L1349.9,803.9 L1350.2,805.9 L1350.6,807.9 L1350.9,809.8 L1351.2,811.8 L1351.6,813.8 L1351.9,815.8 L1352.2,817.7 L1352.6,819.7 L1352.9,821.7 L1353.2,823.7 L1353.6,825.6 L1353.9,827.6 L1354.2,829.6 L1354.5,831.6 L1354.9,833.5 L1355.2,835.5 L1355.5,837.5 L1355.9,839.5 L1356.2,841.5 L1356.5,843.4 L1356.8,845.4 L1357.2,847.4 L1357.5,849.4 L1357.8,851.3 L1358.2,853.3 L1358.5,855.3 L1358.8,857.3 L1359.1,859.2 L1359.4,861.2 L1359.8,863.2 L1360.1,865.2 L1360.4,867.1 L1360.7,869.1 L1361.1,871.1 L1361.4,873.0 L1361.7,875.0 L1362.0,877.0 L1362.4,879.0 L1362.7,880.9 L1363.0,882.9 L1363.3,884.9 L1363.6,886.9 L1364.0,888.8 L1364.3,890.8 L1364.6,892.8 L1364.9,894.7 L1365.2,896.7 L1365.6,898.7 L1365.9,900.7 L1366.2,902.6 L1366.5,904.6 L1366.8,906.6 L1367.2,908.5 L1367.5,910.5 L1367.8,912.5 L1368.1,914.5 L1368.4,916.4 L1368.7,918.4 L1369.1,920.4 L1369.4,922.3 L1369.7,924.3 L1370.0,926.3 L1370.3,928.2 L1370.7,930.2 L1371.0,932.2 L1371.3,934.2 L1371.6,936.1 L1371.9,938.1 L1372.3,940.1 L1372.6,942.0 L1372.9,944.0 L1373.2,946.0 L1373.5,947.9 L1373.9,949.9 L1374.2,951.9 L1374.5,953.8 L1374.8,955.8 L1375.1,957.8 L1375.5,959.7 L1375.8,961.7 L1376.1,963.7 L1376.4,965.6 L1376.7,967.6 L1377.1,969.6 L1377.4,971.5 L1377.7,973.5 L1378.0,975.5 L1378.3,977.4 L1378.7,979.4 L1379.0,981.4 L1379.3,983.4 L1379.6,985.3 L1380.0,987.3 L1380.3,989.3 L1380.6,991.2 L1380.9,993.2 L1381.3,995.1 L1381.6,997.1 L1381.9,999.1 L1382.2,1001.0 L1382.6,1003.0 L1382.9,1005.0 L1383.2,1006.9 L1383.5,1008.9 L1383.9,1010.9 L1384.2,1012.8 L1384.5,1014.8 L1384.9,1016.8 L1385.2,1018.7 L1385.5,1020.7 L1385.8,1022.7 L1386.2,1024.6 L1386.5,1026.6 L1386.8,1028.6 L1387.2,1030.5 L1387.5,1032.5 L1387.8,1034.5 L1388.2,1036.4 L1388.5,1038.4 L1388.8,1040.4 L1389.2,1042.3 L1389.5,1044.3 L1389.9,1046.3 L1390.2,1048.2 L1390.5,1050.2 L1390.9,1052.2 L1391.2,1054.1 L1391.5,1056.1 L1391.9,1058.0 L1392.2,1060.0 L1392.6,1062.0 L1392.9,1063.9 L1393.3,1065.9 L1393.6,1067.9 L1393.9,1069.8 L1394.3,1071.8 L1394.6,1073.8 L1395.0,1075.7 L1395.3,1077.7 L1395.7,1079.7 L1396.0,1081.6 L1396.4,1083.6 L1396.7,1085.6 L1397.1,1087.5 L1397.4,1089.5 L1397.8,1091.5 L1398.1,1093.4 L1398.5,1095.4 L1398.8,1097.3 L1399.2,1099.3 L1399.6,1101.3 L1399.9,1103.2 L1400.3,1105.2 L1400.6,1107.2 L1401.0,1109.1 L1401.4,1111.1 L1401.7,1113.1 L1402.1,1115.0 L1402.4,1117.0 L1402.8,1119.0 L1403.2,1120.9 L1403.5,1122.9 L1403.9,1124.9 L1404.3,1126.8 L1404.7,1128.8 L1405.0,1130.8 L1405.4,1132.7 L1405.8,1134.7 L1406.1,1136.7 L1406.5,1138.6 L1406.9,1140.6 L1407.3,1142.6 L1407.7,1144.5 L1408.0,1146.5 L1408.4,1148.5 L1408.8,1150.4 L1409.2,1152.4 L1409.6,1154.4 L1409.9,1156.3 L1410.3,1158.3 L1410.7,1160.3 L1411.1,1162.2 L1411.5,1164.2 L1411.9,1166.2 L1412.3,1168.1 L1412.7,1170.1 L1413.1,1172.1 L1413.5,1174.0 L1413.9,1176.0 L1414.3,1178.0 L1414.7,1179.9 L1415.1,1181.9 L1415.5,1183.9 L1415.9,1185.8 L1416.3,1187.8 L1416.7,1189.8 L1417.1,1191.7 L1417.5,1193.7 L1417.9,1195.7 L1418.3,1197.6 L1418.7,1199.6 L1419.1,1201.6 L1419.5,1203.6 L1420.0,1205.5 L1420.4,1207.5 L1420.8,1209.5 L1421.2,1211.4 L1421.6,1213.4 L1422.1,1215.4 L1422.5,1217.3 L1422.9,1219.3 L1423.4,1221.3 L1423.8,1223.2 L1424.2,1225.2 L1424.7,1227.2 L1425.1,1229.1 L1425.6,1231.1 L1426.0,1233.1 L1426.5,1235.0 L1426.9,1237.0 L1427.4,1238.9 L1427.9,1240.9 L1428.3,1242.8 L1428.8,1244.8 L1429.3,1246.7 L1429.8,1248.7 L1430.3,1250.6 L1430.7,1252.6 L1431.2,1254.5 L1431.7,1256.5 L1432.3,1258.4 L1432.8,1260.4 L1433.3,1262.3 L1433.8,1264.2 L1434.3,1266.2 L1434.9,1268.1 L1435.4,1270.0 L1436.0,1272.0 L1436.5,1273.9 L1437.1,1275.8 L1437.6,1277.7 L1438.2,1279.6 L1438.8,1281.6 L1439.4,1283.5 L1439.9,1285.4 L1440.5,1287.3 L1441.2,1289.2 L1441.8,1291.1 L1442.4,1293.0 L1443.0,1294.9 L1443.6,1296.8 L1444.3,1298.7 L1444.9,1300.5 L1445.6,1302.4 L1446.3,1304.3 L1446.9,1306.2 L1447.6,1308.0 L1448.3,1309.9 L1449.0,1311.8 L1449.7,1313.6 L1450.4,1315.5 L1451.2,1317.3 L1451.9,1319.2 L1452.6,1321.0 L1453.4,1322.8 L1454.2,1324.7 L1454.9,1326.5 L1455.7,1328.3 L1456.5,1330.1 L1457.3,1331.9 L1458.1,1333.8 L1458.9,1335.6 L1459.8,1337.4 L1460.6,1339.2 L1461.5,1340.9 L1462.3,1342.7 L1463.2,1344.5 L1464.1,1346.3 L1465.0,1348.0 L1465.9,1349.8 L1466.8,1351.6 L1467.8,1353.3 L1468.7,1355.1 L1469.7,1356.8 L1470.6,1358.5 L1471.6,1360.3 L1472.6,1362.0 L1473.6,1363.7 L1474.6,1365.4 L1475.7,1367.1 L1476.7,1368.8 L1477.7,1370.5 L1478.8,1372.2 L1479.9,1373.9 L1481.0,1375.6 L1482.1,1377.2 L1483.2,1378.9 L1484.4,1380.5 L1485.5,1382.2 L1486.7,1383.8 L1487.9,1385.4 L1489.0,1387.0 L1490.3,1388.6 L1491.5,1390.2 L1492.7,1391.8 L1494.0,1393.3 L1495.3,1394.9 L1496.6,1396.4 L1497.9,1397.9 L1499.2,1399.4 L1500.5,1400.9 L1501.9,1402.3 L1503.3,1403.7 L1504.7,1405.1 L1506.1,1406.5 L1507.5,1407.9 L1509.0,1409.2 L1510.4,1410.6 L1511.9,1411.9 L1513.4,1413.1 L1515.0,1414.4 L1516.5,1415.6 L1518.1,1416.8 L1519.7,1418.0 L1521.3,1419.1 L1523.0,1420.2 L1524.6,1421.3 L1526.3,1422.4 L1528.0,1423.4 L1529.7,1424.4 L1531.5,1425.3 L1533.2,1426.3 L1535.0,1427.1 L1536.9,1428.0 L1538.7,1428.8 L1540.6,1429.6 L1542.5,1430.4 L1544.4,1431.1 L1546.3,1431.8 L1548.3,1432.4 L1550.2,1433.0 L1552.2,1433.6 L1554.3,1434.1 L1556.3,1434.7 L1558.3,1435.2 L1560.3,1435.7 L1562.4,1436.2 L1564.4,1436.7 L1566.4,1437.2 L1568.4,1437.7 L1570.4,1438.1 L1572.4,1438.6 L1574.4,1439.1 L1576.4,1439.6 L1578.3,1440.1 L1580.2,1440.7 L1582.1,1441.3 L1583.9,1441.8 L1585.8,1442.5 L1587.5,1443.1 L1589.3,1443.8 L1591.0,1444.5"/>
<path stroke="#ff00ff" d="M862.1,1621.4 L863.9,1621.2 L865.8,1621.1 L867.6,1621.0 L869.5,1620.8 L871.4,1620.7 L873.3,1620.5 L875.2,1620.3 L877.1,1620.2 L879.0,1620.0 L880.9,1619.8 L882.9,1619.6 L884.8,1619.4 L886.8,1619.3 L888.7,1619.1 L890.7,1618.8 L892.6,1618.6 L894.6,1618.4 L896.6,1618.2 L898.6,1618.0 L900.5,1617.7 L902.5,1617.5 L904.5,1617.2 L906.5,1617.0 L908.5,1616.7 L910.5,1616.5 L912.5,1616.2 L914.5,1615.9 L916.5,1615.6 L918.6,1615.3 L920.6,1615.0 L922.6,1614.7 L924.6,1614.3 L926.6,1614.0 L928.6,1613.7 L930.7,1613.3 L932.7,1613.0 L934.7,1612.6 L936.7,1612.2 L938.8,1611.8 L940.8,1611.4 L942.8,1611.0 L944.8,1610.6 L946.8,1610.2 L948.8,1609.8 L950.9,1609.3 L952.9,1608.9 L954.9,1608.4 L956.9,1607.9 L958.9,1607.4 L960.9,1606.9 L962.9,1606.4 L964.9,1605.9 L966.9,1605.4 L968.9,1604.9 L970.8,1604.3 L972.8,1603.7 L974.8,1603.2 L976.7,1602.6 L978.7,1602.0 L980.7,1601.4 L982.6,1600.7 L984.5,1600.1 L986.5,1599.5 L988.4,1598.8 L990.3,1598.1 L992.2,1597.4 L994.2,1596.7 L996.1,1596.0 L997.9,1595.3 L999.8,1594.6 L1001.7,1593.8 L1003.6,1593.0 L1005.4,1592.3 L1007.3,1591.5 L1009.1,1590.6 L1010.9,1589.8 L1012.7,1589.0 L1014.5,1588.1 L1016.3,1587.3 L1018.1,1586.4 L1019.9,1585.5 L1021.7,1584.6 L1023.4,1583.6 L1025.1,1582.7 L1026.9,1581.7 L1028.6,1580.8 L1030.3,1579.8 L1032.0,1578.8 L1033.6,1577.7 L1035.3,1576.7 L1036.9,1575.6 L1038.6,1574.6 L1040.2,1573.5 L1041.8,1572.4 L1043.4,1571.2 L1044.9,1570.1 L1046.5,1568.9 L1048.0,1567.7 L1049.6,1566.6 L1051.1,1565.3 L1052.6,1564.1 L1054.0,1562.9 L1055.5,1561.6 L1056.9,1560.3 L1058.4,1559.0 L1059.8,1557.7 L1061.2,1556.3 L1062.5,1555.0 L1063.9,1553.6 L1065.2,1552.2 L1066.5,1550.8 L1067.8,1549.3 L1069.1,1547.9 L1070.3,1546.4 L1071.6,1544.9 L1072.8,1543.4 L1074.0,1541.8 L1075.2,1540.3 L1076.3,1538.7 L1077.4,1537.1 L1078.6,1535.5 L1079.7,1533.9 L1080.7,1532.2 L1081.8,1530.5 L1082.8,1528.9 L1083.8,1527.2 L1084.9,1525.4 L1085.8,1523.7 L1086.8,1522.0 L1087.8,1520.2 L1088.7,1518.4 L1089.7,1516.7 L1090.6,1514.9 L1091.5,1513.0 L1092.4,1511.2 L1093.2,1509.4 L1094.1,1507.6 L1094.9,1505.7 L1095.8,1503.9 L1096.6,1502.0 L1097.4,1500.1 L1098.2,1498.2 L1099.0,1496.3 L1099.8,1494.4 L1100.6,1492.5 L1101.4,1490.6 L1102.1,1488.7 L1102.9,1486.8 L1103.6,1484.9 L1104.4,1483.0 L1105.1,1481.0 L1105.8,1479.1 L1106.6,1477.2 L1107.3,1475.3 L1108.0,1473.3 L1108.7,1471.4 L1109.4,1469.5 L1110.1,1467.5 L1110.8,1465.6 L1111.5,1463.7 L1112.2,1461.8 L1112.9,1459.8 L1113.6,1457.9 L1114.3,1456.0 L1114.9,1454.1 L1115.6,1452.2 L1116.3,1450.3 L1117.0,1448.4 L1117.7,1446.5 L1118.4,1444.6 L1119.1,1442.7 L1119.7,1440.9 L1120.4,1439.0 L1121.1,1437.1 L1121.8,1435.2 L1122.4,1433.4 L1123.1,1431.5 L1123.8,1429.6 L1124.5,1427.8 L1125.1,1425.9 L1125.8,1424.1 L1126.5,1422.2 L1127.1,1420.3 L1127.8,1418.5 L1128.4,1416.6 L1129.1,1414.8 L1129.7,1412.9 L1130.4,1411.1 L1131.0,1409.2 L1131.7,1407.4 L1132.3,1405.5 L1132.9,1403.6 L1133.6,1401.8 L1134.2,1399.9 L1134.8,1398.1 L1135.4,1396.2 L1136.1,1394.4 L1136.7,1392.5 L1137.3,1390.6 L1137.9,1388.8 L1138.5,1386.9 L1139.1,1385.0 L1139.7,1383.1 L1140.3,1381.3 L1140.8,1379.4 L1141.4,1377.5 L1142.0,1375.6 L1142.6,1373.7 L1143.1,1371.8 L1143.7,1370.0 L1144.2,1368.1 L1144.8,1366.2 L1145.3,1364.3 L1145.9,1362.3 L1146.4,1360.4 L1146.9,1358.5 L1147.5,1356.6 L1148.0,1354.7 L1148.5,1352.8 L1149.0,1350.9 L1149.6,1348.9 L1150.1,1347.0 L1150.6,1345.1 L1151.1,1343.2 L1151.6,1341.2 L1152.1,1339.3 L1152.5,1337.4 L1153.0,1335.4 L1153.5,1333.5 L1154.0,1331.5 L1154.5,1329.6 L1154.9,1327.6 L1155.4,1325.7 L1155.9,1323.8 L1156.3,1321.8 L1156.8,1319.8 L1157.2,1317.9 L1157.7,1315.9 L1158.1,1314.0 L1158.6,1312.0 L1159.0,1310.1 L1159.4,1308.1 L1159.9,1306.1 L1160.3,1304.2 L1160.7,1302.2 L1161.1,1300.3 L1161.5,1298.3 L1162.0,1296.3 L1162.4,1294.3 L1162.8,1292.4 L1163.2,1290.4 L1163.6,1288.4 L1164.0,1286.5 L1164.4,1284.5 L1164.8,1282.5 L1165.2,1280.5 L1165.6,1278.6 L1166.0,1276.6 L1166.3,1274.6 L1166.7,1272.6 L1167.1,1270.7 L1167.5,1268.7 L1167.8,1266.7 L1168.2,1264.7 L1168.6,1262.8 L1168.9,1260.8 L1169.3,1258.8 L1169.7,1256.8 L1170.0,1254.8 L1170.4,1252.9 L1170.7,1250.9 L1171.1,1248.9 L1171.4,1246.9 L1171.8,1245.0 L1172.1,1243.0 L1172.5,1241.0 L1172.8,1239.0 L1173.2,1237.1 L1173.5,1235.1 L1173.8,1233.1 L1174.2,1231.1 L1174.5,1229.2 L1174.8,1227.2 L1175.2,1225.2 L1175.5,1223.2 L1175.8,1221.3 L1176.1,1219.3 L1176.5,1217.3 L1176.8,1215.4 L1177.1,1213.4 L1177.4,1211.4 L1177.7,1209.4 L1178.0,1207.5 L1178.4,1205.5 L1178.7,1203.5 L1179.0,1201.6 L1179.3,1199.6 L1179.6,1197.6 L1179.9,1195.7 L1180.2,1193.7 L1180.6,1191.7 L1180.9,1189.8 L1181.2,1187.8 L1181.5,1185.8 L1181.8,1183.9 L1182.1,1181.9 L1182.4,1179.9 L1182.7,1178.0 L1183.0,1176.0 L1183.3,1174.0 L1183.6,1172.1 L1183.9,1170.1 L1184.3,1168.1 L1184.6,1166.2 L1184.9,1164.2 L1185.2,1162.2 L1185.5,1160.3 L1185.8,1158.3 L1186.1,1156.3 L1186.4,1154.4 L1186.7,1152.4 L1187.1,1150.4 L1187.4,1148.5 L1187.7,1146.5 L1188.0,1144.5 L1188.3,1142.6 L1188.6,1140.6 L1189.0,1138.6 L1189.3,1136.7 L1189.6,1134.7 L1189.9,1132.7 L1190.2,1130.8 L1190.5,1128.8 L1190.9,1126.8 L1191.2,1124.9 L1191.5,1122.9 L1191.8,1120.9 L1192.2,1119.0 L1192.5,1117.0 L1192.8,1115.0 L1193.1,1113.0 L1193.5,1111.1 L1193.8,1109.1 L1194.1,1107.1 L1194.4,1105.2 L1194.8,1103.2 L1195.1,1101.2 L1195.4,1099.3 L1195.7,1097.3 L1196.1,1095.3 L1196.4,1093.4 L1196.7,1091.4 L1197.1,1089.4 L1197.4,1087.5 L1197.7,1085.5 L1198.0,1083.5 L1198.4,1081.6 L1198.7,1079.6 L1199.0,1077.6 L1199.4,1075.6 L1199.7,1073.7 L1200.0,1071.7 L1200.4,1069.7 L1200.7,1067.8 L1201.0,1065.8 L1201.4,1063.8 L1201.7,1061.9 L1202.0,1059.9 L1202.3,1057.9 L1202.7,1056.0 L1203.0,1054.0 L1203.3,1052.0 L1203.7,1050.0 L1204.0,1048.1 L1204.3,1046.1 L1204.7,1044.1 L1205.0,1042.2 L1205.3,1040.2 L1205.7,1038.2 L1206.0,1036.2 L1206.3,1034.3 L1206.7,1032.3 L1207.0,1030.3 L1207.3,1028.4 L1207.6,1026.4 L1208.0,1024.4 L1208.3,1022.4 L1208.6,1020.5 L1209.0,1018.5 L1209.3,1016.5 L1209.6,1014.5 L1210.0,1012.6 L1210.3,1010.6 L1210.6,1008.6 L1210.9,1006.6 L1211.3,1004.7 L1211.6,1002.7 L1211.9,1000.7 L1212.3,998.8 L1212.6,996.8 L1212.9,994.8 L1213.2,992.8 L1213.6,990.9 L1213.9,988.9 L1214.2,986.9 L1214.5,984.9 L1214.9,983.0 L1215.2,981.0 L1215.5,979.0 L1215.8,977.0 L1216.1,975.0 L1216.5,973.1 L1216.8,971.1 L1217.1,969.1 L1217.4,967.1 L1217.7,965.2 L1218.1,963.2 L1218.4,961.2 L1218.7,959.2 L1219.0,957.2 L1219.3,955.3 L1219.6,953.3 L1219.9,951.3 L1220.3,949.3 L1220.6,947.4 L1220.9,945.4 L1221.2,943.4 L1221.5,941.4 L1221.8,939.4 L1222.1,937.5 L1222.4,935.5 L1222.7,933.5 L1223.0,931.5 L1223.3,929.5 L1223.7,927.5 L1224.0,925.6 L1224.3,923.6 L1224.6,921.6 L1224.9,919.6 L1225.2,917.6 L1225.5,915.7 L1225.8,913.7 L1226.1,911.7 L1226.3,909.7 L1226.6,907.7 L1226.9,905.7 L1227.2,903.8 L1227.5,901.8 L1227.8,899.8 L1228.1,897.8 L1228.4,895.8 L1228.7,893.8 L1229.0,891.9 L1229.3,889.9 L1229.6,887.9 L1229.9,885.9 L1230.2,883.9 L1230.5,882.0 L1230.8,880.0 L1231.1,878.0 L1231.5,876.0 L1231.8,874.1 L1232.1,872.1 L1232.4,870.1 L1232.7,868.2 L1233.1,866.2 L1233.4,864.2 L1233.7,862.3 L1234.1,860.3 L1234.4,858.3 L1234.7,856.4 L1235.1,854.4 L1235.4,852.5 L1235.8,850.5 L1236.2,848.6 L1236.5,846.6 L1236.9,844.7 L1237.3,842.7 L1237.7,840.8 L1238.1,838.9 L1238.5,836.9 L1238.9,835.0 L1239.3,833.1 L1239.7,831.1 L1240.1,829.2 L1240.5,827.3 L1241.0,825.4 L1241.4,823.5 L1241.9,821.5 L1242.3,819.6 L1242.8,817.7 L1243.3,815.8 L1243.7,813.9 L1244.2,812.0 L1244.7,810.1 L1245.2,808.2 L1245.7,806.3 L1246.2,804.4 L1246.7,802.5 L1247.2,800.6 L1247.7,798.7 L1248.2,796.8 L1248.6,794.9 L1249.1,793.0 L1249.6,791.1 L1250.1,789.1 L1250.6,787.2 L1251.1,785.3 L1251.5,783.3 L1252.0,781.4 L1252.4,779.4 L1252.9,777.4 L1253.3,775.4 L1253.7,773.5 L1254.1,771.5 L1254.5,769.4 L1255.0,767.4 L1255.4,765.4 L1255.8,763.4 L1256.2,761.3 L1256.6,759.3 L1257.0,757.2 L1257.4,755.2 L1257.9,753.1 L1258.3,751.0 L1258.8,749.0 L1259.3,746.9 L1259.8,744.8 L1260.3,742.7 L1260.9,740.7 L1261.5,738.6 L1262.2,736.5 L1262.8,734.4 L1263.5,732.3 L1264.3,730.3 L1265.1,728.2 L1265.9,726.1 L1266.8,724.0 L1267.7,722.0 L1268.7,719.9 L1269.8,717.9 L1270.8,715.9 L1272.0,713.9 L1273.1,712.1 L1274.3,710.3 L1275.5,708.6 L1276.8,707.0 L1278.1,705.5 L1279.4,704.2 L1280.7,703.0 L1282.1,702.0 L1283.4,701.2 L1284.8,700.6 L1286.2,700.1 L1287.6,700.0 L1288.9,700.0 L1290.3,700.3 L1291.7,700.9 L1293.1,701.6 L1294.4,702.6 L1295.7,703.6 L1297.0,704.8 L1298.3,706.0 L1299.5,707.3 L1300.7,708.7 L1301.8,710.1 L1302.9,711.5 L1304.0,713.0 L1305.1,714.5 L1306.1,716.0 L1307.0,717.6 L1308.0,719.2 L1308.9,720.9 L1309.8,722.6 L1310.7,724.3 L1311.5,726.1 L1312.3,727.9 L1313.1,729.7 L1313.8,731.5 L1314.6,733.4 L1315.3,735.3 L1316.0,737.2 L1316.6,739.1 L1317.3,741.1 L1317.9,743.0 L1318.5,745.0 L1319.1,747.0 L1319.7,749.0 L1320.3,751.1 L1320.9,753.1 L1321.4,755.2 L1321.9,757.2 L1322.5,759.3 L1323.0,761.4 L1323.5,763.4 L1324.0,765.5 L1324.4,767.6 L1324.9,769.7 L1325.4,771.7 L1325.9,773.8 L1326.3,775.9 L1326.8,778.0 L1327.3,780.0 L1327.7,782.1 L1328.2,784.2 L1328.6,786.2 L1329.1,788.3 L1329.5,790.3 L1329.9,792.4 L1330.4,794.4 L1330.8,796.5 L1331.2,798.5 L1331.6,800.6 L1332.1,802.6 L1332.5,804.7 L1332.9,806.7 L1333.3,808.7 L1333.7,810.8 L1334.1,812.8 L1334.5,814.8 L1334.9,816.9 L1335.3,818.9 L1335.6,820.9 L1336.0,823.0 L1336.4,825.0 L1336.8,827.0 L1337.1,829.0 L1337.5,831.0 L1337.9,833.0 L1338.2,835.1 L1338.6,837.1 L1339.0,839.1 L1339.3,841.1 L1339.7,843.1 L1340.0,845.1 L1340.4,847.1 L1340.7,849.1 L1341.0,851.1 L1341.4,853.1 L1341.7,855.1 L1342.1,857.1 L1342.4,859.1 L1342.7,861.1 L1343.0,863.1 L1343.4,865.1 L1343.7,867.1 L1344.0,869.1 L1344.3,871.1 L1344.7,873.1 L1345.0,875.0 L1345.3,877.0 L1345.6,879.0 L1345.9,881.0 L1346.2,883.0 L1346.5,884.9 L1346.8,886.9 L1347.1,888.9 L1347.4,890.9 L1347.7,892.9 L1348.0,894.8 L1348.3,896.8 L1348.6,898.8 L1348.9,900.7 L1349.2,902.7 L1349.5,904.7 L1349.8,906.7 L1350.1,908.6 L1350.4,910.6 L1350.7,912.6 L1350.9,914.5 L1351.2,916.5 L1351.5,918.4 L1351.8,920.4 L1352.1,922.4 L1352.4,924.3 L1352.7,926.3 L1352.9,928.3 L1353.2,930.2 L1353.5,932.2 L1353.8,934.1 L1354.1,936.1 L1354.3,938.0 L1354.6,940.0 L1354.9,942.0 L1355.2,943.9 L1355.5,945.9 L1355.7,947.8 L1356.0,949.8 L1356.3,951.7 L1356.6,953.7 L1356.9,955.6 L1357.1,957.6 L1357.4,959.6 L1357.7,961.5 L1358.0,963.5 L1358.3,965.4 L1358.5,967.4 L1358.8,969.3 L1359.1,971.3 L1359.4,973.2 L1359.7,975.2 L1359.9,977.1 L1360.2,979.1 L1360.5,981.0 L1360.8,983.0 L1361.1,984.9 L1361.4,986.9 L1361.7,988.8 L1362.0,990.8 L1362.3,992.7 L1362.5,994.7 L1362.8,996.6 L1363.1,998.6 L1363.4,1000.5 L1363.7,1002.5 L1364.0,1004.4 L1364.3,1006.4 L1364.6,1008.3 L1364.9,1010.3 L1365.2,1012.2 L1365.5,1014.2 L1365.8,1016.1 L1366.2,1018.1 L1366.5,1020.1 L1366.8,1022.0 L1367.1,1024.0 L1367.4,1025.9 L1367.7,1027.9 L1368.0,1029.8 L1368.4,1031.8 L1368.7,1033.7 L1369.0,1035.7 L1369.3,1037.6 L1369.7,1039.6 L1370.0,1041.6 L1370.3,1043.5 L1370.6,1045.5 L1371.0,1047.4 L1371.3,1049.4 L1371.6,1051.3 L1372.0,1053.3 L1372.3,1055.3 L1372.6,1057.2 L1373.0,1059.2 L1373.3,1061.1 L1373.7,1063.1 L1374.0,1065.1 L1374.3,1067.0 L1374.7,1069.0 L1375.0,1070.9 L1375.4,1072.9 L1375.7,1074.9 L1376.1,1076.8 L1376.4,1078.8 L1376.8,1080.7 L1377.1,1082.7 L1377.5,1084.7 L1377.8,1086.6 L1378.2,1088.6 L1378.5,1090.6 L1378.9,1092.5 L1379.3,1094.5 L1379.6,1096.4 L1380.0,1098.4 L1380.3,1100.4 L1380.7,1102.3 L1381.1,1104.3 L1381.4,1106.3 L1381.8,1108.2 L1382.2,1110.2 L1382.5,1112.2 L1382.9,1114.1 L1383.3,1116.1 L1383.6,1118.0 L1384.0,1120.0 L1384.4,1122.0 L1384.7,1123.9 L1385.1,1125.9 L1385.5,1127.9 L1385.8,1129.8 L1386.2,1131.8 L1386.6,1133.8 L1387.0,1135.7 L1387.3,1137.7 L1387.7,1139.7 L1388.1,1141.6 L1388.5,1143.6 L1388.8,1145.6 L1389.2,1147.5 L1389.6,1149.5 L1390.0,1151.5 L1390.4,1153.4 L1390.7,1155.4 L1391.1,1157.4 L1391.5,1159.3 L1391.9,1161.3 L1392.3,1163.3 L1392.7,1165.2 L1393.0,1167.2 L1393.4,1169.2 L1393.8,1171.1 L1394.2,1173.1 L1394.6,1175.1 L1395.0,1177.1 L1395.3,1179.0 L1395.7,1181.0 L1396.1,1183.0 L1396.5,1184.9 L1396.9,1186.9 L1397.3,1188.9 L1397.6,1190.8 L1398.0,1192.8 L1398.4,1194.8 L1398.8,1196.7 L1399.2,1198.7 L1399.6,1200.7 L1400.0,1202.7 L1400.4,1204.6 L1400.7,1206.6 L1401.1,1208.6 L1401.5,1210.5 L1401.9,1212.5 L1402.3,1214.5 L1402.7,1216.5 L1403.1,1218.4 L1403.5,1220.4 L1403.8,1222.4 L1404.2,1224.3 L1404.6,1226.3 L1405.0,1228.3 L1405.4,1230.2 L1405.8,1232.2 L1406.2,1234.2 L1406.6,1236.2 L1406.9,1238.1 L1407.3,1240.1 L1407.7,1242.1 L1408.1,1244.0 L1408.5,1246.0 L1408.9,1248.0 L1409.3,1250.0 L1409.6,1251.9 L1410.0,1253.9 L1410.4,1255.9 L1410.8,1257.8 L1411.2,1259.8 L1411.6,1261.8 L1412.0,1263.8 L1412.3,1265.7 L1412.7,1267.7 L1413.1,1269.7 L1413.5,1271.6 L1413.9,1273.6 L1414.3,1275.6 L1414.6,1277.6 L1415.0,1279.5 L1415.4,1281.5 L1415.8,1283.5 L1416.2,1285.4 L1416.5,1287.4 L1416.9,1289.4 L1417.3,1291.4 L1417.7,1293.3 L1418.0,1295.3 L1418.4,1297.3 L1418.8,1299.2 L1419.2,1301.2 L1419.5,1303.2 L1419.9,1305.2 L1420.3,1307.1 L1420.7,1309.1 L1421.0,1311.1 L1421.4,1313.0 L1421.8,1315.0 L1422.1,1317.0 L1422.5,1319.0 L1422.9,1320.9 L1423.2,1322.9 L1423.6,1324.9 L1424.0,1326.8 L1424.3,1328.8 L1424.7,1330.8 L1425.1,1332.7 L1425.4,1334.7 L1425.8,1336.7 L1426.2,1338.7 L1426.6,1340.6 L1426.9,1342.6 L1427.3,1344.6 L1427.7,1346.5 L1428.0,1348.5 L1428.4,1350.5 L1428.8,1352.4 L1429.2,1354.4 L1429.5,1356.3 L1429.9,1358.3 L1430.3,1360.3 L1430.7,1362.2 L1431.1,1364.2 L1431.5,1366.2 L1431.8,1368.1 L1432.2,1370.1 L1432.6,1372.0 L1433.0,1374.0 L1433.4,1375.9 L1433.8,1377.9 L1434.2,1379.8 L1434.7,1381.8 L1435.1,1383.8 L1435.5,1385.7 L1435.9,1387.6 L1436.3,1389.6 L1436.8,1391.5 L1437.2,1393.5 L1437.6,1395.4 L1438.1,1397.4 L1438.5,1399.3 L1439.0,1401.3 L1439.4,1403.2 L1439.9,1405.1 L1440.3,1407.1 L1440.8,1409.0 L1441.3,1410.9 L1441.7,1412.9 L1442.2,1414.8 L1442.7,1416.7 L1443.2,1418.6 L1443.7,1420.6 L1444.2,1422.5 L1444.7,1424.4 L1445.2,1426.3 L1445.8,1428.2 L1446.3,1430.2 L1446.8,1432.1 L1447.4,1434.0 L1447.9,1435.9 L1448.5,1437.8 L1449.0,1439.7 L1449.6,1441.6 L1450.2,1443.5 L1450.8,1445.4 L1451.3,1447.3 L1451.9,1449.2 L1452.5,1451.1 L1453.2,1453.0 L1453.8,1454.8 L1454.4,1456.7 L1455.0,1458.6 L1455.7,1460.5 L1456.3,1462.4 L1457.0,1464.2 L1457.7,1466.1 L1458.3,1468.0 L1459.0,1469.9 L1459.7,1471.7 L1460.4,1473.6 L1461.1,1475.4 L1461.9,1477.3 L1462.6,1479.1 L1463.3,1481.0 L1464.1,1482.8 L1464.9,1484.7 L1465.6,1486.5 L1466.4,1488.4 L1467.2,1490.2 L1468.0,1492.0 L1468.8,1493.9 L1469.6,1495.7 L1470.5,1497.5 L1471.3,1499.3 L1472.2,1501.2 L1473.0,1503.0 L1473.9,1504.8 L1474.8,1506.6 L1475.7,1508.4 L1476.6,1510.2 L1477.5,1512.0 L1478.4,1513.8 L1479.4,1515.5 L1480.3,1517.3 L1481.3,1519.1 L1482.3,1520.8 L1483.3,1522.6 L1484.3,1524.3 L1485.3,1526.1 L1486.3,1527.8 L1487.4,1529.5 L1488.4,1531.2 L1489.5,1532.9 L1490.6,1534.6 L1491.7,1536.3 L1492.8,1538.0 L1493.9,1539.6 L1495.0,1541.3 L1496.2,1542.9 L1497.3,1544.5 L1498.5,1546.2 L1499.7,1547.8 L1500.9,1549.4 L1502.1,1550.9 L1503.3,1552.5 L1504.5,1554.0 L1505.8,1555.6 L1507.1,1557.1 L1508.4,1558.6 L1509.7,1560.1 L1511.0,1561.6 L1512.3,1563.0 L1513.6,1564.5 L1515.0,1565.9 L1516.4,1567.3 L1517.7,1568.7 L1519.1,1570.1 L1520.6,1571.4 L1522.0,1572.8 L1523.4,1574.1 L1524.9,1575.4 L1526.4,1576.7 L1527.9,1578.0 L1529.4,1579.2 L1530.9,1580.4 L1532.5,1581.6 L1534.0,1582.8 L1535.6,1584.0 L1537.2,1585.1 L1538.8,1586.3 L1540.4,1587.4 L1542.1,1588.4 L1543.7,1589.5 L1545.4,1590.5 L1547.1,1591.5 L1548.8,1592.5 L1550.6,1593.5 L1552.3,1594.4 L1554.1,1595.3 L1555.8,1596.2 L1557.6,1597.1 L1559.5,1597.9 L1561.3,1598.7 L1563.2,1599.5 L1565.0,1600.2 L1566.9,1601.0 L1568.8,1601.7 L1570.7,1602.3 L1572.7,1603.0 L1574.7,1603.6 L1576.6,1604.2 L1578.6,1604.8 L1580.7,1605.3 L1582.7,1605.8 L1584.8,1606.3 L1586.8,1606.7 L1588.9,1607.1 L1591.1,1607.5"/>
</g>
<g clip-path="url(#clipc)" fill="none" stroke-width="6.8" stroke-linejoin="round" stroke-linecap="butt">
<path stroke="#000000" d="M1607.0,1137.0 L1608.7,1136.1 L1610.6,1135.4 L1612.4,1134.8 L1614.4,1134.2 L1616.3,1133.7 L1618.3,1133.2 L1620.2,1132.6 L1622.1,1132.0 L1624.0,1131.4 L1625.9,1130.7 L1627.8,1129.9 L1629.6,1129.2 L1631.4,1128.3 L1633.1,1127.5 L1634.9,1126.5 L1636.6,1125.6 L1638.3,1124.6 L1639.9,1123.5 L1641.5,1122.4 L1643.1,1121.3 L1644.7,1120.1 L1646.2,1118.8 L1647.7,1117.5 L1649.2,1116.2 L1650.6,1114.8 L1652.0,1113.4 L1653.3,1112.0 L1654.7,1110.5 L1656.0,1109.0 L1657.3,1107.4 L1658.5,1105.9 L1659.8,1104.3 L1661.1,1102.8 L1662.4,1101.2 L1663.6,1099.6 L1664.9,1098.0 L1666.2,1096.5 L1667.6,1094.9 L1668.9,1093.4 L1670.3,1091.9 L1671.7,1090.5 L1673.2,1089.1 L1674.6,1087.7 L1676.2,1086.3 L1677.7,1085.0 L1679.2,1083.7 L1680.7,1082.3 L1682.1,1081.0 L1683.4,1079.6 L1684.7,1078.1 L1685.8,1076.5 L1686.8,1074.9 L1687.6,1073.1 L1688.4,1071.3 L1689.0,1069.4 L1689.5,1067.4 L1690.0,1065.4 L1690.5,1063.4 L1691.0,1061.4 L1691.5,1059.4 L1692.1,1057.5 L1692.9,1055.6 L1693.7,1053.8 L1694.5,1052.0 L1695.5,1050.3 L1696.5,1048.6 L1697.6,1047.0 L1698.7,1045.4 L1699.9,1043.8 L1701.1,1042.2 L1702.4,1040.7 L1703.7,1039.1 L1705.0,1037.6 L1706.3,1036.1 L1707.6,1034.5 L1708.9,1033.0 L1710.2,1031.5 L1711.5,1029.9 L1712.7,1028.3 L1713.9,1026.7 L1715.1,1025.1 L1716.3,1023.4 L1717.4,1021.8 L1718.5,1020.1 L1719.6,1018.4 L1720.6,1016.6 L1721.6,1014.9 L1722.6,1013.1 L1723.5,1011.3 L1724.3,1009.5 L1725.2,1007.7 L1725.9,1005.9 L1726.7,1004.0 L1727.3,1002.2 L1728.0,1000.3 L1728.5,998.4 L1729.1,996.5 L1729.5,994.5 L1730.0,992.6 L1730.4,990.6 L1730.8,988.7 L1731.2,986.7 L1731.6,984.7 L1731.9,982.7 L1732.2,980.8 L1732.6,978.8 L1732.9,976.8 L1733.2,974.8 L1733.6,972.8 L1734.0,970.9 L1734.4,968.9 L1734.8,966.9 L1735.2,965.0 L1735.7,963.0 L1736.2,961.1 L1736.8,959.2 L1737.3,957.3 L1738.0,955.4 L1738.6,953.5 L1739.3,951.6 L1740.0,949.7 L1740.7,947.9 L1741.4,946.0 L1742.2,944.1 L1742.9,942.3 L1743.7,940.4 L1744.5,938.6 L1745.3,936.7 L1746.1,934.8 L1746.8,933.0 L1747.6,931.1 L1748.4,929.3 L1749.1,927.4 L1749.9,925.6 L1750.6,923.7 L1751.3,921.8 L1752.0,920.0 L1752.7,918.1 L1753.4,916.2 L1754.1,914.3 L1754.7,912.4 L1755.4,910.5 L1756.0,908.7 L1756.6,906.8 L1757.2,904.9 L1757.8,903.0 L1758.4,901.1 L1759.0,899.1 L1759.5,897.2 L1760.1,895.3 L1760.6,893.4 L1761.2,891.5 L1761.7,889.6 L1762.2,887.6 L1762.7,885.7 L1763.2,883.8 L1763.7,881.9 L1764.2,879.9 L1764.7,878.0 L1765.1,876.1 L1765.6,874.1 L1766.0,872.2 L1766.5,870.2 L1766.9,868.3 L1767.3,866.3 L1767.7,864.4 L1768.2,862.4 L1768.6,860.5 L1769.0,858.5 L1769.4,856.6 L1769.8,854.6 L1770.1,852.7 L1770.5,850.7 L1770.9,848.7 L1771.3,846.8 L1771.6,844.8 L1772.0,842.9 L1772.3,840.9 L1772.7,838.9 L1773.1,837.0 L1773.4,835.0 L1773.7,833.0 L1774.1,831.1 L1774.4,829.1 L1774.8,827.1 L1775.1,825.2 L1775.4,823.2 L1775.8,821.2 L1776.1,819.2 L1776.4,817.3 L1776.7,815.3 L1777.1,813.3 L1777.4,811.4 L1777.7,809.4 L1778.0,807.4 L1778.4,805.4 L1778.7,803.5 L1779.0,801.5 L1779.3,799.5 L1779.7,797.6 L1780.0,795.6 L1780.3,793.6 L1780.6,791.6 L1781.0,789.7 L1781.3,787.7 L1781.6,785.7 L1782.0,783.8 L1782.3,781.8 L1782.7,779.8 L1783.0,777.9 L1783.4,775.9 L1783.7,774.0 L1784.1,772.0 L1784.4,770.0 L1784.8,768.1 L1785.2,766.1 L1785.6,764.2 L1785.9,762.2 L1786.3,760.3 L1786.7,758.3 L1787.1,756.4 L1787.5,754.4 L1787.9,752.5 L1788.3,750.5 L1788.8,748.6 L1789.2,746.6 L1789.6,744.7 L1790.1,742.7 L1790.6,740.8 L1791.0,738.9 L1791.5,736.9 L1792.0,735.0 L1792.5,733.1 L1793.0,731.2 L1793.5,729.2 L1794.0,727.3 L1794.6,725.4 L1795.1,723.5 L1795.6,721.6 L1796.2,719.6 L1796.7,717.7 L1797.3,715.8 L1797.8,713.9 L1798.4,712.0 L1798.9,710.0 L1799.4,708.1 L1800.0,706.2 L1800.5,704.3 L1801.0,702.3 L1801.4,700.4 L1801.9,698.5 L1802.4,696.5 L1802.8,694.6 L1803.2,692.6 L1803.6,690.7 L1804.0,688.7 L1804.3,686.8 L1804.6,684.8 L1805.0,682.8 L1805.2,680.8 L1805.5,678.9 L1805.8,676.9 L1806.0,674.9 L1806.3,672.9 L1806.5,670.9 L1806.7,668.9 L1806.9,666.9 L1807.1,664.9 L1807.3,662.9 L1807.5,660.9 L1807.7,659.0 L1807.9,657.0 L1808.1,655.0 L1808.3,653.0 L1808.6,651.0 L1808.8,649.0 L1809.0,647.0 L1809.3,645.0 L1809.5,643.0 L1809.8,641.1 L1810.1,639.1 L1810.4,637.1 L1810.8,635.2 L1811.1,633.2 L1811.5,631.2 L1811.9,629.3 L1812.3,627.4 L1812.8,625.4 L1813.3,623.5 L1813.8,621.6 L1814.4,619.6 L1814.9,617.7 L1815.5,615.8 L1816.1,613.9 L1816.7,612.0 L1817.3,610.1 L1817.9,608.2 L1818.6,606.3 L1819.2,604.4 L1819.8,602.5 L1820.5,600.6 L1821.1,598.7 L1821.7,596.8 L1822.3,594.9 L1822.9,593.0 L1823.4,591.1 L1824.0,589.1 L1824.5,587.2 L1825.0,585.3 L1825.5,583.4 L1825.9,581.4 L1826.3,579.5 L1826.7,577.5 L1827.1,575.6 L1827.5,573.6 L1827.8,571.6 L1828.2,569.7 L1828.5,567.7 L1828.8,565.7 L1829.1,563.7 L1829.4,561.8 L1829.6,559.8 L1829.9,557.8 L1830.1,555.8 L1830.3,553.8 L1830.6,551.8 L1830.8,549.8 L1831.0,547.8 L1831.2,545.8 L1831.4,543.8 L1831.7,541.8 L1831.9,539.9 L1832.1,537.9 L1832.3,535.9 L1832.5,533.9 L1832.7,531.9 L1833.0,529.9 L1833.2,527.9 L1833.4,525.9 L1833.6,523.9 L1833.9,521.9 L1834.1,519.9 L1834.3,518.0 L1834.6,516.0 L1834.8,514.0 L1835.1,512.0 L1835.3,510.0 L1835.6,508.0 L1835.8,506.1 L1836.1,504.1 L1836.3,502.1 L1836.6,500.1 L1836.8,498.1 L1837.1,496.2 L1837.4,494.2 L1837.6,492.2 L1837.9,490.2 L1838.2,488.2 L1838.4,486.3 L1838.7,484.3 L1839.0,482.3 L1839.2,480.3 L1839.5,478.3 L1839.8,476.4 L1840.0,474.4 L1840.3,472.4 L1840.6,470.4 L1840.8,468.5 L1841.1,466.5 L1841.4,464.5 L1841.6,462.5 L1841.9,460.6 L1842.2,458.6 L1842.5,456.6 L1842.7,454.6 L1843.0,452.7 L1843.3,450.7 L1843.5,448.7 L1843.8,446.7 L1844.1,444.7 L1844.3,442.8 L1844.6,440.8 L1844.8,438.8 L1845.1,436.8 L1845.4,434.9 L1845.6,432.9 L1845.9,430.9 L1846.1,428.9 L1846.4,426.9 L1846.6,425.0 L1846.9,423.0 L1847.1,421.0 L1847.4,419.0 L1847.6,417.0 L1847.9,415.1 L1848.1,413.1 L1848.4,411.1 L1848.7,409.1 L1848.9,407.1 L1849.2,405.2 L1849.4,403.2 L1849.7,401.2 L1849.9,399.2 L1850.2,397.2 L1850.5,395.2 L1850.7,393.3 L1851.0,391.3 L1851.3,389.3 L1851.5,387.3 L1851.8,385.4 L1852.1,383.4 L1852.3,381.4 L1852.6,379.4 L1852.9,377.4 L1853.2,375.5 L1853.5,373.5 L1853.8,371.5 L1854.1,369.5 L1854.4,367.6 L1854.7,365.6 L1855.0,363.6 L1855.3,361.7 L1855.6,359.7 L1856.0,357.7 L1856.3,355.7 L1856.6,353.8 L1857.0,351.8 L1857.3,349.8 L1857.7,347.9 L1858.0,345.9 L1858.4,343.9 L1858.8,342.0 L1859.1,340.0 L1859.5,338.1 L1859.9,336.1 L1860.3,334.1 L1860.7,332.2 L1861.2,330.2 L1861.6,328.3 L1862.1,326.4 L1862.6,324.4 L1863.1,322.5 L1863.7,320.6 L1864.2,318.7 L1864.8,316.8 L1865.5,314.9 L1866.1,313.0 L1866.8,311.2 L1867.6,309.3 L1868.3,307.5 L1869.1,305.6 L1869.9,303.8 L1870.7,302.0 L1871.5,300.2 L1872.3,298.3 L1873.1,296.5 L1873.8,294.7 L1874.5,292.8 L1875.2,291.0 L1875.9,289.1 L1876.5,287.2 L1877.0,285.3 L1877.5,283.4 L1877.9,281.5 L1878.3,279.5 L1878.6,277.6 L1878.9,275.6 L1879.2,273.6 L1879.4,271.6 L1879.6,269.6 L1879.8,267.7 L1880.0,265.6 L1880.2,263.6 L1880.4,261.6 L1880.5,259.6 L1880.7,257.6 L1880.9,255.6 L1881.1,253.6 L1881.3,251.6 L1881.6,249.6 L1881.9,247.6 L1882.2,245.6 L1882.6,243.7 L1883.0,241.7 L1883.4,239.8 L1883.9,237.8 L1884.4,235.9 L1885.0,234.0 L1885.6,232.1 L1886.2,230.2 L1886.9,228.3 L1887.5,226.4 L1888.2,224.5 L1888.9,222.6 L1889.6,220.7 L1890.3,218.9 L1891.0,217.0 L1891.7,215.1 L1892.3,213.2 L1893.0,211.3 L1893.7,209.5 L1894.3,207.6 L1895.0,205.7 L1895.6,203.8 L1896.3,201.9 L1896.9,200.0 L1897.5,198.1 L1898.1,196.2 L1898.7,194.4 L1899.3,192.5 L1899.9,190.6 L1900.5,188.7 L1901.1,186.8 L1901.7,184.9 L1902.3,183.0 L1902.9,181.1 L1903.5,179.2 L1904.2,177.3 L1904.8,175.4 L1905.4,173.5 L1906.0,171.7 L1906.7,169.8 L1907.3,167.9 L1908.0,166.0 L1908.6,164.1 L1909.3,162.2 L1910.0,160.3 L1910.7,158.5 L1911.4,156.6 L1912.1,154.7 L1912.9,152.8 L1913.6,150.9 L1914.4,149.1 L1915.2,147.2 L1916.0,145.3 L1916.9,143.5 L1917.7,141.6 L1918.5,139.8 L1919.2,137.9 L1919.9,136.1 L1920.5,134.3 L1921.0,132.4 L1921.4,130.6 L1921.8,128.9 L1922.0,127.1 L1922.1,125.3 L1922.1,123.5 L1922.0,121.7 L1922.0,119.8 L1921.9,117.8 L1921.7,115.8 L1921.7,113.7 L1921.6,111.5 L1921.6,109.2 L1921.7,106.7 L1921.9,104.1 L1922.1,101.4 L1922.5,98.6 L1923.0,95.9 L1923.7,93.3 L1924.4,90.9 L1925.3,88.8 L1926.3,87.1 L1927.5,85.8 L1928.8,85.1 L1930.2,84.9 L1931.7,85.3 L1933.1,86.0 L1934.6,87.2 L1936.1,88.4 L1937.5,89.5 L1938.9,90.3 L1940.2,90.4 L1941.4,90.0 L1942.7,89.1 L1943.9,87.6 L1945.1,85.7 L1946.3,83.5 L1947.5,81.0 L1948.7,78.4 L1950.0,75.9 L1951.3,73.7 L1952.6,71.9 L1953.9,70.5 L1955.2,69.8 L1956.5,69.7 L1957.7,70.2 L1958.9,71.3 L1960.1,72.8 L1961.1,74.6 L1962.1,76.5 L1963.1,78.6 L1964.0,80.6 L1964.9,82.6 L1965.7,84.7 L1966.4,86.7 L1967.1,88.6 L1967.8,90.6 L1968.4,92.6 L1969.0,94.5 L1969.6,96.5 L1970.1,98.4 L1970.6,100.4 L1971.1,102.3 L1971.6,104.2 L1972.1,106.2 L1972.6,108.1 L1973.0,110.0 L1973.5,111.9 L1973.9,113.9 L1974.4,115.8 L1974.9,117.7 L1975.4,119.6 L1975.9,121.5 L1976.5,123.4 L1977.2,125.2 L1978.0,127.1 L1978.8,128.8 L1979.8,130.5 L1980.8,132.2 L1982.0,133.8 L1983.2,135.3 L1984.3,136.9 L1985.4,138.5 L1986.4,140.2 L1987.2,142.0 L1987.9,143.8 L1988.5,145.6 L1988.9,147.5 L1989.3,149.4 L1989.7,151.4 L1990.0,153.4 L1990.2,155.4 L1990.5,157.4 L1990.7,159.4 L1990.9,161.5 L1991.2,163.5 L1991.5,165.5 L1991.8,167.5 L1992.2,169.5 L1992.7,171.4 L1993.3,173.3 L1994.0,175.2 L1994.8,177.0 L1995.6,178.8 L1996.6,180.6 L1997.5,182.4 L1998.5,184.1 L1999.4,185.9 L2000.3,187.6 L2001.2,189.4 L2001.9,191.2 L2002.6,193.1 L2003.1,195.0 L2003.5,196.9 L2003.9,198.9 L2004.2,200.9 L2004.5,202.8 L2004.7,204.9 L2004.8,206.9 L2005.0,208.9 L2005.2,210.9 L2005.3,213.0 L2005.5,215.0 L2005.7,217.0 L2006.0,219.0 L2006.3,221.0 L2006.6,223.0 L2007.0,225.0 L2007.4,226.9 L2007.9,228.8 L2008.4,230.8 L2009.0,232.7 L2009.7,234.5 L2010.4,236.4 L2011.2,238.2 L2012.1,240.0 L2013.0,241.8 L2013.9,243.6 L2014.8,245.4 L2015.7,247.2 L2016.5,249.0 L2017.2,250.8 L2017.9,252.7 L2018.5,254.6 L2019.0,256.5 L2019.5,258.4 L2019.9,260.4 L2020.2,262.3 L2020.5,264.3 L2020.8,266.3 L2021.0,268.3 L2021.3,270.3 L2021.5,272.3 L2021.7,274.3 L2021.9,276.3 L2022.1,278.4 L2022.4,280.4 L2022.7,282.4 L2023.0,284.3 L2023.3,286.3 L2023.7,288.3 L2024.1,290.2 L2024.7,292.1 L2025.2,294.0 L2025.9,295.9 L2026.6,297.7 L2027.4,299.5 L2028.3,301.4 L2029.1,303.1 L2030.0,304.9 L2030.9,306.7 L2031.7,308.6 L2032.4,310.4 L2033.1,312.2 L2033.8,314.1 L2034.4,316.0 L2034.9,317.9 L2035.4,319.8 L2035.8,321.8 L2036.3,323.7 L2036.6,325.7 L2037.0,327.7 L2037.4,329.6 L2037.7,331.6 L2038.1,333.6 L2038.4,335.5 L2038.8,337.5 L2039.1,339.5 L2039.5,341.5 L2039.8,343.4 L2040.2,345.4 L2040.6,347.4 L2040.9,349.3 L2041.3,351.3 L2041.7,353.3 L2042.1,355.2 L2042.5,357.2 L2042.9,359.1 L2043.2,361.1 L2043.6,363.1 L2044.0,365.0 L2044.4,367.0 L2044.8,368.9 L2045.2,370.9 L2045.6,372.9 L2046.0,374.8 L2046.5,376.8 L2046.9,378.7 L2047.3,380.7 L2047.7,382.6 L2048.1,384.6 L2048.5,386.6 L2048.9,388.5 L2049.4,390.5 L2049.8,392.4 L2050.2,394.4 L2050.6,396.3 L2051.0,398.3 L2051.5,400.2 L2051.9,402.2 L2052.3,404.1 L2052.7,406.1 L2053.2,408.0 L2053.6,410.0 L2054.0,411.9 L2054.5,413.9 L2054.9,415.8 L2055.3,417.8 L2055.7,419.7 L2056.2,421.7 L2056.6,423.6 L2057.0,425.6 L2057.4,427.5 L2057.9,429.5 L2058.3,431.4 L2058.7,433.4 L2059.1,435.3 L2059.5,437.3 L2060.0,439.3 L2060.4,441.2 L2060.8,443.2 L2061.2,445.1 L2061.6,447.1 L2062.0,449.0 L2062.4,451.0 L2062.8,452.9 L2063.2,454.9 L2063.6,456.8 L2064.0,458.8 L2064.4,460.7 L2064.8,462.7 L2065.2,464.6 L2065.6,466.6 L2066.0,468.6 L2066.4,470.5 L2066.8,472.5 L2067.1,474.4 L2067.5,476.4 L2067.9,478.4 L2068.3,480.3 L2068.6,482.3 L2069.0,484.2 L2069.3,486.2 L2069.7,488.2 L2070.0,490.1 L2070.4,492.1 L2070.7,494.1 L2071.1,496.0 L2071.4,498.0 L2071.7,500.0 L2072.1,501.9 L2072.4,503.9 L2072.7,505.9 L2073.0,507.8 L2073.3,509.8 L2073.6,511.8 L2073.9,513.7 L2074.2,515.7 L2074.5,517.7 L2074.8,519.7 L2075.0,521.7 L2075.3,523.6 L2075.6,525.6 L2075.9,527.6 L2076.1,529.6 L2076.4,531.6 L2076.6,533.5 L2076.9,535.5 L2077.1,537.5 L2077.4,539.5 L2077.6,541.5 L2077.9,543.4 L2078.1,545.4 L2078.4,547.4 L2078.6,549.4 L2078.8,551.4 L2079.1,553.4 L2079.3,555.4 L2079.6,557.3 L2079.8,559.3 L2080.0,561.3 L2080.3,563.3 L2080.5,565.3 L2080.7,567.3 L2081.0,569.3 L2081.2,571.3 L2081.4,573.2 L2081.7,575.2 L2081.9,577.2 L2082.1,579.2 L2082.4,581.2 L2082.6,583.2 L2082.9,585.1 L2083.1,587.1 L2083.4,589.1 L2083.6,591.1 L2083.9,593.1 L2084.1,595.1 L2084.4,597.0 L2084.7,599.0 L2084.9,601.0 L2085.2,603.0 L2085.5,605.0 L2085.8,606.9 L2086.0,608.9 L2086.3,610.9 L2086.6,612.9 L2086.9,614.9 L2087.2,616.8 L2087.5,618.8 L2087.9,620.8 L2088.2,622.7 L2088.5,624.7 L2088.8,626.7 L2089.2,628.6 L2089.5,630.6 L2089.9,632.6 L2090.2,634.5 L2090.6,636.5 L2091.0,638.4 L2091.4,640.4 L2091.8,642.4 L2092.2,644.3 L2092.6,646.3 L2093.0,648.2 L2093.5,650.1 L2093.9,652.1 L2094.4,654.0 L2094.8,656.0 L2095.3,657.9 L2095.8,659.8 L2096.3,661.8 L2096.8,663.7 L2097.3,665.6 L2097.8,667.5 L2098.4,669.5 L2098.9,671.4 L2099.5,673.3 L2100.1,675.2 L2100.7,677.1 L2101.3,679.0 L2101.9,680.9 L2102.6,682.8 L2103.2,684.7 L2103.9,686.6 L2104.5,688.5 L2105.2,690.4 L2105.8,692.3 L2106.5,694.1 L2107.2,696.0 L2107.8,697.9 L2108.5,699.8 L2109.2,701.7 L2109.8,703.6 L2110.4,705.5 L2111.1,707.4 L2111.7,709.3 L2112.3,711.2 L2112.9,713.1 L2113.4,715.0 L2114.0,716.9 L2114.5,718.9 L2115.0,720.8 L2115.5,722.7 L2115.9,724.7 L2116.4,726.6 L2116.8,728.5 L2117.2,730.5 L2117.6,732.4 L2118.0,734.4 L2118.4,736.4 L2118.7,738.3 L2119.1,740.3 L2119.4,742.2 L2119.8,744.2 L2120.1,746.2 L2120.5,748.1 L2120.8,750.1 L2121.2,752.1 L2121.5,754.0 L2121.9,756.0 L2122.2,758.0 L2122.6,759.9 L2123.0,761.9 L2123.4,763.9 L2123.8,765.8 L2124.2,767.8 L2124.6,769.7 L2125.0,771.7 L2125.4,773.6 L2125.9,775.6 L2126.3,777.5 L2126.8,779.5 L2127.3,781.4 L2127.7,783.3 L2128.2,785.3 L2128.7,787.2 L2129.2,789.2 L2129.7,791.1 L2130.2,793.0 L2130.7,795.0 L2131.2,796.9 L2131.7,798.8 L2132.2,800.8 L2132.7,802.7 L2133.2,804.6 L2133.7,806.6 L2134.2,808.5 L2134.7,810.4 L2135.2,812.4 L2135.7,814.3 L2136.2,816.2 L2136.8,818.2 L2137.3,820.1 L2137.8,822.0 L2138.3,824.0 L2138.8,825.9 L2139.3,827.8 L2139.8,829.8 L2140.2,831.7 L2140.7,833.7 L2141.2,835.6 L2141.7,837.5 L2142.1,839.5 L2142.6,841.4 L2143.1,843.4 L2143.5,845.3 L2144.0,847.2 L2144.4,849.2 L2144.8,851.1 L2145.2,853.1 L2145.7,855.0 L2146.1,857.0 L2146.5,858.9 L2146.9,860.9 L2147.3,862.9 L2147.6,864.8 L2148.0,866.8 L2148.4,868.7 L2148.7,870.7 L2149.0,872.7 L2149.4,874.6 L2149.7,876.6 L2150.0,878.6 L2150.3,880.6 L2150.6,882.5 L2151.0,884.5 L2151.3,886.5 L2151.6,888.4 L2151.9,890.4 L2152.2,892.4 L2152.6,894.3 L2152.9,896.3 L2153.3,898.2 L2153.6,900.2 L2154.0,902.1 L2154.4,904.1 L2154.8,906.0 L2155.3,908.0 L2155.7,909.9 L2156.2,911.8 L2156.7,913.7 L2157.3,915.6 L2157.8,917.5 L2158.4,919.4 L2159.0,921.3 L2159.7,923.2 L2160.3,925.1 L2161.0,927.0 L2161.7,928.8 L2162.4,930.7 L2163.1,932.6 L2163.8,934.4 L2164.6,936.3 L2165.4,938.1 L2166.1,940.0 L2166.9,941.8 L2167.7,943.6 L2168.5,945.5 L2169.4,947.3 L2170.2,949.1 L2171.0,951.0 L2171.8,952.8 L2172.7,954.6 L2173.5,956.5 L2174.3,958.3 L2175.1,960.1 L2176.0,962.0 L2176.8,963.8 L2177.6,965.6 L2178.4,967.4 L2179.2,969.3 L2180.0,971.1 L2180.8,973.0 L2181.6,974.8 L2182.3,976.6 L2183.1,978.5 L2183.8,980.3 L2184.6,982.2 L2185.3,984.1 L2186.0,985.9 L2186.6,987.8 L2187.3,989.6 L2188.0,991.5 L2188.7,993.4 L2189.4,995.2 L2190.1,997.1 L2190.8,999.0 L2191.5,1000.8 L2192.2,1002.7 L2192.9,1004.5 L2193.7,1006.3 L2194.4,1008.2 L2195.2,1010.0 L2196.1,1011.8 L2196.9,1013.6 L2197.8,1015.4 L2198.6,1017.2 L2199.5,1019.0 L2200.4,1020.8 L2201.3,1022.6 L2202.3,1024.4 L2203.2,1026.2 L2204.1,1028.0 L2205.0,1029.8 L2205.9,1031.6 L2206.7,1033.4 L2207.6,1035.2 L2208.4,1037.1 L2209.2,1038.9 L2210.0,1040.7 L2210.8,1042.6 L2211.5,1044.5 L2212.3,1046.3 L2213.0,1048.1 L2213.8,1049.9 L2214.7,1051.6 L2215.8,1053.3 L2216.9,1054.8 L2218.3,1056.2 L2219.8,1057.5 L2221.3,1058.8 L2223.0,1060.0 L2224.7,1061.2 L2226.4,1062.4 L2228.0,1063.6 L2229.6,1064.9 L2231.0,1066.3 L2232.4,1067.8 L2233.7,1069.3 L2234.9,1070.9 L2236.1,1072.5 L2237.1,1074.2 L2238.1,1076.0 L2239.0,1077.8 L2239.9,1079.6 L2240.7,1081.5 L2241.5,1083.3 L2242.3,1085.2 L2243.2,1087.0 L2244.0,1088.8 L2245.0,1090.4 L2246.1,1092.0 L2247.3,1093.5 L2248.6,1094.8 L2250.0,1096.0 L2251.6,1097.1 L2253.2,1098.1 L2254.9,1099.1 L2256.7,1100.0 L2258.5,1100.9 L2260.3,1101.8 L2262.1,1102.6 L2264.0,1103.5 L2265.8,1104.4 L2267.7,1105.3 L2269.4,1106.3 L2271.2,1107.3 L2272.8,1108.4 L2274.4,1109.7 L2276.0,1110.9 L2277.5,1112.2 L2279.0,1113.6 L2280.4,1115.0 L2281.9,1116.4 L2283.3,1117.8 L2284.7,1119.1 L2286.2,1120.5 L2287.6,1121.8 L2289.1,1123.0 L2290.6,1124.2 L2292.2,1125.3 L2293.8,1126.4 L2295.4,1127.3 L2297.2,1128.1 L2299.0,1128.7 L2300.9,1129.3 L2302.9,1129.7 L2304.9,1130.1 L2306.9,1130.4 L2309.0,1130.6 L2311.1,1130.8 L2313.2,1131.0 L2315.3,1131.2 L2317.4,1131.4 L2319.5,1131.7 L2321.6,1131.9 L2323.6,1132.3 L2325.6,1132.7 L2327.6,1133.3 L2329.4,1133.9 L2331.2,1134.7 L2332.9,1135.7 L2334.5,1136.8 L2336.0,1138.1"/>
<path stroke="#ff0000" d="M1607.0,1311.8 L1608.8,1310.9 L1610.7,1310.1 L1612.5,1309.4 L1614.4,1308.7 L1616.3,1308.0 L1618.1,1307.4 L1620.0,1306.8 L1621.9,1306.2 L1623.8,1305.6 L1625.6,1305.0 L1627.5,1304.4 L1629.3,1303.7 L1631.2,1303.0 L1633.0,1302.3 L1634.8,1301.5 L1636.6,1300.7 L1638.4,1299.9 L1640.1,1299.0 L1641.8,1298.1 L1643.6,1297.2 L1645.3,1296.2 L1647.0,1295.2 L1648.6,1294.2 L1650.3,1293.1 L1651.9,1292.0 L1653.5,1290.9 L1655.1,1289.8 L1656.7,1288.6 L1658.2,1287.4 L1659.8,1286.2 L1661.3,1284.9 L1662.8,1283.7 L1664.3,1282.4 L1665.8,1281.1 L1667.3,1279.8 L1668.8,1278.4 L1670.3,1277.1 L1671.8,1275.8 L1673.2,1274.4 L1674.7,1273.0 L1676.1,1271.6 L1677.6,1270.3 L1679.1,1268.9 L1680.5,1267.5 L1681.9,1266.0 L1683.2,1264.5 L1684.5,1263.0 L1685.7,1261.5 L1686.8,1259.9 L1687.8,1258.2 L1688.7,1256.4 L1689.5,1254.6 L1690.2,1252.8 L1690.9,1250.9 L1691.6,1249.0 L1692.3,1247.2 L1693.0,1245.3 L1693.9,1243.6 L1694.8,1241.8 L1695.8,1240.2 L1696.9,1238.6 L1698.1,1237.0 L1699.4,1235.5 L1700.7,1234.0 L1702.1,1232.5 L1703.5,1231.1 L1705.0,1229.7 L1706.4,1228.2 L1707.9,1226.8 L1709.4,1225.4 L1710.8,1224.0 L1712.2,1222.5 L1713.6,1221.1 L1715.0,1219.6 L1716.3,1218.0 L1717.5,1216.5 L1718.7,1214.9 L1719.8,1213.2 L1720.8,1211.5 L1721.8,1209.8 L1722.8,1208.1 L1723.7,1206.3 L1724.5,1204.5 L1725.3,1202.7 L1726.1,1200.8 L1726.9,1199.0 L1727.6,1197.1 L1728.3,1195.2 L1728.9,1193.3 L1729.6,1191.4 L1730.2,1189.5 L1730.8,1187.5 L1731.4,1185.6 L1731.9,1183.7 L1732.5,1181.8 L1733.1,1179.9 L1733.6,1177.9 L1734.2,1176.0 L1734.7,1174.1 L1735.3,1172.2 L1735.9,1170.3 L1736.4,1168.4 L1737.0,1166.5 L1737.6,1164.6 L1738.2,1162.7 L1738.8,1160.9 L1739.4,1159.0 L1740.1,1157.1 L1740.7,1155.3 L1741.4,1153.4 L1742.1,1151.5 L1742.9,1149.7 L1743.6,1147.9 L1744.4,1146.0 L1745.2,1144.2 L1746.0,1142.4 L1746.9,1140.6 L1747.7,1138.8 L1748.6,1136.9 L1749.5,1135.1 L1750.4,1133.3 L1751.3,1131.5 L1752.1,1129.7 L1753.0,1127.9 L1753.9,1126.1 L1754.7,1124.2 L1755.6,1122.4 L1756.4,1120.6 L1757.2,1118.7 L1757.9,1116.9 L1758.7,1115.0 L1759.4,1113.2 L1760.1,1111.3 L1760.8,1109.4 L1761.4,1107.6 L1762.0,1105.7 L1762.6,1103.8 L1763.2,1101.9 L1763.8,1100.0 L1764.3,1098.0 L1764.8,1096.1 L1765.3,1094.2 L1765.8,1092.3 L1766.3,1090.3 L1766.8,1088.4 L1767.2,1086.5 L1767.6,1084.5 L1768.1,1082.6 L1768.5,1080.6 L1768.8,1078.6 L1769.2,1076.7 L1769.6,1074.7 L1770.0,1072.7 L1770.3,1070.8 L1770.7,1068.8 L1771.0,1066.8 L1771.3,1064.9 L1771.7,1062.9 L1772.0,1060.9 L1772.3,1058.9 L1772.6,1056.9 L1773.0,1055.0 L1773.3,1053.0 L1773.6,1051.0 L1773.9,1049.0 L1774.2,1047.0 L1774.6,1045.0 L1774.9,1043.1 L1775.2,1041.1 L1775.5,1039.1 L1775.9,1037.1 L1776.2,1035.1 L1776.6,1033.2 L1776.9,1031.2 L1777.3,1029.2 L1777.7,1027.3 L1778.1,1025.3 L1778.5,1023.3 L1778.9,1021.4 L1779.3,1019.4 L1779.7,1017.5 L1780.2,1015.5 L1780.6,1013.6 L1781.1,1011.6 L1781.5,1009.7 L1782.0,1007.7 L1782.5,1005.8 L1783.0,1003.9 L1783.5,1001.9 L1784.0,1000.0 L1784.5,998.1 L1785.0,996.1 L1785.5,994.2 L1786.0,992.3 L1786.5,990.4 L1787.0,988.4 L1787.5,986.5 L1788.0,984.6 L1788.5,982.6 L1789.1,980.7 L1789.6,978.8 L1790.1,976.9 L1790.6,974.9 L1791.1,973.0 L1791.6,971.1 L1792.1,969.1 L1792.6,967.2 L1793.1,965.3 L1793.6,963.4 L1794.1,961.4 L1794.6,959.5 L1795.1,957.6 L1795.6,955.6 L1796.0,953.7 L1796.5,951.7 L1796.9,949.8 L1797.4,947.8 L1797.8,945.9 L1798.2,943.9 L1798.6,942.0 L1799.0,940.0 L1799.4,938.1 L1799.8,936.1 L1800.1,934.1 L1800.5,932.2 L1800.8,930.2 L1801.1,928.2 L1801.5,926.2 L1801.8,924.3 L1802.1,922.3 L1802.4,920.3 L1802.7,918.3 L1803.0,916.3 L1803.3,914.3 L1803.6,912.4 L1803.8,910.4 L1804.1,908.4 L1804.4,906.4 L1804.7,904.4 L1805.1,902.5 L1805.4,900.5 L1805.7,898.5 L1806.0,896.5 L1806.4,894.6 L1806.8,892.6 L1807.1,890.6 L1807.5,888.7 L1808.0,886.7 L1808.4,884.8 L1808.8,882.8 L1809.3,880.9 L1809.8,879.0 L1810.3,877.1 L1810.8,875.1 L1811.3,873.2 L1811.9,871.3 L1812.4,869.4 L1812.9,867.5 L1813.5,865.5 L1814.1,863.6 L1814.6,861.7 L1815.2,859.8 L1815.7,857.9 L1816.3,856.0 L1816.8,854.1 L1817.4,852.2 L1817.9,850.2 L1818.5,848.3 L1819.0,846.4 L1819.5,844.5 L1819.9,842.5 L1820.4,840.6 L1820.9,838.7 L1821.3,836.7 L1821.7,834.8 L1822.2,832.8 L1822.6,830.9 L1822.9,828.9 L1823.3,827.0 L1823.7,825.0 L1824.1,823.0 L1824.4,821.1 L1824.8,819.1 L1825.1,817.1 L1825.4,815.2 L1825.7,813.2 L1826.1,811.2 L1826.4,809.2 L1826.7,807.2 L1827.0,805.3 L1827.3,803.3 L1827.6,801.3 L1827.9,799.3 L1828.2,797.4 L1828.5,795.4 L1828.8,793.4 L1829.1,791.4 L1829.4,789.4 L1829.6,787.5 L1829.9,785.5 L1830.2,783.5 L1830.5,781.5 L1830.8,779.5 L1831.1,777.6 L1831.4,775.6 L1831.7,773.6 L1832.0,771.6 L1832.3,769.7 L1832.6,767.7 L1832.9,765.7 L1833.2,763.7 L1833.5,761.7 L1833.8,759.8 L1834.1,757.8 L1834.3,755.8 L1834.6,753.8 L1834.9,751.9 L1835.2,749.9 L1835.5,747.9 L1835.8,745.9 L1836.1,744.0 L1836.4,742.0 L1836.7,740.0 L1837.0,738.0 L1837.3,736.0 L1837.5,734.1 L1837.8,732.1 L1838.1,730.1 L1838.4,728.1 L1838.7,726.2 L1839.0,724.2 L1839.3,722.2 L1839.6,720.2 L1839.8,718.3 L1840.1,716.3 L1840.4,714.3 L1840.7,712.3 L1841.0,710.4 L1841.3,708.4 L1841.6,706.4 L1841.9,704.4 L1842.1,702.5 L1842.4,700.5 L1842.7,698.5 L1843.0,696.5 L1843.3,694.6 L1843.6,692.6 L1843.8,690.6 L1844.1,688.6 L1844.4,686.6 L1844.7,684.7 L1845.0,682.7 L1845.2,680.7 L1845.5,678.7 L1845.8,676.8 L1846.1,674.8 L1846.4,672.8 L1846.6,670.8 L1846.9,668.9 L1847.2,666.9 L1847.5,664.9 L1847.8,662.9 L1848.0,660.9 L1848.3,659.0 L1848.6,657.0 L1848.9,655.0 L1849.1,653.0 L1849.4,651.1 L1849.7,649.1 L1850.0,647.1 L1850.2,645.1 L1850.5,643.1 L1850.8,641.2 L1851.1,639.2 L1851.3,637.2 L1851.6,635.2 L1851.9,633.2 L1852.1,631.3 L1852.4,629.3 L1852.7,627.3 L1853.0,625.3 L1853.2,623.3 L1853.5,621.4 L1853.8,619.4 L1854.0,617.4 L1854.3,615.4 L1854.6,613.4 L1854.8,611.4 L1855.1,609.5 L1855.4,607.5 L1855.6,605.5 L1855.9,603.5 L1856.2,601.5 L1856.4,599.5 L1856.7,597.6 L1857.0,595.6 L1857.3,593.6 L1857.6,591.6 L1857.9,589.6 L1858.2,587.7 L1858.5,585.7 L1858.8,583.7 L1859.1,581.8 L1859.5,579.8 L1859.9,577.8 L1860.2,575.9 L1860.6,573.9 L1861.0,572.0 L1861.5,570.0 L1861.9,568.1 L1862.4,566.2 L1862.9,564.2 L1863.4,562.3 L1863.9,560.4 L1864.5,558.5 L1865.0,556.5 L1865.6,554.6 L1866.2,552.7 L1866.8,550.8 L1867.4,548.9 L1868.0,547.0 L1868.5,545.1 L1869.1,543.2 L1869.7,541.3 L1870.3,539.4 L1870.9,537.5 L1871.4,535.6 L1872.0,533.7 L1872.5,531.7 L1873.1,529.8 L1873.6,527.9 L1874.0,526.0 L1874.5,524.0 L1875.0,522.1 L1875.4,520.2 L1875.8,518.2 L1876.2,516.3 L1876.6,514.3 L1877.0,512.4 L1877.4,510.4 L1877.7,508.5 L1878.1,506.5 L1878.4,504.6 L1878.7,502.6 L1879.0,500.7 L1879.4,498.7 L1879.6,496.7 L1879.9,494.7 L1880.2,492.8 L1880.5,490.8 L1880.7,488.8 L1881.0,486.8 L1881.3,484.9 L1881.5,482.9 L1881.7,480.9 L1882.0,478.9 L1882.2,476.9 L1882.4,474.9 L1882.7,472.9 L1882.9,471.0 L1883.1,469.0 L1883.4,467.0 L1883.6,465.0 L1883.8,463.0 L1884.0,461.0 L1884.3,459.0 L1884.5,457.0 L1884.7,455.0 L1885.0,453.0 L1885.2,451.0 L1885.5,449.0 L1885.8,447.0 L1886.0,445.1 L1886.3,443.1 L1886.7,441.1 L1887.0,439.1 L1887.3,437.2 L1887.7,435.2 L1888.1,433.2 L1888.5,431.3 L1888.9,429.4 L1889.3,427.4 L1889.8,425.5 L1890.3,423.6 L1890.8,421.7 L1891.4,419.8 L1892.0,417.9 L1892.6,416.0 L1893.2,414.1 L1893.8,412.2 L1894.4,410.3 L1895.1,408.4 L1895.7,406.6 L1896.4,404.7 L1897.0,402.8 L1897.6,400.9 L1898.3,399.0 L1898.9,397.1 L1899.5,395.2 L1900.2,393.3 L1900.7,391.4 L1901.3,389.4 L1901.9,387.5 L1902.5,385.6 L1903.0,383.6 L1903.6,381.7 L1904.1,379.7 L1904.6,377.7 L1905.2,375.8 L1905.7,373.9 L1906.2,371.9 L1906.8,370.0 L1907.3,368.0 L1907.9,366.1 L1908.4,364.2 L1909.0,362.3 L1909.5,360.4 L1910.1,358.5 L1910.7,356.6 L1911.3,354.8 L1911.9,352.9 L1912.6,351.1 L1913.2,349.2 L1913.8,347.4 L1914.4,345.6 L1915.1,343.7 L1915.7,341.9 L1916.2,340.1 L1916.8,338.2 L1917.4,336.3 L1917.9,334.5 L1918.4,332.6 L1918.8,330.6 L1919.3,328.7 L1919.6,326.7 L1920.0,324.7 L1920.3,322.7 L1920.5,320.6 L1920.7,318.5 L1920.9,316.4 L1921.0,314.3 L1921.1,312.2 L1921.2,310.0 L1921.3,307.9 L1921.4,305.7 L1921.4,303.6 L1921.5,301.4 L1921.7,299.3 L1921.8,297.2 L1922.0,295.1 L1922.2,293.1 L1922.5,291.1 L1922.8,289.2 L1923.2,287.2 L1923.6,285.4 L1924.1,283.6 L1924.7,281.9 L1925.4,280.2 L1926.2,278.6 L1927.1,277.0 L1928.0,275.5 L1929.0,274.0 L1930.0,272.5 L1931.0,271.0 L1932.1,269.5 L1933.2,268.0 L1934.2,266.4 L1935.3,264.8 L1936.3,263.1 L1937.3,261.3 L1938.2,259.4 L1939.1,257.5 L1940.0,255.5 L1940.8,253.4 L1941.6,251.4 L1942.4,249.3 L1943.2,247.2 L1944.0,245.2 L1944.8,243.1 L1945.6,241.1 L1946.4,239.2 L1947.3,237.3 L1948.1,235.6 L1949.0,233.9 L1950.0,232.3 L1950.9,230.9 L1952.0,229.6 L1953.1,228.4 L1954.2,227.4 L1955.4,226.6 L1956.7,226.0 L1958.1,225.6 L1959.5,225.6 L1961.0,225.8 L1962.4,226.4 L1963.9,227.2 L1965.3,228.4 L1966.6,229.8 L1967.8,231.4 L1968.9,233.2 L1969.9,235.2 L1970.9,237.2 L1971.7,239.4 L1972.6,241.6 L1973.4,243.7 L1974.2,245.9 L1975.0,247.9 L1975.9,249.8 L1976.7,251.6 L1977.5,253.4 L1978.4,255.1 L1979.3,256.7 L1980.3,258.3 L1981.2,259.8 L1982.3,261.3 L1983.3,262.7 L1984.2,264.2 L1985.1,265.8 L1985.9,267.5 L1986.6,269.2 L1987.2,271.0 L1987.7,272.9 L1988.1,274.8 L1988.6,276.7 L1989.0,278.7 L1989.4,280.6 L1989.9,282.6 L1990.4,284.6 L1990.9,286.5 L1991.5,288.4 L1992.2,290.3 L1992.9,292.1 L1993.6,293.9 L1994.4,295.7 L1995.1,297.5 L1995.9,299.3 L1996.7,301.1 L1997.5,302.9 L1998.3,304.7 L1999.0,306.5 L1999.7,308.3 L2000.3,310.2 L2001.0,312.1 L2001.6,313.9 L2002.1,315.8 L2002.7,317.7 L2003.2,319.6 L2003.7,321.5 L2004.3,323.4 L2004.7,325.4 L2005.2,327.3 L2005.7,329.2 L2006.2,331.1 L2006.7,333.1 L2007.2,335.0 L2007.7,336.9 L2008.2,338.9 L2008.7,340.8 L2009.3,342.7 L2009.8,344.6 L2010.4,346.5 L2011.0,348.4 L2011.6,350.3 L2012.2,352.2 L2012.9,354.0 L2013.5,355.9 L2014.2,357.8 L2014.9,359.7 L2015.5,361.5 L2016.2,363.4 L2016.9,365.3 L2017.5,367.2 L2018.2,369.0 L2018.8,370.9 L2019.5,372.8 L2020.1,374.7 L2020.7,376.6 L2021.2,378.5 L2021.8,380.4 L2022.3,382.4 L2022.9,384.3 L2023.4,386.2 L2024.0,388.1 L2024.5,390.0 L2025.2,391.9 L2025.9,393.8 L2026.6,395.6 L2027.5,397.3 L2028.4,399.1 L2029.4,400.8 L2030.4,402.4 L2031.4,404.1 L2032.5,405.8 L2033.4,407.4 L2034.3,409.1 L2035.2,410.9 L2035.9,412.7 L2036.6,414.5 L2037.2,416.3 L2037.7,418.2 L2038.2,420.1 L2038.7,422.0 L2039.1,423.9 L2039.4,425.9 L2039.7,427.9 L2040.0,429.8 L2040.3,431.8 L2040.5,433.8 L2040.8,435.8 L2041.0,437.8 L2041.2,439.9 L2041.5,441.9 L2041.7,443.9 L2042.0,445.9 L2042.2,447.9 L2042.5,449.9 L2042.8,451.9 L2043.1,453.9 L2043.4,455.9 L2043.7,457.8 L2044.0,459.8 L2044.4,461.8 L2044.7,463.8 L2045.0,465.8 L2045.4,467.7 L2045.8,469.7 L2046.1,471.7 L2046.5,473.6 L2046.9,475.6 L2047.2,477.6 L2047.6,479.5 L2048.0,481.5 L2048.4,483.5 L2048.8,485.4 L2049.2,487.4 L2049.7,489.3 L2050.1,491.3 L2050.5,493.2 L2050.9,495.2 L2051.4,497.1 L2051.8,499.1 L2052.2,501.0 L2052.7,503.0 L2053.1,504.9 L2053.5,506.9 L2054.0,508.8 L2054.4,510.8 L2054.9,512.7 L2055.3,514.7 L2055.7,516.6 L2056.2,518.5 L2056.6,520.5 L2057.1,522.4 L2057.5,524.4 L2058.0,526.3 L2058.4,528.3 L2058.8,530.2 L2059.3,532.2 L2059.7,534.1 L2060.2,536.0 L2060.6,538.0 L2061.0,539.9 L2061.4,541.9 L2061.9,543.8 L2062.3,545.8 L2062.7,547.7 L2063.1,549.7 L2063.5,551.6 L2063.9,553.6 L2064.3,555.6 L2064.8,557.5 L2065.2,559.5 L2065.5,561.4 L2065.9,563.4 L2066.3,565.3 L2066.7,567.3 L2067.1,569.3 L2067.5,571.2 L2067.9,573.2 L2068.2,575.1 L2068.6,577.1 L2069.0,579.1 L2069.3,581.0 L2069.7,583.0 L2070.1,585.0 L2070.4,586.9 L2070.8,588.9 L2071.1,590.9 L2071.4,592.8 L2071.8,594.8 L2072.1,596.8 L2072.4,598.7 L2072.8,600.7 L2073.1,602.7 L2073.4,604.7 L2073.7,606.6 L2074.0,608.6 L2074.3,610.6 L2074.6,612.6 L2074.9,614.6 L2075.2,616.5 L2075.5,618.5 L2075.8,620.5 L2076.0,622.5 L2076.3,624.5 L2076.6,626.4 L2076.8,628.4 L2077.1,630.4 L2077.4,632.4 L2077.6,634.4 L2077.8,636.4 L2078.1,638.4 L2078.3,640.4 L2078.5,642.4 L2078.8,644.3 L2079.0,646.3 L2079.2,648.3 L2079.4,650.3 L2079.7,652.3 L2079.9,654.3 L2080.1,656.3 L2080.3,658.3 L2080.5,660.3 L2080.8,662.3 L2081.0,664.3 L2081.2,666.3 L2081.4,668.3 L2081.7,670.3 L2081.9,672.2 L2082.1,674.2 L2082.3,676.2 L2082.6,678.2 L2082.8,680.2 L2083.1,682.2 L2083.3,684.2 L2083.6,686.2 L2083.8,688.1 L2084.1,690.1 L2084.3,692.1 L2084.6,694.1 L2084.9,696.1 L2085.2,698.0 L2085.5,700.0 L2085.8,702.0 L2086.1,703.9 L2086.4,705.9 L2086.7,707.9 L2087.1,709.8 L2087.4,711.8 L2087.8,713.8 L2088.1,715.7 L2088.5,717.7 L2088.9,719.6 L2089.3,721.6 L2089.7,723.5 L2090.1,725.5 L2090.5,727.4 L2091.0,729.3 L2091.4,731.3 L2091.9,733.2 L2092.4,735.1 L2092.9,737.1 L2093.4,739.0 L2093.9,740.9 L2094.4,742.8 L2094.9,744.8 L2095.4,746.7 L2095.9,748.6 L2096.5,750.5 L2097.0,752.4 L2097.6,754.3 L2098.1,756.3 L2098.7,758.2 L2099.3,760.1 L2099.8,762.0 L2100.4,763.9 L2101.0,765.8 L2101.5,767.7 L2102.1,769.6 L2102.7,771.5 L2103.3,773.4 L2103.9,775.3 L2104.4,777.2 L2105.0,779.2 L2105.6,781.1 L2106.2,783.0 L2106.7,784.9 L2107.3,786.8 L2107.9,788.7 L2108.4,790.6 L2109.0,792.5 L2109.5,794.4 L2110.1,796.3 L2110.6,798.3 L2111.2,800.2 L2111.7,802.1 L2112.2,804.0 L2112.7,805.9 L2113.2,807.9 L2113.7,809.8 L2114.2,811.7 L2114.7,813.6 L2115.2,815.6 L2115.7,817.5 L2116.2,819.4 L2116.7,821.3 L2117.1,823.3 L2117.6,825.2 L2118.1,827.1 L2118.5,829.1 L2119.0,831.0 L2119.4,833.0 L2119.9,834.9 L2120.3,836.8 L2120.8,838.8 L2121.2,840.7 L2121.6,842.7 L2122.0,844.6 L2122.5,846.5 L2122.9,848.5 L2123.3,850.4 L2123.7,852.4 L2124.1,854.3 L2124.5,856.3 L2124.9,858.2 L2125.3,860.2 L2125.7,862.1 L2126.1,864.1 L2126.5,866.0 L2126.9,868.0 L2127.3,869.9 L2127.6,871.9 L2128.0,873.9 L2128.4,875.8 L2128.8,877.8 L2129.1,879.7 L2129.5,881.7 L2129.9,883.7 L2130.2,885.6 L2130.6,887.6 L2131.0,889.5 L2131.3,891.5 L2131.7,893.5 L2132.0,895.4 L2132.4,897.4 L2132.7,899.3 L2133.1,901.3 L2133.4,903.3 L2133.8,905.2 L2134.1,907.2 L2134.5,909.2 L2134.8,911.1 L2135.2,913.1 L2135.5,915.1 L2135.9,917.0 L2136.2,919.0 L2136.6,921.0 L2136.9,922.9 L2137.3,924.9 L2137.6,926.9 L2137.9,928.8 L2138.3,930.8 L2138.6,932.8 L2139.0,934.8 L2139.3,936.7 L2139.7,938.7 L2140.0,940.7 L2140.4,942.6 L2140.7,944.6 L2141.1,946.6 L2141.4,948.5 L2141.8,950.5 L2142.1,952.5 L2142.5,954.5 L2142.8,956.4 L2143.2,958.4 L2143.5,960.4 L2143.9,962.3 L2144.2,964.3 L2144.6,966.3 L2145.0,968.2 L2145.3,970.2 L2145.7,972.2 L2146.1,974.1 L2146.5,976.1 L2146.8,978.1 L2147.2,980.0 L2147.6,982.0 L2148.0,984.0 L2148.4,985.9 L2148.8,987.9 L2149.2,989.8 L2149.6,991.8 L2150.0,993.8 L2150.4,995.7 L2150.8,997.7 L2151.2,999.6 L2151.6,1001.6 L2152.0,1003.5 L2152.5,1005.5 L2152.9,1007.5 L2153.3,1009.4 L2153.8,1011.4 L2154.2,1013.3 L2154.7,1015.3 L2155.1,1017.2 L2155.6,1019.1 L2156.0,1021.1 L2156.5,1023.0 L2157.0,1025.0 L2157.5,1026.9 L2158.0,1028.8 L2158.5,1030.8 L2159.0,1032.7 L2159.5,1034.6 L2160.0,1036.6 L2160.5,1038.5 L2161.0,1040.4 L2161.6,1042.4 L2162.1,1044.3 L2162.6,1046.2 L2163.2,1048.1 L2163.7,1050.0 L2164.3,1052.0 L2164.9,1053.9 L2165.4,1055.8 L2166.0,1057.7 L2166.6,1059.6 L2167.2,1061.5 L2167.8,1063.4 L2168.4,1065.3 L2169.0,1067.3 L2169.6,1069.2 L2170.2,1071.1 L2170.8,1073.0 L2171.4,1074.9 L2172.0,1076.8 L2172.6,1078.7 L2173.2,1080.6 L2173.8,1082.5 L2174.5,1084.4 L2175.1,1086.3 L2175.7,1088.2 L2176.4,1090.0 L2177.0,1091.9 L2177.6,1093.8 L2178.3,1095.7 L2178.9,1097.6 L2179.5,1099.5 L2180.2,1101.4 L2180.8,1103.3 L2181.4,1105.2 L2182.1,1107.1 L2182.7,1109.0 L2183.3,1110.8 L2184.0,1112.7 L2184.6,1114.6 L2185.2,1116.5 L2185.9,1118.4 L2186.5,1120.3 L2187.1,1122.2 L2187.8,1124.1 L2188.4,1126.0 L2189.0,1127.9 L2189.7,1129.7 L2190.3,1131.6 L2190.9,1133.5 L2191.5,1135.4 L2192.2,1137.3 L2192.8,1139.2 L2193.4,1141.1 L2194.0,1143.1 L2194.6,1145.0 L2195.2,1146.9 L2195.8,1148.8 L2196.4,1150.7 L2197.0,1152.6 L2197.6,1154.6 L2198.2,1156.5 L2198.8,1158.4 L2199.4,1160.3 L2200.0,1162.3 L2200.6,1164.2 L2201.2,1166.1 L2201.8,1168.1 L2202.4,1170.0 L2203.1,1171.9 L2203.8,1173.8 L2204.5,1175.6 L2205.3,1177.5 L2206.0,1179.3 L2206.9,1181.1 L2207.7,1182.9 L2208.7,1184.6 L2209.6,1186.4 L2210.7,1188.1 L2211.8,1189.7 L2212.9,1191.3 L2214.1,1192.9 L2215.4,1194.5 L2216.7,1196.0 L2218.0,1197.5 L2219.4,1198.9 L2220.8,1200.4 L2222.2,1201.8 L2223.7,1203.2 L2225.1,1204.6 L2226.6,1206.0 L2227.9,1207.4 L2229.3,1208.9 L2230.5,1210.4 L2231.6,1212.0 L2232.6,1213.7 L2233.5,1215.5 L2234.2,1217.4 L2234.8,1219.3 L2235.3,1221.3 L2235.8,1223.4 L2236.3,1225.4 L2236.8,1227.5 L2237.3,1229.5 L2237.8,1231.5 L2238.4,1233.4 L2239.1,1235.3 L2240.0,1237.0 L2240.9,1238.7 L2242.0,1240.2 L2243.2,1241.7 L2244.5,1243.1 L2245.9,1244.4 L2247.4,1245.6 L2248.9,1246.8 L2250.5,1248.0 L2252.2,1249.1 L2253.8,1250.3 L2255.5,1251.4 L2257.2,1252.5 L2258.9,1253.7 L2260.6,1254.8 L2262.2,1256.0 L2263.8,1257.3 L2265.3,1258.6 L2266.8,1260.0 L2268.3,1261.4 L2269.6,1262.9 L2271.0,1264.4 L2272.3,1265.9 L2273.6,1267.5 L2274.9,1269.0 L2276.1,1270.6 L2277.4,1272.2 L2278.7,1273.7 L2280.0,1275.2 L2281.3,1276.7 L2282.6,1278.2 L2284.0,1279.6 L2285.4,1280.9 L2286.8,1282.2 L2288.3,1283.4 L2289.9,1284.5 L2291.5,1285.5 L2293.2,1286.5 L2295.0,1287.4 L2296.7,1288.2 L2298.5,1289.0 L2300.4,1289.8 L2302.3,1290.5 L2304.2,1291.1 L2306.1,1291.8 L2308.0,1292.4 L2310.0,1293.0 L2311.9,1293.6 L2313.9,1294.2 L2315.8,1294.8 L2317.8,1295.5 L2319.7,1296.1 L2321.6,1296.8 L2323.5,1297.4 L2325.4,1298.2 L2327.3,1298.9 L2329.1,1299.7 L2330.9,1300.6 L2332.6,1301.5 L2334.3,1302.5 L2336.0,1303.5"/>
<path stroke="#0000ff" d="M1607.0,1487.6 L1608.6,1486.3 L1610.3,1485.2 L1612.1,1484.3 L1613.9,1483.5 L1615.8,1482.8 L1617.7,1482.3 L1619.7,1481.8 L1621.7,1481.4 L1623.7,1481.1 L1625.7,1480.7 L1627.7,1480.4 L1629.7,1480.1 L1631.7,1479.8 L1633.7,1479.4 L1635.6,1479.0 L1637.5,1478.4 L1639.4,1477.8 L1641.2,1477.0 L1642.9,1476.2 L1644.6,1475.2 L1646.2,1474.2 L1647.9,1473.1 L1649.5,1472.0 L1651.0,1470.7 L1652.6,1469.5 L1654.1,1468.1 L1655.6,1466.8 L1657.1,1465.4 L1658.6,1464.0 L1660.1,1462.6 L1661.6,1461.2 L1663.1,1459.8 L1664.6,1458.4 L1666.2,1457.0 L1667.7,1455.7 L1669.3,1454.4 L1670.9,1453.2 L1672.6,1452.0 L1674.3,1450.8 L1676.0,1449.7 L1677.6,1448.7 L1679.3,1447.6 L1681.0,1446.5 L1682.6,1445.4 L1684.1,1444.2 L1685.6,1442.9 L1687.0,1441.6 L1688.3,1440.2 L1689.5,1438.6 L1690.6,1437.0 L1691.6,1435.2 L1692.5,1433.5 L1693.4,1431.6 L1694.3,1429.8 L1695.2,1428.0 L1696.2,1426.1 L1697.2,1424.4 L1698.2,1422.7 L1699.4,1421.0 L1700.6,1419.5 L1701.9,1418.0 L1703.2,1416.6 L1704.7,1415.2 L1706.2,1413.9 L1707.7,1412.6 L1709.3,1411.3 L1710.9,1410.1 L1712.5,1408.8 L1714.2,1407.6 L1715.8,1406.4 L1717.4,1405.1 L1719.1,1403.8 L1720.6,1402.5 L1722.2,1401.1 L1723.6,1399.7 L1724.9,1398.3 L1726.2,1396.7 L1727.3,1395.1 L1728.2,1393.5 L1729.1,1391.7 L1729.7,1389.9 L1730.3,1388.0 L1730.8,1386.1 L1731.2,1384.1 L1731.6,1382.1 L1731.9,1380.1 L1732.2,1378.1 L1732.6,1376.0 L1733.0,1374.0 L1733.4,1372.0 L1733.9,1370.1 L1734.5,1368.1 L1735.1,1366.2 L1735.8,1364.4 L1736.5,1362.5 L1737.3,1360.6 L1738.1,1358.8 L1739.0,1357.0 L1739.8,1355.2 L1740.8,1353.5 L1741.7,1351.7 L1742.7,1350.0 L1743.7,1348.2 L1744.7,1346.5 L1745.7,1344.8 L1746.7,1343.1 L1747.6,1341.3 L1748.6,1339.6 L1749.6,1337.8 L1750.5,1336.1 L1751.4,1334.3 L1752.4,1332.5 L1753.2,1330.7 L1754.1,1329.0 L1755.0,1327.2 L1755.8,1325.3 L1756.7,1323.5 L1757.5,1321.7 L1758.3,1319.9 L1759.0,1318.0 L1759.8,1316.2 L1760.6,1314.3 L1761.3,1312.4 L1762.0,1310.6 L1762.7,1308.7 L1763.4,1306.8 L1764.0,1304.9 L1764.7,1303.0 L1765.3,1301.1 L1765.9,1299.2 L1766.5,1297.3 L1767.1,1295.4 L1767.7,1293.5 L1768.2,1291.5 L1768.8,1289.6 L1769.3,1287.7 L1769.8,1285.7 L1770.3,1283.8 L1770.7,1281.8 L1771.2,1279.9 L1771.6,1277.9 L1772.0,1276.0 L1772.5,1274.0 L1772.8,1272.0 L1773.2,1270.1 L1773.6,1268.1 L1773.9,1266.1 L1774.2,1264.1 L1774.6,1262.2 L1774.9,1260.2 L1775.2,1258.2 L1775.5,1256.2 L1775.8,1254.3 L1776.1,1252.3 L1776.4,1250.3 L1776.7,1248.3 L1776.9,1246.3 L1777.2,1244.4 L1777.6,1242.4 L1777.9,1240.4 L1778.2,1238.4 L1778.5,1236.5 L1778.9,1234.5 L1779.2,1232.5 L1779.6,1230.6 L1780.0,1228.6 L1780.4,1226.7 L1780.8,1224.7 L1781.3,1222.8 L1781.7,1220.8 L1782.2,1218.9 L1782.8,1217.0 L1783.3,1215.1 L1783.9,1213.1 L1784.4,1211.2 L1785.0,1209.3 L1785.6,1207.4 L1786.3,1205.5 L1786.9,1203.6 L1787.5,1201.7 L1788.1,1199.8 L1788.8,1197.9 L1789.4,1196.0 L1790.0,1194.1 L1790.6,1192.2 L1791.2,1190.3 L1791.8,1188.4 L1792.4,1186.5 L1793.0,1184.6 L1793.5,1182.6 L1794.0,1180.7 L1794.5,1178.8 L1795.0,1176.9 L1795.5,1174.9 L1796.0,1173.0 L1796.4,1171.1 L1796.8,1169.1 L1797.3,1167.2 L1797.7,1165.2 L1798.1,1163.3 L1798.5,1161.3 L1798.9,1159.4 L1799.3,1157.4 L1799.7,1155.5 L1800.0,1153.5 L1800.4,1151.5 L1800.8,1149.6 L1801.2,1147.6 L1801.6,1145.7 L1802.0,1143.7 L1802.4,1141.8 L1802.8,1139.8 L1803.2,1137.9 L1803.7,1135.9 L1804.1,1134.0 L1804.5,1132.0 L1805.0,1130.1 L1805.4,1128.1 L1805.9,1126.2 L1806.3,1124.2 L1806.8,1122.3 L1807.3,1120.3 L1807.8,1118.4 L1808.2,1116.4 L1808.7,1114.5 L1809.2,1112.6 L1809.7,1110.6 L1810.2,1108.7 L1810.7,1106.8 L1811.2,1104.8 L1811.6,1102.9 L1812.1,1101.0 L1812.6,1099.0 L1813.1,1097.1 L1813.6,1095.2 L1814.1,1093.2 L1814.6,1091.3 L1815.1,1089.4 L1815.6,1087.4 L1816.2,1085.5 L1816.7,1083.6 L1817.2,1081.7 L1817.7,1079.7 L1818.2,1077.8 L1818.7,1075.9 L1819.2,1073.9 L1819.7,1072.0 L1820.1,1070.1 L1820.6,1068.1 L1821.1,1066.2 L1821.6,1064.3 L1822.1,1062.4 L1822.6,1060.4 L1823.1,1058.5 L1823.5,1056.6 L1824.0,1054.6 L1824.5,1052.7 L1824.9,1050.7 L1825.4,1048.8 L1825.9,1046.9 L1826.3,1044.9 L1826.8,1043.0 L1827.2,1041.0 L1827.6,1039.1 L1828.1,1037.2 L1828.5,1035.2 L1828.9,1033.3 L1829.3,1031.3 L1829.7,1029.4 L1830.1,1027.4 L1830.5,1025.5 L1830.9,1023.5 L1831.3,1021.5 L1831.7,1019.6 L1832.0,1017.6 L1832.4,1015.7 L1832.8,1013.7 L1833.1,1011.7 L1833.5,1009.8 L1833.8,1007.8 L1834.2,1005.8 L1834.5,1003.9 L1834.9,1001.9 L1835.2,999.9 L1835.5,997.9 L1835.9,996.0 L1836.2,994.0 L1836.5,992.0 L1836.8,990.0 L1837.1,988.1 L1837.4,986.1 L1837.8,984.1 L1838.1,982.1 L1838.4,980.2 L1838.7,978.2 L1839.0,976.2 L1839.3,974.2 L1839.6,972.2 L1839.9,970.3 L1840.2,968.3 L1840.5,966.3 L1840.7,964.3 L1841.0,962.3 L1841.3,960.4 L1841.6,958.4 L1841.9,956.4 L1842.2,954.4 L1842.5,952.4 L1842.8,950.5 L1843.1,948.5 L1843.4,946.5 L1843.6,944.5 L1843.9,942.5 L1844.2,940.5 L1844.5,938.6 L1844.8,936.6 L1845.1,934.6 L1845.4,932.6 L1845.7,930.6 L1845.9,928.7 L1846.2,926.7 L1846.5,924.7 L1846.8,922.7 L1847.1,920.7 L1847.4,918.8 L1847.7,916.8 L1848.0,914.8 L1848.3,912.8 L1848.5,910.8 L1848.8,908.9 L1849.1,906.9 L1849.4,904.9 L1849.7,902.9 L1850.0,900.9 L1850.3,899.0 L1850.6,897.0 L1850.9,895.0 L1851.2,893.0 L1851.5,891.1 L1851.8,889.1 L1852.1,887.1 L1852.4,885.1 L1852.7,883.2 L1853.0,881.2 L1853.3,879.2 L1853.6,877.2 L1853.9,875.3 L1854.2,873.3 L1854.6,871.3 L1854.9,869.3 L1855.2,867.4 L1855.5,865.4 L1855.8,863.4 L1856.1,861.5 L1856.5,859.5 L1856.8,857.5 L1857.1,855.5 L1857.4,853.6 L1857.8,851.6 L1858.1,849.6 L1858.4,847.7 L1858.8,845.7 L1859.1,843.7 L1859.4,841.8 L1859.8,839.8 L1860.1,837.9 L1860.5,835.9 L1860.8,833.9 L1861.2,832.0 L1861.5,830.0 L1861.9,828.0 L1862.2,826.1 L1862.6,824.1 L1863.0,822.2 L1863.3,820.2 L1863.7,818.3 L1864.1,816.3 L1864.5,814.3 L1864.8,812.4 L1865.2,810.4 L1865.6,808.5 L1866.0,806.5 L1866.4,804.6 L1866.8,802.6 L1867.2,800.7 L1867.6,798.7 L1868.0,796.8 L1868.4,794.8 L1868.8,792.9 L1869.2,791.0 L1869.7,789.0 L1870.1,787.1 L1870.5,785.1 L1871.0,783.2 L1871.4,781.3 L1871.8,779.3 L1872.3,777.4 L1872.7,775.5 L1873.2,773.5 L1873.7,771.6 L1874.1,769.7 L1874.6,767.7 L1875.0,765.8 L1875.5,763.9 L1876.0,761.9 L1876.4,760.0 L1876.8,758.0 L1877.3,756.1 L1877.7,754.2 L1878.2,752.2 L1878.6,750.3 L1879.0,748.3 L1879.4,746.4 L1879.8,744.4 L1880.2,742.5 L1880.5,740.5 L1880.9,738.5 L1881.2,736.6 L1881.5,734.6 L1881.8,732.6 L1882.2,730.7 L1882.4,728.7 L1882.7,726.7 L1883.0,724.7 L1883.3,722.7 L1883.5,720.7 L1883.8,718.7 L1884.1,716.8 L1884.3,714.8 L1884.6,712.8 L1884.9,710.8 L1885.1,708.8 L1885.4,706.8 L1885.7,704.8 L1885.9,702.8 L1886.2,700.9 L1886.5,698.9 L1886.9,696.9 L1887.2,694.9 L1887.5,693.0 L1887.9,691.0 L1888.2,689.0 L1888.6,687.1 L1889.0,685.1 L1889.5,683.2 L1889.9,681.2 L1890.3,679.3 L1890.8,677.4 L1891.3,675.4 L1891.7,673.5 L1892.2,671.6 L1892.8,669.6 L1893.3,667.7 L1893.8,665.8 L1894.3,663.9 L1894.9,662.0 L1895.4,660.1 L1896.0,658.1 L1896.6,656.2 L1897.1,654.3 L1897.7,652.4 L1898.3,650.5 L1898.9,648.6 L1899.5,646.7 L1900.1,644.8 L1900.7,642.9 L1901.3,641.0 L1901.9,639.0 L1902.5,637.1 L1903.1,635.2 L1903.7,633.3 L1904.3,631.4 L1904.9,629.5 L1905.5,627.5 L1906.0,625.6 L1906.6,623.7 L1907.2,621.8 L1907.8,619.8 L1908.4,617.9 L1908.9,616.0 L1909.5,614.0 L1910.1,612.1 L1910.6,610.2 L1911.1,608.2 L1911.7,606.3 L1912.2,604.4 L1912.7,602.4 L1913.2,600.5 L1913.7,598.6 L1914.2,596.6 L1914.7,594.7 L1915.1,592.7 L1915.6,590.8 L1916.0,588.9 L1916.4,586.9 L1916.8,585.0 L1917.2,583.1 L1917.6,581.1 L1918.0,579.2 L1918.3,577.2 L1918.7,575.3 L1919.0,573.4 L1919.3,571.4 L1919.6,569.5 L1919.9,567.5 L1920.2,565.6 L1920.5,563.6 L1920.7,561.6 L1921.0,559.7 L1921.2,557.7 L1921.5,555.7 L1921.7,553.7 L1921.9,551.7 L1922.1,549.7 L1922.3,547.7 L1922.5,545.7 L1922.7,543.7 L1922.8,541.7 L1923.0,539.7 L1923.2,537.6 L1923.3,535.6 L1923.5,533.5 L1923.6,531.5 L1923.8,529.4 L1924.0,527.4 L1924.2,525.4 L1924.5,523.3 L1924.8,521.3 L1925.1,519.3 L1925.4,517.4 L1925.8,515.4 L1926.3,513.5 L1926.8,511.6 L1927.3,509.7 L1928.0,507.9 L1928.7,506.1 L1929.4,504.4 L1930.3,502.6 L1931.2,501.0 L1932.2,499.3 L1933.3,497.8 L1934.5,496.2 L1935.6,494.6 L1936.8,493.1 L1938.0,491.5 L1939.1,489.9 L1940.2,488.2 L1941.2,486.5 L1942.1,484.7 L1943.0,482.9 L1943.9,481.1 L1944.8,479.3 L1945.6,477.4 L1946.4,475.6 L1947.2,473.7 L1948.1,471.9 L1948.8,470.0 L1949.5,468.1 L1950.2,466.3 L1950.7,464.4 L1951.1,462.5 L1951.4,460.7 L1951.5,458.8 L1951.5,456.9 L1951.4,455.1 L1951.2,453.2 L1951.0,451.3 L1950.9,449.3 L1950.9,447.3 L1951.1,445.3 L1951.5,443.3 L1952.2,441.1 L1953.3,439.0 L1954.7,436.7 L1956.4,434.6 L1958.3,432.8 L1960.1,431.5 L1961.9,430.7 L1963.6,430.5 L1965.1,430.7 L1966.6,431.5 L1968.0,432.5 L1969.3,434.0 L1970.5,435.6 L1971.6,437.5 L1972.6,439.6 L1973.6,441.7 L1974.5,443.9 L1975.3,446.1 L1976.1,448.1 L1976.7,450.1 L1977.4,451.8 L1978.2,453.0 L1979.2,453.6 L1980.5,453.3 L1982.1,452.4 L1983.7,451.3 L1985.3,450.4 L1986.8,450.0 L1987.9,450.3 L1988.9,451.3 L1989.6,452.8 L1990.2,454.7 L1990.7,456.9 L1991.1,459.4 L1991.4,461.9 L1991.8,464.4 L1992.1,466.9 L1992.6,469.3 L1993.2,471.5 L1993.9,473.6 L1994.9,475.4 L1996.1,476.9 L1997.5,478.2 L1999.1,479.4 L2000.7,480.4 L2002.1,481.5 L2003.4,482.8 L2004.5,484.2 L2005.2,485.7 L2005.7,487.5 L2006.1,489.4 L2006.3,491.4 L2006.4,493.5 L2006.5,495.6 L2006.6,497.7 L2006.8,499.9 L2007.0,501.9 L2007.4,503.9 L2008.0,505.8 L2008.9,507.6 L2010.0,509.2 L2011.2,510.8 L2012.5,512.3 L2013.9,513.8 L2015.1,515.3 L2016.3,516.9 L2017.3,518.6 L2018.1,520.4 L2018.8,522.3 L2019.4,524.2 L2020.0,526.2 L2020.4,528.2 L2020.9,530.2 L2021.3,532.2 L2021.7,534.3 L2022.1,536.3 L2022.6,538.3 L2023.1,540.2 L2023.8,542.0 L2024.6,543.7 L2025.5,545.3 L2026.6,546.8 L2027.9,548.1 L2029.3,549.4 L2030.7,550.6 L2032.1,551.8 L2033.3,553.2 L2034.3,554.7 L2035.2,556.3 L2035.9,558.0 L2036.5,559.8 L2037.0,561.7 L2037.4,563.7 L2037.7,565.7 L2038.0,567.7 L2038.3,569.8 L2038.6,571.8 L2038.9,573.8 L2039.2,575.9 L2039.5,577.9 L2039.8,579.9 L2040.2,581.9 L2040.5,583.9 L2040.9,585.9 L2041.3,587.9 L2041.6,589.9 L2042.0,591.9 L2042.4,593.9 L2042.8,595.8 L2043.2,597.8 L2043.6,599.8 L2044.1,601.7 L2044.5,603.7 L2044.9,605.7 L2045.4,607.6 L2045.8,609.6 L2046.3,611.5 L2046.7,613.5 L2047.2,615.4 L2047.6,617.3 L2048.1,619.3 L2048.6,621.2 L2049.0,623.2 L2049.5,625.1 L2050.0,627.0 L2050.4,628.9 L2050.9,630.9 L2051.4,632.8 L2051.9,634.7 L2052.4,636.7 L2052.8,638.6 L2053.3,640.5 L2053.8,642.5 L2054.3,644.4 L2054.7,646.3 L2055.2,648.3 L2055.7,650.2 L2056.2,652.1 L2056.6,654.1 L2057.1,656.0 L2057.6,657.9 L2058.0,659.9 L2058.5,661.8 L2059.0,663.8 L2059.4,665.7 L2059.9,667.7 L2060.3,669.6 L2060.8,671.5 L2061.2,673.5 L2061.7,675.4 L2062.1,677.4 L2062.6,679.3 L2063.0,681.3 L2063.5,683.2 L2063.9,685.2 L2064.3,687.1 L2064.8,689.1 L2065.2,691.0 L2065.6,693.0 L2066.0,694.9 L2066.5,696.9 L2066.9,698.8 L2067.3,700.8 L2067.7,702.7 L2068.1,704.7 L2068.5,706.7 L2068.9,708.6 L2069.3,710.6 L2069.7,712.5 L2070.1,714.5 L2070.5,716.5 L2070.9,718.4 L2071.3,720.4 L2071.7,722.4 L2072.0,724.3 L2072.4,726.3 L2072.8,728.2 L2073.2,730.2 L2073.5,732.2 L2073.9,734.2 L2074.2,736.1 L2074.6,738.1 L2074.9,740.1 L2075.3,742.0 L2075.6,744.0 L2075.9,746.0 L2076.3,748.0 L2076.6,749.9 L2076.9,751.9 L2077.2,753.9 L2077.5,755.9 L2077.8,757.8 L2078.1,759.8 L2078.4,761.8 L2078.7,763.8 L2079.0,765.7 L2079.3,767.7 L2079.5,769.7 L2079.8,771.7 L2080.1,773.7 L2080.3,775.7 L2080.6,777.6 L2080.8,779.6 L2081.1,781.6 L2081.3,783.6 L2081.6,785.6 L2081.8,787.6 L2082.0,789.6 L2082.2,791.6 L2082.4,793.5 L2082.6,795.5 L2082.8,797.5 L2083.0,799.5 L2083.2,801.5 L2083.4,803.5 L2083.6,805.5 L2083.7,807.5 L2083.9,809.5 L2084.1,811.5 L2084.3,813.5 L2084.5,815.5 L2084.7,817.5 L2084.9,819.4 L2085.1,821.4 L2085.3,823.4 L2085.6,825.4 L2085.8,827.4 L2086.1,829.3 L2086.4,831.3 L2086.7,833.3 L2087.0,835.2 L2087.3,837.2 L2087.7,839.1 L2088.0,841.1 L2088.4,843.1 L2088.8,845.0 L2089.2,847.0 L2089.6,848.9 L2090.0,850.8 L2090.4,852.8 L2090.8,854.7 L2091.3,856.7 L2091.7,858.6 L2092.2,860.5 L2092.7,862.5 L2093.1,864.4 L2093.6,866.3 L2094.1,868.3 L2094.6,870.2 L2095.1,872.1 L2095.6,874.0 L2096.2,875.9 L2096.7,877.9 L2097.2,879.8 L2097.8,881.7 L2098.3,883.6 L2098.8,885.5 L2099.4,887.5 L2099.9,889.4 L2100.5,891.3 L2101.0,893.2 L2101.6,895.1 L2102.1,897.0 L2102.7,898.9 L2103.3,900.8 L2103.8,902.8 L2104.4,904.7 L2104.9,906.6 L2105.5,908.5 L2106.0,910.4 L2106.6,912.3 L2107.1,914.2 L2107.7,916.2 L2108.2,918.1 L2108.8,920.0 L2109.3,921.9 L2109.8,923.8 L2110.4,925.8 L2110.9,927.7 L2111.4,929.6 L2111.9,931.6 L2112.4,933.5 L2112.9,935.4 L2113.3,937.3 L2113.8,939.3 L2114.3,941.2 L2114.7,943.2 L2115.2,945.1 L2115.6,947.1 L2116.0,949.0 L2116.5,951.0 L2116.9,952.9 L2117.3,954.9 L2117.7,956.8 L2118.1,958.8 L2118.5,960.7 L2118.9,962.7 L2119.2,964.6 L2119.6,966.6 L2120.0,968.6 L2120.3,970.5 L2120.7,972.5 L2121.1,974.5 L2121.4,976.4 L2121.8,978.4 L2122.1,980.4 L2122.5,982.3 L2122.8,984.3 L2123.1,986.3 L2123.5,988.3 L2123.8,990.2 L2124.2,992.2 L2124.5,994.2 L2124.8,996.1 L2125.2,998.1 L2125.5,1000.1 L2125.8,1002.1 L2126.2,1004.0 L2126.5,1006.0 L2126.8,1008.0 L2127.2,1010.0 L2127.5,1011.9 L2127.9,1013.9 L2128.2,1015.9 L2128.6,1017.8 L2128.9,1019.8 L2129.3,1021.8 L2129.6,1023.7 L2130.0,1025.7 L2130.4,1027.7 L2130.7,1029.6 L2131.1,1031.6 L2131.5,1033.6 L2131.9,1035.5 L2132.3,1037.5 L2132.7,1039.4 L2133.1,1041.4 L2133.5,1043.3 L2133.9,1045.3 L2134.4,1047.2 L2134.8,1049.2 L2135.2,1051.1 L2135.6,1053.1 L2136.1,1055.0 L2136.5,1057.0 L2137.0,1058.9 L2137.4,1060.9 L2137.9,1062.8 L2138.3,1064.8 L2138.8,1066.7 L2139.2,1068.7 L2139.7,1070.6 L2140.1,1072.6 L2140.6,1074.5 L2141.0,1076.4 L2141.5,1078.4 L2141.9,1080.3 L2142.4,1082.3 L2142.8,1084.2 L2143.2,1086.2 L2143.7,1088.1 L2144.1,1090.1 L2144.6,1092.0 L2145.0,1094.0 L2145.4,1095.9 L2145.8,1097.9 L2146.2,1099.8 L2146.6,1101.8 L2147.0,1103.8 L2147.4,1105.7 L2147.8,1107.7 L2148.2,1109.6 L2148.6,1111.6 L2149.0,1113.6 L2149.3,1115.6 L2149.7,1117.5 L2150.0,1119.5 L2150.4,1121.5 L2150.7,1123.4 L2151.1,1125.4 L2151.4,1127.4 L2151.7,1129.4 L2152.1,1131.3 L2152.4,1133.3 L2152.7,1135.3 L2153.1,1137.3 L2153.4,1139.3 L2153.8,1141.2 L2154.1,1143.2 L2154.4,1145.2 L2154.8,1147.1 L2155.1,1149.1 L2155.5,1151.1 L2155.9,1153.1 L2156.2,1155.0 L2156.6,1157.0 L2157.0,1158.9 L2157.4,1160.9 L2157.8,1162.8 L2158.2,1164.8 L2158.6,1166.7 L2159.0,1168.7 L2159.4,1170.6 L2159.9,1172.6 L2160.4,1174.5 L2160.8,1176.4 L2161.3,1178.4 L2161.8,1180.3 L2162.3,1182.2 L2162.9,1184.1 L2163.4,1186.0 L2164.0,1187.9 L2164.5,1189.8 L2165.1,1191.7 L2165.7,1193.6 L2166.4,1195.5 L2167.0,1197.3 L2167.7,1199.2 L2168.4,1201.1 L2169.1,1202.9 L2169.8,1204.8 L2170.5,1206.6 L2171.3,1208.5 L2172.0,1210.3 L2172.8,1212.2 L2173.6,1214.0 L2174.3,1215.8 L2175.1,1217.7 L2175.8,1219.5 L2176.6,1221.4 L2177.3,1223.2 L2178.0,1225.1 L2178.7,1227.0 L2179.4,1228.8 L2180.0,1230.7 L2180.6,1232.6 L2181.2,1234.5 L2181.8,1236.4 L2182.3,1238.4 L2182.8,1240.3 L2183.3,1242.2 L2183.8,1244.2 L2184.2,1246.1 L2184.6,1248.1 L2185.1,1250.1 L2185.5,1252.0 L2185.9,1254.0 L2186.3,1256.0 L2186.7,1258.0 L2187.1,1259.9 L2187.6,1261.9 L2188.0,1263.8 L2188.5,1265.8 L2189.0,1267.7 L2189.5,1269.6 L2190.0,1271.6 L2190.5,1273.5 L2191.1,1275.4 L2191.6,1277.3 L2192.2,1279.2 L2192.7,1281.1 L2193.3,1283.0 L2193.9,1284.9 L2194.5,1286.8 L2195.1,1288.7 L2195.7,1290.6 L2196.3,1292.5 L2196.8,1294.4 L2197.4,1296.3 L2198.0,1298.3 L2198.6,1300.2 L2199.1,1302.1 L2199.7,1304.0 L2200.2,1305.9 L2200.8,1307.9 L2201.3,1309.8 L2201.8,1311.8 L2202.3,1313.7 L2202.8,1315.7 L2203.2,1317.7 L2203.6,1319.6 L2204.0,1321.6 L2204.4,1323.6 L2204.8,1325.6 L2205.2,1327.6 L2205.6,1329.6 L2206.0,1331.6 L2206.4,1333.6 L2206.9,1335.5 L2207.4,1337.5 L2208.0,1339.4 L2208.6,1341.3 L2209.3,1343.1 L2210.1,1344.9 L2211.0,1346.6 L2211.9,1348.3 L2213.0,1350.0 L2214.1,1351.6 L2215.3,1353.2 L2216.6,1354.7 L2217.9,1356.3 L2219.3,1357.8 L2220.7,1359.2 L2222.1,1360.7 L2223.5,1362.2 L2224.9,1363.7 L2226.3,1365.2 L2227.7,1366.7 L2229.0,1368.2 L2230.3,1369.8 L2231.6,1371.4 L2232.7,1373.0 L2233.8,1374.7 L2234.8,1376.4 L2235.7,1378.2 L2236.5,1380.0 L2237.1,1381.9 L2237.7,1383.9 L2238.1,1385.9 L2238.4,1387.9 L2238.8,1390.0 L2239.1,1392.0 L2239.4,1394.1 L2239.7,1396.1 L2240.2,1398.0 L2240.7,1400.0 L2241.4,1401.8 L2242.2,1403.5 L2243.2,1405.1 L2244.3,1406.7 L2245.6,1408.1 L2247.1,1409.5 L2248.6,1410.8 L2250.2,1412.1 L2251.9,1413.3 L2253.5,1414.5 L2255.2,1415.8 L2256.9,1417.0 L2258.5,1418.3 L2260.0,1419.6 L2261.5,1420.9 L2262.9,1422.3 L2264.3,1423.7 L2265.7,1425.1 L2267.0,1426.6 L2268.4,1428.0 L2269.6,1429.5 L2270.9,1431.0 L2272.1,1432.5 L2273.4,1434.1 L2274.6,1435.6 L2275.8,1437.2 L2277.0,1438.7 L2278.3,1440.3 L2279.5,1441.8 L2280.7,1443.4 L2282.0,1444.9 L2283.3,1446.5 L2284.6,1448.0 L2286.0,1449.5 L2287.3,1451.0 L2288.8,1452.3 L2290.3,1453.6 L2291.8,1454.8 L2293.5,1455.9 L2295.1,1456.9 L2296.9,1457.7 L2298.7,1458.5 L2300.6,1459.2 L2302.5,1459.8 L2304.4,1460.3 L2306.4,1460.8 L2308.4,1461.3 L2310.4,1461.7 L2312.4,1462.2 L2314.4,1462.6 L2316.4,1463.0 L2318.4,1463.5 L2320.4,1464.1 L2322.4,1464.6 L2324.3,1465.3 L2326.1,1466.0 L2327.9,1466.8 L2329.7,1467.8 L2331.4,1468.8 L2333.0,1470.0 L2334.5,1471.3 L2336.0,1472.8"/>
<path stroke="#ff00ff" d="M1607.0,1638.6 L1609.0,1638.1 L1610.9,1637.6 L1612.9,1637.1 L1614.8,1636.5 L1616.8,1636.0 L1618.7,1635.4 L1620.6,1634.9 L1622.5,1634.3 L1624.4,1633.7 L1626.2,1633.1 L1628.1,1632.5 L1630.0,1631.8 L1631.8,1631.2 L1633.7,1630.5 L1635.5,1629.8 L1637.3,1629.1 L1639.2,1628.4 L1641.0,1627.7 L1642.8,1627.0 L1644.6,1626.2 L1646.4,1625.5 L1648.2,1624.7 L1650.0,1623.9 L1651.8,1623.1 L1653.6,1622.3 L1655.4,1621.4 L1657.2,1620.6 L1659.0,1619.7 L1660.8,1618.8 L1662.6,1617.9 L1664.4,1616.9 L1666.2,1616.0 L1668.0,1615.0 L1669.8,1614.1 L1671.6,1613.0 L1673.3,1612.0 L1675.0,1610.9 L1676.7,1609.8 L1678.3,1608.6 L1679.8,1607.3 L1681.3,1605.9 L1682.6,1604.5 L1683.8,1603.0 L1685.0,1601.5 L1686.1,1599.9 L1687.2,1598.3 L1688.3,1596.7 L1689.4,1595.0 L1690.5,1593.4 L1691.7,1591.9 L1693.0,1590.4 L1694.3,1588.9 L1695.7,1587.5 L1697.1,1586.1 L1698.6,1584.8 L1700.2,1583.5 L1701.8,1582.3 L1703.4,1581.1 L1705.1,1579.9 L1706.7,1578.7 L1708.4,1577.6 L1710.1,1576.4 L1711.8,1575.3 L1713.5,1574.1 L1715.2,1572.9 L1716.8,1571.7 L1718.3,1570.4 L1719.8,1569.1 L1721.2,1567.7 L1722.5,1566.2 L1723.7,1564.7 L1724.9,1563.0 L1725.9,1561.3 L1726.8,1559.5 L1727.7,1557.7 L1728.5,1555.9 L1729.2,1554.0 L1730.0,1552.1 L1730.6,1550.2 L1731.3,1548.4 L1732.0,1546.5 L1732.6,1544.6 L1733.2,1542.8 L1733.9,1541.0 L1734.5,1539.1 L1735.2,1537.3 L1735.9,1535.5 L1736.7,1533.7 L1737.5,1532.0 L1738.3,1530.2 L1739.2,1528.5 L1740.1,1526.7 L1741.1,1525.0 L1742.0,1523.3 L1743.0,1521.6 L1744.1,1519.9 L1745.1,1518.2 L1746.2,1516.5 L1747.2,1514.8 L1748.3,1513.1 L1749.4,1511.5 L1750.4,1509.8 L1751.5,1508.1 L1752.5,1506.4 L1753.6,1504.6 L1754.6,1502.9 L1755.6,1501.2 L1756.6,1499.4 L1757.5,1497.7 L1758.4,1495.9 L1759.4,1494.1 L1760.2,1492.3 L1761.1,1490.5 L1761.9,1488.7 L1762.7,1486.9 L1763.5,1485.1 L1764.3,1483.2 L1765.0,1481.4 L1765.7,1479.5 L1766.4,1477.6 L1767.1,1475.8 L1767.8,1473.9 L1768.4,1472.0 L1769.0,1470.1 L1769.6,1468.2 L1770.2,1466.3 L1770.8,1464.3 L1771.3,1462.4 L1771.8,1460.5 L1772.3,1458.5 L1772.8,1456.6 L1773.3,1454.6 L1773.8,1452.7 L1774.2,1450.7 L1774.6,1448.8 L1775.1,1446.8 L1775.5,1444.8 L1775.8,1442.9 L1776.2,1440.9 L1776.6,1438.9 L1776.9,1436.9 L1777.2,1434.9 L1777.5,1433.0 L1777.9,1431.0 L1778.2,1429.0 L1778.5,1427.0 L1778.8,1425.0 L1779.1,1423.1 L1779.4,1421.1 L1779.7,1419.1 L1780.0,1417.1 L1780.3,1415.2 L1780.6,1413.2 L1781.0,1411.2 L1781.3,1409.3 L1781.7,1407.3 L1782.1,1405.4 L1782.5,1403.4 L1783.0,1401.5 L1783.5,1399.6 L1784.0,1397.7 L1784.5,1395.8 L1785.1,1393.9 L1785.7,1392.0 L1786.3,1390.1 L1787.0,1388.2 L1787.7,1386.4 L1788.5,1384.5 L1789.3,1382.7 L1790.1,1380.9 L1790.9,1379.0 L1791.8,1377.2 L1792.6,1375.4 L1793.4,1373.5 L1794.2,1371.7 L1794.9,1369.8 L1795.6,1368.0 L1796.3,1366.1 L1796.9,1364.2 L1797.5,1362.3 L1798.1,1360.4 L1798.6,1358.5 L1799.1,1356.6 L1799.6,1354.7 L1800.1,1352.8 L1800.6,1350.8 L1801.1,1348.9 L1801.5,1347.0 L1802.0,1345.0 L1802.4,1343.1 L1802.8,1341.1 L1803.3,1339.2 L1803.7,1337.2 L1804.1,1335.3 L1804.6,1333.4 L1805.0,1331.4 L1805.4,1329.5 L1805.8,1327.5 L1806.3,1325.6 L1806.7,1323.6 L1807.1,1321.6 L1807.6,1319.7 L1808.0,1317.7 L1808.4,1315.8 L1808.9,1313.9 L1809.3,1311.9 L1809.8,1310.0 L1810.2,1308.0 L1810.7,1306.1 L1811.2,1304.1 L1811.6,1302.2 L1812.1,1300.3 L1812.6,1298.3 L1813.1,1296.4 L1813.7,1294.5 L1814.2,1292.6 L1814.7,1290.6 L1815.3,1288.7 L1815.8,1286.8 L1816.3,1284.9 L1816.9,1283.0 L1817.4,1281.0 L1818.0,1279.1 L1818.5,1277.2 L1819.1,1275.3 L1819.6,1273.4 L1820.1,1271.5 L1820.6,1269.5 L1821.2,1267.6 L1821.7,1265.7 L1822.2,1263.8 L1822.7,1261.8 L1823.1,1259.9 L1823.6,1258.0 L1824.1,1256.0 L1824.5,1254.1 L1825.0,1252.2 L1825.4,1250.2 L1825.9,1248.3 L1826.3,1246.3 L1826.7,1244.4 L1827.2,1242.4 L1827.6,1240.5 L1828.0,1238.5 L1828.4,1236.6 L1828.8,1234.6 L1829.2,1232.7 L1829.5,1230.7 L1829.9,1228.8 L1830.3,1226.8 L1830.7,1224.8 L1831.0,1222.9 L1831.4,1220.9 L1831.7,1219.0 L1832.1,1217.0 L1832.4,1215.0 L1832.8,1213.1 L1833.1,1211.1 L1833.4,1209.1 L1833.8,1207.2 L1834.1,1205.2 L1834.4,1203.2 L1834.7,1201.2 L1835.0,1199.3 L1835.4,1197.3 L1835.7,1195.3 L1836.0,1193.3 L1836.3,1191.4 L1836.6,1189.4 L1836.9,1187.4 L1837.2,1185.4 L1837.4,1183.5 L1837.7,1181.5 L1838.0,1179.5 L1838.3,1177.5 L1838.6,1175.5 L1838.9,1173.6 L1839.1,1171.6 L1839.4,1169.6 L1839.7,1167.6 L1840.0,1165.6 L1840.2,1163.6 L1840.5,1161.7 L1840.8,1159.7 L1841.1,1157.7 L1841.3,1155.7 L1841.6,1153.7 L1841.9,1151.7 L1842.1,1149.8 L1842.4,1147.8 L1842.7,1145.8 L1842.9,1143.8 L1843.2,1141.8 L1843.5,1139.8 L1843.7,1137.9 L1844.0,1135.9 L1844.3,1133.9 L1844.6,1131.9 L1844.8,1129.9 L1845.1,1127.9 L1845.4,1126.0 L1845.7,1124.0 L1845.9,1122.0 L1846.2,1120.0 L1846.5,1118.0 L1846.8,1116.1 L1847.1,1114.1 L1847.4,1112.1 L1847.7,1110.1 L1848.0,1108.1 L1848.3,1106.2 L1848.6,1104.2 L1848.9,1102.2 L1849.2,1100.2 L1849.5,1098.3 L1849.8,1096.3 L1850.1,1094.3 L1850.4,1092.4 L1850.7,1090.4 L1851.0,1088.4 L1851.4,1086.4 L1851.7,1084.5 L1852.0,1082.5 L1852.3,1080.5 L1852.7,1078.6 L1853.0,1076.6 L1853.3,1074.6 L1853.6,1072.7 L1854.0,1070.7 L1854.3,1068.7 L1854.6,1066.8 L1854.9,1064.8 L1855.3,1062.8 L1855.6,1060.8 L1855.9,1058.9 L1856.2,1056.9 L1856.6,1054.9 L1856.9,1053.0 L1857.2,1051.0 L1857.5,1049.0 L1857.9,1047.1 L1858.2,1045.1 L1858.5,1043.1 L1858.8,1041.1 L1859.1,1039.2 L1859.4,1037.2 L1859.7,1035.2 L1860.0,1033.2 L1860.3,1031.3 L1860.6,1029.3 L1860.9,1027.3 L1861.2,1025.3 L1861.5,1023.3 L1861.8,1021.4 L1862.1,1019.4 L1862.4,1017.4 L1862.7,1015.4 L1862.9,1013.4 L1863.2,1011.4 L1863.5,1009.5 L1863.7,1007.5 L1864.0,1005.5 L1864.3,1003.5 L1864.6,1001.5 L1865.0,999.6 L1865.5,997.6 L1866.0,995.7 L1866.5,993.8 L1867.2,991.9 L1867.9,990.1 L1868.7,988.2 L1869.5,986.4 L1870.4,984.6 L1871.3,982.8 L1872.2,981.0 L1873.0,979.1 L1873.8,977.3 L1874.6,975.5 L1875.4,973.6 L1876.0,971.8 L1876.6,969.9 L1877.1,968.0 L1877.5,966.1 L1877.9,964.1 L1878.2,962.2 L1878.4,960.2 L1878.6,958.3 L1878.8,956.3 L1878.9,954.3 L1879.0,952.3 L1879.1,950.3 L1879.2,948.2 L1879.2,946.2 L1879.3,944.2 L1879.3,942.2 L1879.4,940.2 L1879.5,938.2 L1879.6,936.1 L1879.7,934.1 L1879.8,932.1 L1879.9,930.1 L1880.1,928.1 L1880.3,926.1 L1880.5,924.1 L1880.7,922.1 L1880.9,920.1 L1881.1,918.1 L1881.4,916.1 L1881.6,914.1 L1881.9,912.2 L1882.2,910.2 L1882.5,908.2 L1882.8,906.2 L1883.1,904.2 L1883.5,902.3 L1883.8,900.3 L1884.2,898.3 L1884.5,896.4 L1884.9,894.4 L1885.3,892.4 L1885.6,890.5 L1886.0,888.5 L1886.4,886.5 L1886.9,884.6 L1887.3,882.6 L1887.7,880.7 L1888.1,878.7 L1888.6,876.8 L1889.0,874.8 L1889.5,872.9 L1889.9,870.9 L1890.4,869.0 L1890.8,867.0 L1891.3,865.1 L1891.8,863.1 L1892.2,861.2 L1892.7,859.3 L1893.2,857.3 L1893.7,855.4 L1894.1,853.4 L1894.6,851.5 L1895.1,849.6 L1895.6,847.6 L1896.1,845.7 L1896.5,843.8 L1897.0,841.8 L1897.5,839.9 L1898.0,838.0 L1898.4,836.1 L1898.9,834.1 L1899.4,832.2 L1899.9,830.3 L1900.4,828.3 L1900.8,826.4 L1901.3,824.5 L1901.8,822.6 L1902.3,820.6 L1902.8,818.7 L1903.3,816.8 L1903.8,814.9 L1904.3,812.9 L1904.8,811.0 L1905.3,809.1 L1905.9,807.2 L1906.4,805.2 L1906.9,803.3 L1907.5,801.4 L1908.0,799.4 L1908.6,797.5 L1909.1,795.6 L1909.7,793.7 L1910.3,791.7 L1910.9,789.8 L1911.4,787.9 L1912.0,786.0 L1912.6,784.0 L1913.2,782.1 L1913.7,780.2 L1914.2,778.2 L1914.8,776.3 L1915.3,774.3 L1915.8,772.4 L1916.2,770.4 L1916.7,768.5 L1917.1,766.5 L1917.5,764.6 L1917.8,762.6 L1918.1,760.7 L1918.4,758.7 L1918.7,756.7 L1918.9,754.7 L1919.1,752.8 L1919.3,750.8 L1919.5,748.8 L1919.6,746.8 L1919.7,744.8 L1919.8,742.8 L1919.9,740.8 L1920.0,738.8 L1920.1,736.8 L1920.2,734.8 L1920.3,732.8 L1920.4,730.8 L1920.5,728.8 L1920.6,726.8 L1920.7,724.9 L1920.8,722.9 L1920.9,720.9 L1921.1,718.9 L1921.3,716.9 L1921.5,714.9 L1921.7,712.9 L1922.0,710.9 L1922.2,708.9 L1922.5,707.0 L1922.9,705.0 L1923.2,703.0 L1923.6,701.0 L1924.0,699.1 L1924.4,697.1 L1924.8,695.1 L1925.3,693.2 L1925.7,691.2 L1926.2,689.3 L1926.7,687.3 L1927.2,685.4 L1927.8,683.4 L1928.3,681.5 L1928.9,679.6 L1929.4,677.6 L1930.0,675.7 L1930.6,673.8 L1931.2,671.9 L1931.8,670.0 L1932.4,668.1 L1933.0,666.2 L1933.6,664.3 L1934.2,662.4 L1934.8,660.5 L1935.4,658.6 L1936.0,656.7 L1936.7,654.9 L1937.3,653.0 L1937.9,651.2 L1938.5,649.3 L1939.1,647.4 L1939.7,645.6 L1940.3,643.7 L1941.0,641.9 L1941.6,640.0 L1942.2,638.2 L1942.8,636.3 L1943.4,634.5 L1944.0,632.6 L1944.6,630.8 L1945.2,628.9 L1945.8,627.0 L1946.4,625.1 L1947.0,623.3 L1947.6,621.4 L1948.1,619.5 L1948.7,617.6 L1949.3,615.7 L1949.9,613.8 L1950.4,611.9 L1951.0,609.9 L1951.6,608.0 L1952.1,606.0 L1952.7,604.1 L1953.2,602.1 L1953.7,600.1 L1954.3,598.1 L1954.8,596.1 L1955.3,594.1 L1955.9,592.0 L1956.4,590.0 L1956.9,587.9 L1957.4,585.8 L1957.9,583.7 L1958.4,581.7 L1959.0,579.6 L1959.6,577.7 L1960.3,575.7 L1961.1,573.9 L1962.0,572.2 L1963.0,570.6 L1964.1,569.2 L1965.4,568.0 L1966.8,566.9 L1968.5,566.0 L1970.3,565.3 L1972.3,564.9 L1974.2,565.1 L1975.7,566.4 L1976.7,568.5 L1977.3,571.1 L1977.8,573.7 L1978.2,576.0 L1978.7,577.6 L1979.5,578.0 L1980.5,577.2 L1981.7,575.4 L1983.1,573.2 L1984.4,571.1 L1985.6,569.3 L1986.6,568.6 L1987.3,569.0 L1987.7,570.3 L1988.1,572.4 L1988.5,575.0 L1989.0,577.7 L1989.6,580.3 L1990.6,582.6 L1991.9,584.3 L1993.6,585.5 L1995.5,586.2 L1997.5,586.6 L1999.5,586.9 L2001.3,587.2 L2003.0,587.7 L2004.2,588.6 L2005.1,589.8 L2005.7,591.4 L2006.0,593.2 L2006.2,595.2 L2006.3,597.4 L2006.4,599.6 L2006.6,601.8 L2007.0,603.9 L2007.7,605.8 L2008.7,607.5 L2010.0,608.9 L2011.5,610.2 L2013.2,611.4 L2014.8,612.7 L2016.3,614.0 L2017.6,615.5 L2018.7,617.2 L2019.6,618.9 L2020.4,620.8 L2021.1,622.7 L2021.7,624.7 L2022.3,626.8 L2022.8,628.8 L2023.4,630.7 L2024.2,632.5 L2025.3,634.0 L2026.6,635.2 L2028.3,636.0 L2030.1,636.6 L2032.0,637.2 L2033.8,637.9 L2035.3,638.8 L2036.5,640.0 L2037.4,641.5 L2038.1,643.1 L2038.6,645.0 L2039.0,646.9 L2039.2,649.0 L2039.4,651.1 L2039.6,653.3 L2039.8,655.5 L2039.9,657.6 L2040.2,659.7 L2040.4,661.8 L2040.6,663.9 L2040.9,666.0 L2041.1,668.1 L2041.4,670.1 L2041.7,672.1 L2042.0,674.2 L2042.3,676.2 L2042.7,678.2 L2043.0,680.2 L2043.3,682.1 L2043.7,684.1 L2044.1,686.1 L2044.5,688.0 L2044.8,690.0 L2045.2,691.9 L2045.6,693.9 L2046.1,695.8 L2046.5,697.7 L2046.9,699.6 L2047.3,701.5 L2047.8,703.5 L2048.2,705.4 L2048.6,707.3 L2049.1,709.2 L2049.5,711.1 L2050.0,713.0 L2050.4,714.9 L2050.9,716.8 L2051.3,718.7 L2051.8,720.6 L2052.2,722.6 L2052.7,724.5 L2053.1,726.4 L2053.6,728.3 L2054.0,730.3 L2054.5,732.2 L2054.9,734.2 L2055.4,736.1 L2055.8,738.0 L2056.3,740.0 L2056.7,741.9 L2057.1,743.9 L2057.6,745.9 L2058.0,747.8 L2058.5,749.8 L2058.9,751.7 L2059.4,753.7 L2059.8,755.6 L2060.2,757.6 L2060.7,759.6 L2061.1,761.5 L2061.6,763.5 L2062.0,765.4 L2062.5,767.4 L2062.9,769.3 L2063.4,771.3 L2063.8,773.2 L2064.3,775.2 L2064.8,777.1 L2065.2,779.0 L2065.7,781.0 L2066.2,782.9 L2066.6,784.8 L2067.1,786.7 L2067.5,788.7 L2068.0,790.6 L2068.5,792.5 L2068.9,794.4 L2069.4,796.4 L2069.8,798.3 L2070.3,800.2 L2070.7,802.2 L2071.1,804.1 L2071.6,806.0 L2072.0,808.0 L2072.4,809.9 L2072.8,811.8 L2073.2,813.8 L2073.6,815.7 L2074.0,817.7 L2074.4,819.6 L2074.8,821.6 L2075.1,823.5 L2075.5,825.5 L2075.9,827.4 L2076.2,829.4 L2076.5,831.4 L2076.9,833.3 L2077.2,835.3 L2077.5,837.3 L2077.8,839.2 L2078.1,841.2 L2078.4,843.2 L2078.7,845.2 L2078.9,847.1 L2079.2,849.1 L2079.4,851.1 L2079.7,853.1 L2079.9,855.1 L2080.1,857.1 L2080.3,859.1 L2080.5,861.1 L2080.7,863.1 L2080.9,865.1 L2081.1,867.1 L2081.2,869.1 L2081.4,871.1 L2081.5,873.1 L2081.6,875.1 L2081.7,877.1 L2081.8,879.1 L2081.9,881.1 L2082.0,883.1 L2082.1,885.1 L2082.2,887.1 L2082.3,889.2 L2082.4,891.2 L2082.5,893.2 L2082.6,895.2 L2082.7,897.2 L2082.8,899.2 L2082.9,901.2 L2083.0,903.2 L2083.1,905.2 L2083.2,907.2 L2083.4,909.2 L2083.5,911.2 L2083.7,913.2 L2083.9,915.2 L2084.1,917.2 L2084.3,919.2 L2084.5,921.1 L2084.8,923.1 L2085.1,925.1 L2085.4,927.1 L2085.7,929.0 L2086.1,931.0 L2086.4,932.9 L2086.8,934.9 L2087.3,936.8 L2087.7,938.7 L2088.2,940.6 L2088.7,942.6 L2089.2,944.5 L2089.8,946.4 L2090.4,948.3 L2090.9,950.2 L2091.5,952.1 L2092.2,954.0 L2092.8,955.9 L2093.4,957.8 L2094.0,959.7 L2094.7,961.6 L2095.3,963.5 L2095.9,965.4 L2096.6,967.3 L2097.2,969.2 L2097.8,971.1 L2098.4,973.0 L2099.0,974.9 L2099.6,976.8 L2100.2,978.7 L2100.8,980.6 L2101.4,982.5 L2101.9,984.4 L2102.5,986.3 L2103.0,988.3 L2103.5,990.2 L2104.1,992.1 L2104.6,994.0 L2105.1,996.0 L2105.6,997.9 L2106.1,999.8 L2106.6,1001.7 L2107.1,1003.7 L2107.5,1005.6 L2108.0,1007.6 L2108.5,1009.5 L2108.9,1011.4 L2109.4,1013.4 L2109.8,1015.3 L2110.2,1017.3 L2110.7,1019.2 L2111.1,1021.2 L2111.5,1023.1 L2111.9,1025.1 L2112.3,1027.0 L2112.7,1029.0 L2113.1,1030.9 L2113.5,1032.9 L2113.9,1034.8 L2114.3,1036.8 L2114.6,1038.8 L2115.0,1040.7 L2115.4,1042.7 L2115.7,1044.7 L2116.1,1046.6 L2116.5,1048.6 L2116.8,1050.6 L2117.2,1052.5 L2117.5,1054.5 L2117.8,1056.5 L2118.2,1058.4 L2118.5,1060.4 L2118.9,1062.4 L2119.2,1064.3 L2119.5,1066.3 L2119.8,1068.3 L2120.2,1070.3 L2120.5,1072.2 L2120.8,1074.2 L2121.1,1076.2 L2121.5,1078.2 L2121.8,1080.1 L2122.1,1082.1 L2122.4,1084.1 L2122.7,1086.1 L2123.0,1088.1 L2123.4,1090.0 L2123.7,1092.0 L2124.0,1094.0 L2124.3,1096.0 L2124.6,1097.9 L2125.0,1099.9 L2125.3,1101.9 L2125.6,1103.9 L2125.9,1105.8 L2126.3,1107.8 L2126.6,1109.8 L2126.9,1111.8 L2127.3,1113.7 L2127.6,1115.7 L2127.9,1117.7 L2128.3,1119.6 L2128.6,1121.6 L2129.0,1123.6 L2129.3,1125.6 L2129.7,1127.5 L2130.0,1129.5 L2130.4,1131.5 L2130.7,1133.4 L2131.1,1135.4 L2131.5,1137.3 L2131.9,1139.3 L2132.3,1141.3 L2132.6,1143.2 L2133.0,1145.2 L2133.4,1147.1 L2133.8,1149.1 L2134.2,1151.1 L2134.7,1153.0 L2135.1,1155.0 L2135.5,1156.9 L2135.9,1158.8 L2136.4,1160.8 L2136.8,1162.7 L2137.3,1164.7 L2137.7,1166.6 L2138.2,1168.6 L2138.7,1170.5 L2139.2,1172.4 L2139.7,1174.4 L2140.2,1176.3 L2140.7,1178.2 L2141.2,1180.1 L2141.7,1182.1 L2142.3,1184.0 L2142.8,1185.9 L2143.3,1187.8 L2143.9,1189.7 L2144.5,1191.6 L2145.1,1193.6 L2145.6,1195.5 L2146.2,1197.4 L2146.8,1199.3 L2147.4,1201.2 L2148.0,1203.1 L2148.5,1205.0 L2149.0,1206.9 L2149.5,1208.8 L2149.9,1210.8 L2150.2,1212.7 L2150.6,1214.6 L2150.9,1216.6 L2151.1,1218.5 L2151.3,1220.5 L2151.5,1222.5 L2151.7,1224.4 L2151.9,1226.4 L2152.1,1228.4 L2152.2,1230.4 L2152.4,1232.3 L2152.6,1234.3 L2152.8,1236.3 L2152.9,1238.3 L2153.1,1240.3 L2153.4,1242.2 L2153.6,1244.2 L2153.8,1246.2 L2154.1,1248.2 L2154.4,1250.2 L2154.6,1252.2 L2154.9,1254.1 L2155.2,1256.1 L2155.6,1258.1 L2155.9,1260.1 L2156.2,1262.0 L2156.6,1264.0 L2156.9,1266.0 L2157.3,1268.0 L2157.7,1269.9 L2158.1,1271.9 L2158.5,1273.9 L2158.9,1275.8 L2159.3,1277.8 L2159.7,1279.8 L2160.2,1281.7 L2160.6,1283.7 L2161.1,1285.6 L2161.6,1287.6 L2162.0,1289.5 L2162.5,1291.5 L2163.0,1293.4 L2163.5,1295.3 L2164.0,1297.3 L2164.5,1299.2 L2165.0,1301.1 L2165.6,1303.0 L2166.1,1305.0 L2166.6,1306.9 L2167.2,1308.8 L2167.7,1310.7 L2168.3,1312.6 L2168.8,1314.5 L2169.4,1316.4 L2169.9,1318.3 L2170.5,1320.3 L2171.1,1322.2 L2171.6,1324.1 L2172.2,1326.0 L2172.8,1327.9 L2173.4,1329.8 L2173.9,1331.7 L2174.5,1333.6 L2175.1,1335.5 L2175.6,1337.4 L2176.2,1339.3 L2176.8,1341.2 L2177.4,1343.1 L2177.9,1345.0 L2178.5,1346.9 L2179.1,1348.8 L2179.6,1350.8 L2180.2,1352.7 L2180.7,1354.6 L2181.3,1356.5 L2181.8,1358.4 L2182.4,1360.3 L2182.9,1362.3 L2183.4,1364.2 L2183.9,1366.1 L2184.5,1368.0 L2185.0,1370.0 L2185.5,1371.9 L2186.0,1373.9 L2186.5,1375.8 L2186.9,1377.8 L2187.4,1379.7 L2187.9,1381.7 L2188.3,1383.6 L2188.8,1385.6 L2189.2,1387.5 L2189.7,1389.5 L2190.1,1391.5 L2190.6,1393.4 L2191.0,1395.4 L2191.4,1397.4 L2191.9,1399.4 L2192.3,1401.3 L2192.7,1403.3 L2193.2,1405.3 L2193.6,1407.2 L2194.0,1409.2 L2194.5,1411.2 L2194.9,1413.1 L2195.4,1415.1 L2195.8,1417.1 L2196.3,1419.0 L2196.8,1421.0 L2197.2,1422.9 L2197.7,1424.9 L2198.2,1426.8 L2198.7,1428.8 L2199.2,1430.7 L2199.7,1432.7 L2200.2,1434.6 L2200.8,1436.5 L2201.3,1438.4 L2201.9,1440.4 L2202.4,1442.3 L2203.0,1444.2 L2203.6,1446.1 L2204.2,1448.0 L2204.9,1449.8 L2205.5,1451.7 L2206.2,1453.6 L2206.9,1455.5 L2207.6,1457.3 L2208.3,1459.2 L2209.0,1461.0 L2209.8,1462.8 L2210.6,1464.6 L2211.4,1466.4 L2212.2,1468.2 L2213.0,1470.0 L2213.9,1471.8 L2214.8,1473.6 L2215.7,1475.3 L2216.7,1477.1 L2217.6,1478.8 L2218.6,1480.5 L2219.6,1482.3 L2220.7,1484.0 L2221.7,1485.6 L2222.8,1487.3 L2223.9,1489.0 L2225.0,1490.7 L2226.1,1492.4 L2227.2,1494.0 L2228.3,1495.7 L2229.3,1497.4 L2230.4,1499.1 L2231.4,1500.8 L2232.3,1502.6 L2233.3,1504.3 L2234.2,1506.0 L2235.0,1507.8 L2235.9,1509.6 L2236.6,1511.4 L2237.3,1513.3 L2237.9,1515.2 L2238.5,1517.1 L2238.9,1519.0 L2239.4,1520.9 L2239.8,1522.9 L2240.1,1524.9 L2240.5,1526.8 L2240.9,1528.8 L2241.3,1530.7 L2241.8,1532.5 L2242.4,1534.4 L2243.1,1536.2 L2243.8,1537.9 L2244.7,1539.5 L2245.7,1541.1 L2246.8,1542.6 L2248.0,1544.1 L2249.2,1545.5 L2250.6,1546.9 L2252.0,1548.3 L2253.4,1549.7 L2254.9,1551.0 L2256.4,1552.4 L2257.9,1553.7 L2259.4,1555.1 L2260.9,1556.4 L2262.4,1557.8 L2263.9,1559.2 L2265.3,1560.7 L2266.7,1562.2 L2268.0,1563.7 L2269.2,1565.3 L2270.4,1567.0 L2271.5,1568.7 L2272.6,1570.4 L2273.6,1572.2 L2274.6,1574.0 L2275.6,1575.7 L2276.6,1577.5 L2277.6,1579.3 L2278.6,1581.1 L2279.5,1582.8 L2280.5,1584.6 L2281.6,1586.3 L2282.6,1587.9 L2283.7,1589.5 L2284.9,1591.1 L2286.1,1592.5 L2287.4,1594.0 L2288.7,1595.3 L2290.1,1596.5 L2291.7,1597.7 L2293.2,1598.8 L2294.9,1599.8 L2296.7,1600.7 L2298.4,1601.5 L2300.3,1602.3 L2302.2,1603.1 L2304.1,1603.8 L2306.1,1604.5 L2308.1,1605.1 L2310.1,1605.8 L2312.1,1606.4 L2314.1,1607.0 L2316.1,1607.6 L2318.1,1608.3 L2320.1,1608.9 L2322.1,1609.6 L2324.0,1610.3 L2325.9,1611.0 L2327.7,1611.8 L2329.5,1612.7 L2331.3,1613.6 L2332.9,1614.6 L2334.5,1615.7 L2336.0,1616.8"/>
</g>
<rect x="107.7" y="26.7" width="729.7" height="1620.0" fill="none" stroke="#000" stroke-width="2.6"/>
<rect x="862.2" y="26.7" width="729.9" height="1620.0" fill="none" stroke="#000" stroke-width="2.6"/>
<rect x="1607.0" y="26.7" width="729.6" height="1620.0" fill="none" stroke="#000" stroke-width="2.6"/>
<path d="M281.3,28.0V43.0M281.3,1648.0V1665.5M513.4,28.0V43.0M513.4,1648.0V1665.5M745.5,28.0V43.0M745.5,1648.0V1665.5M165.2,28.0V33.0M165.2,1648.0V1656.2M397.4,28.0V33.0M397.4,1648.0V1656.2M629.5,28.0V33.0M629.5,1648.0V1656.2M956.6,28.0V43.0M956.6,1648.0V1665.5M1196.2,28.0V43.0M1196.2,1648.0V1665.5M1435.4,28.0V43.0M1435.4,1648.0V1665.5M1076.4,28.0V33.0M1076.4,1648.0V1656.2M1315.8,28.0V33.0M1315.8,1648.0V1656.2M1555.0,28.0V33.0M1555.0,1648.0V1656.2M1745.9,28.0V43.0M1745.9,1648.0V1665.5M1914.4,28.0V43.0M1914.4,1648.0V1665.5M2083.1,28.0V43.0M2083.1,1648.0V1665.5M2252.0,28.0V43.0M2252.0,1648.0V1665.5M1634.2,28.0V33.0M1634.2,1648.0V1656.2M1690.4,28.0V33.0M1690.4,1648.0V1656.2M1802.1,28.0V33.0M1802.1,1648.0V1656.2M1858.3,28.0V33.0M1858.3,1648.0V1656.2M1970.6,28.0V33.0M1970.6,1648.0V1656.2M2026.8,28.0V33.0M2026.8,1648.0V1656.2M2139.5,28.0V33.0M2139.5,1648.0V1656.2M2195.7,28.0V33.0M2195.7,1648.0V1656.2M2308.4,28.0V33.0M2308.4,1648.0V1656.2" stroke="#000" stroke-width="2.5" fill="none"/>
<g font-family="Liberation Sans, Arial, sans-serif" font-weight="bold" font-size="53" text-anchor="middle" fill="#000">
<text x="281.3" y="1712.6">1.62</text>
<text x="513.4" y="1712.6">1.64</text>
<text x="745.5" y="1712.6">1.66</text>
<text x="956.6" y="1712.6">2.08</text>
<text x="1196.2" y="1712.6">2.10</text>
<text x="1435.4" y="1712.6">2.12</text>
<text x="1745.9" y="1712.6">5.16</text>
<text x="1914.4" y="1712.6">5.22</text>
<text x="2083.1" y="1712.6">5.28</text>
<text x="2252.0" y="1712.6">5.34</text>
</g>
<text transform="translate(127.7,94.5) scale(1.085,1)" font-family="Liberation Sans, Arial, sans-serif" font-weight="bold" font-size="61.6">(a)</text>
<text transform="translate(882.2,94.7) scale(1.085,1)" font-family="Liberation Sans, Arial, sans-serif" font-weight="bold" font-size="61.6">(b)</text>
<text transform="translate(1629.1,109.7) scale(1.085,1)" font-family="Liberation Sans, Arial, sans-serif" font-weight="bold" font-size="61.6">(c)</text>
<rect x="752" y="216" width="290" height="308" fill="#ffffff"/>
<path d="M762,264.8H870.8" stroke="#000000" stroke-width="7.4"/>
<path d="M759.2,264.8H873.5" stroke="#000000" stroke-width="2.5"/>
<text x="880.4" y="279.0" font-family="Liberation Serif, Times New Roman, serif" font-size="61.3" fill="#000" stroke="#fff" stroke-width="1.5">84 K</text>
<path d="M762,341.8H870.8" stroke="#ff0000" stroke-width="7.4"/>
<path d="M759.2,341.8H873.5" stroke="#ff0000" stroke-width="2.5"/>
<text x="880.4" y="356.0" font-family="Liberation Serif, Times New Roman, serif" font-size="61.3" fill="#000" stroke="#fff" stroke-width="1.5">188 K</text>
<path d="M762,416.2H870.8" stroke="#0000ff" stroke-width="7.4"/>
<path d="M759.2,416.2H873.5" stroke="#0000ff" stroke-width="2.5"/>
<text x="880.4" y="430.4" font-family="Liberation Serif, Times New Roman, serif" font-size="61.3" fill="#000" stroke="#fff" stroke-width="1.5">250 K</text>
<path d="M762,493.1H870.8" stroke="#ff00ff" stroke-width="7.4"/>
<path d="M759.2,493.1H873.5" stroke="#ff00ff" stroke-width="2.5"/>
<text x="880.4" y="507.3" font-family="Liberation Serif, Times New Roman, serif" font-size="61.3" fill="#000" stroke="#fff" stroke-width="1.5">320 K</text>
<text transform="translate(587.2,1075.8) rotate(-90) scale(0.925,1)" font-family="Liberation Serif, Times New Roman, serif" font-size="92.3">200</text>
<text transform="translate(1327.0,1075.7) rotate(-90) scale(0.925,1)" font-family="Liberation Serif, Times New Roman, serif" font-size="92.3">002</text>
<text transform="translate(2029.1,1075.7) rotate(-90) scale(0.925,1)" font-family="Liberation Serif, Times New Roman, serif" font-size="92.3">020</text>
<text transform="translate(74.1,1155.4) rotate(-90) scale(0.855,1)" font-family="Liberation Sans, Arial, sans-serif" font-size="77" stroke="#fff" stroke-width="0.6">Intensity (arb. units)</text>
<g font-size="63" font-weight="bold" fill="#000">
<text transform="translate(1039.5,1782.7) scale(0.969,1)" font-family="Liberation Sans, Arial, sans-serif">d spacing</text>
<text x="1342.4" y="1782.7" font-family="Liberation Sans, Arial, sans-serif">(</text>
<text transform="translate(1361.2,1782.7) scale(1.058,1)" font-family="Liberation Serif, Times New Roman, serif">Å</text>
<text x="1414.1" y="1782.7" font-family="Liberation Sans, Arial, sans-serif">)</text>
</g>
</svg>
</body></html>
